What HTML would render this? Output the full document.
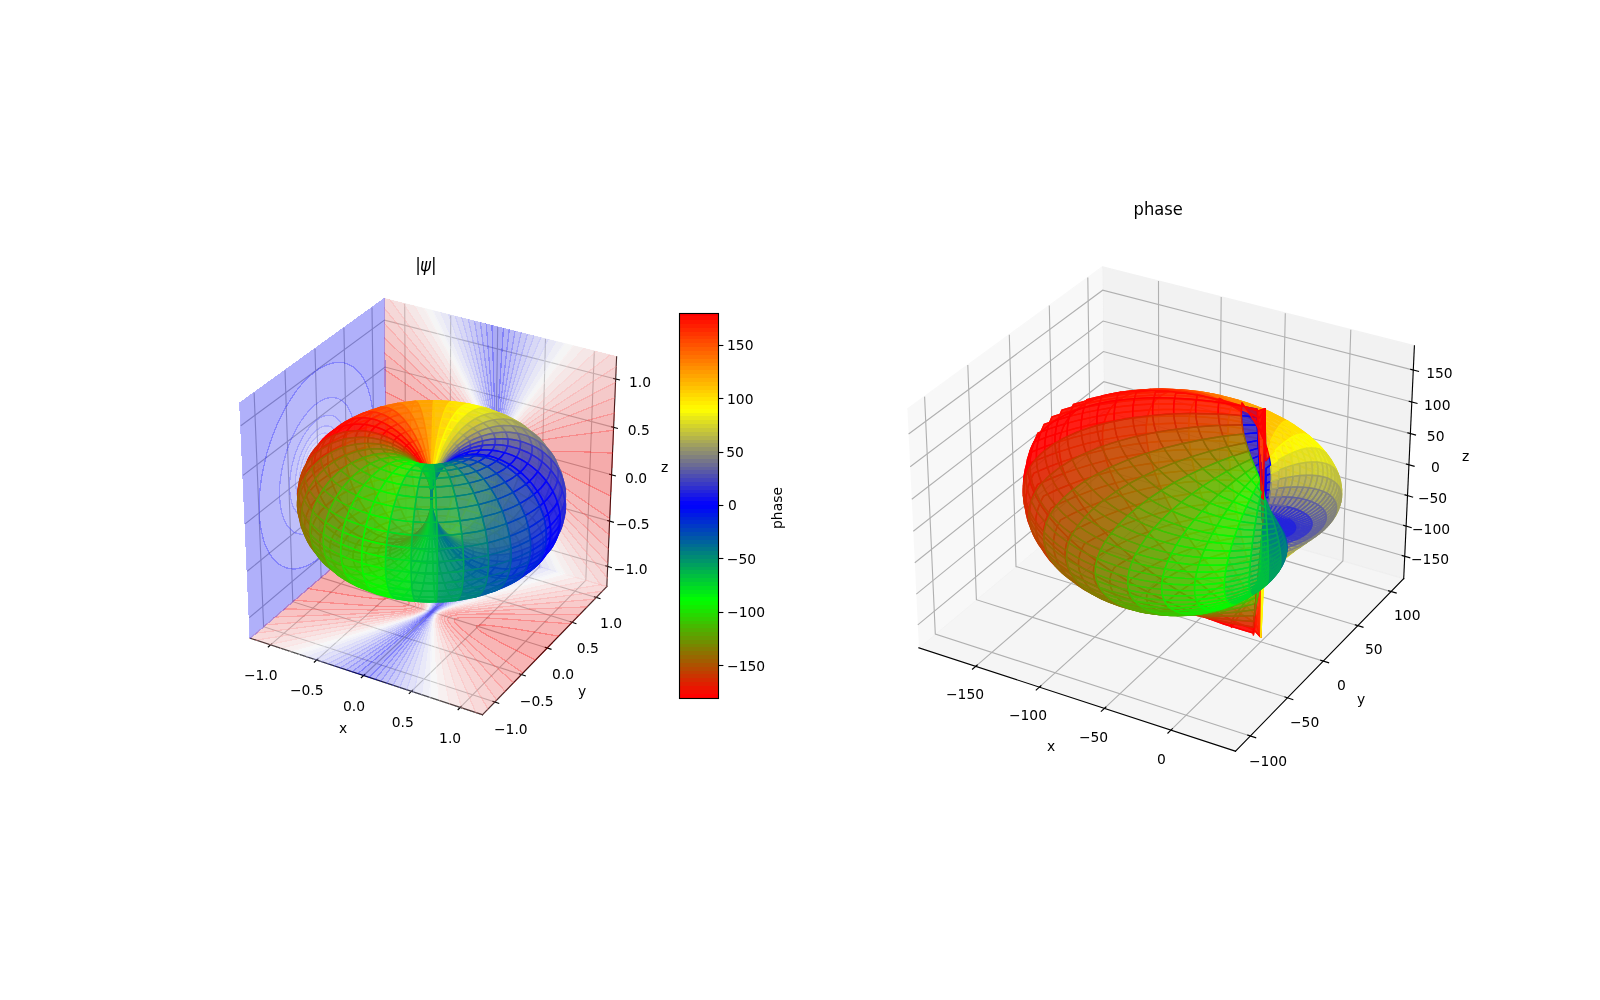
<!DOCTYPE html>
<html><head><meta charset="utf-8"><title>psi phase plot</title>
<style>
html,body{margin:0;padding:0;background:#fff;overflow:hidden}
body{position:relative;width:1600px;height:1000px}
svg{display:block}
.T{position:absolute;left:0;top:0;will-change:transform}
svg{font-family:"DejaVu Sans","Liberation Sans",sans-serif;font-size:13.889px}
text{fill:#000}
.S path{fill-opacity:.7;stroke-width:1.389;stroke-linejoin:round}
.C path{opacity:.3;stroke-width:1.3;shape-rendering:crispEdges}
.a{fill:#ffa500;stroke:#ffa500}
.b{fill:#ffc400;stroke:#ffc400}
.c{fill:#ff8600;stroke:#ff8600}
.d{fill:#ffe300;stroke:#ffe300}
.e{fill:#ff7100;stroke:#ff7100}
.f{fill:#fcfc03;stroke:#fcfc03}
.g{fill:#ff4800;stroke:#ff4800}
.h{fill:#dede21;stroke:#dede21}
.i{fill:#ff2900;stroke:#ff2900}
.j{fill:#bfbf40;stroke:#bfbf40}
.k{fill:#ff0a00;stroke:#ff0a00}
.l{fill:#a0a05f;stroke:#a0a05f}
.m{fill:#f00;stroke:#f00}
.n{fill:#81817e;stroke:#81817e}
.o{fill:#d62900;stroke:#d62900}
.p{fill:#62629d;stroke:#62629d}
.q{fill:#c13e00;stroke:#c13e00}
.r{fill:#b74800;stroke:#b74800}
.s{fill:#3939c6;stroke:#3939c6}
.t{fill:#986700;stroke:#986700}
.u{fill:#2424db;stroke:#2424db}
.v{fill:#837c00;stroke:#837c00}
.w{fill:#0505fa;stroke:#0505fa}
.x{fill:#0005fa;stroke:#0005fa}
.y{fill:#5aa500;stroke:#5aa500}
.z{fill:#0024db;stroke:#0024db}
.aa{fill:#3bc400;stroke:#3bc400}
.ab{fill:#0043bc;stroke:#0043bc}
.ac{fill:#1ce300;stroke:#1ce300}
.ad{fill:#00629d;stroke:#00629d}
.ae{fill:#08f700;stroke:#08f700}
.af{fill:#00817e;stroke:#00817e}
.ag{fill:#00de21;stroke:#00de21}
.ah{fill:#00a05f;stroke:#00a05f}
.ai{fill:#00bf40;stroke:#00bf40}
.aj{fill:#46b900;stroke:#46b900}
</style></head>
<body>
<svg width="1600" height="1000" viewBox="0 0 1600 1000">
<defs><linearGradient id="cb" x1="0" y1="0" x2="0" y2="1"><stop offset="0" stop-color="#f00"/><stop offset=".25" stop-color="#ff0"/><stop offset=".5" stop-color="#00f"/><stop offset=".75" stop-color="#0f0"/><stop offset="1" stop-color="#f00"/></linearGradient></defs>
<path fill="#f2f2f2" opacity="0.5" stroke="#f2f2f2" stroke-width="1.389" stroke-linejoin="miter" d="M250.2 638.2l136.4-116.8-2.4-222.7-144.4 104.3"/>
<path fill="#e6e6e6" opacity="0.5" stroke="#e6e6e6" stroke-width="1.389" stroke-linejoin="miter" d="M386.6 521.4l220.2 65.1 9.8-229.7-232.4-58.1"/>
<path fill="#ececec" opacity="0.5" stroke="#ececec" stroke-width="1.389" stroke-linejoin="miter" d="M250.2 638.2l232.3 76.5 124.3-128.2-220.2-65.1"/>
<path fill="none" stroke="#b0b0b0" stroke-width="1.111" d="M270.6 644.9l135.4-117.8-1.3-223.3"/>
<path fill="none" stroke="#b0b0b0" stroke-width="1.111" d="M316.6 660.1l133.2-120 .9-224.7"/>
<path fill="none" stroke="#b0b0b0" stroke-width="1.111" d="M363.6 675.5l130.7-122.3 3.4-226.1"/>
<path fill="none" stroke="#b0b0b0" stroke-width="1.111" d="M411.4 691.3l128.2-124.6 5.9-227.6"/>
<path fill="none" stroke="#b0b0b0" stroke-width="1.111" d="M460.3 707.4l125.5-127.1 8.5-229"/>
<path fill="none" stroke="#b0b0b0" stroke-width="1.111" d="M254.1 392.7l9.5 234 231.2 75.3"/>
<path fill="none" stroke="#b0b0b0" stroke-width="1.111" d="M285 370.3l7.8 231.4 228.7 72.9"/>
<path fill="none" stroke="#b0b0b0" stroke-width="1.111" d="M315 348.7l6.1 228.8 226.1 70.5"/>
<path fill="none" stroke="#b0b0b0" stroke-width="1.111" d="M343.9 327.8l4.6 226.2 223.7 68.3"/>
<path fill="none" stroke="#b0b0b0" stroke-width="1.111" d="M372 307.6l3 223.7 221.3 66.2"/>
<path fill="none" stroke="#b0b0b0" stroke-width="1.111" d="M607.7 566.5l-221.3-64.6-137.1 115.8"/>
<path fill="none" stroke="#b0b0b0" stroke-width="1.111" d="M609.6 521.1l-223.7-63.2-138.7 113.4"/>
<path fill="none" stroke="#b0b0b0" stroke-width="1.111" d="M611.6 474.8l-226.1-61.9-140.4 111"/>
<path fill="none" stroke="#b0b0b0" stroke-width="1.111" d="M613.6 427.4l-228.6-60.4-142 108.4"/>
<path fill="none" stroke="#b0b0b0" stroke-width="1.111" d="M615.6 379l-231.1-58.9-143.7 105.6"/>
<path fill="none" stroke="#000" stroke-width="1.111" stroke-linecap="square" d="M250.2 638.2l232.3 76.5"/>
<path fill="none" stroke="#000" stroke-width="1.111" stroke-linecap="square" d="M271.8 643.9l-3.5 3"/>
<path fill="none" stroke="#000" stroke-width="1.111" stroke-linecap="square" d="M317.8 659l-3.5 3.1"/>
<path fill="none" stroke="#000" stroke-width="1.111" stroke-linecap="square" d="M364.7 674.5l-3.4 3.1"/>
<path fill="none" stroke="#000" stroke-width="1.111" stroke-linecap="square" d="M412.6 690.2l-3.4 3.3"/>
<path fill="none" stroke="#000" stroke-width="1.111" stroke-linecap="square" d="M461.4 706.3l-3.3 3.3"/>
<path fill="none" stroke="#000" stroke-width="1.111" stroke-linecap="square" d="M606.8 586.5l-124.3 128.2"/>
<path fill="none" stroke="#000" stroke-width="1.111" stroke-linecap="square" d="M492.9 701.4l5.8 1.9"/>
<path fill="none" stroke="#000" stroke-width="1.111" stroke-linecap="square" d="M519.6 674l5.7 1.8"/>
<path fill="none" stroke="#000" stroke-width="1.111" stroke-linecap="square" d="M545.3 647.4l5.7 1.8"/>
<path fill="none" stroke="#000" stroke-width="1.111" stroke-linecap="square" d="M570.3 621.7l5.6 1.8"/>
<path fill="none" stroke="#000" stroke-width="1.111" stroke-linecap="square" d="M594.4 596.9l5.6 1.7"/>
<path fill="none" stroke="#000" stroke-width="1.111" stroke-linecap="square" d="M606.8 586.5l9.8-229.7"/>
<path fill="none" stroke="#000" stroke-width="1.111" stroke-linecap="square" d="M605.8 565.9l5.6 1.7"/>
<path fill="none" stroke="#000" stroke-width="1.111" stroke-linecap="square" d="M607.7 520.6l5.7 1.6"/>
<path fill="none" stroke="#000" stroke-width="1.111" stroke-linecap="square" d="M609.7 474.3l5.7 1.5"/>
<path fill="none" stroke="#000" stroke-width="1.111" stroke-linecap="square" d="M611.7 426.9l5.7 1.5"/>
<path fill="none" stroke="#000" stroke-width="1.111" stroke-linecap="square" d="M613.7 378.5l5.8 1.4"/>
<g class="C">
<path fill="#0c0cff" stroke="#0c0cff" d="M489 549.5l5.4-84.2 1.1-22.3-.4-22.9-3.1-94.4 11.4 2.8-5.9 92.3-1.1 22.5 .4 22.7 2.9 88.8-10.8-3.2z"/>
<path fill="#2424ff" stroke="#2424ff" d="M483.7 547.9l9.7-84.3 1.1-11.8 .5-8.9-.2-9.2-.8-12.4-7.8-97.1 5.8 1.5 3.1 94.4 .4 22.9-1.1 22.3-5.5 86.3-5.5-1.6zM497.4 486.3l-1-34 .1-13.5 1.4-24.8 5.5-85.5 5.8 1.5-10.7 92.5-1.3 14.2-.4 9 1.1 19.1 7.3 91.7-5.5-1.7z"/>
<path fill="#3c3cff" stroke="#3c3cff" d="M478.3 546.3l13.7-81.7 1.9-13 .7-8.8-.4-9.2-1.6-14.2-12.2-96.6 5.8 1.4 7.8 97.1 .8 12.4 .2 9.2-.5 8.9-1.1 11.8-10 86.4-5.5-1.6zM497.8 464l-1-18.3 .5-11.3 2.9-26.7 9-77.7 5.8 1.4-15.4 92.2-1.9 13.2-.4 9 .7 10.2 2 17.3 10.7 84.8-5.5-1.6z"/>
<path fill="#5454ff" stroke="#5454ff" d="M472.4 546.5l18.7-83.9 2.5-13.3 .5-6.7-.3-6.9-2.1-14.6-17.2-99.8 5.9 1.5 12.2 96.6 1.6 14.2 .4 9.2-.7 8.8-1.9 13-14.1 83.8-5.6-1.7zM497.9 455l-.5-6.9-.1-4.6 .2-4.5 .9-7.6 5.1-31.7 11.5-68.3 6.1 1.5-20.3 90.6-2.5 13.5-.5 6.6 .3 7 2 14.5 16.3 94.7-5.7-1.7-8.7-68.8z"/>
<path fill="#6c6cff" stroke="#6c6cff" d="M467.1 543l21.7-76.6 3.7-15.1 .8-4.3 .3-4.5-.2-4.6-.6-4.7-3.3-17.3-21.1-96.1 6.1 1.5 17.2 99.8 2.1 14.6 .3 6.9-.5 6.7-2.5 13.3-18.8 84.1-5.8-1.7zM498.1 450.5l-.3-4.6 0-4.5 .5-4.4 1.5-8.7 6-27.5 15.3-67.9 6.2 1.6-24.2 85-3.8 15.5-.7 4.3-.4 4.5 .2 4.6 .7 4.7 3.2 17.1 20 91.3-5.9-1.7-14.2-82.3-2.5-15.2z"/>
<path fill="#8686ff" stroke="#8686ff" d="M461.2 541.3l18.4-52.5 9.3-27.5 2.9-10.2 .9-4.3 .4-4.4-.3-4.6-.7-4.8-2.7-11.9-8.7-33.4-18.6-69.5 6.3 1.6 21.1 96.1 3.3 17.3 .6 4.7 .2 4.6-.3 4.5-.8 4.3-3.7 15.1-22.3 78.6-5.9-1.8zM499.9 457.8l-1.2-7.1-.4-4.6-.1-2.3 .4-4.5 2.1-10.4 4.9-18.2 21.7-76.2 6.5 1.6-21 60-9.7 28.7-3.1 10.4-.8 4.3-.4 4.4 .2 4.6 .8 4.8 2.6 11.8 8.5 32.6 17.6 65.7-6.2-1.9-15.8-71.8z"/>
<path fill="#9e9eff" stroke="#9e9eff" d="M455 539.8l22.4-53.5 9.2-22.7 2.3-6.1 2.4-7.1 .8-3.8 .5-4.4-.3-4.6-.8-4.2-4.3-15.9-8.7-28.4-23-72.6 6.6 1.7 18.6 69.5 8.7 33.4 2.7 11.9 .7 4.8 .3 4.6-.4 4.4-.9 4.3-2.9 10.2-9.3 27.5-19 54.4-6.3-1.8zM500.2 455.6l-.9-4.7-.5-4.7 0-2.3 .4-4.4 1.4-6.8 7.3-22.4 25.9-74.2 6.8 1.7-25.6 60.9-9.6 23.7-2.4 6.3-2.4 7.2-.8 3.7-.5 4.5 .3 4.6 .7 4.1 4.3 15.8 8.5 27.8 21.8 68.9-6.4-1.9-21.9-81.8z"/>
<path fill="#b6b6ff" stroke="#b6b6ff" d="M448.5 537.8l26.7-53.9 11.5-24.1 2.3-5.4 2-5.8 .5-2.1 .5-4.4-.3-4.7-.5-2.4-1.9-6.9-2.1-6.7-11-31.1-27.6-75.5 6.9 1.7 23 72.6 8.7 28.4 4.3 15.9 .8 4.2 .3 4.6-.5 4.4-.8 3.8-2.4 7.1-2.3 6.1-9.2 22.7-23.1 55.1-6.6-2zM500 451.1l-.6-4.7 0-4.6 1.2-5.9 2.4-7.2 9.6-24.1 28-66.8 7.2 1.8-30.5 61.6-12 25.1-2.4 5.5-2 5.9-.6 2.1-.5 4.4 .4 4.6 .5 2.4 1.8 6.9 2.2 6.7 10.7 30.5 26.4 72-6.9-2-28.2-89.6-4.2-14.5z"/>
<path fill="#ceceff" stroke="#ceceff" d="M441.7 535.5l29-50.1 13.7-24.3 2.3-4.5 2.8-6.2 1.4-4.1 .4-2.1 .2-2.3-.5-4.6-1.3-4.9-4.8-13.6-13.2-32.6-30.6-73.3 7.5 1.9 27.6 75.5 11 31.1 2.1 6.7 1.9 6.9 .5 2.4 .3 4.7-.5 4.4-.5 2.1-2 5.8-2.3 5.4-11.5 24.1-27.5 55.5-7.1-2zM500.2 448.8l-.4-4.6 .7-5.3 2.4-7.1 2.4-5.5 12-25.1 30.5-61.6 7.8 2-33.6 57.8-14.4 25.5-2.3 4.6-2.9 6.3-1.4 4.2-.4 2.1-.2 2.3 .5 4.6 1.2 4.9 4.8 13.5 13 32 29.2 70.1-7.3-2.2-32.8-90-6.5-19.2z"/>
<path fill="#e6e6ff" stroke="#e6e6ff" d="M433.4 534.5l32.9-48.7 15.8-24.1 4.6-7.8 2.4-4.6 1-3.2 .7-4.4-.6-4.6-.9-3.8-2.2-6-4.4-10.3-15.5-33.8-34.1-72.3 8 2 30.6 73.3 13.2 32.6 4.8 13.6 1.3 4.9 .5 4.6-.2 2.3-.4 2.1-1.4 4.1-2.8 6.2-2.3 4.5-13.7 24.3-30.1 52-7.6-2.3zM500.4 444.4l.2-2.3 .4-2.1 1.4-4.2 2.9-6.3 2.3-4.6 14.4-25.5 33.6-57.8 8.4 2.1-37.4 55.2-16.7 25.4-4.7 8-2.3 4.7-1.1 3.2-.7 4.4 .5 4.6 1 3.8 2.2 5.9 4.3 10.3 15.3 33.1 32.7 69.5-8-2.3-29.2-70.1-13-32-4.8-13.5-1.2-4.9z"/>
<path fill="#fefeff" stroke="#fefeff" d="M424.8 532.4l39.3-50 11.3-14.6 6.8-9.3 4.6-7 1.8-3.6 .8-2 .7-4.4-.6-4.7-1.7-5-3-7-4.4-9.1-15.5-30.1-40.6-76.9 8.8 2.2 34.1 72.3 15.5 33.8 4.4 10.3 2.2 6 .9 3.8 .6 4.6-.7 4.4-1 3.2-2.4 4.6-4.6 7.8-15.8 24.1-33.3 49.3-8.4-2.5zM502.2 451.7l-1-4.8-.1-2.3 .7-4.4 1.1-3.2 2.3-4.7 4.7-8 21.6-32.6 32.5-48 9.3 2.3-44.4 56.4-16.7 21.9-4.7 6.7-3.2 5.3-1.8 4.1-.5 2.1-.2 2.3 .6 4.6 1.6 5 3 7 4.4 9 15.3 29.8 39.2 74.2-8.8-2.6-43.6-92.9-8.7-20z"/>
<path fill="#ffe6e6" stroke="#ffe6e6" d="M416.3 528.8l43.4-47.3 11.2-12.5 9-10.5 4.6-5.8 2.3-3.5 1.7-3.6 .6-2 .2-2.3-.1-2.3-.6-2.4-1.6-4.5-4.4-9-4.4-8.1-22.3-38.5-41.4-70.2 9.8 2.4 40.6 76.9 15.5 30.1 4.4 9.1 3 7 1.7 5 .6 4.7-.7 4.4-.8 2-1.8 3.6-4.6 7-6.8 9.3-11.3 14.6-39.5 50.2-9.3-2.7zM502.4 449.4l-.6-4.6 .2-2.3 .5-2.1 2.7-5.7 2.3-3.7 7.1-9.9 9.5-12.5 49-62.3 .2-.3 10.5 2.6-45.5 49.5-23.8 26.6-4.7 5.7-4.7 6.7-1.7 3.5-.6 2.1-.3 2.3 .2 2.3 .6 2.4 1.5 4.5 4.4 9 4.4 8 22 38 40.2 68.2-9.9-3-34.8-65.9-17.5-33.7-4.4-8.8-4.4-9.5z"/>
<path fill="#ffcece" stroke="#ffcece" d="M405.7 525.9l49.6-46.2 15.6-14.9 6.8-6.8 4.5-4.9 2.3-2.8 2-3 1-1.9 .6-2.1 .3-2.2-.2-2.3-.6-2.5-.6-1.7-2.2-4.8-4.4-7.9-4.5-7.3-22.3-34.6-50.3-76.5 11.2 2.8 41.4 70.2 22.3 38.5 4.4 8.1 4.4 9 1.6 4.5 .6 2.4 .1 2.3-.2 2.3-.6 2-1.7 3.6-2.3 3.5-4.6 5.8-9 10.5-11.2 12.5-44.4 48.4-10.6-3.2zM502.7 447.3l-.2-2.3 .3-2.3 1.5-4.1 3.2-5.1 4.7-6 9.4-10.9 11.9-13.2 50.3-54.8 12 3-55.2 51.3-23.8 22.7-4.7 4.9-4.7 5.4-2.3 3.6-.6 1.4-.7 2.1-.3 2.2 .2 2.3 .6 2.5 .6 1.7 2.2 4.8 4.4 7.9 4.4 7.2 22.1 34.3 49.2 74.8-11.4-3.3-40.2-68.2-22-38-4.4-8-4.4-9-1.5-4.5z"/>
<path fill="#ffb6b6" stroke="#ffb6b6" d="M392.9 522.6l55.8-43.7 24.5-19.9 6.8-6.1 4.6-5 2.3-4.2 .5-2.9-.4-3.2-2.2-5.4-4.5-7.5-6.6-10-24.6-34.2-58.8-80.3 13 3.3 50.3 76.5 22.3 34.6 4.5 7.3 4.4 7.9 2.2 4.8 .6 1.7 .6 2.5 .2 2.3-.3 2.2-.6 2.1-1 1.9-2 3-2.3 2.8-4.5 4.9-6.8 6.8-15.6 14.9-50.6 47-12.3-3.6zM504.3 450l-.6-2.5-.2-2.3 .3-2.2 .7-2.1 .6-1.4 2.3-3.6 4.7-5.4 9.4-9.5 14.3-13.6 60-55.8 14.1 3.6-64.7 50.6-26.1 21.2-7 6.3-4.7 5.1-2.4 4.2-.5 2.9 .4 3.2 2.2 5.4 4.4 7.5 6.7 9.9 24.4 34 58 79.2-13.4-4-42.6-64.7-24.3-37.4-11-18-2.2-4.1-2.2-4.8z"/>
<path fill="#ff9e9e" stroke="#ff9e9e" d="M386.6 519.3l-.1-6.5 57.9-37.5 15.4-10.2 11.2-7.8 6.8-5.1 4.5-4.2 2.6-3.3 .8-2.1 .4-2.2-.3-2.3-.8-2.5-2.5-4.8-4.4-6.6-6.7-8.9-26.8-33.5-60.3-73.7-.1-9.4 6.1 1.5 63.3 86.4 17.8 24.9 8.9 13.2 2.2 3.5 2.8 5.2 1.7 4.2 .4 3.2-.5 2.9-2.3 4.2-4.6 5-4.5 4.2-9 7.6-15.6 12.5-55.9 43.8-2.6 2.1-5.8-1.7zM504.7 447.8l-.2-2.3 .3-2.2 .8-2.1 1.8-2.8 2.3-2.8 4.7-4.5 14.1-12 28.7-22.8 52.7-41.1 6.7 1.6-.4 9.8-64 41.4-19.1 12.6-11.7 8.1-7 5.3-4.7 4.2-2.7 3.4-.8 2.1-.4 2.2 .3 2.3 .8 2.5 2.5 4.8 4.4 6.6 6.7 8.9 26.7 33.5 60 73.3-.4 8.7-6.2-1.8-.6-.8-53-72.3-26.6-36.9-6.6-9.7-4.5-6.9-2.7-5.2-1.1-2.6z"/>
<path fill="#ff8686" stroke="#ff8686" d="M386.5 510.8l-.1-11.9 55.8-29.1 15.4-8.4 11.2-6.3 6.7-4.2 4.6-3.4 3-3.4 1-1.9 .4-2.2-.3-2.3-1-2.6-2.9-4.9-4.5-5.9-6.7-8-26.7-29.9-57.9-63-.2-15.3 60.3 73.7 26.8 33.5 6.7 8.9 4.4 6.6 2.5 4.8 .8 2.5 .3 2.3-.4 2.2-.8 2.1-2.6 3.3-4.5 4.2-9 6.7-26.6 17.9-55.7 36zM506.9 450.7l-.8-2.5-.3-2.3 .4-2.2 .8-2.1 2.7-3.4 2.3-2.2 4.7-3.8 11.7-8.4 16.6-11.1 71.2-46.1-.7 15.7-63.5 33.1-16.6 8.9-11.8 6.7-7 4.3-4.6 3.5-3.1 3.3-1.1 2-.4 2.2 .3 2.4 1 2.5 2.9 4.9 4.5 6 6.7 8 26.8 30 58.2 63.3-.6 14.4-53.4-65.1-26.6-33.1-13.4-17.5-4.4-6.6z"/>
<path fill="#ff6c6c" stroke="#ff6c6c" d="M386.4 498l-.2-12.9 53.8-21.4 15.4-6.4 11.2-5 6.7-3.4 5.5-3.7 1.9-1.7 1.2-1.9 .5-2.2-.5-2.4-1.1-2.5-1.8-2.8-5.4-6.7-6.7-7.1-26.8-26.5-55.4-53.2-.2-14.8 57.9 63 26.7 29.9 6.7 8 4.5 5.9 2.9 4.9 1 2.6 .3 2.3-.4 2.2-1 1.9-3 3.4-4.6 3.4-6.7 4.2-17.8 9.9-34.9 18.4-29.7 15.5zM508.7 451.2l-1-2.5-.3-2.4 .4-2.2 1.1-2 3.1-3.3 7-5 11.7-6.9 16.5-9 68.3-35.6-.7 15.4-60.7 24-16.5 6.9-11.7 5.2-7 3.5-5.7 3.7-1.9 1.8-1.2 1.9-.5 2.2 .4 2.4 1.2 2.6 1.7 2.7 5.5 6.7 6.7 7.2 26.9 26.7 56.4 54-.6 14.2-49.3-53.5-29-32.2-13.4-15.6-4.5-6z"/>
<path fill="#ff5454" stroke="#ff5454" d="M386.2 483l-.1-12.1 49.5-13.4 15.4-4.4 11.2-3.6 6.7-2.5 5.9-2.9 2.2-1.6 .9-1 .6-.9 .5-2.1-.5-2.4-.5-1.1-3.1-4.4-5.8-6.2-6.7-6.2-26.7-22.9-50.9-42-.1-15.1 55.4 53.2 26.8 26.5 6.7 7.1 5.4 6.7 1.8 2.8 1.1 2.5 .5 2.4-.5 2.2-1.2 1.9-2.9 2.6-6.7 4-9 4.3-26.5 11.1-49.4 19.6zM511.2 451.9l-1.2-2.6-.4-2.4 .5-2.2 1.8-2.5 2.3-2 7-4.1 11.7-5.5 16.5-6.9 65.4-26-.6 15.5-55.5 15-16.6 4.8-11.7 3.6-7 2.6-6 3-2.3 1.6-1 1-.6 .9-.5 2.1 .4 2.4 .6 1.2 3.1 4.4 5.9 6.2 6.7 6.2 27.1 23.2 52.2 43.2-.6 14.6-49.6-47.5-27-26.3-13.4-14.1-4.5-5.3z"/>
<path fill="#ff3c3c" stroke="#ff3c3c" d="M386.1 470l-.2-14.7 43.2-5.8 15.3-2.3 11.1-2.1 8-1.8 3.7-1.3 1.7-.7 1.3-.7 2-1.7 .8-2-.7-2.5-2-2.8-1.3-1.3-5.4-5-7.9-6.3-11.1-8.2-15.6-10.9-44-30.2-.2-16.4 50.9 42 26.7 22.9 6.7 6.2 5.8 6.2 3.1 4.4 .5 1.1 .5 2.4-.5 2.1-.6 .9-.9 1-2.2 1.6-5.9 2.9-6.7 2.5-20 6.1-34.8 9.7-21.3 5.6zM513.4 450.2l-.4-2.4 .5-2.1 1.6-1.9 3.7-2.4 7-3.1 11.6-3.9 16.5-4.9 60.3-16.3-.7 17-48 6.3-16.5 2.5-11.7 2.1-8.3 1.9-3.9 1.3-1.8 .8-1.3 .6-2.1 1.7-.8 2.1 .7 2.5 2 2.8 1.3 1.4 5.4 5 8.1 6.4 11.4 8.3 15.9 11.2 45.8 31.4-.7 16.1-47.7-39.4-27.1-23-9-8.1-5.4-5.3-3.6-4.1-1.3-1.8z"/>
<path fill="#ff2424" stroke="#ff2424" d="M385.9 454.8l-.2-21.1 31.7 1.3 16.7 .2 7-.3 5.8-.7 3.8-1.2 1.3-1.9-1.3-2.6-3.8-3.3-5.7-3.8-7.1-4.2-16.8-9-32.1-16.2-.2-22.3 44 30.2 15.6 10.9 11.1 8.2 7.9 6.3 5.4 5 1.3 1.3 2 2.8 .7 2.5-.8 2-1 1-1 .7-3 1.4-3.7 1.3-8.8 2-14.7 2.6-21.8 3.1-32.3 4.3zM519.8 452l-.7-2.5 .8-2.1 2.1-1.7 3.6-1.6 7.8-2.2 9.8-1.9 16.2-2.6 54.1-7.2-1 22.9-34.9-1.5-17.9-.2-7.6 .2-6 .7-4 1.2-1.4 1.9 1.3 2.6 3.8 3.4 6 3.9 7.3 4.3 17.5 9.4 34.1 17.2-1 22.3-41.3-28.3-27.2-19.3-8.4-6.3-7.5-6.2-3.5-3.6z"/>
<path fill="#ff0c0c" stroke="#ff0c0c" d="M385.7 432.9l-.5-40.9 32.1 16.2 16.8 9 7.1 4.2 5.7 3.8 3.8 3.3 1.3 2.6-1.3 1.9-3.8 1.2-5.8 .7-7 .3-16.7-.2-28-1.1-3.7-.2zM540.7 455.4l1.4-1.9 4-1.2 6-.7 7.6-.2 17.9 .2 34.9 1.5-1.8 43.1-34.1-17.2-17.5-9.4-7.3-4.3-6-3.9-3.8-3.4z"/>
</g>
<g class="C">
<path fill="#0c0cff" stroke="#0c0cff" d="M359.4 672.4l57.8-48.6 13.9-12 12.2-12.4 45.6-47.8 10.8 3.2-54 45.4-13.7 11.9-12.4 12.5-50.3 52.8-11.4-3.8z"/>
<path fill="#2424ff" stroke="#2424ff" d="M353.8 670.5l63.2-47.8 12.3-9.9 5-4.9 7.1-8 42-49.9 5.5 1.6-49.2 51.5-7.3 7.5-5.3 4.8-69.2 58.2-5.8-1.9zM408.5 636.2l18.4-19.2 7.8-7.4 65-54.8 5.5 1.7-59.3 44.8-7.9 6.1-5.5 4.8-4.9 5-6.1 6.9-46.4 55.2-5.8-1.9z"/>
<path fill="#3c3cff" stroke="#3c3cff" d="M348.1 668.6l61.9-42.3 12.2-8.4 6.6-5.2 5-5 5.1-6.4 39-52.9 5.5 1.6-42 49.9-7.1 8-5 4.9-12.3 9.9-64.9 49-5.8-1.9zM421.9 623.7l9.3-10.3 6.8-6 67.2-50.9 5.5 1.6-62.6 42.8-9.4 6.7-5.8 4.7-4.7 5.1-6.2 8-41.1 55.8-5.8-1.9z"/>
<path fill="#5454ff" stroke="#5454ff" d="M340.6 667.7l74.3-45.9 8.8-5.8 4.7-3.4 2.6-2.5 2.2-2.5 5.8-8.2 33.3-52.7 5.6 1.7-39 52.9-5.1 6.4-5 5-6.6 5.2-12.2 8.4-63.7 43.5-5.9-1.9zM427.2 618.7l3.3-3.9 2.4-2.5 2.8-2.3 5.2-4 69.8-47.9 5.7 1.7-68.5 42.4-10.2 6.8-4.3 3.5-3.5 3.8-5.9 8.3-37 58.6-6.1-2 31.3-42.5z"/>
<path fill="#6c6cff" stroke="#6c6cff" d="M336.3 664.8l73.7-41.2 13-7.8 3.4-2.2 2.9-2.4 2.3-2.5 1.9-2.7 5.8-9.7 27.2-51.3 5.8 1.7-33.3 52.7-5.8 8.2-2.2 2.5-2.6 2.5-4.7 3.4-8.8 5.8-74.5 46.1-6.1-2zM429.9 616.3l2.2-2.6 2.6-2.4 3-2.3 6.6-4.5 21.4-13.4 50.7-31.3 5.9 1.7-69.5 39-12.8 7.6-3.3 2.2-2.9 2.3-2.3 2.6-1.9 2.6-6 10.1-30.4 57.4-6.2-2.1 32.3-51.2 5.8-9z"/>
<path fill="#8686ff" stroke="#8686ff" d="M330.2 662.7l82.8-42 9.3-5.1 3.5-2.2 2.9-2.4 2.3-2.5 1.8-2.7 3.5-6.8 8.4-18.7 15.9-37.1 5.9 1.8-21.2 40.2-9.4 17-4.3 6.5-3.7 3.7-6.6 4.5-11.3 6.7-75.7 42.3-6.3-2.1zM427.8 620.6l3.7-5.4 3.7-3.8 6.5-4.4 11.1-6.5 69.5-39 6.2 1.9-78.7 39.8-9.1 5.1-3.4 2.2-2.9 2.3-2.3 2.6-1.8 2.7-3.6 6.9-8.9 19.9-18.1 42.5-6.5-2.1 24.1-45.7z"/>
<path fill="#9e9eff" stroke="#9e9eff" d="M323.4 660.8l85.6-39.2 13.1-6.5 3.1-1.9 3-2.3 2.2-2.6 1.5-2.3 2.2-4.9 1.7-4.3 5.6-16.2 12.9-39.2 6.3 1.8-15.9 37.1-8.4 18.7-3.5 6.8-1.8 2.7-2.3 2.5-2.9 2.4-3.5 2.2-9.3 5.1-85 43.1-6.6-2.2zM429.5 619.4l1.7-2.7 2-2.6 1.2-1.3 2.9-2.3 5.4-3.4 13.9-7.4 71.9-36.3 6.4 1.9-81.1 37-12.9 6.5-3 1.8-3 2.4-2.2 2.5-1.5 2.4-2.3 5-1.7 4.5-5.9 17.2-14.8 45.1-6.8-2.3 22.4-52.4 4.6-10z"/>
<path fill="#b6b6ff" stroke="#b6b6ff" d="M316.5 658.5l67-27.3 27.8-11.7 11.5-5.4 1.8-1.1 3-2.3 2.2-2.6 .8-1.3 1.7-4 1.3-4 4.5-17.9 9.6-41.5 6.6 2-12.9 39.2-5.6 16.2-1.7 4.3-2.2 4.9-1.5 2.3-2.2 2.6-3 2.3-3.1 1.9-13.1 6.5-87.6 40-6.9-2.3zM431.8 616.9l1.9-2.7 2.6-2.4 4.6-3 6.7-3.5 23.8-11.1 61.8-28.2 1.7-.7 6.9 2-63.4 25.9-26.8 11.2-11.3 5.4-1.8 1-3 2.3-2.2 2.6-.8 1.4-1.8 4.1-1.2 4-4.8 19.1-11 47.7-7.2-2.3 19.2-58 3.2-8.8z"/>
<path fill="#ceceff" stroke="#ceceff" d="M309.6 656l67.6-24.7 30.7-11.4 12.1-5.1 3.9-2 3.2-2.3 2-2.6 1.4-2.8 1.3-4.6 .7-3.4 2.9-19.1 5.2-40.6 7.1 2-9.6 41.5-4.5 17.9-1.3 4-1.7 4-.8 1.3-2.2 2.6-3 2.3-1.8 1.1-11.5 5.4-27.8 11.7-69 28.1-7.5-2.4zM433.3 615.7l2.2-2.6 3.7-2.8 6.7-3.3 5.7-2.6 26.8-11.2 63.4-25.9 7.3 2.2-64.6 23.5-29.5 11-11.9 5-3.9 2-3.2 2.3-2 2.6-1.3 2.9-1.4 4.7-.7 3.5-3 20.4-6.1 47.2-7.8-2.6 13.7-59.1 3.3-11.7z"/>
<path fill="#e6e6ff" stroke="#e6e6ff" d="M299.9 654l71.8-23.2 33.2-11 9.9-3.5 5.3-2.2 3.1-1.5 3.2-2.3 2-2.6 1-2.2 .8-3.5 .7-6.2 1-20 1.1-40.7 7.6 2.3-5.2 40.6-2.9 19.1-.7 3.4-1.3 4.6-1.4 2.8-2 2.6-3.2 2.3-3.9 2-12.1 5.1-30.7 11.4-70.2 25.6-8-2.7zM436 613.3l3.2-2.3 3.9-2 11.9-5 29.5-11 64.6-23.5 8 2.3-67.1 21.7-32.1 10.6-9.7 3.5-5.3 2.1-3 1.6-3.2 2.2-2 2.7-1 2.2-.8 3.6-.7 6.4-1 21.4-1.3 47.6-8.4-2.8 6.1-47.2 3-20.4 .7-3.5 1.4-4.7 1.3-2.9z"/>
<path fill="#fefeff" stroke="#fefeff" d="M290.6 651.2l80.6-22.7 31.1-9 9.1-2.9 6.7-2.4 4.3-1.9 3.3-2.2 2-2.6 .5-1.5 .6-2.7 .3-5.8-.2-8.1-.8-12.8-3.5-44 8.4 2.5-1.1 40.7-1 20-.7 6.2-.8 3.5-1 2.2-2 2.6-3.2 2.3-3.1 1.5-5.3 2.2-9.9 3.5-33.2 11-72.7 23.4-8.8-2.9zM434 617.6l1.6-2.8 1.1-1.3 3.2-2.2 3-1.6 10.2-3.9 23.3-7.9 80.7-26.1 8.8 2.6-75.3 21.3-34.5 10.1-9.3 3.1-4.1 1.6-2 1-3.3 2.3-1.9 2.6-.9 3-.5 4.3 0 5.8 1.1 19.4 4.1 51.6-9.4-3.1 1.1-41.4 .8-21.4 1.1-12.6z"/>
<path fill="#ffe6e6" stroke="#ffe6e6" d="M282.3 647.6l84.2-20.4 33.4-8.4 8.6-2.3 9.1-2.8 3.9-1.7 2-1 1.5-1.1 1.1-1.3 .7-1.4 .7-2.7 .1-2.9-.4-5.2-1.4-9.6-2-11.7-8.5-45.2 9.3 2.7 3.5 44 .8 12.8 .2 8.1-.3 5.8-.6 2.7-.5 1.5-2 2.6-3.3 2.2-4.3 1.9-6.7 2.4-9.1 2.9-31.1 9-81 22.8-9.8-3.2zM435.5 616.4l1.9-2.6 3.3-2.3 6.1-2.6 4.8-1.7 30.5-9.1 83.5-23.6 .3-.1 9.9 3-72.5 17.5-40.4 10.2-8.4 2.2-9 2.8-3.9 1.7-2 1-1.4 1.2-1.2 1.3-.6 1.4-.7 2.7 0 5.7 .6 5.2 4.3 25.4 9.1 48.2-10.4-3.4-3.5-43.2-1.5-22.2-.2-11.4 .2-3z"/>
<path fill="#ffcece" stroke="#ffcece" d="M271 644.1l87.4-17.8 39.4-8.3 16.5-4.1 6.2-2.2 2-1 1.5-1.1 1.1-1.3 .7-1.4 .3-1.5 .1-2.5-.3-2.5-.8-4.7-1.7-6.7-4.3-15-14.4-47.3 10.6 3.2 8.5 45.2 2 11.7 1.4 9.6 .4 5.2-.1 2.9-.7 2.7-.7 1.4-1.1 1.3-1.5 1.1-2 1-3.9 1.7-9.1 2.8-8.6 2.3-41.8 10.5-77.7 18.8-11.2-3.7zM437 615.3l1.2-1.3 1.4-1.2 4.1-2 6.4-2.2 8.6-2.4 36.6-9.3 80.5-19.5 11.4 3.3-87.6 17.9-38.6 8.2-8 2-8.2 2.4-4.1 1.9-1.6 1.2-1 1.3-.7 1.4-.3 1.1-.1 2.9 .7 5.1 1 4.8 6.6 23.2 16.5 53.8-12.1-4-9.1-48.2-3.9-22.8-1.1-10.5 .1-3 .7-2.7z"/>
<path fill="#ffb6b6" stroke="#ffb6b6" d="M257.3 640l97.6-16 41.1-7.1 11.5-2.3 8.2-2 5.1-1.8 2.2-1.6 1.3-1.7 .5-3.3-.8-4.8-2.1-6.3-8.7-21.6-20.8-48.4 12.3 3.6 14.4 47.3 4.3 15 1.7 6.7 .8 4.7 .3 2.5-.1 2.5-.3 1.5-.7 1.4-1.1 1.3-1.5 1.1-2 1-6.2 2.2-16.5 4.1-39.4 8.3-89.2 18.1-13-4.2zM437.4 617l.7-1.4 1-1.3 1.6-1.2 1.9-1 6.2-2.2 8.3-2.2 38.7-8.3 91.4-18.7 13.4 4-93.6 15.4-40.1 6.9-11.4 2.2-8.1 2-5 1.9-2.2 1.5-1.4 1.8-.4 3.3 .9 4.9 2.1 6.6 9.5 23.5 25 57.8-14.1-4.6-14.4-46.8-7.4-25.6-1.8-7-1-4.9-.2-2.6 .1-2.9z"/>
<path fill="#ff9e9e" stroke="#ff9e9e" d="M251.7 636.9l4.4-3.8 95.8-11.9 42.5-5.6 10.9-1.7 7.7-1.5 4.9-1.5 2.2-.9 1.6-1.2 1-1.3 .5-1.4-.2-3-1.3-4.3-2.7-5.8-11.6-21.6-25.9-45.7 5.1-4.3 5.8 1.7 20.8 48.4 8.7 21.6 2.1 6.3 .8 4.8-.5 3.3-1.3 1.7-2.2 1.6-5.1 1.8-8.2 2-11.5 2.3-41.1 7.1-97.6 16-1.1 .2-6-2zM439.1 615.9l1.1-1.3 1.5-1.1 2.1-1 3.6-1.3 11.9-2.8 18.6-3.4 122.7-20.3 6.2 1.8-4.6 4.8-91.9 11.4-41.8 5.6-10.8 1.7-7.6 1.5-4.9 1.4-2.1 1-1.6 1.1-1 1.3-.5 1.5 .2 3.1 1.4 4.4 2.8 6 5.1 9.8 8.6 15.6 29.9 52.4-5.5 5.6-6.6-2.2-.3-.6-22.8-53-10.5-25.5-2.4-6.6-1.2-4.5-.3-3.3 .2-1.6z"/>
<path fill="#ff8686" stroke="#ff8686" d="M257.6 631.9l8.1-7 87-7.2 40.4-3.7 10.4-1.2 7.2-1.1 5.4-1.3 2.3-.9 1.7-1.1 1-1.4 .3-1.5-.6-3.1-1.8-3.9-3.1-5.3-13.6-19.9-29.1-40.4 8.3-7.2 21.1 37 11.7 21.1 6.5 13 1.6 4.1 .6 2.2 .2 2.5-.5 1.9-1 1.3-1.6 1.2-2.8 1.2-4.3 1.2-7.7 1.5-14.5 2.2-24.8 3.3-109.9 13.7zM440 617.8l.5-1.5 1-1.3 1.6-1.1 2.1-1 4.9-1.4 11.2-2.1 42.1-5.8 98.8-12.3-7.6 7.9-84.8 7-39.9 3.7-10.3 1.2-7.2 1.1-5.4 1.3-2.3 .9-1.7 1.1-.9 1.3-.3 1.6 .6 3.2 1.9 4 3.3 5.5 6 9 8.7 12.5 34.4 47.5-8.7 9-26.6-46.5-14-25.4-5.8-11.9-1.4-4.4z"/>
<path fill="#ff6c6c" stroke="#ff6c6c" d="M266.3 624.4l8.7-7.4 78.9-3 38.3-1.9 9.8-.8 8.6-1 3.1-.7 2.5-.8 1.8-1.1 .8-1.4 .1-1.6-.4-1.7-2.5-4.5-3.6-4.9-6.4-7.7-9.1-10.4-32-35.5 8.3-7.1 25.7 35.6 13.6 19.6 6.5 10.4 1.8 3.9 .5 2.2-.2 2.4-1 1.4-1.7 1.1-5.1 1.6-9.8 1.7-20.6 2.2-36.8 3.3-80.4 6.6zM441.8 618.4l.3-1.6 .9-1.3 1.7-1.1 2.3-.9 5.4-1.3 10.6-1.6 40.2-3.9 91.4-7.5-7.5 7.7-78.1 3-38.1 1.8-9.8 .8-8.5 1.1-3.1 .6-2.5 .9-1.8 1.1-.8 1.4-.1 1.6 .5 1.8 2.6 4.6 3.8 5.1 6.8 8.1 9.9 11.4 37.3 41.2-8.5 8.7-29.2-40.3-16.3-23.3-6.9-10.9-1.9-4z"/>
<path fill="#ff5454" stroke="#ff5454" d="M276.4 615.8l7.9-6.8 68.2 .8 36.1 0 9.3-.2 8.6-.6 5.1-1 1.2-.3 1.8-1.1 .8-1.3 0-.7-.1-1-.9-1.9-3.2-4.2-4.2-4.4-17.4-16.3-33.2-29.5 8.5-7.3 28.1 31.1 15.6 17.9 7.4 9.5 2.1 3.6 .8 2.6-.1 1.6-.8 1.4-1.8 1.1-3.5 1-3.8 .7-10.2 1.1-16.2 1.1-22.3 1-85.2 3.3zM444.3 619.2l.1-1.6 .8-1.4 1.8-1.1 3.5-1.1 3.7-.7 10.2-1.1 35.2-1.9 87.5-3.4-7.8 8-68.5-.9-36.2 0-9.3 .3-8.6 .6-5.1 .9-1.2 .4-1.8 1-.8 1.4 0 .8 .2 .9 .9 2 3.4 4.3 4.4 4.6 18.8 17.6 38.2 33.8-8.5 8.8-33-36.4-17-19.4-7.8-10-2.2-3.7z"/>
<path fill="#ff3c3c" stroke="#ff3c3c" d="M284.9 608.4l9.6-8.2 55.2 4.1 33.7 2.1 10.4 .3 7.5-.2 5.2-.8 2.1-.9 .6-1.5-.7-1.8-.7-.9-3.4-3.6-5.5-4.6-19.5-14.4-32.5-22.6 9.5-8.1 30.3 26.8 17.5 16.2 4.2 4.2 4.1 4.5 2.3 3.4 .6 2.2 0 .7-.8 1.3-1.8 1.1-1.2 .3-5.1 1-11.7 .7-21.3 .2-38.8-.3-50.4-.6zM447.8 618.6l.8-1.4 1.8-1 2.8-.8 5.6-.7 9.6-.5 33.4-.2 77.5 .9-8.6 8.9-56.5-4.2-34.2-2.1-10.5-.3-7.5 .2-5.2 .7-2.1 1-.5 1.5 .7 1.9 .8 1 3.5 3.6 5.9 4.9 8.6 6.5 12.4 8.9 36.9 25.6-9.3 9.6-35-30.9-19-17.5-5.9-6-3.3-3.8-2-2.9-.5-1.2z"/>
<path fill="#ff2424" stroke="#ff2424" d="M294.8 600l13.4-11.5 36.7 6 19.4 2.9 15.5 1.6 5.2 0 2.6-.8 0-1.6-2.4-2.4-4.4-2.9-5.8-3.4-14-7.5-27.2-13.8 13.1-11.2 32.5 22.6 18.9 13.9 6.1 5.1 2.4 2.4 1.7 2.1 .7 1.8-.6 1.5-2.1 .9-3.3 .6-5 .3-9.9-.1-18.4-.9-20.2-1.3-55.2-4.1zM454.2 620.6l.5-1.5 2.1-1 3.3-.6 5.1-.3 9.9 .1 31.9 1.8 63.7 4.7-11.9 12.3-38.5-6.4-20.2-3-16-1.7-5.2 .1-2.6 .8 .1 1.6 2.6 2.5 4.7 3.2 6.2 3.5 15.2 8.1 30.4 15.3-12.5 12.9-33.2-23.1-21.3-15.3-6.2-4.9-5.3-4.7-2.1-2.5z"/>
<path fill="#ff0c0c" stroke="#ff0c0c" d="M308.8 588l25-21.4 27.2 13.8 14 7.5 5.8 3.4 4.4 2.9 2.4 2.4 0 1.6-2.6 .8-5.2 0-15.5-1.6-19.4-2.9-32.4-5.3-4.3-.7zM476.3 625.9l2.6-.8 5.2-.1 16 1.7 20.2 3 38.5 6.4-23.3 24-30.4-15.3-15.2-8.1-6.2-3.5-4.7-3.2-2.6-2.5z"/>
</g>
<g class="C">
<path fill="#0c0cff" stroke="#0c0cff" d="M250.1 635.9l-10.3-232.9 144.4-104.3 2.4 222.7-136.4 116.8zM260.9 528.5l2.2 9.9 2.5 7.4 3.3 6.8 2 3.1 2.1 2.9 2.5 2.7 2.7 2.3 2.2 1.6 3.1 1.6 2.9 1.1 3 .7 2.9 .3 2.9 0 5.8-1 2.8-.8 4.3-1.8 6.9-4 6.9-5.4 6.8-6.7 6.7-8 6.6-9.5 5.3-8.8 5.2-10.1 5.1-11.7 4.1-11 3.8-12 2.8-11.2 2.6-13.2 1.6-12.5 .7-11.8-.1-11.2-.9-10.7-1.7-10.1-2.7-9.4-3-6.9-1.8-3.3-2.1-3.2-2.3-2.8-2.6-2.7-2.1-1.7-2.8-1.8-2.8-1.4-4.2-1.3-4.3-.6-4.2 .2-4.3 .8-4.3 1.4-4.2 2-4.3 2.5-4.3 3.1-4.3 3.6-4.4 4.2-4.3 4.7-4.3 5.4-4.3 6-7.2 11.6-3.8 7.3-3.3 6.8-3.5 8.1-2.6 6.9-2.4 6.7-2.9 9.6-3.6 15.1-1.6 8.5-1.2 8.3-.8 7.9-.4 7.6-.1 7.4 .2 7 .5 6.8z"/>
<path fill="#2626ff" stroke="#2626ff" d="M260.9 528.3l-1-6.5-.5-6.8-.2-7 .1-7.4 .4-7.6 .8-7.9 1.2-8.3 1.6-8.5 3.6-15.1 2.9-9.6 2.4-6.7 2.6-6.9 3.5-8.1 3.3-6.8 3.8-7.3 7.2-11.6 4.3-6 4.3-5.4 4.3-4.7 4.4-4.2 4.3-3.6 4.3-3.1 4.3-2.5 4.2-2 4.3-1.4 4.3-.8 4.2-.2 4.3 .6 4.2 1.3 2.8 1.4 2.8 1.8 2.1 1.7 2.6 2.7 2.3 2.8 2.1 3.2 1.8 3.3 3 6.9 2.7 9.4 1.7 10.1 .9 10.7 .1 11.2-.7 11.8-1.6 12.5-2.6 13.2-2.8 11.2-3.8 12-4.1 11-5.1 11.7-5.2 10.1-5.3 8.8-6.6 9.5-6.7 8-6.8 6.7-6.9 5.4-6.9 4-4.3 1.8-2.8 .8-5.8 1-2.9 0-2.9-.3-3-.7-2.9-1.1-3.1-1.6-2.2-1.6-2.7-2.3-2.5-2.7-2.1-2.9-2-3.1-3.3-6.8-2.5-7.4zM281.5 511.7l1.7 5.8 2.3 5.2 3 4.6 2.5 2.6 3 2.2 3.7 1.6 3.7 .6 4.3-.3 4.3-1.2 4.2-2 4.2-2.9 5.5-4.8 4-4.6 4.1-5.3 4-6.2 4-7.1 3.9-8.5 2.6-6.7 2.1-6.3 2.5-8.7 1.8-8.2 1.2-7.8 .7-7.4 .2-9.3-.3-6.6-.8-6.3-1.3-5.9-1.9-5.5-2.5-5-2.1-3-2.6-2.9-1.5-1.1-2.8-1.7-4.3-1.3-2.8-.2-2.8 .2-2.9 .7-2.8 1.1-2.9 1.4-2.8 1.8-4.3 3.3-2.8 2.7-5.7 6.5-5.7 8.2-4.2 7.4-4.2 8.9-4.1 10.8-3.5 12-2.3 11.4-1.3 10.6-.3 9.8 .6 9.1z"/>
<path fill="#4040ff" stroke="#4040ff" d="M281.1 509.7l-1.3-8.5-.3-9.3 .6-10 1.5-10.8 2.6-11.6 2.8-9.5 4-10.3 4.2-8.9 4.2-7.4 5.7-8.2 5.7-6.5 2.8-2.7 4.3-3.3 2.8-1.8 2.9-1.4 2.8-1.1 2.9-.7 2.8-.2 2.8 .2 2.9 .7 2.6 1.3 3.2 2.2 3.6 4.2 2.8 4.9 1.4 3.5 1.7 5.7 1.1 6 .7 6.3 .1 9.1-.4 7.1-.9 7.5-1.3 7.9-2 8.4-2.6 8.5-2.6 7.2-2.8 6.6-3.7 7.6-4 6.8-4 5.9-4.1 5-4.1 4.3-5.5 4.6-4.2 2.5-4.2 1.8-4.3 .9-2.9 .1-4.4-.8-3-1.4-1.5-1-2.8-2.5-2.3-2.8-2.7-4.8-2.1-5.4zM289.7 490.2l.5 5.2 .7 4.1 1.7 5.7 1.6 3.4 2.1 3 2.6 2.6 1.9 1.3 2.9 1.1 2.9 .3 2.9-.3 2.8-.9 4.3-2.2 2.7-2.1 4.2-3.8 2.7-3.2 4.1-5.7 2.6-4.4 2.7-5.3 2.6-6 2.6-7.2 1.8-6.1 1.2-5.5 1.3-7.9 .5-4.9 .1-7.1-.2-4.4-.8-6.2-1-3.9-1.3-3.6-1.7-3.4-2.5-3.3-2.8-2.4-2.9-1.4-1.4-.3-2.8-.2-4.3 .8-4.3 2-4.2 3.1-4.3 4.1-4.2 5.3-2.8 4.2-4.2 7.7-2.8 6.2-2.7 7.6-1.8 6.3-1.3 5.8-1.3 8.1-.5 7.6z"/>
<path fill="#5858ff" stroke="#5858ff" d="M289.6 488.7l.1-7.2 .8-7.8 .9-5.4 2.1-8.9 2.4-7.2 2.7-6.8 2.8-5.8 4.2-7.1 4.2-5.7 2.8-3.1 4.3-3.8 4.3-2.7 2.8-1.2 4.3-.8 2.8 .2 1.4 .3 2.9 1.4 2.8 2.4 2.5 3.3 1.7 3.4 1.3 3.6 1 3.9 .8 6.2 .2 4.4-.1 7.1-.5 4.9-1.3 7.9-1.2 5.5-1.8 6.1-2.6 7.2-2.6 6-2.7 5.3-2.6 4.4-4.1 5.7-2.7 3.2-4.2 3.8-2.7 2.1-4.3 2.2-2.8 .9-2.9 .3-2.9-.3-2.9-1.1-1.9-1.3-2.6-2.6-2.1-3-1.6-3.4-1.7-5.7-.7-4.1zM297.2 494.6l.6 1.8 1.5 3.4 2.2 3 1.9 1.7 1.4 .9 3 .8 2.8 0 1.5-.3 1.4-.5 2.8-1.3 2.8-2 2.8-2.6 2.7-3.1 2.7-3.7 4-7 3.2-7.2 3-9.2 1.2-5.6 .8-5.3 .5-7.3 0-4.5-.5-4.3-1.4-5.8-1.4-3.5-1-1.7-2.3-2.8-2-1.4-2.9-1.1-2.8-.1-2.9 .6-4.2 2.1-4.3 3.5-2.8 3.1-4.2 5.9-2.8 5-2.7 6-1.8 4.7-1.8 6.2-1.7 8.5-.7 5.2-.2 7.2 .7 6.6z"/>
<path fill="#7272ff" stroke="#7272ff" d="M297.2 494.5l-.9-4-.7-6.6 .2-7.2 .7-5.2 1.7-8.5 1.8-6.2 1.8-4.7 2.7-6 2.8-5 4.2-5.9 2.8-3.1 4.3-3.5 4.2-2.1 2.9-.6 2.8 .1 2.9 1.1 2 1.4 2.3 2.8 1 1.7 1.4 3.5 1.4 5.8 .5 4.3 0 4.5-.5 7.3-.8 5.3-1.2 5.6-3 9.2-3.2 7.2-4 7-2.7 3.7-2.7 3.1-2.8 2.6-2.8 2-2.8 1.3-1.4 .5-1.5 .3-2.8 0-3-.8-2-1.3-1.3-1.3-2.2-3-1.5-3.4zM299.7 481.1l.7 6.1 .5 2 1.3 3.6 2 3.1 1.3 1.3 2 1.3 1.5 .5 1.4 .2 2.9-.4 1.4-.5 2.8-1.6 2.8-2.2 2.8-2.9 4-5.9 2.7-5.1 1.4-3.1 2.5-7.5 1.8-8.4 .7-7.4-.3-6.7-.8-4-.6-1.9-.6-1.8-1.9-3.2-1.3-1.3-1.5-1.2-1.9-.8-1.5-.2-1.4 0-2.8 .6-2.9 1.5-2.8 2.2-2.8 2.9-4.2 5.9-2.7 5.2-1.4 3.1-2.7 7.9-1.8 8.4-.5 5.2z"/>
<path fill="#8c8cff" stroke="#8c8cff" d="M299.7 480.7l.1-4.7 .5-5.2 1.8-8.5 2.7-7.8 1.4-3.1 2.7-5.2 4.2-5.9 2.8-2.9 2.8-2.2 2.9-1.5 2.8-.6 1.4 0 1.5 .2 1.9 .8 1.5 1.2 1.3 1.3 1.9 3.2 .6 1.8 .6 1.9 .8 4 .3 6.7-.7 7.4-1.8 8.4-2.5 7.5-1.4 3.1-2.7 5.1-4 5.9-2.8 2.9-2.8 2.2-2.8 1.6-1.4 .5-2.9 .4-1.4-.2-1.5-.5-2-1.3-1.3-1.3-2-3.1-1.3-3.6-.5-2zM304.3 487.6l1.3 2.5 1.1 1.5 2.1 1.6 1.5 .6 1.4 .2 2.9-.5 2.8-1.4 2.8-2.2 1.4-1.5 1.3-1.6 2.8-4 2.6-5.2 1.9-4.8 1.8-6 1-5.4 .4-7.3-.8-6.4-1.2-3.7-1.9-3.1-2.1-1.7-1.4-.7-1.5-.2-1.4 0-2.8 .9-2.8 1.8-2.9 2.6-2.8 3.5-2.7 4.6-1.4 2.8-2.9 8.1-1.8 8.5-.4 5 .2 4.6 .6 4.1z"/>
<path fill="#a6a6ff" stroke="#a6a6ff" d="M304 486.7l-.6-1.9-.6-4.1-.2-4.6 .4-5 1-5.6 1-3.7 1.3-4 2.4-5.4 1.8-3.2 2.7-4 1.4-1.6 2.9-2.6 2.8-1.8 2.8-.9 1.4 0 1.5 .2 1.4 .7 2.1 1.7 1.9 3.1 1.2 3.7 .8 6.4-.4 7.3-1 5.4-1.8 6-2.9 6.9-3 5.2-2.7 3.5-1.4 1.5-2.8 2.2-2.8 1.4-2.9 .5-1.8-.3-1.8-.9-1.4-1.2-1.1-1.5zM305.6 482.3l.8 2.5 .9 1.7 1.4 1.8 1.5 1.1 1.4 .5 1.5 .1 1.4-.2 2.8-1.2 2.8-2.3 2.7-3.2 2.8-4.4 1.6-3.5 2.3-6.4 1.2-5.6 .5-5-.1-4.6-.3-2.1-1-3.8-1.9-3.2-1.8-1.5-1.4-.6-1.5-.2-2.8 .7-1.4 .7-2.9 2.2-1.4 1.5-2.7 3.7-1.4 2.4-1.4 2.8-1.7 4.2-1.6 6.1-.5 2.7-.5 5.1-.1 2.4 .2 2.2z"/>
<path fill="#c0c0ff" stroke="#c0c0ff" d="M305.3 481l-.3-2.1-.1-4.6 1-7.8 1.9-7 2.8-6.1 1.4-2.4 2.7-3.7 1.4-1.5 2.9-2.2 1.4-.7 2.8-.7 1.5 .2 1.4 .6 1.8 1.5 1.9 3.2 1 3.8 .3 2.1 .1 4.6-.5 5-1.2 5.6-2.3 6.4-1.6 3.5-2.8 4.4-2.7 3.2-2.8 2.3-1.4 .7-2.8 .7-1.5-.1-1.4-.5-1.9-1.5-1.9-3.1zM306.9 478.4l.7 3.1 .8 1.7 1 1.6 2.1 1.6 1.5 .4 1.4 0 2.8-1.1 2.8-2.2 2.8-3.4 1.3-2.2 2-4.2 1.3-3.3 1.5-5.8 .5-5.1-.1-4.5-.8-4-1.7-3.3-2.1-1.8-1.4-.4-1.4 0-2.9 1-1.4 .9-2.8 2.8-2.8 4.1-2.7 5.9-1.3 4.2-.8 3.3-.5 5.2-.1 2.4z"/>
<path fill="#d8d8ff" stroke="#d8d8ff" d="M306.8 477.5l-.2-2.2 .3-4.9 1-5.5 1.4-4.7 2.7-5.9 2.8-4.1 2.8-2.8 1.4-.9 2.9-1 1.4 0 1.4 .4 2.1 1.8 1.7 3.3 .8 4 .1 4.5-.5 5.1-1.5 5.8-1.3 3.3-2 4.2-2.7 4-2.8 2.8-2.8 1.7-1.4 .4-1.4 0-2.2-.8-1.4-1.2-1-1.6-.8-1.7zM308.3 476.8l.9 3.4 .9 1.7 1.3 1.4 1.5 .8 1.4 .2 1.4-.3 2.9-1.6 2.7-2.9 1.4-1.9 2.7-5.4 1.2-3.4 .7-2.9 .7-5.2 .1-2.4-.5-4.2-.6-1.9-.7-1.4-1.5-1.7-1.4-.8-1.5-.3-1.4 .3-1.4 .6-2.8 2.2-2.8 3.5-2.8 5.7-1.9 6.2-.7 5.2z"/>
<path fill="#f2f2ff" stroke="#f2f2ff" d="M308.3 476.3l-.2-4.6 .7-5.2 1.9-6.2 2.8-5.7 2.8-3.5 2.8-2.2 1.4-.6 1.4-.3 1.5 .3 1.4 .8 1.5 1.7 .7 1.4 .6 1.9 .5 4.2-.1 2.4-.7 5.2-.7 2.9-1.2 3.4-2.7 5.4-1.4 1.9-2.7 2.9-2.9 1.6-1.4 .3-1.4-.2-1.5-.8-1.3-1.4-.9-1.7zM309.8 476.8l.8 2.4 1 1.5 1.6 1.1 1.1 .3 1.4-.2 1.4-.5 1.4-.9 1.4-1.4 2.7-3.7 1.4-2.7 1.3-3.5 .7-2.3 .8-5.3-.1-4.5-.4-2-.7-1.8-.7-1.2-1.5-1.3-1.4-.5-1.4 .1-1.4 .5-1.5 .9-1.4 1.3-2.7 3.8-2.5 5.4-1.4 5.9-.4 4.9z"/>
<path fill="#fff2f2" stroke="#fff2f2" d="M309.5 475.3l-.1-4.5 .8-5.4 .9-3.1 2.5-5.4 2.7-3.8 1.4-1.3 1.5-.9 1.4-.5 1.4-.1 1.4 .5 1.5 1.3 .7 1.2 .7 1.8 .4 2 .1 4.5-.8 5.3-.7 2.3-1.3 3.5-1.4 2.7-1.3 2-2.8 3.1-1.4 .9-1.4 .5-1.4 .2-1.5-.5-1.5-1.3-.7-1.1zM311.2 476.9l.6 1.3 .9 1 1.5 .9 1.4 0 1.5-.4 1.4-.9 1.4-1.4 1.3-1.8 2.4-4.5 1.2-3.2 .6-2.8 .4-5-.1-2.2-.5-2-.8-1.7-1.2-1.4-1.1-.5-1.5-.1-1.4 .4-1.4 .9-1.4 1.3-1.4 1.8-2.4 4.6-1.2 3.2-1 5.5 .1 4.6z"/>
<path fill="#ffd8d8" stroke="#ffd8d8" d="M311 476.5l-.5-2-.1-4.6 1-5.5 1.2-3.2 2.4-4.6 1.4-1.8 1.4-1.3 1.4-.9 1.4-.4 1.5 .1 1.1 .5 1.2 1.4 .8 1.7 .5 2 .1 2.2-.4 5-.6 2.8-1.2 3.2-2.4 4.5-1.3 1.8-1.4 1.4-1.4 .9-1.9 .4-1 0-1.1-.6-1.3-1.3zM312.7 476.8l.3 .5 1.6 1 1 .2 1.4-.4 1.4-.9 1.4-1.3 1.4-1.9 1.3-2.5 1.1-2.7 .8-3 .5-5-.2-2.2-.5-1.9-.9-1.6-1.2-.9-1.4-.4-1.5 .4-1.4 .8-1.4 1.4-1.4 1.8-1.3 2.6-1.4 3.6-.9 4.8 .1 4.5 .5 2z"/>
<path fill="#ffbebe" stroke="#ffbebe" d="M312 475.7l-.5-2-.1-4.5 .9-4.8 1.4-3.6 1.3-2.6 1.4-1.8 1.4-1.4 1.4-.8 1.5-.4 1.4 .4 1.2 .9 .9 1.6 .5 1.9 .2 2.2-.5 5-.8 3-1.1 2.7-1.3 2.5-1.4 1.9-1.4 1.3-1.4 .9-1.4 .4-1.4-.3-1.2-.9zM312.6 473.7l.4 1.2 1.1 1.5 1.5 .5 1.4-.2 1.4-.8 1.4-1.4 1.3-2 1.4-2.8 1-3.1 .5-2.7 .1-2.4-.3-2.2-.6-1.8-1.1-1.5-1.4-.6-1.4 .2-1.4 .8-1.4 1.4-1.4 2-1.4 2.8-1 3.1-.4 2.8-.2 2.4z"/>
<path fill="#ffa6a6" stroke="#ffa6a6" d="M312.4 473l-.3-2.1 .2-2.4 .4-2.8 1-3.1 1.4-2.8 1.4-2 1.4-1.4 1.4-.8 1.4-.2 1.4 .6 1.1 1.5 .6 1.8 .3 2.2-.1 2.4-.5 2.7-1 3.1-1.4 2.8-1.3 2-1.4 1.4-1.4 .8-1.4 .2-1.5-.5-1.1-1.5zM314.1 474.4l1.4 1.1 1.4-.1 1.5-.8 1.3-1.4 1.4-2.2 1.3-3.3 .8-3.2 .1-2.4-.3-2.2-.6-1.7-1.7-1.3-1.4 0-1.4 .8-1.4 1.4-1.4 2.2-1.3 3.3-.7 3.2-.2 2.5 .3 2.1z"/>
<path fill="#ff8c8c" stroke="#ff8c8c" d="M313.9 474.2l-.7-1.8-.3-2.1 .2-2.5 .7-3.2 1.3-3.3 1.4-2.2 1.4-1.4 1.4-.8 1.4 0 1.7 1.3 .6 1.7 .3 2.2-.1 2.4-.6 2.8-1.3 3.3-1.6 2.6-1.3 1.4-1.5 .8-1.4 .1zM314 471.8l.8 1.7 .7 .5 1.4 .1 1.4-.7 1.4-1.5 1.4-2.4 1.3-4.3 .2-2.5-.3-2.2-.9-1.6-.6-.5-1.5-.2-1.4 .7-1.4 1.5-1.3 2.4-1.4 4.4-.1 2.5z"/>
<path fill="#ff7272" stroke="#ff7272" d="M314 471.8l-.3-2.1 .1-2.5 1.4-4.4 1.3-2.4 1.4-1.5 1.4-.7 1.5 .2 .6 .5 .9 1.6 .3 2.2-.2 2.5-1.3 4.3-1.4 2.4-1.4 1.5-1.4 .7-1.4-.1-.7-.5zM315.4 472.3l.5 .3 1 .3 1.4-.7 1.4-1.5 .9-1.9 1-3.1 .2-2.5-.3-2-1.1-1.5-1-.3-1.4 .7-1.4 1.6-1.4 2.8-.6 2.1-.2 2.5 .3 2.1z"/>
<path fill="#ff5858" stroke="#ff5858" d="M314.7 471.2l-.3-2.1 .2-2.5 1-3.1 1-1.8 1.4-1.6 1.4-.7 1 .3 1.1 1.5 .3 2-.2 2.5-1 3.1-.9 1.9-1.4 1.5-1.4 .7-1-.3-.5-.3zM315.4 469.7l.2 .8 1.2 1.1 1.5-.6 1.3-1.7 1.2-2.9 .3-2.6-.4-2-1.3-1-1.4 .5-1.4 1.7-1.2 3-.3 2.5z"/>
<path fill="#ff3e3e" stroke="#ff3e3e" d="M315.1 468.5l.3-2.5 1.2-3 1.4-1.7 1.4-.5 1.3 1 .4 2-.3 2.6-1.2 2.9-1.3 1.7-1.5 .6-1.2-1.1zM316.8 470l1.4-.4 1.6-2.4 .5-2.7-.6-1.9-.2-.2-1.5 .3-1.6 2.5-.4 2.7 .5 1.9z"/>
<path fill="#ff2626" stroke="#ff2626" d="M316.5 469.8l-.5-1.9 .4-2.7 1.6-2.5 1.5-.3 .2 .2 .6 1.9-.7 3.2-1.4 1.9-1.4 .4zM318.2 467.7l.9-2.3-1-.8-.9 2.3z"/>
<path fill="#ff0c0c" stroke="#ff0c0c" d="M317.2 466.9l.9-2.3 1 .8-.9 2.3z"/>
</g>
<g class="S">
<path class="a" d="M434.1 461.7l-7.6 0-7.7 .3-7.5 .5 1 12 7.2-.5 7.2-.3 7.3 0z"/>
<path class="b" d="M456.8 463l-7.5-.7-7.6-.4-7.6-.2-.1 12 7.2 .2 7.2 .4 7.2 .6z"/>
<path class="a" d="M434.2 449.8l-7.9 .1-7.9 .3-7.8 .5 .7 11.8 7.5-.5 7.7-.3 7.6 0z"/>
<path class="a" d="M434 473.7l-7.3 0-7.2 .3-7.2 .5 1.3 11.7 6.7-.5 6.7-.2 6.8-.1z"/>
<path class="b" d="M457.7 451.2l-7.8-.7-7.8-.5-7.9-.2-.1 11.9 7.6 .2 7.6 .4 7.5 .7z"/>
<path class="b" d="M455.6 474.9l-7.2-.6-7.2-.4-7.2-.2-.2 11.7 6.7 .2 6.8 .4 6.6 .6z"/>
<path class="c" d="M411.3 462.5l-7.5 .7-7.4 1-7.3 1.2 2.1 11.8 6.9-1.1 7.1-.9 7.1-.7z"/>
<path class="c" d="M412.3 474.5l-7.1 .7-7.1 .9-6.9 1.1 2.8 11.6 6.4-1.1 6.6-.9 6.6-.6z"/>
<path class="a" d="M434.2 438.5l-8 .1-8 .2-8 .6 .4 11.3 7.8-.5 7.9-.3 7.9-.1z"/>
<path class="c" d="M410.6 450.7l-7.8 .7-7.6 1-7.6 1.2 1.5 11.8 7.3-1.2 7.4-1 7.5-.7z"/>
<path class="d" d="M478.8 466.3l-7.2-1.3-7.3-1.1-7.5-.9-1.2 11.9 7 .9 7 1 6.8 1.3z"/>
<path class="a" d="M433.8 485.4l-6.8 .1-6.7 .2-6.7 .5 1.6 11 6.1-.4 12.3-.2z"/>
<path class="b" d="M458.1 439.8l-7.9-.6-8-.5-8-.2 0 11.3 7.9 .2 7.8 .5 7.8 .7z"/>
<path class="b" d="M453.9 486.6l-6.6-.6-6.8-.4-6.7-.2-.2 11.2 12.3 .5 6.1 .5z"/>
<path class="d" d="M476.4 478.1l-6.8-1.3-7-1-7-.9-1.7 11.7 6.6 .8 6.5 1 6.3 1.2z"/>
<path class="d" d="M480.4 454.6l-7.4-1.4-7.6-1.1-7.7-.9-.9 11.8 7.5 .9 7.3 1.1 7.2 1.3z"/>
<path class="c" d="M413.6 486.2l-6.6 .6-6.6 .9-6.4 1.1 3.2 10.8 5.9-.9 12.1-1.5z"/>
<path class="c" d="M410.2 439.4l-7.9 .7-7.8 1-7.6 1.2 .7 11.3 7.6-1.2 7.6-1 7.8-.7z"/>
<path class="d" d="M473.3 489.6l-6.3-1.2-6.5-1-6.6-.8-1.9 11 11.9 1.7 5.8 1.1z"/>
<path class="d" d="M481.2 443.3l-7.5-1.4-7.7-1.1-7.9-1-.4 11.4 7.7 .9 7.6 1.1 7.4 1.4z"/>
<path class="a" d="M434.2 428.1l-8 0-8 .3-8 .5 0 10.5 8-.6 8-.2 8-.1z"/>
<path class="e" d="M389.1 465.4l-7.1 1.4-7 1.6-6.8 1.9 1 3.9 2.2 7.7 6.4-1.7 6.7-1.6 6.7-1.4z"/>
<path class="b" d="M458.1 429.4l-7.9-.7-8-.4-8-.2 0 10.4 8 .2 8 .5 7.9 .6z"/>
<path class="a" d="M433.6 496.6l-12.3 .2-6.1 .4 1.7 10.1 5.5-.4 11-.2z"/>
<path class="b" d="M452 497.6l-6.1-.5-12.3-.5-.2 10.1 11 .4 5.4 .5z"/>
<path class="e" d="M391.2 477.2l-6.7 1.4-6.7 1.6-6.4 1.7 2.7 7.6 1.4 3.7 6-1.7 6.2-1.4 6.3-1.3z"/>
<path class="e" d="M387.6 453.6l-7.4 1.5-7.2 1.7-7 1.9 .6 3.8 1.6 7.8 6.8-1.9 7-1.6 7.1-1.4z"/>
<path class="f" d="M499.3 471.6l-6.7-1.9-6.8-1.8-7-1.6-2.4 11.8 6.7 1.5 6.5 1.7 6.2 1.9 2.4-7.7z"/>
<path class="f" d="M495.8 483.2l-6.2-1.9-6.5-1.7-6.7-1.5-3.1 11.5 6.3 1.4 6 1.6 5.8 1.8 1.6-3.7z"/>
<path class="c" d="M415.2 497.2l-12.1 1.5-5.9 .9 3.7 9.8 5.3-.8 10.7-1.3z"/>
<path class="c" d="M410.2 428.9l-7.9 .8-7.7 1-7.7 1.2 0 10.4 7.6-1.2 7.8-1 7.9-.7z"/>
<path class="e" d="M394 488.8l-6.3 1.3-6.2 1.4-6 1.7 3.2 7.1 1.7 3.4 5.5-1.5 5.6-1.4 5.7-1.2z"/>
<path class="f" d="M501.6 460l-6.8-2-7.1-1.8-7.3-1.6-1.6 11.7 7 1.6 6.8 1.8 6.7 1.9 1.7-7.7z"/>
<path class="d" d="M469.7 500.4l-5.8-1.1-11.9-1.7-2.2 10 10.7 1.5 5.1 1z"/>
<path class="d" d="M481.2 432.8l-7.5-1.3-7.7-1.2-7.9-.9 0 10.4 7.9 1 7.7 1.1 7.5 1.4z"/>
<path class="e" d="M386.9 442.3l-7.5 1.5-7.4 1.7-7.1 1.9 .3 3.7 .8 7.6 7-1.9 7.2-1.7 7.4-1.5z"/>
<path class="f" d="M491.4 494.4l-5.8-1.8-6-1.6-6.3-1.4-3.6 10.8 5.7 1.3 5.5 1.5 5.3 1.6 1.8-3.4z"/>
<path class="a" d="M434.2 419l-7.9 0-7.9 .3-7.8 .5-.4 9.1 8-.5 8-.3 8 0z"/>
<path class="f" d="M502.8 448.8l-7-2.1-7.2-1.8-7.4-1.6-.8 11.3 7.3 1.6 7.1 1.8 6.8 2 .9-7.5z"/>
<path class="b" d="M457.7 420.2l-7.8-.6-7.8-.5-7.9-.1 0 9.1 8 .2 8 .4 7.9 .7z"/>
<path class="a" d="M433.4 506.7l-11 .2-5.5 .4 1.9 8.7 4.8-.3 9.5-.2z"/>
<path class="b" d="M449.8 507.6l-5.4-.5-11-.4-.3 8.8 9.6 .4 4.7 .4z"/>
<path class="e" d="M397.2 499.6l-5.7 1.2-5.6 1.4-5.5 1.5 3.6 6.4 1.9 3 4.9-1.4 10.1-2.3z"/>
<path class="f" d="M486.2 504.8l-5.3-1.6-5.5-1.5-5.7-1.3-4.1 9.7 10 2.5 4.8 1.5 2-3z"/>
<path class="c" d="M416.9 507.3l-10.7 1.3-5.3 .8 4 8.5 4.5-.8 9.4-1.1z"/>
<path class="g" d="M368.2 470.3l-6.5 2-6.3 2.3-6 2.4 1.2 3.9 2.9 7.5 5.7-2.4 6-2.1 6.2-2-2.2-7.7z"/>
<path class="g" d="M371.4 481.9l-6.2 2-6 2.1-5.7 2.4 3.5 7.3 1.9 3.6 5.3-2.2 5.5-2.1 5.8-1.8-1.4-3.7z"/>
<path class="c" d="M410.6 419.8l-7.7 .7-7.7 1-7.5 1.2-.8 9.2 7.7-1.2 7.7-1 7.9-.8z"/>
<path class="e" d="M386.9 431.9l-7.5 1.5-7.3 1.6-7.1 1.9-.2 3.4 .1 7.1 7.1-1.9 7.4-1.7 7.5-1.5z"/>
<path class="d" d="M465.6 510.1l-5.1-1-10.7-1.5-2.4 8.7 9.3 1.3 4.5 .9 1.5-2.6z"/>
<path class="d" d="M480.4 423.6l-7.5-1.4-7.5-1.1-7.7-.9 .4 9.2 7.9 .9 7.7 1.2 7.5 1.3-.5-6.3z"/>
<path class="g" d="M366 458.7l-6.7 2.1-6.6 2.3-6.2 2.5 .8 3.8 2.1 7.6 6-2.4 6.3-2.3 6.5-2-1.6-7.8z"/>
<path class="g" d="M375.5 493.2l-5.8 1.8-5.5 2.1-5.3 2.2 4.1 6.7 2.2 3.3 4.9-2.1 5-1.8 5.3-1.7-1.7-3.4z"/>
<path class="f" d="M502.8 438.3l-7-2-7.2-1.9-7.4-1.6 0 10.5 7.4 1.6 7.2 1.8 7 2.1 .1-7.1z"/>
<path class="h" d="M513.2 490.1l-5.5-2.5-5.8-2.3-6.1-2.1-2.8 7.5-1.6 3.7 5.7 2 5.4 2.1 5.1 2.3 2-3.5z"/>
<path class="h" d="M517.6 478.8l-5.8-2.6-6.2-2.4-6.3-2.2-1.1 3.9-2.4 7.7 6.1 2.1 5.8 2.3 5.5 2.5 3.1-7.5z"/>
<path class="h" d="M507.6 500.8l-5.1-2.3-5.4-2.1-5.7-2-3.4 7-1.8 3.4 5.2 1.8 4.9 2 4.7 2.1 2.3-3.2z"/>
<path class="e" d="M400.9 509.4l-10.1 2.3-4.9 1.4 3.9 5.5 2 2.5 4.2-1.2 8.9-2z"/>
<path class="h" d="M520.6 467.4l-6-2.7-6.4-2.4-6.6-2.3-.6 3.9-1.7 7.7 6.3 2.2 6.2 2.4 5.8 2.6 2.2-7.6z"/>
<path class="g" d="M364.9 447.4l-6.9 2.1-6.6 2.4-6.3 2.5 .3 3.7 1.1 7.5 6.2-2.5 6.6-2.3 6.7-2.1-.8-7.6z"/>
<path class="f" d="M480.4 514.1l-4.8-1.5-10-2.5-2.9 5.8-1.5 2.6 8.7 2.1 4.1 1.3 2.2-2.4z"/>
<path class="g" d="M380.4 503.7l-5.3 1.7-5 1.8-4.9 2.1 4.7 6 2.5 2.8 4.3-1.8 4.5-1.7 4.7-1.5-1.9-3z"/>
<path class="a" d="M434.1 411.4l-7.6 0-7.6 .3-7.6 .5-.7 7.6 7.8-.5 7.9-.3 7.9 0z"/>
<path class="b" d="M456.8 412.6l-7.5-.6-7.6-.4-7.6-.2 .1 7.6 7.9 .1 7.8 .5 7.8 .6z"/>
<path class="a" d="M433.1 515.5l-9.5 .2-4.8 .3 2 7 4-.3 8.1-.1z"/>
<path class="b" d="M447.4 516.3l-4.7-.4-9.6-.4-.2 7.1 8.1 .3 4 .4z"/>
<path class="e" d="M387.7 422.7l-7.4 1.4-7.2 1.6-7 1.9-.5 2.9-.6 6.4 7.1-1.9 7.3-1.6 7.5-1.5z"/>
<path class="h" d="M501 510.7l-4.7-2.1-4.9-2-5.2-1.8-3.8 6.3-2 3 4.5 1.6 4.4 1.8 4.2 1.9 2.6-2.8z"/>
<path class="h" d="M522.1 456.2l-6.1-2.7-6.5-2.4-6.7-2.3-.3 3.7-.9 7.5 6.6 2.3 6.4 2.4 6 2.7 1.2-7.5z"/>
<path class="c" d="M418.8 516l-9.4 1.1-4.5 .8 2.7 4.7 1.4 2 3.9-.6 7.9-1z"/>
<path class="c" d="M411.3 412.2l-7.5 .7-7.3 .9-7.3 1.1-.6 2.4-.9 5.4 7.5-1.2 7.7-1 7.7-.7z"/>
<path class="d" d="M461.2 518.5l-4.5-.9-9.3-1.3-2.4 7 7.8 1.1 3.8 .7 1.6-2z"/>
<path class="f" d="M501.5 428.9l-6.8-2-7.1-1.8-7.2-1.5 .3 2.9 .5 6.3 7.4 1.6 7.2 1.9 7 2-.7-6.4z"/>
<path class="d" d="M478.7 415.8l-7.2-1.3-7.3-1-7.4-.9 .9 7.6 7.7 .9 7.5 1.1 7.5 1.4-1.1-5.4z"/>
<path class="g" d="M365 436.9l-6.9 2.1-6.7 2.3-6.3 2.6-.2 3.4 .2 7.1 6.3-2.5 6.6-2.4 6.9-2.1-.1-7.1z"/>
<path class="g" d="M385.9 513.1l-4.7 1.5-4.5 1.7-4.3 1.8 5 5.1 2.7 2.2 3.7-1.5 8-2.8-2-2.5z"/>
<path class="i" d="M353.5 488.4l-5.4 2.5-5.2 2.7-4.8 2.9 2 3.5 4.5 6.8 4.4-2.7 4.8-2.5 5.1-2.3-1.9-3.6z"/>
<path class="e" d="M404.9 517.9l-8.9 2-4.2 1.2 4.1 4.3 2.1 1.9 3.5-1 7.5-1.7-1.4-2z"/>
<path class="i" d="M349.4 477l-5.8 2.7-5.4 2.8-5.1 3 1.5 3.7 3.5 7.3 4.8-2.9 5.2-2.7 5.4-2.5-2.9-7.5z"/>
<path class="h" d="M493.5 519.4l-4.2-1.9-4.4-1.8-4.5-1.6-4.2 5.4-2.2 2.4 7.8 3 3.6 1.7 2.8-2.2z"/>
<path class="i" d="M358.9 499.3l-5.1 2.3-4.8 2.5-4.4 2.7 4.9 6.4 2.7 3 4.1-2.4 4.3-2.4 4.6-2.1-2.2-3.3z"/>
<path class="f" d="M474 521.9l-4.1-1.3-8.7-2.1-3 4.6-1.6 2 7.4 1.9 3.4 1.1 2.3-1.9z"/>
<path class="h" d="M522.1 445.6l-6.2-2.6-6.4-2.5-6.7-2.2 .1 3.4-.1 7.1 6.7 2.3 6.5 2.4 6.1 2.7 .2-7.1z"/>
<path class="j" d="M528 498.4l-4.6-2.9-4.9-2.8-5.3-2.6-3.6 7.2-2 3.5 4.9 2.5 4.6 2.6 4.2 2.8 4.6-6.8z"/>
<path class="i" d="M346.5 465.6l-6 2.7-5.6 2.9-5.2 3 .9 3.8 2.5 7.5 5.1-3 5.4-2.8 5.8-2.7-2.1-7.6z"/>
<path class="i" d="M365.2 509.3l-4.6 2.1-4.3 2.4-4.1 2.4 5.6 5.6 3 2.5 3.6-2.2 3.9-2.1 4.1-1.9-2.5-2.8z"/>
<path class="j" d="M521.3 508.7l-4.2-2.8-4.6-2.6-4.9-2.5-4.3 6.7-2.3 3.2 4.4 2.3 4.2 2.4 3.8 2.5 2.8-2.9z"/>
<path class="a" d="M434 405.7l-7.3 0-7.2 .3-7.1 .4-1.1 5.8 7.6-.5 7.6-.3 7.6 0z"/>
<path class="e" d="M389.2 414.9l-7.1 1.4-7 1.6-6.7 1.7-.9 2.5-1.4 5.5 7-1.9 7.2-1.6 7.4-1.4 .9-5.4z"/>
<path class="j" d="M533.2 487.5l-4.9-3-5.2-3-5.5-2.7-1.3 3.8-3.1 7.5 5.3 2.6 4.9 2.8 4.6 2.9 3.6-7.2z"/>
<path class="b" d="M455.5 406.8l-7.2-.6-7.1-.3-7.2-.2 .1 5.7 7.6 .2 7.6 .4 7.5 .6z"/>
<path class="a" d="M432.9 522.6l-8.1 .1-4 .3 1.9 5.1 3.3-.2 6.7-.1z"/>
<path class="b" d="M445 523.3l-4-.4-8.1-.3-.2 5.2 6.6 .2 3.2 .3z"/>
<path class="f" d="M499.1 420.9l-6.6-1.9-6.8-1.7-7-1.5 .6 2.4 1.1 5.4 7.2 1.5 7.1 1.8 6.8 2-1.5-5.5z"/>
<path class="g" d="M366.1 427.6l-6.8 2-6.5 2.3-6.2 2.4-.7 3.1-.8 6.5 6.3-2.6 6.7-2.3 6.9-2.1 .6-6.4z"/>
<path class="g" d="M391.8 521.1l-8 2.8-3.7 1.5 5.3 4 2.7 1.6 3.1-1.3 6.8-2.4-2.1-1.9z"/>
<path class="j" d="M513.4 517.9l-3.8-2.5-4.2-2.4-4.4-2.3-4.9 5.9-2.6 2.8 3.9 2 3.7 2.2 3.5 2.3 3-2.5z"/>
<path class="c" d="M420.8 523l-7.9 1-3.9 .6 2.8 3.5 1.3 1.3 3.2-.5 6.4-.8z"/>
<path class="j" d="M536.7 476.4l-5-3.2-5.4-3-5.7-2.8-.8 3.8-2.2 7.6 5.5 2.7 5.2 3 4.9 3 2.6-7.4z"/>
<path class="d" d="M456.6 525.1l-3.8-.7-7.8-1.1-2.5 5 6.4 .9 3.1 .7 1.5-1.4z"/>
<path class="c" d="M412.4 406.4l-7.1 .7-7 .9-6.9 1-.8 1.8-1.4 4.1 7.3-1.1 7.3-.9 7.5-.7z"/>
<path class="i" d="M345.1 454.4l-6.1 2.7-5.7 2.9-5.4 3.1 .4 3.7 1.4 7.4 5.2-3 5.6-2.9 6-2.7-1.1-7.5z"/>
<path class="h" d="M485.4 526.6l-3.6-1.7-7.8-3-4.3 4.3-2.3 1.9 6.6 2.5 3.1 1.4 2.8-1.6z"/>
<path class="i" d="M372.4 518.1l-4.1 1.9-3.9 2.1-3.6 2.2 6.1 4.6 3.1 2 3.2-1.9 6.9-3.6-2.7-2.2z"/>
<path class="d" d="M476.2 409.9l-6.8-1.2-6.9-1.1-7-.8 1.3 5.8 7.4 .9 7.3 1 7.2 1.3-1.6-4.2z"/>
<path class="h" d="M520.5 436.1l-6-2.6-6.4-2.4-6.6-2.2 .6 3 .7 6.4 6.7 2.2 6.4 2.5 6.2 2.6-.9-6.5z"/>
<path class="e" d="M409 524.6l-7.5 1.7-3.5 1 4.1 3.1 2 1.3 3-.9 6-1.4-1.3-1.3z"/>
<path class="j" d="M504.6 525.9l-3.5-2.3-3.7-2.2-3.9-2-5.3 5-2.8 2.2 6.7 3.6 2.9 2 3.3-1.9z"/>
<path class="f" d="M467.4 528.1l-3.4-1.1-7.4-1.9-3.1 3.4-1.5 1.4 6 1.5 2.8 .9 2.2-1.2z"/>
<path class="j" d="M538.5 465.3l-5.1-3.2-5.5-3.1-5.8-2.8-.3 3.7-1.2 7.5 5.7 2.8 5.4 3 5 3.2 1.4-7.5z"/>
<path class="i" d="M345.1 443.9l-6.1 2.7-5.7 2.8-5.3 3.1-.3 3.5 .2 7.1 5.4-3.1 5.7-2.9 6.1-2.7-.2-7.1z"/>
<path class="e" d="M391.4 409l-6.7 1.3-6.6 1.5-6.4 1.7-1.2 1.8-2.1 4.3 6.7-1.7 7-1.6 7.1-1.4 1.4-4.1z"/>
<path class="i" d="M380.1 525.4l-6.9 3.6-3.2 1.9 6.4 3.4 3.2 1.4 2.6-1.7 5.9-3-2.7-1.6z"/>
<path class="g" d="M368.4 419.6l-6.5 2-6.3 2.2-6 2.3-1.2 2.6-1 2.7-.8 2.9 6.2-2.4 6.5-2.3 6.8-2 1.4-5.5z"/>
<path class="k" d="M344.6 506.8l-4.2 2.8-3.8 3-3.5 3.1 2.8 3 5.9 5.6 3.2-2.8 3.4-2.7 3.8-2.6-2.7-3z"/>
<path class="k" d="M338.1 496.5l-4.4 3-4.2 3.1-3.7 3.3 2.3 3.3 5 6.5 3.5-3.1 3.8-3 4.2-2.8-4.5-6.8z"/>
<path class="g" d="M398 527.3l-6.8 2.4-3.1 1.3 5.3 2.7 2.7 1 2.6-1.1 5.4-1.9-2-1.3z"/>
<path class="a" d="M433.8 402l-13.4 .3-6.7 .4-.4 1-.9 2.7 7.1-.4 7.2-.3 7.3 0z"/>
<path class="b" d="M453.8 403.1l-6.7-.5-13.3-.6 .2 3.7 7.2 .2 7.1 .3 7.2 .6-1.1-2.7z"/>
<path class="f" d="M495.5 414.7l-6.2-1.8-6.5-1.6-6.6-1.4 .9 1.7 1.6 4.2 7 1.5 6.8 1.7 6.6 1.9-2.3-4.3z"/>
<path class="j" d="M495 532.2l-2.9-2-6.7-3.6-5.5 3.8-2.8 1.6 5.5 3.1 2.5 1.7 3.4-1.3z"/>
<path class="k" d="M352.2 516.2l-3.8 2.6-3.4 2.7-3.2 2.8 6.4 5.1 3.4 2.2 2.8-2.5 3-2.4 3.4-2.4-3-2.5z"/>
<path class="h" d="M477.1 532l-3.1-1.4-6.6-2.5-4.4 3-2.2 1.2 5.4 2 2.5 1.2 2.7-1 2.8-1.1z"/>
<path class="a" d="M432.7 527.8l-6.7 .1-3.3 .2 1.3 2.3 .7 .7 7.7-.3z"/>
<path class="k" d="M333.1 485.5l-4.7 3.1-4.4 3.3-3.9 3.4 1.7 3.6 4 7 3.7-3.3 4.2-3.1 4.4-3-3.5-7.3z"/>
<path class="b" d="M442.5 528.3l-3.2-.3-6.6-.2-.3 3 7.7 .5 .8-.8z"/>
<path class="j" d="M538.5 454.6l-5.1-3.1-5.5-3-5.8-2.9 .2 3.5-.2 7.1 5.8 2.8 5.5 3.1 5.1 3.2 .2-3.6 0-3.6z"/>
<path class="h" d="M517.4 427.8l-5.8-2.5-6.1-2.3-6.4-2.1 .9 2.5 1.5 5.5 6.6 2.2 6.4 2.4 6 2.6-.9-3-1-2.7z"/>
<path class="c" d="M422.7 528.1l-6.4 .8-3.2 .5 2.7 2.1 1.4 .6 7.5-1-.7-.7z"/>
<path class="l" d="M532.1 517.8l-3.3-3.2-3.5-3-4-2.9-5.1 6.3-2.8 2.9 3.6 2.7 3.3 2.8 2.9 2.9 6-5.6z"/>
<path class="d" d="M452 529.9l-3.1-.7-6.4-.9-1.6 2.2-.8 .8 7.4 1.2 1.5-.7z"/>
<path class="l" d="M539.6 508.1l-3.5-3.3-3.9-3.3-4.2-3.1-2.1 3.5-4.6 6.8 4 2.9 3.5 3 3.3 3.2 5.1-6.3z"/>
<path class="c" d="M413.7 402.7l-6.6 .6-6.5 .9-6.3 1-1.1 1-1.8 2.8 6.9-1 7-.9 7.1-.7 .9-2.7z"/>
<path class="k" d="M360.8 524.3l-3.4 2.4-3 2.4-2.8 2.5 3.4 2.1 3.5 1.9 3.6 1.6 2.4-2.2 2.6-2.1 2.9-2-3.1-2z"/>
<path class="l" d="M523.2 526.3l-2.9-2.9-3.3-2.8-3.6-2.7-5.8 5.5-3 2.5 3.1 2.4 2.9 2.5 2.6 2.5 3.4-2.1z"/>
<path class="d" d="M473 405.9l-6.3-1.1-6.4-.9-6.5-.8 .6 1 1.1 2.7 7 .8 6.9 1.1 6.8 1.2-2-2.9z"/>
<path class="k" d="M329.7 474.2l-4.9 3.3-4.6 3.3-4.1 3.6 1.1 3.6 1.3 3.7 1.6 3.6 3.9-3.4 4.4-3.3 4.7-3.1-2.5-7.5z"/>
<path class="i" d="M346.6 434.3l-5.9 2.7-5.6 2.8-5.3 3-.8 3.1-.6 3.2-.4 3.4 5.3-3.1 5.7-2.8 6.1-2.7 .8-6.5z"/>
<path class="l" d="M545.4 497.7l-3.6-3.5-4.1-3.4-4.5-3.3-1.6 3.7-3.6 7.2 4.2 3.1 3.9 3.3 3.5 3.3 2.1-3.4 2-3.5z"/>
<path class="e" d="M413.1 529.4l-6 1.4-3 .9 2.1 .9 2 .8 2 .5 7-1.8-1.4-.6z"/>
<path class="f" d="M460.8 532.3l-2.8-.9-6-1.5-3 1.9-1.5 .7 6.9 1.8 2.1-.4 2.2-.7z"/>
<path class="i" d="M388.1 531l-5.9 3-2.6 1.7 3.2 1.1 3.2 1 3.2 .7 2.2-1.4 4.7-2.4-2.7-1z"/>
<path class="l" d="M513.2 533.3l-2.6-2.5-2.9-2.5-3.1-2.4-6.3 4.4-3.3 1.9 2.8 2.1 2.5 2.2 2.2 2.3 3.6-1.7 3.6-1.8z"/>
<path class="j" d="M485.1 536.8l-2.5-1.7-5.5-3.1-2.9 1.4-2.8 1.1-2.7 1 4.5 2.5 2 1.4 3.3-.6 3.3-.9z"/>
<path class="k" d="M370 530.9l-2.9 2-2.6 2.1-2.4 2.2 3.6 1.5 3.6 1.3 3.6 1 2-1.8 4.7-3.5-3.2-1.4z"/>
<path class="j" d="M536.6 444.8l-5-3.1-5.4-2.9-5.7-2.7 .7 3 .9 6.5 5.8 2.9 5.5 3 5.1 3.1-.4-3.3-.7-3.3z"/>
<path class="l" d="M549.5 486.8l-3.9-3.6-4.2-3.5-4.7-3.3-.9 3.7-2.6 7.4 4.5 3.3 4.1 3.4 3.6 3.5 1.6-3.6 1.3-3.7z"/>
<path class="g" d="M371.7 413.5l-6.2 1.8-5.9 2.1-5.7 2.2-1.6 2-1.4 2.2-1.3 2.3 6-2.3 6.3-2.2 6.5-2 2.1-4.3z"/>
<path class="k" d="M327.9 463.1l-5 3.3-4.6 3.4-4.1 3.5 .4 3.7 .7 3.7 .8 3.7 4.1-3.6 4.6-3.3 4.9-3.3-1.4-7.4z"/>
<path class="g" d="M404.1 531.7l-5.4 1.9-2.6 1.1 2.6 .8 2.6 .5 2.6 .3 6.3-2.4-2-.5-2-.8z"/>
<path class="e" d="M394.3 405.2l-6.3 1.1-6.1 1.4-6 1.6-1.5 1.1-1.4 1.4-1.3 1.7 6.4-1.7 6.6-1.5 6.7-1.3 1.8-2.8z"/>
<path class="h" d="M468.7 535.5l-2.5-1.2-5.4-2-2.1 .9-2.2 .7-2.1 .4 6.1 2.6 2.7-.3 2.7-.4z"/>
<path class="l" d="M502.5 538.8l-2.2-2.3-2.5-2.2-2.8-2.1-6.5 3.3-3.4 1.3 4.4 3.6 1.9 1.9 3.7-1 3.7-1.1z"/>
<path class="f" d="M491 410.4l-5.8-1.7-6-1.5-6.2-1.3 1.2 1.1 2 2.9 6.6 1.4 6.5 1.6 6.2 1.8-1.4-1.7-1.5-1.4z"/>
<path class="h" d="M512.9 421.2l-5.5-2.4-5.8-2.1-6.1-2 1.3 1.9 2.3 4.3 6.4 2.1 6.1 2.3 5.8 2.5-1.4-2.4-1.5-2.2z"/>
<path class="a" d="M433.6 400.7l-12.2 .2-6.1 .4-.5 .2-1.1 1.2 6.7-.4 13.4-.3z"/>
<path class="b" d="M451.7 401.6l-6-.5-12.1-.4 .2 1.3 13.3 .6 6.7 .5-.7-.7-.6-.5z"/>
<path class="i" d="M349.6 426.1l-5.8 2.6-5.4 2.7-5 2.8-1.4 2.7-1.2 2.9-1 3 5.3-3 5.6-2.8 5.9-2.7 .8-2.9 1-2.7z"/>
<path class="l" d="M551.5 475.8l-3.9-3.7-4.3-3.5-4.8-3.3-.4 3.6-1.4 7.5 4.7 3.3 4.2 3.5 3.9 3.6 .9-3.7 .6-3.7z"/>
<path class="a" d="M432.4 530.8l-7.7 .3 .6 .5 .6 .3 .6-.1 5.8-.2z"/>
<path class="b" d="M440.1 531.3l-7.7-.5-.2 .8 6.4 .4 .8-.2z"/>
<path class="k" d="M379.6 535.7l-4.7 3.5-2 1.8 3.7 .9 3.6 .6 3.6 .4 1.6-1.6 3.8-2.8-3.2-.7-3.2-1z"/>
<path class="c" d="M424.7 531.1l-7.5 1 1.3 .4 1.2 .2 1.2-.1 5.6-.8-.6 .1-.6-.3z"/>
<path class="i" d="M396.1 534.7l-4.7 2.4-2.2 1.4 3.2 .4 3.1 .3 3 0 1.7-1 3.7-1.9-2.6-.3-2.6-.5z"/>
<path class="d" d="M447.5 532.5l-7.4-1.2-.7 .5-.8 .2-.7 0 6.8 1 1.4-.2z"/>
<path class="m" d="M341.8 524.3l-2.8 2.9-2.4 3.1-2.1 3 3.4 2.3 3.5 2.2 3.7 1.9 1.8-2.8 2.2-2.7 2.5-2.6-3.4-2.2z"/>
<path class="k" d="M328 452.5l-5 3.2-4.6 3.4-4.2 3.5-.2 3.5-.1 3.6 .3 3.6 4.1-3.5 4.6-3.4 5-3.3-.2-7.1z"/>
<path class="m" d="M333.1 515.7l-3.1 3.1-2.7 3.3-2.3 3.4 3 2.8 3.2 2.6 3.3 2.4 2.1-3 2.4-3.1 2.8-2.9-5.9-5.6z"/>
<path class="c" d="M415.3 401.3l-11.9 1.3-5.8 .9-1.1 .3-1.2 .5-1 .9 6.3-1 6.5-.9 6.6-.6 1.1-1.2z"/>
<path class="j" d="M475.2 539.4l-2-1.4-4.5-2.5-2.8 .7-2.7 .4-2.7 .3 3.5 1.9 1.6 1.1 3.2 .1 3.2-.2z"/>
<path class="l" d="M491.4 542.3l-1.9-1.9-4.4-3.6-3.3 1.1-3.3 .9-3.3 .6 3.6 2.9 1.5 1.6 3.7-.3 3.7-.5z"/>
<path class="m" d="M351.6 531.6l-2.5 2.6-2.2 2.7-1.8 2.8 3.7 1.7 3.8 1.5 3.9 1.4 1.5-2.4 1.9-2.4 2.2-2.3-3.6-1.6-3.5-1.9z"/>
<path class="d" d="M469.3 404.2l-5.8-1-11.8-1.6 .8 .3 .6 .5 .7 .7 6.5 .8 6.4 .9 6.3 1.1-1.2-.8-1.2-.6z"/>
<path class="m" d="M325.8 505.9l-3.4 3.4-2.9 3.5-2.5 3.6 2.5 3.1 2.6 3.1 2.9 2.9 2.3-3.4 2.7-3.3 3.1-3.1-5-6.5z"/>
<path class="e" d="M417.2 532.1l-7 1.8 1.9 .2 1.8 0 1.9-.2 5.1-1.3-1.2 .1-1.2-.2z"/>
<path class="j" d="M532.9 436.2l-4.8-2.9-5.2-2.9-5.5-2.6 1.2 2.6 1 2.7 .9 3 5.7 2.7 5.4 2.9 5 3.1-1-3-1.2-2.9z"/>
<path class="f" d="M454.4 534.3l-6.9-1.8-1.4 .3-1.4 .2-1.4-.2 5.1 1.4 2 .3 2 .1z"/>
<path class="n" d="M529.8 535.4l-1.8-3.1-2.2-3.1-2.6-2.9-6.6 4.9-3.4 2.1 2.3 2.7 1.9 2.7 1.7 2.9 3.7-1.9 3.6-2z"/>
<path class="n" d="M539.4 527.8l-2-3.4-2.5-3.4-2.8-3.2-2.9 2.9-6 5.6 2.6 2.9 2.2 3.1 1.8 3.1 3.4-2.4 3.2-2.5z"/>
<path class="m" d="M362.1 537.2l-2.2 2.3-1.9 2.4-1.5 2.4 3.9 1.1 3.9 .9 4 .7 1.3-2.1 1.5-1.9 1.8-2-3.6-1-3.6-1.3z"/>
<path class="n" d="M519.1 541.6l-1.7-2.9-1.9-2.7-2.3-2.7-3.5 2-3.6 1.8-3.6 1.7 2 2.3 1.6 2.4 1.4 2.4 3.9-1.2 3.9-1.5z"/>
<path class="l" d="M551.4 465.1l-3.8-3.6-4.4-3.5-4.7-3.4 .2 3.5 0 3.6-.2 3.6 4.8 3.3 4.3 3.5 3.9 3.7 .2-3.6 0-3.6z"/>
<path class="g" d="M375.9 409.3l-5.7 1.7-5.5 1.9-5.3 2-2 1.4-1.8 1.5-1.7 1.8 5.7-2.2 5.9-2.1 6.2-1.8 1.3-1.7 1.4-1.4z"/>
<path class="m" d="M320.1 495.3l-3.6 3.6-3.1 3.7-2.7 3.7 1.9 3.5 2.1 3.3 2.3 3.3 2.5-3.6 2.9-3.5 3.4-3.4-4-7z"/>
<path class="g" d="M410.2 533.9l-6.3 2.4 2.5 0 2.4-.2 2.3-.5 4.7-1.7-1.9 .2-1.8 0z"/>
<path class="h" d="M460.5 536.9l-6.1-2.6-2 .3-2-.1-2-.3 4.5 1.9 2.5 .5 2.5 .2z"/>
<path class="n" d="M547.5 518.8l-2.2-3.6-2.6-3.6-3.1-3.5-2.4 3.4-5.1 6.3 2.8 3.2 2.5 3.4 2 3.4 2.9-2.9 2.7-3z"/>
<path class="k" d="M389.2 538.5l-3.8 2.8-1.6 1.6 3.6 .1 3.5-.1 3.4-.3 1.3-1.2 2.9-2.2-3 0-3.1-.3z"/>
<path class="e" d="M397.6 403.5l-11.2 2.3-7.2 1.8-1.6 .7-1.7 1 6-1.6 6.1-1.4 6.3-1.1 1-.9 1.2-.5z"/>
<path class="n" d="M507.5 545.9l-1.4-2.4-1.6-2.4-2-2.3-3.7 1.4-3.7 1.1-3.7 1 1.6 2 1.4 2 1.2 2.1 4-.6 4-.9z"/>
<path class="h" d="M507.1 416.4l-5.2-2.2-5.3-2-5.6-1.8 1.6 1.2 1.5 1.4 1.4 1.7 6.1 2 5.8 2.1 5.5 2.4-1.8-1.9-2-1.5z"/>
<path class="k" d="M329.8 442.8l-4.9 3.1-4.5 3.3-4.1 3.4-.9 3.3-.7 3.3-.5 3.4 4.2-3.5 4.6-3.4 5-3.2 .4-3.4 .6-3.2z"/>
<path class="i" d="M353.9 419.6l-5.4 2.4-5.1 2.5-4.8 2.7-2 2.2-1.7 2.3-1.5 2.5 5-2.8 5.4-2.7 5.8-2.6 1.3-2.3 1.4-2.2z"/>
<path class="l" d="M480.3 543.9l-1.5-1.6-3.6-2.9-3.2 .4-3.2 .2-3.2-.1 2.8 2.3 1.1 1.2 3.5 .4 3.6 .2z"/>
<path class="m" d="M372.9 541l-1.8 2-1.5 1.9-1.3 2.1 3.9 .4 3.9 .3 3.9 0 1.1-1.7 2.7-3.1-3.6-.4-3.6-.6z"/>
<path class="f" d="M485.6 408.2l-5.3-1.5-11-2.5 1.3 .3 1.2 .6 1.2 .8 6.2 1.3 6 1.5 5.8 1.7-1.7-1-1.8-.7z"/>
<path class="m" d="M316.1 484.4l-3.6 3.6-3.3 3.8-2.8 3.9 1.2 3.6 1.5 3.5 1.6 3.5 2.7-3.7 3.1-3.7 3.6-3.6-1.6-3.6-1.3-3.7z"/>
<path class="n" d="M553.9 508.9l-2.4-3.8-2.8-3.8-3.3-3.6-1.7 3.5-2 3.5-2.1 3.4 3.1 3.5 2.6 3.6 2.2 3.6 2.4-3.2 2.1-3.3z"/>
<path class="i" d="M403.9 536.3l-3.7 1.9-1.7 1 3-.2 2.9-.5 2.8-.7 3.9-2.2-2.3 .5-2.4 .2z"/>
<path class="j" d="M465.6 539.9l-1.6-1.1-3.5-1.9-2.6-.1-2.5-.2-2.5-.5 3.8 2.2 2.8 .8 3 .5z"/>
<path class="n" d="M495.6 548.4l-1.2-2.1-1.4-2-1.6-2-3.7 .8-3.7 .5-3.7 .3 2.4 3.2 1 1.7 3.9 .1 4-.2z"/>
<path class="a" d="M433.4 401.6l-10.9 .2-5.3 .3-.7-.5-.6-.3-.6 0 6.1-.4 12.2-.2z"/>
<path class="b" d="M449.5 402.4l-5.4-.4-10.7-.4 .2-.9 12.1 .4 6 .5-.7 0-.7 .3z"/>
<path class="j" d="M527.5 429.1l-4.5-2.8-4.9-2.7-5.2-2.4 1.6 2 1.5 2.2 1.4 2.4 5.5 2.6 5.2 2.9 4.8 2.9-1.6-2.5-1.8-2.4z"/>
<path class="a" d="M432.2 531.6l-5.7 .2 .5-.2 .6-.6 .5-.7 1.3-.1 2.6-.1z"/>
<path class="b" d="M437.9 532l-5.7-.4-.2-1.5 3.9 .2 .6 .8 .7 .6z"/>
<path class="l" d="M549.3 455l-3.8-3.5-4.2-3.4-4.7-3.3 .8 3.2 .7 3.3 .4 3.3 4.7 3.4 4.4 3.5 3.8 3.6-.4-3.5-.7-3.3z"/>
<path class="c" d="M426.5 531.8l-5.6 .8 1.2-.4 1.1-.6 1.1-.8 1.2-.2 2.6-.3-.5 .7-.6 .6z"/>
<path class="d" d="M443.3 532.8l-5.4-.8-.7-.3-.7-.6-.6-.8 3.7 .6 1.2 .9 1.2 .7z"/>
<path class="c" d="M417.2 402.1l-10.6 1.2-5.2 .8-1.3-.5-1.2-.2-1.3 .1 5.8-.9 11.9-1.3 .6 0 .6 .3z"/>
<path class="n" d="M558.2 498.3l-2.4-3.9-2.9-3.9-3.4-3.7-1.2 3.6-1.3 3.7-1.6 3.6 3.3 3.6 2.8 3.8 2.4 3.8 1.7-3.5 1.4-3.5z"/>
<path class="m" d="M383.8 542.9l-2.7 3.1-1.1 1.7 3.9-.2 3.8-.4 3.7-.7 .8-1.3 2.1-2.5-3.4 .3-3.5 .1z"/>
<path class="e" d="M420.9 532.6l-5.1 1.3 1.7-.5 1.7-.8 1.6-1 1.1-.3 2.4-.5-1.1 .8-1.1 .6z"/>
<path class="k" d="M398.5 539.2l-2.9 2.2-1.3 1.2 3.4-.5 3.3-.8 3.1-1 3.1-2.5-2.8 .7-2.9 .5z"/>
<path class="d" d="M465 404.7l-5.1-.9-10.4-1.4 .8-.5 .7-.3 .7 0 11.8 1.6 5.8 1-1.4-.1-1.4 .2z"/>
<path class="m" d="M314.2 473.3l-3.8 3.7-3.3 3.8-2.8 3.9 .4 3.7 .8 3.6 .9 3.7 2.8-3.9 3.3-3.8 3.6-3.6-.8-3.7-.7-3.7z"/>
<path class="f" d="M448.4 534.2l-6.4-1.7-1.2-.7-1.2-.9 3.5 1 1.7 1 1.8 .8z"/>
<path class="n" d="M483.7 548.8l-1-1.7-2.4-3.2-3.7 .1-3.6-.2-3.5-.4 1.9 2.6 .7 1.3 3.8 .7 3.8 .5z"/>
<path class="l" d="M469.5 543.4l-1.1-1.2-2.8-2.3-3.1-.3-3-.5-2.8-.8 2.8 2.6 3.3 1.1 3.3 .8z"/>
<path class="o" d="M345.1 539.7l-1.5 2.8-1.2 2.9-.9 2.9 3.9 1.4 4 1.1 4.1 1 .7-2.6 1-2.5 1.3-2.4-3.9-1.4-3.8-1.5z"/>
<path class="k" d="M333.4 434.2l-4.8 3-4.3 3.2-4 3.3-1.5 2.8-1.4 3-1.1 3.1 4.1-3.4 4.5-3.3 4.9-3.1 1-3 1.2-2.9z"/>
<path class="g" d="M381 407.2l-5.2 1.6-5 1.7-4.8 1.8-2.3 .7-2.2 .8-2.1 1.1 5.3-2 5.5-1.9 5.7-1.7 1.7-1 1.6-.7z"/>
<path class="o" d="M334.5 533.3l-1.8 3.2-1.3 3.2-1 3.3 3.6 1.9 3.7 1.8 3.8 1.6 .9-2.9 1.2-2.9 1.5-2.8-3.7-1.9-3.5-2.2z"/>
<path class="g" d="M415.8 533.9l-4.7 1.7 2.3-.7 2.2-.9 2-1.2 3.2-1.2-1.6 1-1.7 .8z"/>
<path class="o" d="M356.5 544.3l-1.3 2.4-1 2.5-.7 2.6 4 .7 4.2 .5 4.1 .3 .5-2.1 .9-2.1 1.1-2.1-4-.7-3.9-.9z"/>
<path class="h" d="M452.9 536.1l-2.9-1.3-3.4-1.1-1.8-.8-1.7-1 2.1 .8 3.1 1.7 2.2 .9z"/>
<path class="i" d="M359.4 414.9l-5 2.2-4.7 2.4-4.5 2.5-2.3 1.5-2.3 1.8-2 1.9 4.8-2.7 5.1-2.5 5.4-2.4 1.7-1.8 1.8-1.5z"/>
<path class="o" d="M325 525.5l-1.9 3.4-1.5 3.5-1.1 3.6 3.2 2.5 3.3 2.3 3.4 2.2 1-3.3 1.3-3.2 1.8-3.2-3.3-2.4-3.2-2.6z"/>
<path class="o" d="M368.3 547l-1.1 2.1-.9 2.1-.5 2.1 4.1 .1 4.1-.2 4.1-.4 .4-1.7 1.5-3.4-3.9 0-3.9-.3z"/>
<path class="h" d="M500.1 413.7l-4.6-2-4.8-1.8-5.1-1.7 1.9 .5 1.8 .7 1.7 1 5.6 1.8 5.3 2 5.2 2.2-2.2-1.2-2.3-.9z"/>
<path class="p" d="M521.9 550.2l-.6-2.9-.9-2.9-1.3-2.8-3.8 1.6-3.9 1.5-3.9 1.2 1.1 2.5 .8 2.5 .5 2.6 4.1-.9 4-1.1z"/>
<path class="e" d="M401.4 404.1l-9.9 2.1-4.8 1.2-2-.3-1.9-.1-1.8 .2 5.4-1.4 11.2-2.3 1.3-.1 1.2 .2z"/>
<path class="p" d="M509.9 553.5l-.5-2.6-.8-2.5-1.1-2.5-3.9 1-4 .9-4 .6 .9 2.1 .7 2.1 .4 2.1 4.1-.2 4.1-.4z"/>
<path class="n" d="M560.4 487.4l-2.5-4-3-3.9-3.4-3.7-.5 3.6-.6 3.7-.9 3.7 3.4 3.7 2.9 3.9 2.4 3.9 1-3.6 .8-3.7z"/>
<path class="i" d="M411.1 535.6l-3.9 2.2 2.7-.9 2.6-1.2 5.1-2.9-2 1.2-2.2 .9z"/>
<path class="p" d="M533.1 545.2l-.7-3.3-1.1-3.3-1.5-3.2-3.4 2.3-3.6 2-3.7 1.9 1.3 2.8 .9 2.9 .6 2.9 3.8-1.5 3.8-1.6z"/>
<path class="m" d="M394.3 542.6l-2.1 2.5-.8 1.3 3.7-.9 3.5-1.1 3.4-1.3 .6-.9 1.5-1.9-3.1 1-3.3 .8z"/>
<path class="l" d="M545.2 446l-3.7-3.4-4.1-3.3-4.5-3.1 1.5 2.7 1.2 2.9 1 3 4.7 3.3 4.2 3.4 3.8 3.5-1.2-3.1-1.3-3.1z"/>
<path class="j" d="M456.7 538.3l-3.8-2.2-2.4-.8-2.2-.9-2.2-1.3 5.1 3 2.7 1.2z"/>
<path class="f" d="M479.5 408.3l-4.7-1.3-9.8-2.3 1.5-.4 1.4-.2 1.4 .1 11 2.5 5.3 1.5-2-.2-2 0z"/>
<path class="p" d="M497.6 554.7l-.4-2.1-.7-2.1-.9-2.1-4 .3-4 .2-3.9-.1 .7 1.7 .5 1.8 .3 1.7 4.1 .5 4.1 .2z"/>
<path class="m" d="M314.2 462.6l-3.8 3.7-3.3 3.8-2.8 3.8-.2 3.6-.1 3.6 .3 3.6 2.8-3.9 3.3-3.8 3.8-3.7-.3-3.6 .1-3.6z"/>
<path class="j" d="M520.7 423.7l-4.3-2.6-4.5-2.4-4.8-2.3 2 1.4 2 1.5 1.8 1.9 5.2 2.4 4.9 2.7 4.5 2.8-2.1-2-2.3-1.8z"/>
<path class="o" d="M317 516.4l-2.1 3.7-1.6 3.7-1.2 3.8 2.6 3 2.8 2.8 3 2.6 1.1-3.6 1.5-3.5 1.9-3.4-2.9-2.9-2.6-3.1z"/>
<path class="n" d="M472.1 547.3l-.7-1.3-1.9-2.6-3.4-.6-3.3-.8-3.3-1.1 1.4 1.9 .5 .9 3.5 1.4 3.6 1.2z"/>
<path class="o" d="M380 547.7l-1.5 3.4-.4 1.7 4-.6 3.9-.8 3.9-1 .4-1.4 1.1-2.6-3.7 .7-3.8 .4z"/>
<path class="p" d="M543.1 538.4l-.8-3.6-1.2-3.5-1.7-3.5-3 2.7-3.2 2.5-3.4 2.4 1.5 3.2 1.1 3.3 .7 3.3 3.5-2.1 3.3-2.3z"/>
<path class="k" d="M407.2 537.8l-3.1 2.5 3.1-1.2 2.9-1.4 2.8-1.7 2-1.7-2.4 1.4-2.6 1.2z"/>
<path class="p" d="M485.2 554l-.3-1.7-.5-1.8-.7-1.7-4-.3-3.8-.5-3.8-.7 1 2.6 .2 1.4 3.9 1.1 4 .9z"/>
<path class="a" d="M433.1 404.8l-9.3 .2-4.7 .3-.6-1.3-1.3-1.9 5.3-.3 10.9-.2z"/>
<path class="l" d="M459.5 540.9l-2.8-2.6-2.8-1-2.7-1.2-2.5-1.4 1.9 1.7 2.8 1.7 3 1.5z"/>
<path class="b" d="M447 405.6l-4.6-.4-9.3-.4 .3-3.2 10.7 .4 5.4 .4-1.6 1.9z"/>
<path class="k" d="M338.6 427.2l-4.5 2.9-4.1 2.9-3.7 3.1-2.2 2.4-2 2.5-1.8 2.7 4-3.3 4.3-3.2 4.8-3 1.5-2.5 1.7-2.3z"/>
<path class="a" d="M432 530.1l-3.9 .2 .9-2.4 .4-1.5 2.4-.1z"/>
<path class="b" d="M435.9 530.3l-3.9-.2-.2-3.8 2.4 .1 .5 1.6z"/>
<path class="c" d="M428.1 530.3l-3.8 .5 1-1.1 1-1.4 .8-1.6 2.3-.3-.4 1.5z"/>
<path class="o" d="M310.7 506.3l-2.2 3.9-1.7 3.9-1.3 4 2 3.3 2.2 3.2 2.4 3 1.2-3.8 1.6-3.7 2.1-3.7-2.3-3.3-2.1-3.3z"/>
<path class="d" d="M439.6 530.9l-3.7-.6-1.2-2.3-.5-1.6 2.2 .4 1 1.6 1.1 1.4z"/>
<path class="p" d="M551.5 530.2l-.8-3.9-1.4-3.7-1.8-3.8-2.5 3.1-2.7 3-2.9 2.9 1.7 3.5 1.2 3.5 .8 3.6 3-2.6 2.8-2.7z"/>
<path class="n" d="M560.4 476.6l-2.5-4-3-3.8-3.5-3.7 .3 3.5 0 3.6-.2 3.6 3.4 3.7 3 3.9 2.5 4 .3-3.6 0-3.6z"/>
<path class="c" d="M419.1 405.3l-9.1 1-4.5 .7-1.3-1.2-1.4-1-1.4-.7 5.2-.8 10.6-1.2 1.3 1.9z"/>
<path class="o" d="M391.4 546.4l-1.1 2.6-.4 1.4 3.8-1.3 3.7-1.4 3.5-1.7 .3-1 .8-1.9-3.4 1.3-3.5 1.1z"/>
<path class="e" d="M424.3 530.8l-3.5 .8 1.5-1.2 1.4-1.5 1.3-1.7 2.1-.5-.8 1.6-1 1.4z"/>
<path class="f" d="M443.1 531.9l-3.5-1-1.1-1.1-1.1-1.4-1-1.6 2.2 .6 1.4 1.7 1.5 1.5z"/>
<path class="d" d="M460.5 407.5l-4.4-.7-9.1-1.2 .9-1.3 1.6-1.9 10.4 1.4 5.1 .9-1.5 .7-1.5 .9z"/>
<path class="m" d="M404.1 540.3l-1.5 1.9-.6 .9 3.3-1.5 3.1-1.8 3-1.9 1.5-1.9-2.8 1.7-2.9 1.4z"/>
<path class="g" d="M386.7 407.4l-9.1 2.9-4.2 1.7-2.5-.2-2.5 .2-2.4 .3 4.8-1.8 5-1.7 5.2-1.6 1.8-.2 1.9 .1z"/>
<path class="p" d="M473.3 551.3l-.2-1.4-1-2.6-3.6-1-3.6-1.2-3.5-1.4 .7 2 .2 1 3.5 1.7 3.7 1.6z"/>
<path class="g" d="M420.8 531.6l-3.2 1.2 2-1.4 1.8-1.6 1.7-1.9 1.9-.7-1.3 1.7-1.4 1.5z"/>
<path class="m" d="M316.3 452.6l-3.7 3.6-3.2 3.7-2.8 3.8-1 3.3-.8 3.4-.5 3.5 2.8-3.8 3.3-3.8 3.8-3.7 .5-3.4 .7-3.3z"/>
<path class="n" d="M461.4 543.7l-.5-.9-1.4-1.9-3.1-1.3-3-1.5-2.8-1.7 1.3 2 3 1.9 3.2 1.8z"/>
<path class="i" d="M366 412.3l-4.5 2-4.3 2.2-4.1 2.2-2.7 .9-2.7 1.1-2.5 1.3 4.5-2.5 11.8-5.7 2.2-.8z"/>
<path class="h" d="M446.1 533.1l-3-1.2-1.6-1.3-1.5-1.5-1.4-1.7 1.8 .7 1.8 1.9 1.9 1.7z"/>
<path class="l" d="M539.1 438.3l-3.5-3.2-3.8-3.1-4.3-2.9 2 2.2 1.8 2.4 1.6 2.5 4.5 3.1 4.1 3.3 3.7 3.4-1.9-2.8-2-2.5z"/>
<path class="q" d="M365.8 553.3l-.3 2.2-.1 2.1 .2 2.2 4.2-.4 4.1-.5 4.1-.8-.2-1.8 0-1.7 .3-1.8-4.1 .4-4.1 .2z"/>
<path class="r" d="M353.5 551.8l-.4 2.5-.1 2.6 .2 2.6 4.1 .3 4.2 .1 4.1-.1-.2-2.2 .1-2.1 .3-2.2-4.1-.3-4.2-.5z"/>
<path class="h" d="M492.4 413.1l-4.1-1.7-8.8-3.1 2.1-.3 2 0 2 .2 5.1 1.7 4.8 1.8 4.6 2-2.5-.5-2.5-.1z"/>
<path class="i" d="M417.6 532.8l-2.7 1.5 2.4-1.6 2.1-1.8 2.1-2.1 1.6-.9-1.7 1.9-1.8 1.6z"/>
<path class="r" d="M378.1 552.8l-.3 1.8 0 1.7 .2 1.8 4-1 4-1.2 3.9-1.4-.2-1.4 .2-2.7-3.9 1-3.9 .8z"/>
<path class="p" d="M558.2 520.8l-1-4-1.4-4-1.9-3.9-1.9 3.4-2.1 3.3-2.4 3.2 1.8 3.8 1.4 3.7 .8 3.9 2.5-3 2.2-3.2z"/>
<path class="j" d="M448.7 534.7l-2.6-1.6-2-1.4-1.9-1.7-1.8-1.9 1.6 1 2 2 2.3 1.9z"/>
<path class="q" d="M341.5 548.3l-.4 2.9-.2 3 .3 2.9 3.9 1 4 .8 4.1 .6-.2-2.6 .1-2.6 .4-2.5-4.1-1-4-1.1z"/>
<path class="o" d="M306.4 495.7l-2.3 3.9-1.8 4.1-1.3 4.1 1.3 3.5 1.5 3.4 1.7 3.4 1.3-4 1.7-3.9 2.2-3.9-1.6-3.5-1.5-3.5z"/>
<path class="e" d="M405.5 407l-8.6 1.8-4.1 1.1-2.1-1.1-2-.8-2-.6 4.8-1.2 9.9-2.1 1.4 .7 1.4 1z"/>
<path class="j" d="M512.5 420.3l-3.9-2.3-4.1-2.2-4.4-2.1 2.5 .6 2.3 .9 7 3.5 4.5 2.4 4.3 2.6-2.6-1.3-2.8-1.2z"/>
<path class="s" d="M497.2 561.2l.4-2.1 .1-2.2-.1-2.2-4.2 0-4.1-.2-4.1-.5 .1 1.8-.1 1.7-.3 1.8 4.1 .8 4.1 .7z"/>
<path class="o" d="M402 543.1l-.8 1.9-.3 1 3.4-1.8 3.3-2.1 3.1-2.2 .7-2-3 1.9-3.1 1.8z"/>
<path class="s" d="M509.6 561.2l.4-2.6 .1-2.6-.2-2.5-4.1 .6-4.1 .4-4.1 .2 .1 2.2-.1 2.2-.4 2.1 4.1 .2 4.2 0z"/>
<path class="s" d="M484.9 559.3l.3-1.8 .1-1.7-.1-1.8-4-.7-4-.9-3.9-1.1 0 2.7-.3 1.4 3.9 1.5 3.9 1.3z"/>
<path class="k" d="M414.9 534.3l-2 1.7 2.6-1.8 2.4-2.1 2.7-2.6 .9-.7-2.1 2.1-2.1 1.8z"/>
<path class="f" d="M472.9 410.7l-4-1.2-8.4-2 1.5-1.2 1.5-.9 1.5-.7 9.8 2.3 4.7 1.3-2.1 .5-2.2 .8z"/>
<path class="p" d="M462.3 546.7l-.2-1-.7-2-3.3-1.6-3.2-1.8-3-1.9 .6 2 3.1 2.3 3.2 2.1z"/>
<path class="q" d="M389.9 550.4l-.2 2.7 .2 1.4 3.8-1.6 3.7-1.9 3.5-2-.1-1 .1-2-3.5 1.7-3.7 1.4z"/>
<path class="l" d="M450.6 536.4l-1.2-1.2-3.1-2.2-2.3-1.9-2-2 3.5 3.3 2.5 2.1z"/>
<path class="n" d="M558.1 466.2l-2.5-3.8-2.9-3.8-3.4-3.6 1 3.3 .7 3.3 .4 3.5 3.5 3.7 3 3.8 2.5 4-.5-3.5-.8-3.5z"/>
<path class="q" d="M330.4 543l-.5 3.3-.2 3.3 .2 3.3 3.7 1.6 3.7 1.4 3.9 1.2-.3-2.9 .2-3 .4-2.9-3.8-1.6-3.7-1.8z"/>
<path class="k" d="M345.2 422l-4.1 2.6-3.8 2.8-3.4 2.8-2.7 1.8-2.6 2-2.3 2.1 3.7-3.1 4.1-2.9 4.5-2.9 2-1.9 2.3-1.8z"/>
<path class="s" d="M521.6 559.1l.4-2.9 .2-3-.3-3-3.9 1.3-4 1.1-4.1 .9 .2 2.5-.1 2.6-.4 2.6 4-.5 4-.7z"/>
<path class="s" d="M473 555.4l.3-1.4 0-2.7-3.8-1.3-3.7-1.6-3.5-1.7-.1 2-.2 1 3.6 2.1 3.6 1.9z"/>
<path class="m" d="M412.9 536l-1.5 1.9 2.8-2.1 2.7-2.3 2.4-2.5 .9-1.1-2.3 2.2-2.4 2.1z"/>
<path class="n" d="M451.9 538.4l-1.3-2-2.6-1.9-2.5-2.1-2.4-2.3 .8 1.2 2.5 2.5 2.6 2.4z"/>
<path class="p" d="M562.7 510.5l-1-4.1-1.5-4.1-2-4-1.2 3.6-1.4 3.5-1.7 3.5 1.9 3.9 1.4 4 1 4 1.7-3.4 1.5-3.4z"/>
<path class="m" d="M320.3 443.7l-3.5 3.4-3.1 3.5-2.7 3.7-1.7 3-1.5 3.1-1.2 3.3 2.8-3.8 3.2-3.7 3.7-3.6 1.1-3.1 1.4-3z"/>
<path class="q" d="M400.9 546l-.1 2 .1 1 3.4-2.2 3.3-2.3 3.1-2.6 0-2-3.1 2.2-3.3 2.1z"/>
<path class="a" d="M432.9 410.3l-7.9 .2-3.8 .2-2.1-5.4 4.7-.3 9.3-.2z"/>
<path class="b" d="M444.5 410.9l-3.8-.3-7.8-.3 .2-5.5 9.3 .4 4.6 .4z"/>
<path class="o" d="M304.3 484.7l-2.4 4-1.8 4.1-1.4 4.2 .5 3.6 .8 3.6 1 3.6 1.3-4.1 1.8-4.1 2.3-3.9-.9-3.7-.8-3.6z"/>
<path class="q" d="M320.5 536l-.6 3.6-.3 3.6 .3 3.7 3.2 2.2 3.3 2 3.5 1.8-.2-3.3 .2-3.3 .5-3.3-3.4-2.2-3.3-2.3z"/>
<path class="s" d="M532.8 555.1l.5-3.3 .1-3.3-.3-3.3-3.6 1.9-3.8 1.6-3.8 1.5 .3 3-.2 3-.4 2.9 3.8-1.1 3.7-1.4z"/>
<path class="s" d="M462 549.7l.2-1 .1-2-3.5-1.9-3.2-2.1-3.1-2.3-.2 2 3.1 2.6 3.2 2.4z"/>
<path class="a" d="M431.8 526.3l-2.4 .1 1.1-6.1 1.2 0z"/>
<path class="b" d="M434.2 526.4l-2.4-.1-.1-6 1.2 0z"/>
<path class="c" d="M429.4 526.4l-2.3 .3 1.6-3.9 .6-2.3 1.2-.2z"/>
<path class="d" d="M436.4 526.8l-2.2-.4-1.3-6.1 1.1 .2 .7 2.3z"/>
<path class="l" d="M531.3 432.2l-3.2-2.9-3.5-2.9-3.9-2.7 2.4 1.6 2.3 1.8 2.1 2 4.3 2.9 3.8 3.1 3.5 3.2-2.4-2.3-2.6-2z"/>
<path class="o" d="M411.4 537.9l-.7 2 2.9-2.4 2.8-2.6 2.5-2.7 .4-1.2-2.4 2.5-2.7 2.3z"/>
<path class="e" d="M427.1 526.7l-2.1 .5 1.2-1.9 1.1-2.2 1-2.4 1-.2-.6 2.3z"/>
<path class="c" d="M421.2 410.7l-7.7 .9-3.7 .5-1.4-1.9-2.9-3.2 4.5-.7 9.1-1z"/>
<path class="f" d="M438.6 527.4l-2.2-.6-1.7-4-.7-2.3 1.1 .3 1 2.4 1.2 2.2z"/>
<path class="p" d="M452.5 540.4l-.6-2-2.9-2.2-2.6-2.4-2.5-2.5 .3 1.2 2.6 2.8 2.7 2.6z"/>
<path class="i" d="M373.4 412l-4 1.7-3.8 1.9-3.6 2-3 .2-3 .3-2.9 .6 4.1-2.2 4.3-2.2 4.5-2 2.4-.3 2.5-.2z"/>
<path class="g" d="M392.8 409.9l-7.8 2.5-3.6 1.4-2.7-.9-2.7-.6-2.6-.3 4.2-1.7 9.1-2.9 2 .6 2 .8z"/>
<path class="t" d="M378 558.1l.4 1.8 .6 1.7 .8 1.7 3.9-1.4 3.9-1.6 3.7-1.8-.6-1.3-.8-2.7-3.9 1.4-4 1.2z"/>
<path class="g" d="M425 527.2l-1.9 .7 1.5-2 1.4-2.3 1.3-2.5 1-.4-1 2.4-1.1 2.2z"/>
<path class="d" d="M455.7 412.6l-3.6-.7-7.6-1 2.5-5.3 9.1 1.2 4.4 .7-3.2 3.2z"/>
<path class="t" d="M389.9 554.5l.8 2.7 .6 1.3 3.7-2 3.6-2.2 3.4-2.3-.5-1-.6-2-3.5 2-3.7 1.9z"/>
<path class="h" d="M440.4 528.1l-1.8-.7-1.3-2-1.2-2.2-1-2.4 .9 .4 1.3 2.5 1.5 2.3z"/>
<path class="t" d="M365.6 559.8l.5 2.1 .7 2.2 1 2.1 4-.8 4-.9 4-1.2-.8-1.7-.6-1.7-.4-1.8-4.1 .8-4.1 .5z"/>
<path class="i" d="M423.1 527.9l-1.6 .9 1.8-2.2 1.7-2.4 1.5-2.7 .8-.4-1.3 2.5-1.4 2.3z"/>
<path class="j" d="M442 529.1l-1.6-1-1.6-2.1-1.5-2.3-1.3-2.5 .8 .4 1.5 2.7 1.7 2.5z"/>
<path class="u" d="M471.2 559.4l.8-1.3 1-2.7-3.8-1.7-3.6-1.9-3.6-2.1-.7 2-.6 .9 3.4 2.4 3.5 2.3z"/>
<path class="h" d="M484 414.8l-3.5-1.5-7.6-2.6 2.3-1.1 2.2-.8 2.1-.5 8.8 3.1 4.1 1.7-2.7 .3-2.8 .6z"/>
<path class="u" d="M482.6 564.4l1-1.7 .7-1.7 .6-1.7-4.1-1.1-3.9-1.3-3.9-1.5-1 2.7-.8 1.3 3.8 1.9 3.8 1.6z"/>
<path class="n" d="M553.6 456.7l-2.4-3.7-2.8-3.5-3.2-3.5 1.6 2.8 1.3 3.1 1.2 3.1 3.4 3.6 2.9 3.8 2.5 3.8-1.3-3.2-1.5-3.2z"/>
<path class="t" d="M400.9 549l.6 2 .5 1 3.3-2.5 3.2-2.7 3-2.9-.8-2-3.1 2.6-3.3 2.3z"/>
<path class="r" d="M410.7 539.9l0 2 2.9-2.7 2.8-2.8 2.5-3 0-1.2-2.5 2.7-2.8 2.6z"/>
<path class="s" d="M542.8 549.3l.5-3.7 .1-3.6-.3-3.6-3.2 2.4-3.3 2.3-3.5 2.1 .3 3.3-.1 3.3-.5 3.3 3.5-1.8 3.3-1.9z"/>
<path class="j" d="M503.3 419l-3.4-2.1-3.6-1.9-3.9-1.9 2.7 0 2.5 .1 2.5 .5 4.4 2.1 4.1 2.2 3.9 2.3-3-.7-3.1-.4z"/>
<path class="k" d="M421.5 528.8l-1.3 1.1 2.1-2.5 1.9-2.6 1.7-2.7 .6-.6-1.5 2.7-1.7 2.4z"/>
<path class="s" d="M452.3 542.4l.2-2-3-2.5-2.7-2.6-2.6-2.8-.1 1.2 2.5 3 2.8 2.9z"/>
<path class="l" d="M443.1 530.1l-1.1-1-2-2.3-1.7-2.5-1.5-2.7 .5 .6 1.8 2.8 1.9 2.6z"/>
<path class="u" d="M460.7 552.6l.6-.9 .7-2-3.4-2.3-3.2-2.4-3.1-2.6-.9 2 2.9 2.9 3.1 2.7z"/>
<path class="q" d="M312.1 527.6l-.7 3.9-.3 3.8 .3 3.9 2.6 2.7 2.9 2.6 3 2.4-.3-3.7 .3-3.6 .6-3.6-3-2.6-2.8-2.8z"/>
<path class="p" d="M565 499.7l-1-4.1-1.5-4.2-2.1-4-.4 3.6-.8 3.7-1 3.6 2 4 1.5 4.1 1 4.1 1-3.5 .8-3.6z"/>
<path class="u" d="M494.5 567.6l1.1-2.1 1-2.1 .6-2.2-4.1-.4-4.1-.7-4.1-.8-.6 1.7-.7 1.7-1 1.7 4 1.3 3.9 1.1z"/>
<path class="t" d="M353.2 559.5l.5 2.5 .9 2.6 1.1 2.5 4-.1 4.1-.3 4-.5-1-2.1-.7-2.2-.5-2.1-4.1 .1-4.2-.1z"/>
<path class="e" d="M409.8 412.1l-7.2 1.5-3.4 .9-2.2-1.8-4.2-2.8 4.1-1.1 8.6-1.8 2.9 3.2z"/>
<path class="m" d="M420.2 529.9l-.9 1.1 2.3-2.6 2-2.8 2.3-3.5-1.7 2.7-1.9 2.6z"/>
<path class="k" d="M353.1 418.7l-3.7 2.4-3.4 2.5-3.1 2.6-3.2 1.1-3 1.4-2.8 1.5 3.4-2.8 3.8-2.8 4.1-2.6 2.5-1.3 2.7-1.1z"/>
<path class="n" d="M443.9 531.3l-.5-.8-2.4-2.9-1.9-2.6-1.8-2.8 2.3 3.5 2 2.9z"/>
<path class="o" d="M304.3 473.9l-2.3 4-1.9 4.1-1.3 4.1-.3 3.6 0 3.6 .2 3.7 1.4-4.2 1.8-4.1 2.4-4-.3-3.6 .1-3.6z"/>
<path class="t" d="M410.7 541.9l.8 2 2.8-2.9 2.6-3.1 2.5-3.3-.5-1.2-2.5 3-2.8 2.8z"/>
<path class="f" d="M466.2 415.2l-3.4-1-7.1-1.6 1.6-1.9 3.2-3.2 8.4 2 4 1.2-4.5 2.7z"/>
<path class="m" d="M326.3 436.1l-3.4 3.2-2.9 3.4-2.5 3.4-2.4 2.5-2.1 2.8-2 2.9 2.7-3.7 3.1-3.5 3.5-3.4 1.8-2.7 2-2.5z"/>
<path class="u" d="M451.4 544.4l.9-2-2.9-2.8-2.8-2.9-2.5-3-.5 1.2 2.4 3.3 2.6 3.1z"/>
<path class="o" d="M419.3 531l-.4 1.2 2.3-2.9 2.1-3 1.9-3.1 .2-.6-1.8 3-2 2.8z"/>
<path class="u" d="M506.4 568.7l1.4-2.5 1-2.5 .8-2.5-4.1 .2-4.2 0-4.1-.2-.6 2.2-1 2.1-1.1 2.1 4 .6 4 .4z"/>
<path class="p" d="M444.2 532.5l-.3-1.2-2.3-2.7-2-2.9-1.9-3 .2 .6 1.9 3.2 2.1 3.1z"/>
<path class="v" d="M402 552l1.3 1.9 .8 .9 3.1-2.9 2.9-3 2.8-3.1-1.4-1.9-3 2.9-3.2 2.7z"/>
<path class="v" d="M391.3 558.5l1.8 2.6 1.1 1.2 3.4-2.3 3.4-2.5 3.1-2.7-.8-.9-1.3-1.9-3.4 2.3-3.6 2.2z"/>
<path class="t" d="M341.2 557.1l.6 3 .9 2.9 1.3 2.9 3.9 .6 3.9 .4 3.9 .2-1.1-2.5-.9-2.6-.5-2.5-4.1-.6-4-.8z"/>
<path class="w" d="M458.3 555.4l.9-.9 1.5-1.9-3.3-2.6-3.1-2.7-2.9-2.9-1.7 1.8 5.6 6.3z"/>
<path class="r" d="M418.9 532.2l0 1.2 2.3-3.1 2.2-3.2 1.8-3.3 0-.6-1.9 3.1-2.1 3z"/>
<path class="s" d="M551.3 541.8l.6-3.9 0-3.8-.4-3.9-2.6 2.9-2.8 2.7-3 2.6 .3 3.6-.1 3.6-.5 3.7 3-2.3 2.9-2.5z"/>
<path class="l" d="M522.1 428l-2.9-2.7-3.2-2.5-3.5-2.5 2.8 .9 2.8 1.2 2.6 1.3 3.9 2.7 3.5 2.9 3.2 2.9-2.9-1.6-3.1-1.4z"/>
<path class="w" d="M468 563.1l1.3-1.2 1.9-2.5-3.6-2.1-3.5-2.3-3.4-2.4-1.5 1.9-.9 .9 6.4 5.3z"/>
<path class="v" d="M411.5 543.9l1.4 1.9 2.6-3.2 2.5-3.4 2.3-3.4-.9-1.2-2.5 3.3-2.6 3.1z"/>
<path class="s" d="M444.1 533.7l.1-1.2-2.3-2.9-2.1-3.1-1.9-3.2-.1 .7 1.9 3.3 2.1 3.3z"/>
<path class="v" d="M379.8 563.3l2.3 3.3 1.4 1.6 3.6-1.7 3.6-2 3.5-2.2-1.1-1.2-1.8-2.6-3.7 1.8-3.9 1.6z"/>
<path class="w" d="M449.7 546.2l1.7-1.8-2.8-3.1-2.6-3.1-2.4-3.3-1 1.1 2.2 3.5z"/>
<path class="q" d="M305.5 518.1l-.8 4-.2 4.1 .2 4.1 2 3.1 2.2 3 2.5 2.8-.3-3.9 .3-3.8 .7-3.9-2.4-3-2.2-3.2z"/>
<path class="a" d="M432.6 417.9l-9.4 .3-2-7.5 3.8-.2 7.9-.2z"/>
<path class="b" d="M442 418.4l-9.4-.5 .3-7.6 7.8 .3 3.8 .3z"/>
<path class="t" d="M418.9 533.4l.5 1.2 2.2-3.3 2.1-3.4 1.8-3.5-.3-.6-1.8 3.3-2.2 3.2z"/>
<path class="i" d="M381.4 413.8l-6.7 3.2-3.1 1.7-3.2-.6-3.2-.4-3.2-.1 3.6-2 3.8-1.9 4-1.7 2.6 .3 2.7 .6z"/>
<path class="u" d="M443.6 534.9l.5-1.2-2.3-3.1-2.1-3.3-1.9-3.3-.3 .5 1.8 3.6 2 3.4z"/>
<path class="a" d="M431.7 520.3l-1.2 0 .7-8 .3-.1 .1 0z"/>
<path class="b" d="M432.9 520.3l-1.2 0-.1-8.1 .4 .1z"/>
<path class="n" d="M547 448.4l-2.2-3.5-2.7-3.3-3-3.3 2.2 2.4 2 2.5 1.9 2.8 3.2 3.5 2.8 3.5 2.4 3.7-2-2.9-2.2-2.8z"/>
<path class="c" d="M430.5 520.3l-1.2 .2 1.1-5.3 .4-2.9 .4 0z"/>
<path class="d" d="M434 520.5l-1.1-.2-.9-8 .4 0 .4 2.9z"/>
<path class="w" d="M478.5 569.3l1.6-1.6 2.5-3.3-3.8-1.5-3.8-1.6-3.8-1.9-1.9 2.5-1.3 1.2 3.5 2.3 3.5 2z"/>
<path class="p" d="M565 488.8l-1.1-4.1-1.5-4.1-2-4 .3 3.6 0 3.6-.3 3.6 2.1 4 1.5 4.2 1 4.1 .2-3.6 0-3.6z"/>
<path class="e" d="M429.3 520.5l-1 .2 1.6-5.3 .6-3 .3-.1-.4 2.9z"/>
<path class="x" d="M457.3 556.2l1-.8-3-2.9-5.6-6.3-.6 .6 5.3 6.4z"/>
<path class="g" d="M399.2 414.5l-6.5 2.2-3.1 1.1-2.7-1.5-2.8-1.4-2.7-1.1 3.6-1.4 7.8-2.5 4.2 2.8z"/>
<path class="f" d="M435.1 520.8l-1.1-.3-1.2-5.3-.4-2.9 .3 .1 .7 3z"/>
<path class="u" d="M518 567.8l1.5-2.8 1.2-3 .9-2.9-4 .9-4 .7-4 .5-.8 2.5-1 2.5-1.4 2.5 3.9 0 3.9-.3z"/>
<path class="x" d="M449.1 546.8l.6-.6-4.9-6.7-2.2-3.5-.4 .4 2.1 3.5z"/>
<path class="g" d="M428.3 520.7l-1 .4 1.1-2.7 1-2.9 .7-3 .4-.1-.6 3z"/>
<path class="c" d="M423.2 418.2l-9.1 1.1-1.5-2.6-2.8-4.6 3.7-.5 7.7-.9z"/>
<path class="y" d="M412.9 545.8l2.2 1.7 4.5-7 2-3.7-1.3-1-2.3 3.4-2.5 3.4z"/>
<path class="y" d="M404.1 554.8l3.2 2.5 2.7-3.1 5.1-6.7-2.2-1.7-2.8 3.1-2.9 3z"/>
<path class="h" d="M436 521.2l-.9-.4-1.7-5.4-.7-3 .3 .1 .8 3.1 1 2.9z"/>
<path class="v" d="M419.4 534.6l.9 1.2 2.1-3.6 1.8-3.6 1.7-3.6-.4-.6-1.8 3.5-2.1 3.4z"/>
<path class="i" d="M427.3 521.1l-.8 .4 1.3-2.8 1.1-2.9 1-3.1 .2-.2-.7 3-1 2.9z"/>
<path class="j" d="M436.8 521.6l-.8-.4-1.2-2.7-1-2.9-.8-3.1 .3 .2 .9 3.1 1.2 3z"/>
<path class="d" d="M451 419.7l-9-1.3 2.5-7.5 7.6 1 3.6 .7-3.1 4.5z"/>
<path class="w" d="M442.6 536l1-1.1-2.3-3.4-2-3.4-1.8-3.6-.5 .6 1.7 3.7 1.8 3.6z"/>
<path class="v" d="M367.8 566.2l1.3 2.1 1.4 2 1.8 2 3.8-1.1 3.7-1.4 3.7-1.6-1.4-1.6-2.3-3.3-4 1.2-4 .9z"/>
<path class="k" d="M426.5 521.5l-.6 .6 1.5-3 1.2-3.1 1.1-3.2 .2-.1-1 3.1-1.1 2.9z"/>
<path class="t" d="M329.9 552.9l.7 3.3 1 3.3 1.5 3.2 3.5 1.3 3.7 1.1 3.7 .8-1.3-2.9-.9-2.9-.6-3-3.9-1.2-3.7-1.4z"/>
<path class="l" d="M437.3 522.2l-.5-.6-1.4-2.8-1.2-3-.9-3.1 .2 .2 1 3.2 1.3 3.1z"/>
<path class="x" d="M466.7 564.3l1.3-1.2-3.3-2.4-6.4-5.3-1 .8 6.2 5.6z"/>
<path class="h" d="M475.4 418.7l-2.9-1.3-6.3-2.2 2.2-1.8 4.5-2.7 7.6 2.6 3.5 1.5-2.8 1.1-2.9 1.3z"/>
<path class="z" d="M446.6 548.4l2.5-1.6-4.8-6.9-2.1-3.5-1.5 .9 3.8 7.5z"/>
<path class="o" d="M306.6 463.7l-2.3 3.8-1.8 4-2.4 7.5-.8 3.5-.5 3.6 1.3-4.1 1.9-4.1 2.3-4 .5-3.5 .8-3.4z"/>
<path class="j" d="M493.4 419.9l-2.9-1.8-6.5-3.3 2.9-.8 2.8-.6 2.7-.3 3.9 1.9 3.6 1.9 3.4 2.1-3.3 .1-3.3 .3z"/>
<path class="x" d="M442.2 536.4l.4-.4-2.1-3.6-1.8-3.6-1.7-3.7-.2 .2 1.6 3.7z"/>
<path class="m" d="M425.9 522.1l-.5 .5 1.6-3.1 2.7-6.7-1.1 3.2-1.2 3.1z"/>
<path class="y" d="M420.3 535.8l1.3 1 3.5-7.5 1.5-3.8-.7-.5-1.7 3.6-1.8 3.6z"/>
<path class="y" d="M394.2 562.3l2.7 2.4 1.6 1.1 3-2.7 5.8-5.8-3.2-2.5-3.1 2.7-3.4 2.5z"/>
<path class="n" d="M437.7 522.7l-1.9-3.5-1.3-3.1-1-3.2 1.2 3.5 1.4 3.2z"/>
<path class="z" d="M453.7 558.6l3.6-2.4-2.9-3-5.3-6.4-2.5 1.6 4.6 6.9z"/>
<path class="aa" d="M415.1 547.5l2.7 1.5 1.9-3.7 3.5-7.6-1.6-.9-2 3.7z"/>
<path class="o" d="M425.4 522.6l1.5-2.6 1.4-3.4 1.2-3.6-1.1 3.3-1.4 3.2z"/>
<path class="k" d="M362 417.6l-3.2 2.1-3.1 2.2-2.7 2.3-3.5 .5-3.3 .6-3.3 .9 3.1-2.6 3.4-2.5 3.7-2.4 2.9-.6 3-.3z"/>
<path class="z" d="M440.7 537.3l1.5-.9-3.8-7.4-1.6-3.7-.7 .4 1.3 3.9z"/>
<path class="p" d="M437.9 523.3l-3.2-6.9-1.1-3.3 1.2 3.6 1.4 3.4z"/>
<path class="m" d="M333.9 430.2l-3.1 3-2.7 3.1-2.3 3.1-2.9 2-2.8 2.3-2.6 2.4 2.5-3.4 2.9-3.4 5.7-5.3 2.6-2z"/>
<path class="w" d="M489.5 573.6l1.9-2 1.7-2 1.4-2-4-.8-3.9-1.1-4-1.3-2.5 3.3-1.6 1.6 3.7 1.6 3.6 1.5z"/>
<path class="s" d="M558 533l.5-4.1 .1-4.1-.4-4-2 3.2-2.2 3.2-2.5 3 .4 3.9 0 3.8-.6 3.9 2.5-2.8 2.2-2.9z"/>
<path class="aa" d="M421.6 536.8l1.6 .9 3-7.8 1.2-4-.8-.4-1.5 3.8z"/>
<path class="q" d="M425.2 523.2l0 .6 1.7-3.4 1.4-3.5 1.2-3.7-1.2 3.4-1.4 3.4z"/>
<path class="s" d="M437.8 524l.1-.7-1.7-3.2-1.4-3.4-1.2-3.4 1.2 3.7 1.4 3.5z"/>
<path class="e" d="M414.1 419.3l-5.8 1.3-2.8 .7-2.1-2.5-4.2-4.3 3.4-.9 7.2-1.5 2.8 4.6z"/>
<path class="ab" d="M443.6 549.7l3-1.3-2.1-3.6-3.8-7.5-1.9 .8 3.1 7.8z"/>
<path class="aa" d="M407.3 557.3l4 2.2 2.3-3.4 4.2-7.1-2.7-1.5-5.1 6.7z"/>
<path class="ab" d="M438.8 538.1l1.9-.8-3.3-7.7-1.3-3.9-.9 .4 1.1 4.1z"/>
<path class="t" d="M425.2 523.8l.3 .6 1.6-3.5 1.3-3.6 1.1-3.7 0-.2-1.2 3.5-1.4 3.5z"/>
<path class="u" d="M437.5 524.5l.3-.5-1.6-3.5-1.4-3.5-1.2-3.5-.1 .1 1.1 3.7 1.4 3.7z"/>
<path class="ac" d="M423.2 537.7l2 .7 2.2-8.1 1-4-1-.4-1.2 4z"/>
<path class="ac" d="M417.8 549l3.2 1.2 1.5-3.9 2.7-7.9-2-.7-3.5 7.6z"/>
<path class="q" d="M301 507.8l-.8 4.1-.3 4.2 .2 4.2 1.3 3.4 1.5 3.3 1.8 3.3-.2-4.1 .2-4.1 .8-4-1.7-3.4-1.5-3.4z"/>
<path class="f" d="M459.4 421.8l-2.7-.8-5.7-1.3 1.6-2.6 3.1-4.5 7.1 1.6 3.4 1-4.6 4.2z"/>
<path class="x" d="M476.8 570.8l1.7-1.5-3.5-1.9-3.5-2-3.5-2.3-1.3 1.2 6.7 4.5z"/>
<path class="v" d="M425.5 524.4l.4 .6 1.5-3.7 1.3-3.8 1-3.7-.2-.2-1.1 3.7-1.3 3.6z"/>
<path class="ad" d="M436.7 538.7l2.1-.6-2.5-7.9-1.1-4.1-1.1 .3z"/>
<path class="z" d="M461.7 567.6l1.8-1.1 3.2-2.2-3.2-2.5-6.2-5.6-3.6 2.4 5.3 6.1z"/>
<path class="w" d="M437 525.1l.5-.6-1.5-3.5-1.4-3.7-1.1-3.7-.1 .2 1 3.8 1.2 3.8z"/>
<path class="u" d="M528.8 564.9l1.7-3.2 1.4-3.3 .9-3.3-3.7 1.5-3.7 1.4-3.8 1.1-.9 2.9-1.2 3-1.5 2.8 3.7-.7 3.6-1z"/>
<path class="ae" d="M425.2 538.4l2.2 .5 2.1-12.4-1.1-.2-1 4z"/>
<path class="x" d="M436.8 525.3l.2-.2-1.4-3.7-1.2-3.8-1-3.8 .9 3.9z"/>
<path class="ad" d="M440.1 550.7l3.5-1-1.7-3.8-3.1-7.8-2.1 .6z"/>
<path class="y" d="M425.9 525l.7 .5 1.3-3.8 2-7.7-.2-.2-1 3.7-1.3 3.8z"/>
<path class="v" d="M355.7 567.1l1.5 2.5 1.8 2.4 2 2.3 3.8-.4 3.7-.7 3.8-.9-1.8-2-1.4-2-1.3-2.1-4 .5-4.1 .3z"/>
<path class="y" d="M383.5 568.2l3.4 3.1 2 1.4 3.3-2.1 6.3-4.8-1.6-1.1-2.7-2.4-3.5 2.2-3.6 2z"/>
<path class="af" d="M434.5 539.1l2.2-.4-2.6-12.3-1.1 .2z"/>
<path class="ab" d="M449.3 560.5l4.4-1.9-2.5-3.3-4.6-6.9-3 1.3 3.7 7.3z"/>
<path class="z" d="M436.1 525.7l.7-.4-2.5-7.6-1-3.8-.3 .1 .9 3.9z"/>
<path class="ag" d="M427.4 538.9l2.3 .3 .9-12.5-1.1-.2z"/>
<path class="l" d="M511.8 425.8l-2.6-2.3-2.8-2.3-3.1-2.2 3.1 .2 3.1 .4 3 .7 3.5 2.5 3.2 2.5 2.9 2.7-3.3-1-3.5-.7z"/>
<path class="ah" d="M432.1 539.3l2.4-.2-1.5-12.5-1.2 .1z"/>
<path class="aa" d="M426.6 525.5l.8 .4 2-7.9 .8-3.9-.3-.1-.9 3.8z"/>
<path class="ae" d="M421 550.2l3.6 .9 2.8-12.2-2.2-.5-2.7 7.9z"/>
<path class="ai" d="M429.7 539.2l2.4 .1-.3-12.6-1.2 0z"/>
<path class="ab" d="M435.2 526.1l.9-.4-2.2-7.8-.9-3.9-.3 .2 .7 3.9z"/>
<path class="ac" d="M427.4 525.9l1 .4 1.5-8.1 .6-4-.3-.1-.8 3.9z"/>
<path class="af" d="M436.4 551.4l3.7-.7-3.4-12-2.2 .4z"/>
<path class="ad" d="M434.1 526.4l1.1-.3-1.8-8-.7-3.9-.3 .1z"/>
<path class="p" d="M562.5 478.2l-.9-4.1-1.5-3.9-2-4 1 3.4 .8 3.5 .5 3.5 2 4 1.5 4.1 1.1 4.1-.6-3.6-.8-3.5z"/>
<path class="ae" d="M428.4 526.3l1.1 .2 1.4-12.2-.4-.1-.6 4z"/>
<path class="ac" d="M411.3 559.5l4.7 1.8 1.8-3.6 3.2-7.5-3.2-1.2-4.2 7.1z"/>
<path class="t" d="M319.9 546.9l.7 3.6 1.1 3.6 1.6 3.5 3.1 1.9 3.3 1.7 3.4 1.5-1.5-3.2-1-3.3-.7-3.3-3.5-1.8-3.3-2z"/>
<path class="ag" d="M424.6 551.1l3.9 .5 1.2-12.4-2.3-.3z"/>
<path class="af" d="M433 526.6l1.1-.2-1.7-12.1-.4 0z"/>
<path class="aj" d="M398.5 565.8l3.5 2.1 1.9 .9 2.5-2.9 4.9-6.4-4-2.2-5.8 5.8z"/>
<path class="ag" d="M429.5 526.5l1.1 .2 .6-12.4-.3 0z"/>
<path class="n" d="M538.6 441.5l-2-3.2-2.5-3.1-2.8-3 2.8 1.8 2.6 2 2.4 2.3 3 3.3 2.7 3.3 2.2 3.5-2.6-2.5-2.8-2.3z"/>
<path class="ah" d="M431.8 526.7l1.2-.1-1-12.3-.4 .1z"/>
<path class="ai" d="M430.6 526.7l1.2 0-.2-12.3-.4-.1z"/>
<path class="ah" d="M432.4 551.7l4-.3-1.9-12.3-2.4 .2z"/>
<path class="ai" d="M428.5 551.6l3.9 .1-.3-12.4-2.4-.1z"/>
<path class="i" d="M389.6 417.8l-5.6 2.7-2.5 1.4-3.3-1.3-3.3-1.1-3.3-.8 3.1-1.7 6.7-3.2 2.7 1.1 2.8 1.4z"/>
<path class="w" d="M500.5 575.9l2.3-2.3 1.9-2.4 1.7-2.5-3.9-.1-4-.4-4-.6-1.4 2-1.7 2-1.9 2 3.7 1 3.7 .8z"/>
<path class="ad" d="M444.2 562l5.1-1.5-2-3.5-3.7-7.3-3.5 1z"/>
<path class="a" d="M432.4 427.2l-7.3 .3-1.9-9.3 9.4-.3z"/>
<path class="b" d="M439.5 427.6l-7.1-.4 .2-9.3 9.4 .5z"/>
<path class="o" d="M311 454.3l-2.2 3.7-1.7 3.7-1.3 3.9-1.8 3.2-1.5 3.3-1.3 3.4 1.3-4 1.8-4 2.3-3.8 1.2-3.3 1.5-3.1z"/>
<path class="g" d="M405.5 421.3l-5.2 1.7-2.5 1-2.7-2.3-5.5-3.9 3.1-1.1 6.5-2.2 4.2 4.3z"/>
<path class="a" d="M431.6 512.2l-.4 .1 .4-9.8z"/>
<path class="b" d="M432 512.3l-.4-.1 0-9.7z"/>
<path class="c" d="M431.2 512.3l-.4 0 .7-9.8z"/>
<path class="d" d="M432.4 512.3l-.4 0-.4-9.8 .4 6.7z"/>
<path class="e" d="M430.8 512.3l-.3 .1 .4-3.2 .6-6.7-.1 3.4z"/>
<path class="f" d="M432.7 512.4l-.3-.1-.4-3.1-.4-6.7 .6 6.8z"/>
<path class="g" d="M430.5 512.4l-.4 .1 .7-3.2 .7-6.8-.2 3.4z"/>
<path class="ae" d="M416 561.3l5.3 1.2 3.3-11.4-3.6-.9-3.2 7.5z"/>
<path class="h" d="M433 512.5l-.3-.1-.5-3.1-.6-6.8 .8 6.8z"/>
<path class="i" d="M430.1 512.5l-.2 .2 .7-3.3 .5-3.4 .4-3.5-.3 3.5z"/>
<path class="j" d="M433.3 512.7l-.3-.2-.6-3.2-.8-6.8 .4 3.5 .5 3.4z"/>
<path class="z" d="M470.5 575l2.3-1.3 4-2.9-3.4-2-6.7-4.5-3.2 2.2-1.8 1.1 5.8 5.1z"/>
<path class="k" d="M429.9 512.7l-.2 .1 .8-3.3 .6-3.4 .3-3.6-.3 3.5-.5 3.4z"/>
<path class="l" d="M433.5 512.9l-.2-.2-.8-3.3-.5-3.4-.3-3.5 .3 3.6 .6 3.4z"/>
<path class="c" d="M425.1 427.5l-7 .9-1.3-3.2-2.7-5.9 9.1-1.1z"/>
<path class="x" d="M487.4 575.5l2.1-1.9-3.7-1.2-3.6-1.5-3.7-1.6-1.7 1.5 3.5 1.8 3.5 1.5z"/>
<path class="ab" d="M455.7 570.3l2.1-.9 3.9-1.8-2.7-2.9-5.3-6.1-4.4 1.9 4.2 6.7z"/>
<path class="m" d="M429.7 512.8l-.2 .2 .9-3.4 .6-3.5 .4-3.6-.3 3.6-.6 3.4z"/>
<path class="n" d="M433.6 513.1l-1-3.6-.6-3.4-.3-3.6 .4 3.6 .6 3.5z"/>
<path class="s" d="M562.6 523.1l.5-4.2 .1-4.2-.5-4.2-1.3 3.5-1.5 3.4-1.7 3.4 .4 4-.1 4.1-.5 4.1 1.7-3.2 1.6-3.3z"/>
<path class="o" d="M429.5 513l.9-3.3 .6-3.6 .4-3.6-.4 3.6-.6 3.5z"/>
<path class="p" d="M433.6 513.3l-.9-3.7-.6-3.5-.4-3.6 .4 3.7 .6 3.5z"/>
<path class="r" d="M429.5 513.2l.9-3.4 .6-3.6 .4-3.7-.4 3.6-.6 3.6z"/>
<path class="s" d="M433.6 513.5l-.9-3.8-.6-3.5-.4-3.7 .4 3.7 .6 3.6z"/>
<path class="d" d="M446.5 428.6l-7-1 2.5-9.2 9 1.3-3.1 5.8z"/>
<path class="j" d="M483.2 423l-2.4-1.5-5.4-2.8 2.9-1.5 2.9-1.3 2.8-1.1 6.5 3.3 2.9 1.8-3.4 .8-3.4 1z"/>
<path class="af" d="M438.6 563l5.6-1-4.1-11.3-3.7 .7z"/>
<path class="t" d="M429.5 513.4l0 .2 .9-3.7 .6-3.7 .4-3.6-.4 3.6-.6 3.6z"/>
<path class="u" d="M433.5 513.6l.1-.1-.9-3.7-.6-3.6-.4-3.6 .3 3.7 .7 3.7z"/>
<path class="h" d="M466.8 424.6l-2.3-1-5.1-1.8 2.2-2.4 4.6-4.2 6.3 2.2 2.9 1.3-5.7 3.7z"/>
<path class="v" d="M429.5 513.6l.2 .2 .8-3.8 .6-3.7 .3-3.7-.4 3.6-.6 3.7z"/>
<path class="w" d="M433.4 513.8l.1-.2-.8-3.6-.7-3.7-.3-3.7 .3 3.7 .6 3.8z"/>
<path class="x" d="M433.3 513.9l-1.3-7.6-.3-3.7 .3 3.7 .5 3.8z"/>
<path class="y" d="M429.7 513.8l.2 .2 .7-3.9 .5-3.8 .3-3.7-.3 3.7-.6 3.7z"/>
<path class="m" d="M342.9 426.2l-2.8 2.7-2.4 2.8-2.1 2.8-3.4 1.4-3.3 1.7-3.1 1.8 2.3-3.1 2.7-3.1 3.1-3 2.8-1.5 3-1.4z"/>
<path class="y" d="M372.3 572.3l2 1.9 2.2 1.9 2.5 1.8 3.3-1.5 6.6-3.7-2-1.4-3.4-3.1-3.7 1.6-3.7 1.4z"/>
<path class="z" d="M433 514l.3-.1-.8-3.8-.5-3.8-.3-3.7 .2 3.8z"/>
<path class="aa" d="M429.9 514l.3 .1 .6-3.9 .6-7.6-.3 3.7z"/>
<path class="ab" d="M432.7 514.2l.3-.2-1.1-7.6-.3-3.8 .2 3.8z"/>
<path class="ag" d="M421.3 562.5l5.7 .8 1.5-11.7-3.9-.5z"/>
<path class="k" d="M371.6 418.7l-2.8 1.8-2.6 1.9-2.3 2-3.7-.3-3.6 0-3.6 .1 2.7-2.3 3.1-2.2 3.2-2.1 3.2 .1 3.2 .4z"/>
<path class="ac" d="M430.2 514.1l.3 .1 .5-3.9 .5-7.7-.3 3.8z"/>
<path class="ad" d="M432.4 514.3l.3-.1-.9-7.8-.2-3.8 .2 3.8z"/>
<path class="ae" d="M430.5 514.2l.4 .1 .6-11.7-.2 3.8z"/>
<path class="af" d="M432 514.3l.4 0-.6-7.9-.2-3.8z"/>
<path class="ag" d="M430.9 514.3l.3 0 .3-11.7z"/>
<path class="ah" d="M431.6 514.4l.4-.1-.4-11.7z"/>
<path class="ai" d="M431.2 514.3l.4 .1-.1-11.8z"/>
<path class="u" d="M538.5 560l1.9-3.5 1.4-3.6 1-3.6-3.2 2.1-3.3 1.9-3.5 1.8-.9 3.3-1.4 3.3-1.7 3.2 3.4-1.4 3.3-1.7z"/>
<path class="v" d="M344 565.9l1.7 2.9 2 2.8 2.4 2.7 3.6 .3 3.6 0 3.7-.3-2-2.3-1.8-2.4-1.5-2.5-3.9-.2-3.9-.4z"/>
<path class="ah" d="M432.9 563.4l5.7-.4-2.2-11.6-4 .3z"/>
<path class="r" d="M298.7 497l-.8 4.1-.3 4.3 .2 4.2 .5 3.6 .8 3.6 1 3.5-.2-4.2 .3-4.2 .8-4.1-1-3.6-.8-3.6z"/>
<path class="ac" d="M403.9 568.8l4.2 1.7 2.3 .8 1.9-3.2 3.7-6.8-4.7-1.8-4.9 6.4z"/>
<path class="ai" d="M427 563.3l5.9 .1-.5-11.7-3.9-.1z"/>
<path class="aa" d="M388.9 572.7l4.5 2.7 2.5 1.2 2.7-2.4 5.3-5.4-1.9-.9-3.5-2.1-6.3 4.8z"/>
<path class="e" d="M418.1 428.4l-6.5 1.5-2-3.1-4.1-5.5 2.8-.7 5.8-1.3 2.7 5.9z"/>
<path class="f" d="M452.9 430.3l-6.4-1.7 1.4-3.1 3.1-5.8 5.7 1.3 2.7 .8-4.4 5.5z"/>
<path class="ad" d="M448.8 572.3l6.9-2-2.2-3.1-4.2-6.7-5.1 1.5 3 7z"/>
<path class="t" d="M311.4 539.2l.7 3.9 1.2 3.9 1.6 3.8 2.6 2.5 2.8 2.2 3 2.1-1.6-3.5-1.1-3.6-.7-3.6-3-2.4-2.9-2.6z"/>
<path class="l" d="M500.7 425.8l-2.2-2.1-2.4-1.9-2.7-1.9 3.3-.5 3.3-.3 3.3-.1 3.1 2.2 2.8 2.3 2.6 2.3-3.7-.2-3.7-.1z"/>
<path class="p" d="M557.8 468.2l-.9-3.9-1.4-3.8-1.9-3.8 1.7 3.1 1.5 3.2 1.3 3.2 2 4 1.5 3.9 .9 4.1-1.3-3.5-1.6-3.3z"/>
<path class="w" d="M511.3 576.1l2.5-2.7 2.3-2.7 1.9-2.9-3.8 .6-3.9 .3-3.9 0-1.7 2.5-1.9 2.4-2.3 2.3 3.7 .3 3.5 .1z"/>
<path class="n" d="M528.7 436.4l-1.9-2.8-2.2-2.9-2.5-2.7 3.2 1.2 3.1 1.4 2.9 1.6 2.8 3 2.5 3.1 2 3.2-3.2-1.9-3.3-1.7z"/>
<path class="a" d="M431.6 502.5l-.1-3.6z"/>
<path class="b" d="M431.6 502.5l-.1-3.6z"/>
<path class="c" d="M431.5 502.5l0-3.6z"/>
<path class="d" d="M431.6 502.5l-.1-3.6z"/>
<path class="e" d="M431.5 502.5l0-3.6z"/>
<path class="f" d="M431.6 502.5l-.1-3.6z"/>
<path class="g" d="M431.5 502.5l0-3.6z"/>
<path class="h" d="M431.6 502.5l-.1-3.6z"/>
<path class="i" d="M431.5 502.5l0-3.6z"/>
<path class="j" d="M431.7 502.5l-.2-3.6z"/>
<path class="k" d="M431.4 502.5l.1-3.6z"/>
<path class="l" d="M431.7 502.5l-.2-3.6z"/>
<path class="m" d="M431.4 502.5l.1-3.6z"/>
<path class="n" d="M431.7 502.5l-.2-3.6z"/>
<path class="o" d="M431.4 502.5l.1-3.6z"/>
<path class="p" d="M431.7 502.5l-.2-3.6z"/>
<path class="q" d="M431.4 502.5l.1-3.6z"/>
<path class="s" d="M431.7 502.6l-.2-3.7z"/>
<path class="t" d="M431.4 502.6l.1-3.7z"/>
<path class="u" d="M431.7 502.6l-.2-3.7z"/>
<path class="v" d="M431.4 502.6l.1-3.7z"/>
<path class="w" d="M431.7 502.6l-.2-3.7z"/>
<path class="x" d="M431.7 502.6l-.2-3.7z"/>
<path class="y" d="M431.4 502.6l.1-3.7z"/>
<path class="z" d="M431.6 502.6l-.1-3.7z"/>
<path class="aa" d="M431.4 502.6l.1-3.7z"/>
<path class="ab" d="M431.6 502.6l-.1-3.7z"/>
<path class="ac" d="M431.5 502.6l0-3.7z"/>
<path class="ad" d="M431.6 502.6l-.1-3.7z"/>
<path class="ae" d="M431.5 502.6l0-3.7z"/>
<path class="af" d="M431.6 502.6l-.1-3.7z"/>
<path class="ag" d="M431.5 502.6l0-3.7z"/>
<path class="ah" d="M431.6 502.6l-.1-3.7z"/>
<path class="ai" d="M431.5 502.6l0-3.7z"/>
<path class="ae" d="M410.4 571.3l7.2 1.7 3.7-10.5-5.3-1.2-3.7 6.8z"/>
<path class="z" d="M479.6 580.7l2.8-1.7 5-3.5-3.6-1.4-3.5-1.5-3.5-1.8-4 2.9-2.3 1.3 6 4z"/>
<path class="ab" d="M462.7 578.5l2.7-1.1 5.1-2.4-3-2.3-5.8-5.1-3.9 1.8-2.1 .9 4.6 5.6z"/>
<path class="i" d="M397.8 424l-4.4 2.1-2.1 1.2-3.2-2-3.3-1.8-3.3-1.6 2.5-1.4 5.6-2.7 5.5 3.9z"/>
<path class="o" d="M317.5 446.1l-2.1 3.5-1.6 3.5-1.2 3.6-2.5 2.8-2.2 3-2.1 3.1 1.3-3.9 1.7-3.7 2.2-3.7 2-2.9 2.1-2.8z"/>
<path class="x" d="M498 578.1l2.5-2.2-3.6-.5-3.7-.8-3.7-1-2.1 1.9 3.5 1.1 3.6 .9z"/>
<path class="af" d="M441.2 573.7l7.6-1.4-1.6-3.3-3-7-5.6 1z"/>
<path class="a" d="M432.1 438l-5.2 .2-1.8-10.7 7.3-.3z"/>
<path class="b" d="M437.3 438.3l-5.2-.3 .3-10.8 7.1 .4z"/>
<path class="g" d="M411.6 429.9l-5.9 2-2.5-2.8-5.4-5.1 2.5-1 5.2-1.7 4.1 5.5z"/>
<path class="s" d="M564.9 512.4l.5-4.2 .1-4.2-.5-4.3-.5 3.7-.8 3.6-1 3.5 .5 4.2-.1 4.2-.5 4.2 1-3.5 .8-3.6z"/>
<path class="ag" d="M417.6 573l7.7 1 1.7-10.7-5.7-.8z"/>
<path class="y" d="M361 574.3l2.4 2.3 2.6 2.3 2.9 2.1 3.3-.8 3.4-1.1 3.4-1.2-2.5-1.8-2.2-1.9-2-1.9-3.8 .9-3.7 .7z"/>
<path class="c" d="M426.9 438.2l-5 .7-3.8-10.5 7-.9z"/>
<path class="j" d="M473 428.1l-1.9-1.2-4.3-2.3 2.9-2.2 5.7-3.7 5.4 2.8 2.4 1.5-3.4 1.4-3.4 1.7z"/>
<path class="d" d="M442.3 439.1l-5-.8 2.2-10.7 7 1z"/>
<path class="ah" d="M433.3 574.2l7.9-.5-2.6-10.7-5.7 .4z"/>
<path class="h" d="M458.6 432.4l-5.7-2.1 2.1-3 4.4-5.5 5.1 1.8 2.3 1-5.6 5z"/>
<path class="m" d="M353 424.2l-2.4 2.4-2.2 2.5-1.8 2.5-3.8 .7-3.6 1-3.6 1.2 2.1-2.8 2.4-2.8 2.8-2.7 3.3-.9 3.3-.6z"/>
<path class="ai" d="M425.3 574l8 .2-.4-10.8-5.9-.1z"/>
<path class="k" d="M381.5 421.9l-4.5 3.2-1.9 1.6-3.8-1-3.7-.8-3.7-.5 2.3-2 2.6-1.9 2.8-1.8 3.3 .8 3.3 1.1z"/>
<path class="ac" d="M395.9 576.6l5.4 2.2 2.9 1 2.1-2.7 4.1-5.8-2.3-.8-4.2-1.7-5.3 5.4z"/>
<path class="v" d="M333.1 562.7l1.8 3.3 2.3 3.1 2.6 3.1 3.3 .9 3.5 .7 3.5 .5-2.4-2.7-2-2.8-1.7-2.9-3.7-.8-3.7-1.1z"/>
<path class="u" d="M546.8 553.3l2-3.8 1.5-3.8 1-3.9-2.6 2.7-2.9 2.5-3 2.3-1 3.6-1.4 3.6-1.9 3.5 3-2 2.7-2.3z"/>
<path class="r" d="M298.8 486.1l-.9 4.1-.3 4.2 .2 4.2-.3 3.7 0 3.6 .3 3.7-.2-4.2 .3-4.3 .8-4.1-.2-3.7 0-3.6z"/>
<path class="m" d="M431.5 498.9l-.2-11.5 .3 0z"/>
<path class="m" d="M431.5 498.9l.1-11.5 .2 0z"/>
<path class="m" d="M431.5 498.9l-.4-11.5 .2 0z"/>
<path class="m" d="M431.5 498.9l.3-11.5 .2 .1z"/>
<path class="m" d="M431.5 498.9l-.2-7.5-.4-3.9 .2-.1z"/>
<path class="w" d="M431.5 498.9l.5-11.4 .2 0-.4 3.9z"/>
<path class="m" d="M431.5 498.9l-.3-7.5-.4-3.8 .1-.1 .4 3.9z"/>
<path class="w" d="M431.5 498.9l.3-7.5 .4-3.9 .2 .1-.5 3.8z"/>
<path class="m" d="M431.5 498.9l-.1-3.7-.3-3.7-.5-3.9 .2 0 .4 3.8z"/>
<path class="w" d="M431.5 498.9l.4-7.5 .5-3.8 .1 .1-.5 3.8-.3 3.7z"/>
<path class="m" d="M431.5 498.9l-.1-3.7-.3-3.7-.6-3.8 .1-.1 .5 3.9 .3 3.7z"/>
<path class="w" d="M431.5 498.9l.2-3.7 .3-3.7 .5-3.8 .1 .1-.6 3.7-.3 3.7z"/>
<path class="w" d="M431.5 498.9l-.1-3.7-.9-7.5 .6 3.8 .3 3.7z"/>
<path class="w" d="M431.5 498.9l.2-3.7 .3-3.7 .6-3.7-.9 7.4z"/>
<path class="aa" d="M379 577.9l5.5 3.3 3.1 1.5 2.8-1.8 5.5-4.3-2.5-1.2-4.5-2.7-6.6 3.7z"/>
<path class="w" d="M431.5 498.9l-.1-3.6-.4-3.7-.6-3.8 .6 3.7 .4 3.7z"/>
<path class="w" d="M431.5 498.9l.2-3.7 .4-3.6 .6-3.7-.6 3.7-.4 3.7z"/>
<path class="e" d="M421.9 438.9l-4.7 1.1-1.8-3.6-3.8-6.5 6.5-1.5z"/>
<path class="w" d="M431.5 498.9l-.1-3.6-.4-3.7-.6-3.7 .6 3.7 .4 3.7z"/>
<path class="w" d="M431.5 498.9l.2-3.6 .4-3.7 .6-3.6-.6 3.7-.4 3.6z"/>
<path class="w" d="M431.5 498.9l-.1-3.6-.4-3.6-.6-3.6 .6 3.5 .4 3.7z"/>
<path class="w" d="M431.5 498.9l.2-3.6 .4-3.6 .6-3.6-.7 3.6-.3 3.6z"/>
<path class="w" d="M431.5 498.9l-.1-3.6-.3-3.6-.7-3.5 .6 3.5 .4 3.6z"/>
<path class="w" d="M431.5 498.9l.2-3.6 .3-3.6 .7-3.5-.7 3.5-.3 3.6z"/>
<path class="w" d="M431.5 498.9l.2-3.6 .3-3.6 .6-3.4-.6 3.5-.3 3.5z"/>
<path class="w" d="M431.5 498.9l-.1-3.6-.3-3.5-.5-3.4-.1-.1 .6 3.4 .3 3.6z"/>
<path class="w" d="M431.5 498.9l.2-3.6 .3-3.5 .5-3.5-.1 .1-.5 3.4z"/>
<path class="w" d="M431.5 498.9l-.3-7.1-.4-3.4-.2 0 .5 3.4 .3 3.5z"/>
<path class="w" d="M431.5 498.9l.4-7.1 .5-3.4-.2 .1-.3 3.3z"/>
<path class="w" d="M431.5 498.9l-.2-7.1-.3-3.3-.2-.1 .4 3.4z"/>
<path class="w" d="M431.5 498.9l.4-7.1 .3-3.3-.2 0-.2 3.4z"/>
<path class="w" d="M431.5 498.9l-.1-7-.2-3.3-.2-.1 .3 3.3z"/>
<path class="w" d="M431.5 498.9l.3-7 .2-3.4-.2 .1z"/>
<path class="w" d="M431.5 498.9l-.1-10.3-.2 0z"/>
<path class="w" d="M431.5 498.9l.3-10.3-.2 0z"/>
<path class="w" d="M431.5 498.9l.1-10.3-.2 0z"/>
<path class="f" d="M446.9 440.3l-4.6-1.2 4.2-10.5 6.4 1.7-4.1 6.5z"/>
<path class="l" d="M489.2 427.9l-1.8-1.7-4.2-3.2 3.4-1.3 3.4-1 3.4-.8 2.7 1.9 2.4 1.9 2.2 2.1-3.8 .4-3.9 .7z"/>
<path class="t" d="M304.7 530.3l.7 4 1.3 4.1 1.7 4 2 2.9 2.1 2.8 2.4 2.7-1.6-3.8-1.2-3.9-.7-3.9-2.5-2.8-2.2-3z"/>
<path class="ad" d="M453.8 581.2l3.1-.8 5.8-1.9-2.4-2.6-4.6-5.6-6.9 2 3.3 6.1z"/>
<path class="p" d="M551 459.1l-.9-3.6-1.3-3.6-1.8-3.5 2.4 2.6 2.2 2.8 2 2.9 1.9 3.8 1.4 3.8 .9 3.9-2-3.2-2.3-3z"/>
<path class="n" d="M517.5 433.3l-1.6-2.6-1.9-2.5-2.2-2.4 3.5 .5 3.5 .7 3.3 1 2.5 2.7 2.2 2.9 1.9 2.8-3.7-1.2-3.7-1.1z"/>
<path class="w" d="M521.3 574.2l2.9-3 2.5-3.1 2.1-3.2-3.5 1.2-3.6 1-3.7 .7-1.9 2.9-2.3 2.7-2.5 2.7 3.4-.4 3.4-.7z"/>
<path class="a" d="M431.9 449.9l-3.4 .2-1.6-11.9 5.2-.2z"/>
<path class="b" d="M435.3 450.1l-3.4-.2 .2-11.9 5.2 .3z"/>
<path class="i" d="M405.7 431.9l-4.9 2.6-3.1-2.6-6.4-4.6 2.1-1.2 4.4-2.1 5.4 5.1z"/>
<path class="g" d="M417.2 440l-4.2 1.4-2.3-3.3-5-6.2 5.9-2 3.8 6.5z"/>
<path class="ae" d="M404.2 579.8l6.1 1.6 3.2 .7 4.1-9.1-7.2-1.7-4.1 5.8z"/>
<path class="c" d="M428.5 450.1l-3.3 .4-3.3-11.6 5-.7z"/>
<path class="o" d="M325.8 439.4l-1.9 3.2-1.5 3.3-1.1 3.3-3 2.3-3 2.5-2.7 2.7 1.2-3.6 1.6-3.5 2.1-3.5 2.6-2.4 2.8-2.3z"/>
<path class="d" d="M438.6 450.6l-3.3-.5 2-11.8 5 .8z"/>
<path class="z" d="M488.8 584.3l3.3-1.9 3.1-2.1 2.8-2.2-3.5-.6-3.6-.9-3.5-1.1-5 3.5-2.8 1.7 3.1 1.4 3 1.2z"/>
<path class="h" d="M451 441.8l-4.1-1.5 1.9-3.5 4.1-6.5 5.7 2.1-5.2 6.1z"/>
<path class="j" d="M463.3 435.1l-4.7-2.7 2.6-2.8 5.6-5 4.3 2.3 1.9 1.2-3.3 2.1-3.2 2.4z"/>
<path class="ab" d="M470 585l3.4-1.3 6.2-3-3.1-1.7-6-4-5.1 2.4-2.7 1.1 4.9 4.5z"/>
<path class="a" d="M431.6 487.4l-.3 0-.5-12.3 .6 0 .2 0z"/>
<path class="b" d="M431.8 487.4l-.2 0 0-12.3 .9 0z"/>
<path class="c" d="M431.3 487.4l-.2 0-1.2-12.2 .9-.1z"/>
<path class="d" d="M432 487.5l-.2-.1 .7-12.3 .9 .2z"/>
<path class="x" d="M508.3 578.7l3-2.6-3.6 .2-3.5-.1-3.7-.3-2.5 2.2 3.5 .5 3.5 .1z"/>
<path class="e" d="M431.1 487.4l-.2 .1-1.1-8-.7-4.1 .8-.2z"/>
<path class="s" d="M564.8 501.4l.6-4.2 0-4.2-.4-4.2 .2 3.7 0 3.6-.2 3.6 .5 4.3-.1 4.2-.5 4.2 .2-3.6 0-3.7z"/>
<path class="f" d="M432.2 487.5l-.2 0 .4-4 1-8.2 .8 .2-.8 4z"/>
<path class="k" d="M391.3 427.3l-3.6 2.5-1.5 1.3-3.7-1.7-3.7-1.4-3.7-1.3 1.9-1.6 4.5-3.2 3.3 1.6 3.3 1.8z"/>
<path class="e" d="M425.2 450.5l-3.1 .7-1.5-3.8-3.4-7.4 4.7-1.1z"/>
<path class="g" d="M430.9 487.5l-.1 .1-1.5-7.9-.9-4 .7-.3 .7 4.1z"/>
<path class="m" d="M363.9 424.4l-2.1 2.1-1.8 2.1-1.6 2.1-4 .1-3.9 .3-3.9 .5 1.8-2.5 2.2-2.5 2.4-2.4 3.6-.1 3.6 0z"/>
<path class="h" d="M432.4 487.6l-.2-.1 .5-4 1.5-8 .7 .3-1 3.9z"/>
<path class="af" d="M444.1 582.9l3.3-.5 6.4-1.2-1.7-2.8-3.3-6.1-7.6 1.4z"/>
<path class="i" d="M430.8 487.6l-.2 0-1.7-7.7-1.1-3.9 .6-.3 .9 4z"/>
<path class="f" d="M441.6 451.4l-3-.8 3.7-11.5 4.6 1.2-3.6 7.3z"/>
<path class="j" d="M432.5 487.7l-.1-.1 .6-3.9 1.9-7.9 .5 .3-1.1 3.9-1 3.8z"/>
<path class="k" d="M430.6 487.6l-.1 .1-.8-3.7-1.1-3.8-1.3-3.8 .5-.4 1.1 3.9z"/>
<path class="l" d="M432.6 487.8l-.1-.1 .8-3.9 2.1-7.7 .5 .4-1.3 3.7-1.1 3.8z"/>
<path class="y" d="M350.1 574.3l2.7 2.7 3 2.5 3.3 2.5 3.2-.1 3.3-.3 3.3-.6-2.9-2.1-2.6-2.3-2.4-2.3-3.7 .3-3.6 0z"/>
<path class="a" d="M431.8 462.4l-2 .1-1.3-12.4 3.4-.2z"/>
<path class="b" d="M433.7 462.6l-1.9-.2 .1-12.5 3.4 .2z"/>
<path class="m" d="M430.5 487.7l-.1 .1-.9-3.7-1.1-3.6-1.4-3.7 .3-.4 1.3 3.8 1.1 3.8z"/>
<path class="ag" d="M413.5 582.1l6.7 .9 3.3 .4 1.8-9.4-7.7-1z"/>
<path class="q" d="M301.2 475.5l-.9 4-.3 4.1 .3 4.1-1.1 3.6-.8 3.6-.6 3.7-.2-4.2 .3-4.2 1.4-7.7 .8-3.5z"/>
<path class="n" d="M432.7 487.9l.8-3.9 1.1-3.8 1.3-3.7 .3 .4-1.4 3.6-1.2 3.7z"/>
<path class="c" d="M429.8 462.5l-1.9 .3-2.7-12.3 3.3-.4z"/>
<path class="u" d="M553.3 545l2-3.9 1.6-4.1 1.1-4-2 3.1-2.2 2.9-2.5 2.8-1 3.9-1.5 3.8-2 3.8 2.4-2.6 2.1-2.7z"/>
<path class="a" d="M431.6 475.1l-.8 0-1-12.6 2-.1z"/>
<path class="b" d="M432.5 475.1l-.9 0 .2-12.7 1.9 .2z"/>
<path class="d" d="M435.6 462.8l-1.9-.2 1.6-12.5 3.3 .5z"/>
<path class="v" d="M323.3 557.6l2 3.6 2.4 3.4 2.9 3.4 2.9 1.6 3.1 1.4 3.2 1.2-2.6-3.1-2.3-3.1-1.8-3.3-3.4-1.5-3.3-1.7z"/>
<path class="o" d="M430.4 487.8l-2.1-7-1.5-3.6 .2-.4 1.4 3.7 1.1 3.6z"/>
<path class="c" d="M430.8 475.1l-.9 .1-2-12.4 1.9-.3z"/>
<path class="p" d="M432.7 488l.9-3.8 1.2-3.7 1.4-3.6 .1 .4-1.5 3.5-1.1 3.6z"/>
<path class="d" d="M433.4 475.3l-.9-.2 1.2-12.5 1.9 .2z"/>
<path class="l" d="M477.8 432l-1.4-1.3-3.4-2.6 3.4-2 3.4-1.7 3.4-1.4 4.2 3.2 1.8 1.7-3.8 1.1-3.8 1.4z"/>
<path class="g" d="M422.1 451.2l-2.8 1-2-3.7-4.3-7.1 4.2-1.4 3.4 7.4z"/>
<path class="ah" d="M433.8 583.6l3.5-.1 6.8-.6-2.9-9.2-7.9 .5z"/>
<path class="e" d="M429.9 475.2l-.8 .2-1.9-8.1-1.1-4.1 1.8-.4z"/>
<path class="q" d="M430.4 487.9l-1-3.4-1.1-3.4-1.5-3.4 0-.5 1.5 3.6 1.1 3.5z"/>
<path class="e" d="M427.9 462.8l-1.8 .4-1.2-4.1-2.8-7.9 3.1-.7z"/>
<path class="s" d="M432.7 488.1l1-3.7 1.1-3.6 1.5-3.5-.1 .5-1.4 3.3-1.2 3.5z"/>
<path class="i" d="M413 441.4l-3.6 1.9-2.8-3.1-5.8-5.7 4.9-2.6 5 6.2z"/>
<path class="f" d="M434.2 475.5l-.8-.2 2.2-12.5 1.7 .5-1.1 4.1z"/>
<path class="ac" d="M387.6 582.7l6.6 2.7 3.6 1.2 2.2-2.1 4.2-4.7-2.9-1-5.4-2.2-5.5 4.3z"/>
<path class="ai" d="M423.5 583.4l6.9 .3 3.4-.1-.5-9.4-8-.2z"/>
<path class="f" d="M437.3 463.3l-1.7-.5 3-12.2 3 .8-2.9 7.9z"/>
<path class="h" d="M444.3 452.4l-2.7-1 1.7-3.8 3.6-7.3 4.1 1.5-4.6 7z"/>
<path class="t" d="M430.4 488.1l-.9-3.4-1.1-3.3-1.6-3.7 1.5 3.4 1.1 3.4z"/>
<path class="u" d="M432.7 488.2l.9-3.6 1.2-3.5 1.4-3.3-1.5 3.6-1.2 3.4z"/>
<path class="g" d="M429.1 475.4l-.7 .3-2.4-8-1.5-3.9 1.6-.6 1.1 4.1z"/>
<path class="h" d="M434.9 475.8l-.7-.3 2-8.1 1.1-4.1 1.6 .6-1.5 3.9z"/>
<path class="n" d="M505.6 432.2l-1.4-2.2-1.6-2.2-1.9-2 3.7-.3 3.7 .1 3.7 .2 2.2 2.4 1.9 2.5 1.6 2.6-3.9-.6-4-.4z"/>
<path class="v" d="M430.4 488.2l-.7-3.3-1.1-3.3-1.2-3.1-.4-.4 1.4 3.3 1.1 3.3z"/>
<path class="p" d="M542.2 451.4l-.8-3.3-1.2-3.3-1.6-3.3 3 2.1 2.8 2.3 2.6 2.5 1.8 3.5 1.3 3.6 .9 3.6-2.7-2.7-3-2.6z"/>
<path class="w" d="M432.6 488.3l.9-3.5 1.2-3.4 1.3-3.2-.4 .4-1.2 3.1-1 3.2z"/>
<path class="j" d="M454.4 443.7l-3.4-1.9 2.4-3.3 5.2-6.1 4.7 2.7-6.1 5.6z"/>
<path class="aa" d="M368.9 581l3.2 2 3.4 2 3.6 1.8 2.8-1.2 2.8-1.3 2.9-1.6-3.1-1.5-5.5-3.3-3.4 1.2-3.4 1.1z"/>
<path class="g" d="M426.1 463.2l-1.6 .6-1.6-4-3.6-7.6 2.8-1 2.8 7.9z"/>
<path class="x" d="M432.5 488.3l.9-3.4 1-3.2 1.2-3.1-1.3 3.2-1 3.2z"/>
<path class="y" d="M430.5 488.3l.1 .1-.7-3.3-.9-3.2-1.2-3-.4-.4 1.2 3.1 1.1 3.3z"/>
<path class="i" d="M428.4 475.7l-.6 .3-2.9-7.7-1.7-3.8 1.3-.7 1.5 3.9z"/>
<path class="z" d="M432.4 488.4l.1-.1 .8-3.3 1-3.2 1.2-3.1-.6 .4-1 2.9-.8 3.2z"/>
<path class="t" d="M300.1 520.3l.7 4.2 1.3 4.1 3.1 7.5 1.5 3.2 1.7 3.1-1.7-4-1.3-4.1-.7-4-1.8-3.3-1.5-3.3z"/>
<path class="h" d="M438.9 463.9l-1.6-.6 1.4-4 2.9-7.9 2.7 1-1.9 3.8z"/>
<path class="j" d="M435.4 476.1l-.5-.3 2.5-8 1.5-3.9 1.3 .7-1.8 3.8z"/>
<path class="aa" d="M430.6 488.4l.2 0-.6-3.2-.8-3.1-.9-2.9-.7-.3 1.2 3 .9 3.2z"/>
<path class="ab" d="M432.2 488.5l.2-.1 .7-3.2 .8-3.2 1-2.9-.6 .2-.9 2.9z"/>
<path class="k" d="M400.8 434.5l-2.8 1.9-1.2 1-3.4-2.3-3.6-2.1-3.6-1.9 1.5-1.3 3.6-2.5 6.4 4.6z"/>
<path class="ac" d="M430.8 488.4l.2 .1-1.1-6.2-.7-2.9-.7-.2 .9 2.9z"/>
<path class="ad" d="M432 488.5l.2 0 1.2-6.3 .9-2.9-.8 .3-.6 2.8z"/>
<path class="ae" d="M431 488.5l.2 .1-.3-3.2-.9-5.8-.8-.2 .7 2.9z"/>
<path class="o" d="M335.6 434.5l-1.7 2.9-1.3 3-1 3-3.5 1.7-3.5 2-3.3 2.1 1.1-3.3 1.5-3.3 1.9-3.2 3.1-1.8 3.3-1.7z"/>
<path class="af" d="M431.8 488.6l.2-.1 .9-6.1 .6-2.8-.9 .1z"/>
<path class="i" d="M419.3 452.2l-2.3 1.2-2.4-3.5-5.2-6.6 3.6-1.9 4.3 7.1z"/>
<path class="ag" d="M431.2 488.6l.2 0-.5-8.9-.9-.1 .5 2.8z"/>
<path class="k" d="M427.8 476l-.5 .4-1.5-3.8-1.7-3.7-2-3.6 1.1-.8 1.7 3.8z"/>
<path class="ah" d="M431.6 488.6l.2 0 .8-8.9-.9 .1z"/>
<path class="ai" d="M431.4 488.6l.2 0 .1-8.8-.8-.1z"/>
<path class="l" d="M435.9 476.5l-.5-.4 1.4-3.9 3.4-7.6 .9 .9-1.9 3.6-1.8 3.7z"/>
<path class="m" d="M375.1 426.7l-3.3 3.5-1.2 1.8-4.1-.7-4.1-.4-4-.2 1.6-2.1 1.8-2.1 2.1-2.1 3.7 .5 3.7 .8z"/>
<path class="i" d="M424.5 463.8l-1.3 .7-4-7.5-2.2-3.6 2.3-1.2 3.6 7.6z"/>
<path class="j" d="M446.6 453.7l-2.3-1.3 2.1-3.6 4.6-7 3.4 1.9-5.4 6.6z"/>
<path class="w" d="M530.3 570.2l3.2-3.3 2.7-3.4 2.3-3.5-3 1.8-3.3 1.7-3.4 1.4-2.1 3.2-2.5 3.1-2.9 3 3.2-1.1 3-1.4z"/>
<path class="ad" d="M459 588.3l3.8-1 7.2-2.3-2.4-2-4.9-4.5-5.8 1.9-3.1 .8 3.5 4.9z"/>
<path class="j" d="M440.2 464.6l-1.3-.7 3.5-7.7 1.9-3.8 2.3 1.3-2.3 3.6z"/>
<path class="l" d="M467 438.1l-1.1-1-2.6-2 3.2-2.5 3.2-2.4 3.3-2.1 3.4 2.6 1.4 1.3-3.7 1.9-3.6 2z"/>
<path class="m" d="M427.3 476.4l-.3 .4-1.6-3.6-1.9-3.5-2.1-3.5 .7-.9 2 3.6 1.7 3.7z"/>
<path class="n" d="M436.2 476.9l-.3-.4 1.5-3.7 1.8-3.7 1.9-3.6 .7 .9-2.1 3.4-1.9 3.5z"/>
<path class="s" d="M562.4 490.4l.6-4.1 0-4.1-.5-4 1.1 3.5 .8 3.5 .6 3.6 .4 4.2 0 4.2-.6 4.2-.5-3.7-.8-3.6z"/>
<path class="k" d="M409.4 443.3l-2.8 2.1-3.1-2.8-3.3-2.7-3.4-2.5 1.2-1 2.8-1.9 5.8 5.7z"/>
<path class="k" d="M423.2 464.5l-1.1 .8-2.1-3.6-2.3-3.5-2.5-3.4 1.8-1.4 2.2 3.6z"/>
<path class="o" d="M427 476.8l-.2 .4-1.6-3.4-2-3.4-2.1-3.3 .3-.9 2.1 3.5 1.9 3.5z"/>
<path class="p" d="M436.3 477.3l-.1-.4 1.6-3.6 1.9-3.5 2.1-3.4 .3 1-2.2 3.2-1.9 3.3z"/>
<path class="n" d="M493.3 433.2l-1.2-1.8-1.3-1.8-1.6-1.7 3.8-1 3.9-.7 3.8-.4 1.9 2 1.6 2.2 1.4 2.2-4.1 .1-4.1 .3z"/>
<path class="ae" d="M397.8 586.6l7.6 2 3.9 .8 1.4-2.2 2.8-5.1-3.2-.7-6.1-1.6-4.2 4.7z"/>
<path class="l" d="M441.1 465.5l-.9-.9 4.1-7.3 2.3-3.6 1.7 1.5-2.6 3.3-2.4 3.4z"/>
<path class="r" d="M305.8 465.6l-.7 3.9-.3 3.9 .2 3.9-1.8 3.4-1.6 3.4-1.3 3.6-.3-4.1 .3-4.1 .9-4 1.3-3.4 1.5-3.3z"/>
<path class="z" d="M497.7 585.8l3.9-2.2 3.5-2.4 3.2-2.5-3.3 0-3.5-.1-3.5-.5-2.8 2.2-3.1 2.1-3.3 1.9 3 .8 3 .5z"/>
<path class="x" d="M518.1 577.1l3.2-2.9-3.2 .8-3.4 .7-3.4 .4-3 2.6 3.4-.3 3.2-.5z"/>
<path class="k" d="M417 453.4l-1.8 1.4-2.7-3.2-2.9-3.2-3-3 2.8-2.1 5.2 6.6z"/>
<path class="l" d="M457 445.9l-2.6-2.2 2.8-3 6.1-5.6 2.6 2 1.1 1-3.5 2.5-3.3 2.6z"/>
<path class="ab" d="M477.4 589.5l4-1.6 3.8-1.7 3.6-1.9-3.1-1-3-1.2-3.1-1.4-6.2 3-3.4 1.3 5 3.2z"/>
<path class="r" d="M426.8 477.2l0 .5-1.6-3.3-2-3.2-2.1-3.1 0-1 2.1 3.3 2 3.4z"/>
<path class="l" d="M448.3 455.2l-1.7-1.5 2.4-3.4 5.4-6.6 2.6 2.2-3.1 3-2.9 3.1z"/>
<path class="p" d="M531.9 445.4l-.7-3-1.1-3-1.4-3 3.4 1.5 3.3 1.7 3.2 1.9 1.6 3.3 1.2 3.3 .8 3.3-3.3-2.2-3.4-2z"/>
<path class="u" d="M557.7 535.5l2.1-4.1 1.7-4.2 1.1-4.1-1.3 3.4-1.6 3.3-1.7 3.2-1.1 4-1.6 4.1-2 3.9 1.7-3 1.5-3.2z"/>
<path class="m" d="M386.2 431.1l-2.6 2.8-1 1.5-4-1.4-4-1.1-4-.9 1.2-1.8 3.3-3.5 3.7 1.3 3.7 1.4z"/>
<path class="s" d="M436.2 477.8l.1-.5 1.7-3.4 1.9-3.3 2.2-3.2-.1 .9-2.2 3-1.9 3.2z"/>
<path class="y" d="M339.8 572.2l3 3 3.4 2.8 3.7 2.8 3 .7 3.1 .3 3.1 .2-3.3-2.5-3-2.5-2.7-2.7-3.5-.5-3.5-.7z"/>
<path class="m" d="M422.1 465.3l-.7 .9-2.3-3.4-2.5-3.3-2.7-3.1 1.3-1.6 2.5 3.4 2.3 3.5z"/>
<path class="v" d="M314.9 550.8l2.2 3.8 2.6 3.7 3.1 3.6 2.4 2.2 2.6 2.1 2.8 1.8-2.9-3.4-2.4-3.4-2-3.6-3-2.1-2.8-2.2z"/>
<path class="o" d="M346.6 431.6l-1.5 2.5-1.1 2.6-.8 2.7-4 1.1-3.8 1.3-3.8 1.6 1-3 1.3-3 1.7-2.9 3.6-1.2 3.6-1z"/>
<path class="af" d="M447 590.5l4.1-.6 7.9-1.6-1.7-2.2-3.5-4.9-6.4 1.2-3.3 .5z"/>
<path class="t" d="M426.8 477.7l-1.4-2.7-1.9-3.1-2-2.8-.4-1 2.1 3.1 2 3.2z"/>
<path class="n" d="M441.8 466.4l-.7-.9 2.2-3.6 2.4-3.4 2.6-3.3 1.1 1.6-2.8 3-2.5 3.3z"/>
<path class="u" d="M436 478.2l1.9-3.7 1.9-3.2 2.2-3-.5 1-2.1 2.8-1.8 3z"/>
<path class="n" d="M481 436.3l-.8-1.4-2.4-2.9 3.8-1.6 3.8-1.4 3.8-1.1 1.6 1.7 1.3 1.8 1.2 1.8-4.1 .8-4.1 1.1z"/>
<path class="t" d="M297.8 509.6l.7 4.2 1.3 4.2 1.8 4.2 .5 3.6 .8 3.5 1 3.5-1.8-4.2-1.3-4.1-.7-4.2-1-3.5-.8-3.6z"/>
<path class="v" d="M427 478.1l.4 .4-1.5-3-1.8-2.9-2.6-3.5 2 2.8 1.9 3.1z"/>
<path class="ag" d="M409.3 589.4l8.2 1.2 4.2 .4 1.8-7.6-3.3-.4-6.7-.9-2.8 5.1z"/>
<path class="m" d="M396.8 437.4l-1.9 2.2-.8 1.1-3.7-2-3.9-1.8-3.9-1.5 1-1.5 2.6-2.8 3.6 1.9 3.6 2.1z"/>
<path class="w" d="M435.6 478.6l.4-.4 1.6-3.1 1.8-3 2.1-2.8-.8 .8-1.9 2.7-1.7 2.8z"/>
<path class="m" d="M415.2 454.8l-1.3 1.6-2.9-3-3.1-2.9-3.2-2.7 1.9-2.4 3 3 2.9 3.2z"/>
<path class="o" d="M421.4 466.2l-.3 .9-2.4-3.1-2.6-3.1-2.8-2.9 .6-1.6 2.7 3.1 2.5 3.3z"/>
<path class="ac" d="M379.1 586.8l7.9 3.2 4.3 1.4 2.2-1.3 4.3-3.5-3.6-1.2-6.6-2.7-2.9 1.6-2.8 1.3z"/>
<path class="m" d="M406.6 445.4l-1.9 2.4-3.4-2.6-3.5-2.3-3.7-2.2 .8-1.1 1.9-2.2 3.4 2.5 3.3 2.7z"/>
<path class="x" d="M435.5 478.7l3.3-5.9 1.9-2.7-.4 .3-1.8 2.6-1.6 2.8z"/>
<path class="y" d="M427.4 478.5l.4 .4-1.3-2.9-1.5-2.7-1.7-2.5-1.1-.8 1.9 2.6 1.8 2.9z"/>
<path class="ah" d="M434.4 591.4l4.2-.2 8.4-.7-2.9-7.6-6.8 .6-3.5 .1z"/>
<path class="n" d="M449.4 456.8l-1.1-1.6 2.7-3.2 2.9-3.1 3.1-3 1.7 2.4-3.3 2.7-3.1 2.8z"/>
<path class="p" d="M442.1 467.4l-.3-1 2.3-3.3 2.5-3.3 2.8-3 .5 1.6-2.8 2.9-2.7 2.9z"/>
<path class="s" d="M557.6 479.9l.6-3.9 .1-4-.5-3.8 1.8 3.2 1.6 3.3 1.3 3.5 .5 4 0 4.1-.6 4.1-1.3-3.6-1.6-3.5z"/>
<path class="ai" d="M421.7 591l8.4 .4 4.3 0-.6-7.8-3.4 .1-6.9-.3z"/>
<path class="aa" d="M359.1 582l3.7 2.3 3.9 2.3 4.2 2.1 2.7-.4 2.7-.7 2.8-.8-3.6-1.8-3.4-2-3.2-2-3.3 .6-3.3 .3z"/>
<path class="n" d="M469.4 441.4l-.7-1.1-1.7-2.2 3.5-2.2 3.6-2 3.7-1.9 2.4 2.9 .8 1.4-3.9 1.5-3.9 1.7z"/>
<path class="z" d="M434.9 479.1l.6-.4 1.4-2.9 1.6-2.8 1.8-2.6-1.2 .8-1.6 2.4-1.4 2.6z"/>
<path class="aa" d="M427.8 478.9l.7 .3-1.2-2.8-1.2-2.5-1.4-2.4-1.4-.7 1.7 2.5 1.5 2.7z"/>
<path class="n" d="M458.7 448.3l-1.7-2.4 3.2-2.7 3.3-2.6 3.5-2.5 1.7 2.2 .7 1.1-3.7 2.1-3.6 2.3z"/>
<path class="p" d="M520.3 441.2l-.6-2.7-.9-2.6-1.3-2.6 3.8 .8 3.7 1.1 3.7 1.2 1.4 3 1.1 3 .7 3-3.8-1.6-3.9-1.4z"/>
<path class="r" d="M312.6 456.7l-.7 3.7-.2 3.6 .2 3.7-2.5 3.1-2.3 3.2-2.1 3.3-.2-3.9 .3-3.9 .7-3.9 2.1-3.1 2.2-3z"/>
<path class="w" d="M538 564.2l3.4-3.5 2.9-3.7 2.5-3.7-2.6 2.4-2.7 2.3-3 2-2.3 3.5-2.7 3.4-3.2 3.3 2.8-1.8 2.5-2z"/>
<path class="ab" d="M434.3 479.3l.6-.2 1.2-2.9 1.4-2.6 1.6-2.4-1.5 .6-1.3 2.3-1.1 2.5z"/>
<path class="o" d="M358.4 430.7l-1.2 2.2-1 2.3-.7 2.2-4.2 .5-4.1 .6-4 .9 .8-2.7 1.1-2.6 1.5-2.5 3.9-.5 3.9-.3z"/>
<path class="ac" d="M428.5 479.2l.7 .2-1.8-5.1-1.1-2.3-1.6-.5 1.4 2.4 1.2 2.5z"/>
<path class="r" d="M421.1 467.1l0 1-2.4-2.9-2.6-2.8-2.8-2.7 0-1.7 2.8 2.9 2.6 3.1z"/>
<path class="ad" d="M433.5 479.6l.8-.3 .9-2.7 1.1-2.5 1.3-2.3-1.8 .5-.8 2.2z"/>
<path class="ae" d="M429.2 479.4l.8 .2-1.2-5-.7-2.2-1.8-.4 1.1 2.3z"/>
<path class="s" d="M442 468.3l.1-.9 2.3-3.2 2.7-2.9 2.8-2.9-.2 1.7-2.8 2.6-2.6 2.7z"/>
<path class="af" d="M432.6 479.7l.9-.1 1.5-5.1 .8-2.2-1.8 .3z"/>
<path class="ag" d="M430 479.6l.9 .1-.9-7-1.9-.3 .7 2.2z"/>
<path class="o" d="M413.9 456.4l-.6 1.6-3-2.7-3.2-2.6-3.4-2.4 .2-.9 .8-1.6 3.2 2.7 3.1 2.9z"/>
<path class="ah" d="M431.7 479.8l.9-.1 1.4-7.1-2 .1z"/>
<path class="ai" d="M430.9 479.7l.8 .1 .3-7.1-2 0z"/>
<path class="ad" d="M464.3 593.5l4.6-1.2 8.5-2.8-2.4-1.3-5-3.2-7.2 2.3-3.8 1 3.6 3.7z"/>
<path class="u" d="M559.9 525l2.2-4.2 1.7-4.2 1.1-4.2-.5 3.6-.8 3.6-2.1 7.6-1.7 4.2-2.1 4.1 1-3.4 .8-3.5z"/>
<path class="p" d="M449.9 458.4l-.5-1.6 2.9-3 3.1-2.8 3.3-2.7 .6 1.7 .2 .8-3.4 2.4-3.2 2.5z"/>
<path class="o" d="M370.6 432l-1.1 1.8-.8 1.9-.5 1.9-4.3-.3-4.2 0-4.2 .1 .7-2.2 1-2.3 1.2-2.2 4 .2 4.1 .4z"/>
<path class="x" d="M526.8 573.4l3.5-3.2-2.8 1.5-3 1.4-3.2 1.1-3.2 2.9 3-1 2.9-1.2z"/>
<path class="t" d="M421.1 468.1l.4 1-2.3-2.8-2.5-2.5-2.7-2.4-.7-1.7 2.8 2.7 2.6 2.8z"/>
<path class="p" d="M507.9 439l-.5-2.3-.8-2.3-1-2.2 4 .1 4 .4 3.9 .6 1.3 2.6 .9 2.6 .6 2.7-4.1-1-4.1-.7z"/>
<path class="z" d="M506.2 585.2l4.3-2.6 3.9-2.7 3.7-2.8-3.2 .8-3.2 .5-3.4 .3-3.2 2.5-3.5 2.4-3.9 2.2 2.9 .1 2.8-.3z"/>
<path class="u" d="M441.5 469.3l.5-1 2.3-2.9 2.6-2.7 2.8-2.6-.8 1.6-2.7 2.4-2.4 2.5z"/>
<path class="v" d="M308.4 542.4l2.2 4 2.8 3.8 3.2 3.8 1.9 2.8 2 2.6 2.3 2.5-3.1-3.6-2.6-3.7-2.2-3.8-2.4-2.7-2.1-2.8z"/>
<path class="o" d="M404.7 447.8l-.8 1.6-.2 .9-3.5-2.3-3.7-2-3.8-1.9 .4-1.1 1-2.3 3.7 2.2 3.5 2.3z"/>
<path class="t" d="M297.8 498.6l.8 4.2 1.3 4.2 1.8 4.1-.3 3.8 0 3.7 .2 3.6-1.8-4.2-1.3-4.2-.7-4.2-.3-3.7 0-3.6z"/>
<path class="ae" d="M391.3 591.4l9 2.4 4.7 1 1.4-1.6 2.9-3.8-3.9-.8-7.6-2-4.3 3.5z"/>
<path class="s" d="M550.8 470.1l.5-3.6 .1-3.7-.4-3.7 2.5 2.9 2.3 3 2 3.2 .5 3.8-.1 4-.6 3.9-2-3.4-2.3-3.2z"/>
<path class="o" d="M382.6 435.4l-1.4 2.9-.4 1.6-4.2-1-4.2-.8-4.2-.5 .5-1.9 .8-1.9 1.1-1.8 4 .9 4 1.1z"/>
<path class="y" d="M330.6 568l3.3 3.3 3.7 3.1 4.1 3.1 2.6 1.3 2.8 1.1 2.8 .9-3.7-2.8-3.4-2.8-3-3-3.2-1.2-3.1-1.4z"/>
<path class="ab" d="M484.6 591.8l4.7-1.8 4.3-2 4.1-2.2-2.9-.2-3-.5-3-.8-3.6 1.9-3.8 1.7-4 1.6 2.5 1 2.4 .8z"/>
<path class="o" d="M394.1 440.7l-1 2.3-.4 1.1-3.9-1.6-4-1.4-4-1.2 .4-1.6 1.4-2.9 3.9 1.5 3.9 1.8z"/>
<path class="q" d="M321.3 449.2l-.6 3.4-.2 3.3 .2 3.4-3.1 2.7-2.9 2.8-2.8 2.9-.2-3.7 .2-3.6 .7-3.7 2.7-2.7 3-2.5z"/>
<path class="p" d="M459.5 450.8l-.2-.8-.6-1.7 3.4-2.5 3.6-2.3 3.7-2.1 .9 2.4 .2 1.1-3.8 1.8-3.7 2z"/>
<path class="v" d="M421.5 469.1l-3.7-4-3.1-2.7-.7-1 2.7 2.4 2.5 2.5z"/>
<path class="r" d="M413.3 458l0 1.7-3-2.5-3.2-2.3-3.4-2.1-.1-.8 .1-1.7 3.4 2.4 3.2 2.6z"/>
<path class="p" d="M495.1 438.9l-.3-1.9-.7-1.9-.8-1.9 4.1-.6 4.1-.3 4.1-.1 1 2.2 .8 2.3 .5 2.3-4.2-.3-4.3 0z"/>
<path class="w" d="M440.7 470.1l3.1-3.5 2.4-2.5 2.7-2.4-.9 1.1-3 2.6-2.2 2.3z"/>
<path class="s" d="M449.7 460.1l.2-1.7 3-2.7 3.2-2.5 3.4-2.4-.1 1.7-.2 .9-3.3 2-3.2 2.3z"/>
<path class="p" d="M470.5 444.9l-.2-1.1-.9-2.4 3.8-1.9 3.9-1.7 3.9-1.5 1.2 3.1 .3 1.5-4.1 1.1-4 1.4z"/>
<path class="p" d="M482.5 440.9l-.3-1.5-1.2-3.1 4.1-1.2 4.1-1.1 4.1-.8 .8 1.9 .7 1.9 .3 1.9-4.2 .4-4.2 .7z"/>
<path class="af" d="M450 596.1l4.9-.7 9.4-1.9-1.7-1.5-3.6-3.7-7.9 1.6-4.1 .6 2 3.9z"/>
<path class="x" d="M440.3 470.4l2.5-2.7 2.2-2.3 2.5-2.1-3 2.5-2.2 2.2z"/>
<path class="y" d="M422.2 470l1.1 .8-1.9-2.4-2.1-2.1-4.1-3.4 2.6 2.2 2.3 2.3z"/>
<path class="w" d="M544 556.5l3.6-3.7 3.1-3.8 2.6-4-2 3-2.1 2.7-2.4 2.6-2.5 3.7-2.9 3.7-3.4 3.5 2.2-2.4 2-2.5z"/>
<path class="z" d="M439.1 471.2l1.2-.8 2-2.4 2.2-2.2 2.4-2.1-2.2 1.3-2 1.9-1.9 2z"/>
<path class="ag" d="M405 594.8l9.8 1.4 4.9 .5 2-5.7-4.2-.4-8.2-1.2-2.9 3.8z"/>
<path class="ac" d="M370.9 588.7l4.5 1.9 4.7 1.8 4.9 1.7 2-.7 2.2-.8 2.1-1.2-4.3-1.4-7.9-3.2-2.8 .8-2.7 .7z"/>
<path class="aa" d="M349.9 580.8l4.1 2.7 4.4 2.5 4.8 2.3 2.5 .4 2.5 .1 2.7-.1-4.2-2.1-3.9-2.3-3.7-2.3-3.1-.2-3.1-.3z"/>
<path class="q" d="M331.6 443.4l-.5 3-.2 3 .3 3.1-3.7 2.1-3.4 2.3-3.4 2.4-.2-3.4 .2-3.3 .6-3.4 3.3-2.1 3.5-2z"/>
<path class="u" d="M559.9 513.8l2.2-4.1 1.6-4.1 1.1-4.2 .3 3.7 0 3.7-.2 3.6-1.1 4.2-1.7 4.2-2.2 4.2 .3-3.7 0-3.7z"/>
<path class="s" d="M541.9 461.6l.6-3.4 .1-3.4-.4-3.4 3.1 2.4 3 2.6 2.7 2.7 .4 3.7-.1 3.7-.5 3.6-2.8-3-2.9-2.8z"/>
<path class="t" d="M413.3 459.7l.7 1.7-2.9-2.2-3.1-2.1-3.3-1.8-.4-.8-.6-1.7 3.4 2.1 3.2 2.3z"/>
<path class="aa" d="M423.3 470.8l1.4 .7-1.6-2.2-1.7-2-1.9-1.7-2.4-1.3 2.2 2 2.1 2.1z"/>
<path class="q" d="M403.7 450.3l-.1 1.7 .1 .8-3.5-1.9-3.7-1.7-3.8-1.5-.1-1.2 .1-2.4 3.8 1.9 3.7 2z"/>
<path class="ah" d="M434.9 597.2l5.1-.2 10-.9-1-1.7-2-3.9-8.4 .7-4.2 .2z"/>
<path class="u" d="M448.9 461.7l.8-1.6 3-2.4 3.2-2.3 3.3-2-.7 1.6-.5 .9-3.2 1.7-3 2z"/>
<path class="ab" d="M437.6 471.8l1.5-.6 1.7-2.3 1.9-2 2-1.9-2.6 1.1-1.7 1.7-1.5 1.9z"/>
<path class="t" d="M300.3 487.7l.7 4.1 1.3 4.1 1.8 4-1.1 3.7-.8 3.8-.5 3.7-1.8-4.1-1.3-4.2-.8-4.2 .6-3.7 .8-3.6z"/>
<path class="ai" d="M419.7 596.7l10.2 .5 5 0-.5-5.8-4.3 0-8.4-.4z"/>
<path class="s" d="M459.2 453.4l.2-.9 .1-1.7 3.5-2.1 3.7-2 3.8-1.8-.1 2.4-.2 1.2-3.8 1.4-3.7 1.6z"/>
<path class="ac" d="M424.7 471.5l1.6 .5-1.2-2-1.4-1.9-1.4-1.6-2.8-.9 1.9 1.7 1.7 2z"/>
<path class="v" d="M303.9 532.8l2.3 4 2.9 4 3.3 4 1.2 3.2 1.4 3.1 1.6 2.9-3.2-3.8-2.8-3.8-3.9-7.1-1.5-3.2z"/>
<path class="ad" d="M435.8 472.3l1.8-.5 1.3-2.1 1.5-1.9 1.7-1.7-3 .9-1.2 1.5z"/>
<path class="x" d="M534.2 567.7l3.8-3.5-2.4 2.2-2.5 2-2.8 1.8-3.5 3.2 2.6-1.7 2.5-1.9z"/>
<path class="q" d="M343.2 439.4l-.5 2.7-.1 2.6 .2 2.7-4 1.5-3.9 1.7-3.7 1.9-.3-3.1 .2-3 .5-3 3.8-1.6 3.8-1.3z"/>
<path class="ae" d="M426.3 472l1.8 .4-1.7-3.7-.9-1.4-3.2-.8 1.4 1.6 1.4 1.9z"/>
<path class="r" d="M392.7 444.1l-.1 2.4 .1 1.2-3.9-1.3-4-1.1-4.1-.8-.2-1.6 0-1.5 .3-1.5 4 1.2 4 1.4z"/>
<path class="af" d="M434 472.6l1.8-.3 2.1-3.8 1.2-1.5-3.3 .5-.7 1.5z"/>
<path class="z" d="M513.7 582.2l4.7-2.8 4.4-2.9 4-3.1-2.8 1.5-2.9 1.2-3 1-3.7 2.8-3.9 2.7-4.3 2.6 2.6-.8 2.5-.9z"/>
<path class="ad" d="M469.5 596.4l5.2-1.3 5.1-1.6 4.8-1.7-2.3-.5-2.4-.8-2.5-1-8.5 2.8-4.6 1.2 3.5 2.2z"/>
<path class="s" d="M531.5 454.5l.5-3 .2-3.1-.3-3 3.6 1.8 3.4 2 3.3 2.2 .4 3.4-.1 3.4-.6 3.4-3.3-2.6-3.4-2.3z"/>
<path class="ag" d="M428.1 472.4l1.9 .3-1.1-5-3.4-.4 .9 1.4z"/>
<path class="v" d="M414 461.4l1.2 1.5-2.7-1.9-2.8-1.8-3-1.5-2-2.4 3.3 1.8 3.1 2.1z"/>
<path class="ah" d="M432 472.7l2-.1 1.1-3.6 .7-1.5-3.5 .2z"/>
<path class="ai" d="M430 472.7l2 0 .3-5-3.4 0z"/>
<path class="y" d="M322.8 561.9l3.5 3.5 4 3.4 4.4 3.3 2.2 2 2.3 1.8 2.5 1.6-4.1-3.1-3.7-3.1-3.3-3.3-2.8-1.8-2.6-2.1z"/>
<path class="w" d="M447.5 463.3l1.4-1.6 2.9-2.1 3-2 3.2-1.7-2.1 2.3-3 1.5-2.8 1.7z"/>
<path class="r" d="M355.5 437.4l-.4 2.3-.1 2.3 .3 2.3-4.2 .8-4.2 1.1-4.1 1.2-.2-2.7 .1-2.6 .5-2.7 4-.9 4.1-.6z"/>
<path class="s" d="M470.2 448.5l.2-1.2 .1-2.4 3.9-1.5 4-1.4 4.1-1.1 .1 1.5-.1 1.6-.3 1.5-4.1 .8-4 .9z"/>
<path class="r" d="M380.8 439.9l-.3 1.5 0 1.5 .2 1.6-4.2-.6-4.2-.4-4.3-.1-.2-2 .1-1.9 .3-1.9 4.2 .5 4.2 .8z"/>
<path class="r" d="M368.2 437.6l-.3 1.9-.1 1.9 .2 2-4.2 0-4.3 .4-4.2 .5-.3-2.3 .1-2.3 .4-2.3 4.2-.1 4.2 0z"/>
<path class="t" d="M403.7 452.8l.6 1.7 .4 .8-3.4-1.6-3.5-1.4-3.7-1.1-.6-1.2-.8-2.3 3.8 1.5 3.7 1.7z"/>
<path class="ab" d="M491.4 591.9l5.2-2.1 4.9-2.2 4.7-2.4-2.8 .4-2.8 .3-2.9-.1-4.1 2.2-4.3 2-4.7 1.8 2.4 .3 2.2 .1z"/>
<path class="u" d="M557.5 502.5l2.2-4 1.6-4 1.1-4.1 1.1 3.7 .8 3.6 .5 3.7-1.1 4.2-1.6 4.1-2.2 4.1-.5-3.7-.8-3.8z"/>
<path class="s" d="M519.9 449.2l.5-2.7 .1-2.6-.2-2.7 3.9 1.2 3.9 1.4 3.8 1.6 .3 3-.2 3.1-.5 3-3.7-2-3.9-1.7z"/>
<path class="ae" d="M385 594.1l5.1 1.5 5.3 1.3 5.4 1.1 1.4-.8 2.8-2.4-4.7-1-9-2.4-2.1 1.2-2.2 .8z"/>
<path class="t" d="M305 477.3l.7 3.9 1.3 3.9 1.7 3.8-1.8 3.6-1.5 3.7-1.3 3.7-1.8-4-1.3-4.1-.7-4.1 1.3-3.6 1.6-3.4z"/>
<path class="w" d="M548.2 547.3l3.7-3.8 3.1-4 2.7-4-1.2 3.3-1.5 3.2-1.7 3-2.6 4-3.1 3.8-3.6 3.7 1.6-2.9 1.4-3.1z"/>
<path class="x" d="M446.9 463.7l3.2-2.3 2.8-1.7 3-1.5-.9 .7-2.9 1.4-2.7 1.6z"/>
<path class="u" d="M458 455.9l.5-.9 .7-1.6 3.5-1.9 3.7-1.6 3.8-1.4-1 2.3-.7 1.1-3.6 1.1-3.5 1.3z"/>
<path class="s" d="M482.2 445.5l.3-1.5 .1-1.6-.1-1.5 4.2-.9 4.2-.7 4.2-.4 .2 1.9-.1 1.9-.4 1.9-4.3 .1-4.2 .3z"/>
<path class="y" d="M415.2 462.9l1.9 1.4-2.4-1.7-2.5-1.5-2.7-1.3-2.8-2.1 3 1.5 2.8 1.8z"/>
<path class="s" d="M507.5 445.9l.4-2.3 .2-2.3-.2-2.3 4.2 .5 4.1 .7 4.1 1 .2 2.7-.1 2.6-.5 2.7-4-1.3-4.2-1.1z"/>
<path class="s" d="M494.8 444.6l.4-1.9 .1-1.9-.2-1.9 4.3-.2 4.3 0 4.2 .3 .2 2.3-.2 2.3-.4 2.3-4.2-.7-4.3-.4z"/>
<path class="z" d="M444.7 465l1.5-.8 3.2-2.3 2.7-1.6 2.9-1.4-2.2 1.4-3.6 1.8-2.3 1.3z"/>
<path class="af" d="M452.9 599.4l5.7-.8 5.5-1 5.4-1.2-1.7-.7-3.5-2.2-9.4 1.9-4.9 .7 1.9 2.5z"/>
<path class="aj" d="M341.7 577.5l4.5 2.9 4.8 2.7 7.4 3.8 2.4 .8 2.4 .6-4.8-2.3-4.4-2.5-4.1-2.7-2.8-.9-2.8-1.1z"/>
<path class="v" d="M301.6 522.2l2.4 4.1 2.9 4.1 3.4 3.9 .4 3.6 .8 3.5 .9 3.4-3.3-4-2.9-4-2.3-4-1-3.5-.8-3.5z"/>
<path class="aa" d="M417.1 464.3l2.4 1.3-2-1.6-2.1-1.2-3.5-1.7-2.4-1.3 2.7 1.3 2.5 1.5z"/>
<path class="ac" d="M363.2 588.3l5 2.2 5.3 2.1 5.5 1.8 1.9 .2 2-.1 2.1-.4-4.9-1.7-4.7-1.8-4.5-1.9-2.7 .1-2.5-.1z"/>
<path class="t" d="M392.7 447.7l.8 2.3 .6 1.2-3.8-1-3.9-.7-4-.5-.8-1.5-.9-3 4.1 .8 4 1.1z"/>
<path class="v" d="M404.7 455.3l2 2.4-3.2-1.3-3.3-1.1-3.4-.8-1.1-1.1-1.6-2.2 3.7 1.1 3.5 1.4z"/>
<path class="t" d="M311.9 467.7l.7 3.7 1.2 3.6 1.7 3.6-2.5 3.4-2.2 3.4-2.1 3.5-1.7-3.8-1.3-3.9-.7-3.9 2.1-3.3 2.3-3.2z"/>
<path class="u" d="M552.9 491.5l2.1-3.9 1.6-3.8 1-3.9 1.9 3.4 1.6 3.5 1.3 3.6-1.1 4.1-1.6 4-2.2 4-1.3-3.7-1.5-3.7z"/>
<path class="ag" d="M400.8 598l5.6 .9 5.7 .8 5.8 .5 .6-.9 1.2-2.6-4.9-.5-9.8-1.4-2.8 2.4z"/>
<path class="x" d="M540 560.1l4-3.6-1.8 2.8-2 2.5-2.2 2.4-3.8 3.5 2.1-2.3 2-2.6z"/>
<path class="ab" d="M442.1 466.1l2.6-1.1 2.2-1.6 2.3-1.3 2.5-1.2-6 2.6-1.9 1.2z"/>
<path class="u" d="M468.5 451.9l.7-1.1 1-2.3 3.9-1.3 4-.9 4.1-.8-1.2 3-1 1.5-3.9 .4-3.8 .6z"/>
<path class="w" d="M455.9 458.2l2.1-2.3 3.4-1.6 3.5-1.3 3.6-1.1-1.8 2.2-1.2 1.1-3.3 .7-3.2 1z"/>
<path class="ac" d="M419.5 465.6l2.8 .9-1.5-1.3-1.6-1.1-1.7-.9-4.4-1.5 2.3 1.1 2.1 1.2z"/>
<path class="ah" d="M435.5 600.7l5.8-.2 11.6-1.1-1-.8-1.9-2.5-10 .9-5.1 .2z"/>
<path class="z" d="M520.2 577.2l5-3 4.7-3.2 4.3-3.3-2.3 2.1-2.5 1.9-2.6 1.7-4 3.1-4.4 2.9-4.7 2.8 2.3-1.4 2.2-1.7z"/>
<path class="y" d="M316.6 554l3.8 3.7 4.1 3.6 4.7 3.5 1.6 2.6 1.9 2.4 2 2.3-4.4-3.3-4-3.4-3.5-3.5-2.3-2.5-2-2.6z"/>
<path class="ai" d="M417.9 600.2l11.7 .6 5.9-.1-.6-3.5-5 0-10.2-.5-1.2 2.6z"/>
<path class="ad" d="M439.1 467l3-.9 1.7-1.4 1.9-1.2 1.9-.9-4.6 1.3-1.4 .7-1.3 1.1z"/>
<path class="w" d="M550.3 536.9l3.7-3.9 3.2-4 2.7-4-.4 3.6-.8 3.5-1 3.4-2.7 4-3.1 4-3.7 3.8 .9-3.3 .7-3.5z"/>
<path class="t" d="M380.7 444.5l.9 3 .8 1.5-4-.2-4.1 0-4.1 .2-1-1.8-.7-1.9-.5-1.9 4.3 .1 4.2 .4z"/>
<path class="ae" d="M422.3 466.5l3.2 .8-1-1.3-1.1-1-1.1-.7-4.8-1.1 1.7 .9 1.6 1.1z"/>
<path class="t" d="M320.7 459.3l.7 3.4 1.1 3.4 1.6 3.3-3.1 2.9-2.8 3.1-2.7 3.2-1.7-3.6-1.2-3.6-.7-3.7 2.8-2.9 2.9-2.8z"/>
<path class="ad" d="M474.4 597.1l5.9-1.5 5.7-1.8 5.4-1.9-2.2 .3-2.2-.1-2.4-.3-4.8 1.7-5.1 1.6-5.2 1.3 1.7 .5 1.6 .2z"/>
<path class="af" d="M435.8 467.5l3.3-.5 1.2-1.3 1.3-1.1 1.4-.7-5 .8-.8 .7z"/>
<path class="x" d="M455 458.9l.9-.7 3.1-1.3 3.2-1 3.3-.7-1.2 1-3.3 .6-3.1 1z"/>
<path class="u" d="M546.2 481l2-3.6 1.5-3.6 1.1-3.7 2.5 3.2 2.3 3.2 2 3.4-1 3.9-1.6 3.8-2.1 3.9-2-3.6-2.2-3.5z"/>
<path class="ag" d="M425.5 467.3l3.4 .4-1-2.1-.5-.7-5.1-.6 1.1 .7 1.1 1z"/>
<path class="y" d="M406.7 457.7l2.8 2.1-2.8-1-2.9-.8-3.1-.5-1.4-1-2.5-2 3.4 .8 3.3 1.1z"/>
<path class="ah" d="M432.3 467.7l3.5-.2 1.4-2.1 .8-.7-5.3 .3z"/>
<path class="u" d="M480 450l1-1.5 1.2-3 4.1-.5 4.2-.3 4.3-.1-.6 1.9-.9 1.9-1.1 1.9-4.1-.4-4.1 0z"/>
<path class="v" d="M301.7 511.1l2.3 4.1 2.9 4 3.4 3.9-.2 3.8-.1 3.8 .3 3.6-3.4-3.9-2.9-4.1-2.4-4.1-.2-3.6 0-3.7z"/>
<path class="ai" d="M428.9 467.7l3.4 0 .4-2.7-5.3-.1 .5 .7z"/>
<path class="ab" d="M497.5 589.7l5.7-2.3 5.4-2.5 5.1-2.7-2.4 1.3-2.5 .9-2.6 .8-4.7 2.4-4.9 2.2-5.2 2.1 2.1-.5 2.1-.7z"/>
<path class="t" d="M368 443.4l.5 1.9 .7 1.9 1 1.8-4.2 .5-4.1 .7-4.2 1-1.1-2.3-.8-2.3-.5-2.3 4.2-.5 4.3-.4z"/>
<path class="t" d="M331.2 452.5l.6 3 1 3.1 1.5 3-3.6 2.4-3.4 2.6-3.2 2.8-1.6-3.3-1.1-3.4-.7-3.4 3.4-2.4 3.4-2.3z"/>
<path class="v" d="M394.1 451.2l1.6 2.2 1.1 1.1-3.6-.7-3.6-.3-3.7-.1-1.3-1.5-2.2-2.9 4 .5 3.9 .7z"/>
<path class="t" d="M355.3 444.3l.5 2.3 .8 2.3 1.1 2.3-4 1.2-4.1 1.4-4 1.6-1.3-2.6-.9-2.7-.6-2.7 4.1-1.2 4.2-1.1z"/>
<path class="t" d="M342.8 447.4l.6 2.7 .9 2.7 1.3 2.6-3.9 1.9-3.7 2-3.7 2.3-1.5-3-1-3.1-.6-3 3.7-1.9 3.9-1.7z"/>
<path class="ae" d="M379 594.4l5.8 1.7 5.9 1.5 6.2 1.2 1.3 0 1.3-.3 1.3-.5-5.4-1.1-5.3-1.3-5.1-1.5-2.1 .4-2 .1z"/>
<path class="z" d="M451.7 460.9l3.3-2 2.9-1.1 3.1-1 3.3-.6-3 1.9-1.6 .9-2.8 .4-2.7 .6z"/>
<path class="u" d="M537.7 471.6l1.9-3.3 1.4-3.4 .9-3.3 3.2 2.7 2.9 2.8 2.8 3-1.1 3.7-1.5 3.6-2 3.6-2.6-3.3-2.9-3.1z"/>
<path class="w" d="M465.5 455.2l1.2-1.1 1.8-2.2 3.8-.9 3.8-.6 3.9-.4-2.4 2.9-1.4 1.4-3.7 0-3.5 .3z"/>
<path class="u" d="M492.2 450.3l1.1-1.9 .9-1.9 .6-1.9 4.2 .2 4.3 .4 4.2 .7-.7 2.3-1 2.2-1.4 2.3-4-1.1-4.1-.8z"/>
<path class="aa" d="M334.7 572.1l4.8 3.1 5.2 3 5.6 2.8 1.8 1.8 2 1.6 2.1 1.3-5.2-2.6-4.8-2.7-7-4.5-2.3-1.8z"/>
<path class="x" d="M544 551l4.2-3.7-1.2 3.2-1.4 3.1-1.6 2.9-4 3.6 1.6-2.8 1.3-3.1z"/>
<path class="aa" d="M409.5 459.8l3.6 1.9-2.3-.8-2.5-.5-2.5-.3-5.1-2.6 3.1 .5 2.9 .8z"/>
<path class="w" d="M550.2 525.7l3.8-3.9 3.2-3.9 2.7-4.1 .3 3.8 0 3.7-.3 3.7-2.7 4-3.2 4-3.7 3.9 .2-3.7 0-3.7z"/>
<path class="u" d="M527.6 463.5l1.7-2.9 1.3-3 .9-3.1 3.7 2.2 3.4 2.3 3.3 2.6-.9 3.3-1.4 3.4-1.9 3.3-3.2-2.9-3.4-2.7z"/>
<path class="u" d="M504.4 452.7l1.4-2.3 1-2.2 .7-2.3 4.2 .9 4.2 1.1 4 1.3-.8 2.7-1.2 2.6-1.5 2.6-3.9-1.7-4-1.5z"/>
<path class="ac" d="M356.2 585.7l5.5 2.5 5.9 2.2 6 2 1.8 1 1.7 .6 1.9 .4-5.5-1.8-5.3-2.1-5-2.2-2.4-.6-2.4-.8z"/>
<path class="y" d="M312.4 544.8l3.9 3.8 4.3 3.7 4.8 3.5 1.1 3.2 1.2 2.9 1.5 2.9-4.7-3.5-4.1-3.6-3.8-3.7-1.6-2.9-1.4-3.1z"/>
<path class="af" d="M455.6 600.5l6.4-.9 6.3-1.2 6.1-1.3-1.6 0-1.6-.2-1.7-.5-5.4 1.2-5.5 1-5.7 .8 .9 .7 1 .3z"/>
<path class="u" d="M516.4 457.1l1.5-2.6 1.2-2.6 .8-2.7 4 1.6 3.9 1.7 3.7 2-.9 3.1-1.3 3-1.7 2.9-3.6-2.3-3.7-2.1z"/>
<path class="v" d="M304.1 499.9l2.3 4 2.8 3.9 3.4 3.8-1 3.9-.8 3.8-.5 3.8-3.4-3.9-2.9-4-2.3-4.1 .5-3.7 .8-3.8z"/>
<path class="ab" d="M447.6 462.6l6.6-2.6 2.7-.6 2.8-.4-5.6 2.3-2.3 .2-2.1 .4z"/>
<path class="z" d="M525.2 570.1l5.4-3.1 4.9-3.4 4.5-3.5-1.7 2.7-2 2.6-2.1 2.3-4.3 3.3-4.7 3.2-5 3 1.8-2.1 1.7-2.4z"/>
<path class="v" d="M382.4 449l2.2 2.9 1.3 1.5-3.7 .1-3.9 .3-3.8 .6-1.7-1.7-1.4-1.8-1.2-1.9 4.1-.2 4.1 0z"/>
<path class="x" d="M464.3 456.2l1.2-1 3.5-.6 3.5-.3 3.7 0-1.7 1.3-3.5-.1-3.4 .2z"/>
<path class="ag" d="M396.9 598.8l6.3 1.1 6.4 .8 6.5 .7 .6-.1 1.2-1.1-5.8-.5-5.7-.8-5.6-.9-1.3 .5-1.3 .3z"/>
<path class="ac" d="M413.1 461.7l4.4 1.5-1.8-.6-1.9-.4-2-.1-6-2 2.5 .3 2.5 .5z"/>
<path class="y" d="M396.8 454.5l2.5 2 1.4 1-3.1-.3-3.2-.1-3.3 .2-1.9-1.3-3.3-2.6 3.7 .1 3.6 .3z"/>
<path class="w" d="M476.2 454.3l1.4-1.4 2.4-2.9 4-.1 4.1 0 4.1 .4-1.4 1.8-1.6 1.8-1.8 1.7-3.8-.7-3.8-.4z"/>
<path class="ah" d="M436 601.9l6.6-.2 6.5-.5 6.5-.7-.8-.1-1-.3-.9-.7-11.6 1.1-5.8 .2z"/>
<path class="ad" d="M443 463.9l3.1-.8 3.6-1.2 2.1-.4 2.3-.2-6.5 1.8-1.6 0-1.5 .2z"/>
<path class="ai" d="M416.1 601.4l6.6 .4 6.6 .2 6.7-.1-.5-1.2-5.9 .1-11.7-.6-1.2 1.1z"/>
<path class="ae" d="M417.5 463.2l4.8 1.1-1.2-.5-1.3-.2-1.2 .1-6.8-1.6 2 .1 1.9 .4z"/>
<path class="ad" d="M478.7 595.4l6.5-1.7 6.3-1.9 6-2.1-1.9 1-2.1 .7-2.1 .5-5.4 1.9-5.7 1.8-5.9 1.5 1.5-.3 1.4-.6z"/>
<path class="w" d="M548 514.1l3.7-3.8 3.2-3.8 2.6-4 1.1 3.8 .8 3.8 .5 3.7-2.7 4.1-3.2 3.9-3.8 3.9-.5-3.8-.7-3.9z"/>
<path class="v" d="M308.7 488.9l2.3 3.8 2.7 3.8 3.2 3.6-1.6 3.8-1.5 3.8-1.2 3.9-3.4-3.8-2.8-3.9-2.3-4 1.3-3.7 1.5-3.7z"/>
<path class="ab" d="M502.7 585.2l6.2-2.5 5.8-2.7 5.5-2.8-2 1.9-2.2 1.7-2.3 1.4-5.1 2.7-5.4 2.5-5.7 2.3 1.9-1.3 1.7-1.5z"/>
<path class="x" d="M546 540.7l4.3-3.8-.5 3.6-.7 3.5-.9 3.3-4.2 3.7 .9-3.3 .7-3.4z"/>
<path class="z" d="M459.7 459l1.6-.9 3-1.9 3.3-.5 3.4-.2 3.5 .1-3.8 2.5-2.2 1.2-3-.4-3-.1z"/>
<path class="af" d="M438 464.7l5-.8 1.5-.6 1.5-.2 1.6 0-4.6 .8-2.4 .3-.9-.1-.9 .2z"/>
<path class="v" d="M370.2 449l1.2 1.9 1.4 1.8 1.7 1.7-3.9 .9-3.8 1.1-3.9 1.3-2-2.1-1.7-2.2-1.5-2.2 4.2-1 4.1-.7z"/>
<path class="ag" d="M422.3 464.3l5.1 .6-.5-.4-.6-.1-.5 .1-2.5-.2-4.7-.6 1.2-.1 1.3 .2z"/>
<path class="ah" d="M432.7 465l5.3-.3 .8-.4 .9-.2 .9 .1-4.9 .4-2.5 .1-.2-.2z"/>
<path class="ai" d="M427.4 464.9l5.3 .1 .3-.5 .2 .2-5 0-2.4-.2 .5-.1 .6 .1z"/>
<path class="y" d="M310.3 534.3l3.9 3.9 4.4 3.7 4.9 3.6 .4 3.6 .6 3.4 .9 3.3-4.8-3.5-4.3-3.7-3.9-3.8-.9-3.4-.8-3.5z"/>
<path class="aa" d="M329.2 564.8l5.1 3.2 5.5 3.2 5.9 2.9 1.4 2.5 1.5 2.3 1.7 2.1-5.6-2.8-5.2-3-4.8-3.1-2-2.3-1.9-2.4z"/>
<path class="aa" d="M400.7 457.5l5.1 2.6-2.6-.1-2.7 .2-2.8 .5-2.3-1.1-4.3-2.3 3.3-.2 3.2 .1z"/>
<path class="w" d="M487.4 455.6l1.8-1.7 1.6-1.8 1.4-1.8 4.1 .5 4.1 .8 4 1.1-1.6 2.2-1.9 2.1-2.2 2.1-3.8-1.4-3.8-1.2z"/>
<path class="ae" d="M373.6 592.4l6.4 1.9 6.6 1.6 6.7 1.4 1.2 .8 1.2 .5 1.2 .2-6.2-1.2-13.6-3.6-1.7-.6z"/>
<path class="v" d="M315.5 478.6l2.1 3.6 2.6 3.5 3.1 3.4-2.3 3.6-2.2 3.7-1.9 3.7-3.2-3.6-2.7-3.8-2.3-3.8 2.1-3.5 2.2-3.4z"/>
<path class="x" d="M474.5 455.6l1.7-1.3 3.6 .2 3.8 .4 3.8 .7-2.1 1.7-3.6-.8-3.6-.6z"/>
<path class="v" d="M357.7 451.2l1.5 2.2 1.7 2.2 2 2.1-3.8 1.6-3.8 1.7-3.7 2-2.3-2.5-2-2.5-1.7-2.6 4-1.6 4.1-1.4z"/>
<path class="z" d="M528.7 561.4l5.6-3.3 5.1-3.5 4.6-3.6-1.1 3.2-1.3 3.1-1.6 2.8-4.5 3.5-4.9 3.4-5.4 3.1 1.4-2.7 1.1-2.9z"/>
<path class="w" d="M543.7 502.5l3.6-3.6 3.1-3.7 2.5-3.7 1.8 3.6 1.5 3.7 1.3 3.7-2.6 4-3.2 3.8-3.7 3.8-1.2-3.9-1.4-3.9z"/>
<path class="y" d="M385.9 453.4l3.3 2.6 1.9 1.3-3.4 .4-3.4 .7-3.4 1-2.3-1.6-4.1-3.4 3.8-.6 3.9-.3z"/>
<path class="ac" d="M350.3 581l5.9 2.6 6.3 2.4 6.6 2.2 1.4 1.6 1.5 1.5 1.6 1.1-6-2-5.9-2.2-5.5-2.5-2.1-1.3-2-1.6z"/>
<path class="ab" d="M454.1 461.3l5.6-2.3 2.8-.2 3 .1 3 .4-4.8 2.1-2.6 .9-2.4-.6-2.4-.3z"/>
<path class="v" d="M324.1 469.4l2 3.3 2.4 3.2 2.9 3.1-2.9 3.3-2.7 3.3-2.5 3.5-3.1-3.4-2.6-3.5-2.1-3.6 2.7-3.2 2.8-3.1z"/>
<path class="v" d="M345.6 455.4l1.7 2.6 2 2.5 2.3 2.5-3.7 2.2-3.5 2.4-3.5 2.6-2.6-2.8-2.2-2.9-1.8-2.9 3.7-2.3 3.7-2z"/>
<path class="v" d="M334.3 461.6l1.8 2.9 2.2 2.9 2.6 2.8-3.3 2.8-3.2 2.9-3 3.1-2.9-3.1-2.4-3.2-2-3.3 3.2-2.8 3.4-2.6z"/>
<path class="w" d="M498.7 459.1l2.2-2.1 1.9-2.1 1.6-2.2 4.1 1.2 4 1.5 3.9 1.7-1.9 2.6-2.2 2.5-2.5 2.4-3.6-2-3.8-1.9z"/>
<path class="af" d="M458.1 599.1l7-1 6.9-1.2 6.7-1.5-1.4 .8-1.4 .6-7.6 1.6-6.3 1.2-6.4 .9 .9-.2 .8-.5z"/>
<path class="x" d="M546 529.4l4.2-3.7 .3 3.8 0 3.7-.2 3.7-4.3 3.8 .3-3.7-.1-3.7z"/>
<path class="ac" d="M405.8 460.1l6 2-2 .2-2.1 .5-2.1 .7-2.7-.9-5.2-1.9 2.8-.5 2.7-.2z"/>
<path class="w" d="M537.5 491.3l3.4-3.3 2.9-3.5 2.4-3.5 2.5 3.4 2.2 3.5 2 3.6-2.5 3.7-3.1 3.7-3.6 3.6-1.8-3.8-2.1-3.7z"/>
<path class="z" d="M468.5 459.3l2.2-1.2 3.8-2.5 3.6 .3 3.6 .6 3.6 .8-4.8 3.1-2.7 1.5-3.1-1.2-3.1-.8z"/>
<path class="y" d="M310.3 523.1l3.9 3.9 4.4 3.7 4.9 3.5-.2 3.9 0 3.7 .2 3.7-4.9-3.6-4.4-3.7-3.9-3.9-.3-3.6 .1-3.8z"/>
<path class="ag" d="M393.3 597.3l7 1.2 7.1 .9 7.1 .7 .5 .7 .6 .4 .5 .2-6.5-.7-6.4-.8-6.3-1.1-1.2-.2-1.2-.5z"/>
<path class="w" d="M509.8 464.6l2.5-2.4 2.2-2.5 1.9-2.6 3.9 2 3.7 2.1 3.6 2.3-2.1 2.9-2.4 2.9-2.9 2.8-3.4-2.7-3.4-2.5z"/>
<path class="w" d="M529.6 481.1l3.1-3.1 2.7-3.2 2.3-3.2 3 3 2.9 3.1 2.6 3.3-2.4 3.5-2.9 3.5-3.4 3.3-2.5-3.5-2.6-3.4z"/>
<path class="ad" d="M447.6 463.1l6.5-1.8 2.2 .1 2.4 .3 2.4 .6-5.5 1.7-2.9 .7-1.8-.8-1.7-.6z"/>
<path class="x" d="M485.3 457.3l2.1-1.7 3.7 .9 3.8 1.2 3.8 1.4-2.5 2-3.6-1.5-3.7-1.3z"/>
<path class="ab" d="M506.8 578.6l6.5-2.6 6.1-2.9 5.8-3-1.5 2.6-1.7 2.4-1.8 2.1-5.5 2.8-5.8 2.7-6.2 2.5 1.5-2 1.4-2.2z"/>
<path class="w" d="M520.2 472.1l2.9-2.8 2.4-2.9 2.1-2.9 3.5 2.5 3.4 2.7 3.2 2.9-2.3 3.2-2.7 3.2-3.1 3.1-3-3.2-3.1-3z"/>
<path class="y" d="M374.5 454.4l4.1 3.4 2.3 1.6-3.4 1.2-3.5 1.4-3.4 1.7-2.9-1.9-2.5-2-2.3-2.1 3.9-1.3 3.8-1.1z"/>
<path class="ah" d="M436.4 600.7l7.3-.3 7.3-.5 7.1-.8-.8 .7-.8 .5-.9 .2-6.5 .7-6.5 .5-6.6 .2 .3-.5z"/>
<path class="ad" d="M482.5 591.3l7-1.8 6.7-2 6.5-2.3-1.6 1.7-1.7 1.5-1.9 1.3-6 2.1-6.3 1.9-6.5 1.7 1.4-1.1 1.2-1.4z"/>
<path class="ae" d="M411.8 462.1l6.8 1.6-1.4 .3-1.3 .6-1.4 .8-3.1-.5-5.8-1.4 2.1-.7 2.1-.5z"/>
<path class="aa" d="M325.4 555.8l5.2 3.4 5.7 3.2 6.2 3 .9 3.1 1 2.9 1.3 2.7-5.9-2.9-5.5-3.2-5.1-3.2-1.5-2.9-1.2-2.9z"/>
<path class="ai" d="M414.5 600.1l7.3 .4 7.3 .3 7.3-.1-.1 .7-.3 .5-6.7 .1-6.6-.2-6.6-.4-.5-.2-.6-.4z"/>
<path class="aa" d="M391.1 457.3l4.3 2.3 2.3 1.1-2.8 .7-2.8 1-2.9 1.3-3-1.4-5.3-2.9 3.4-1 3.4-.7z"/>
<path class="z" d="M530.5 551.1l5.6-3.3 5.2-3.5 4.7-3.6-.4 3.6-.7 3.4-.9 3.3-4.6 3.6-5.1 3.5-5.6 3.3 .8-3.3 .6-3.4z"/>
<path class="x" d="M543.9 517.7l4.1-3.6 1 3.9 .7 3.9 .5 3.8-4.2 3.7-.5-3.8-.7-3.9z"/>
<path class="af" d="M440.6 464.2l7-1.1 1.6 .2 1.7 .6 1.8 .8-6.1 1.1-3.2 .4-1-.9-.9-.7z"/>
<path class="ag" d="M418.6 463.7l7.2 .8-1.2 1.1-.6 1-3.3-.3-6.2-.9 1.4-.8 1.3-.6z"/>
<path class="ah" d="M433.2 464.7l7.4-.5 .9 .4 .9 .7 1 .9-6.4 .5-3.3 .1z"/>
<path class="y" d="M312.6 511.6l3.8 3.7 4.3 3.6 4.8 3.5-.9 3.9-.6 4-.5 3.9-4.9-3.5-4.4-3.7-3.9-3.9 .5-3.8 .8-3.8z"/>
<path class="ai" d="M425.8 464.5l7.4 .2 .5 2.1-3.2 0-6.5-.2 .6-1z"/>
<path class="x" d="M496.2 461.1l2.5-2 3.7 1.6 3.8 1.9 3.6 2-2.9 2.4-3.5-2.2-3.6-2z"/>
<path class="ae" d="M369.1 588.2l6.8 1.9 7.1 1.8 7.3 1.5 1 1.5 1 1.4 1 1-6.7-1.4-6.6-1.6-6.4-1.9-1.6-1.1-1.5-1.5z"/>
<path class="ab" d="M461.1 462.3l2.6-.9 4.8-2.1 3.1 .6 3.1 .8 3.1 1.2-6 2.6-3.2 1.2-2.5-1.4-2.5-1.1z"/>
<path class="ac" d="M345.7 574.1l6.2 2.7 6.6 2.6 7 2.3 1.1 2.4 1.2 2.1 1.3 2-6.6-2.2-6.3-2.4-5.9-2.6-1.7-2.1-1.5-2.3z"/>
<path class="z" d="M477.8 461.9l2.7-1.5 4.8-3.1 3.6 1 3.7 1.3 3.6 1.5-2.7 1.9-3 1.9-3.2 1.8-3.2-1.9-3.1-1.6z"/>
<path class="y" d="M362.9 457.7l2.3 2.1 2.5 2 2.9 1.9-3.4 1.9-3.4 2.1-3.3 2.3-3.3-2.2-3-2.4-2.6-2.4 3.7-2 3.8-1.7z"/>
<path class="x" d="M539.7 506l4-3.5 1.7 3.8 1.4 3.9 1.2 3.9-4.1 3.6-1.2-3.9-1.4-3.9z"/>
<path class="ac" d="M397.7 460.7l5.2 1.9 2.7 .9-2.1 .9-2.2 1.2-2.2 1.5-3.5-1-6.4-2.4 2.9-1.3 2.8-1z"/>
<path class="x" d="M506.9 467l2.9-2.4 3.6 2.3 3.4 2.5 3.4 2.7-3.2 2.7-3.3-2.8-3.3-2.6z"/>
<path class="y" d="M316.9 500.1l3.7 3.6 4.2 3.4 4.7 3.3-1.6 4-1.3 4-1.1 4-4.8-3.5-4.3-3.6-3.8-3.7 1.2-3.9 1.5-3.8z"/>
<path class="af" d="M460.2 595.3l7.6-1.1 7.4-1.3 7.3-1.6-1.2 1.6-1.2 1.4-1.4 1.1-6.7 1.5-6.9 1.2-7 1 1.5-2.2z"/>
<path class="z" d="M530.4 539.8l5.7-3.3 5.2-3.5 4.7-3.6 .2 3.9 .1 3.7-.3 3.7-4.7 3.6-5.2 3.5-5.6 3.3 .2-3.7-.1-3.7z"/>
<path class="aa" d="M323.5 545.5l5.3 3.4 5.8 3.3 6.2 3 .4 3.6 .5 3.4 .8 3.2-6.2-3-5.7-3.2-5.2-3.4-.9-3.3-.6-3.4z"/>
<path class="ab" d="M509.6 570l6.8-2.7 6.3-2.9 6-3-1 3.1-1.1 2.9-1.4 2.7-5.8 3-6.1 2.9-6.5 2.6 1.1-2.7 .9-2.8z"/>
<path class="x" d="M533.7 494.6l3.8-3.3 2.3 3.7 2.1 3.7 1.8 3.8-4 3.5-1.8-3.9-2-3.8z"/>
<path class="y" d="M351.6 463l2.6 2.4 3 2.4 3.3 2.2-3.3 2.5-3.2 2.8-3 2.9-3.7-2.6-3.4-2.6-3-2.8 3.5-2.6 3.5-2.4z"/>
<path class="aa" d="M380.9 459.4l5.3 2.9 3 1.4-2.9 1.4-2.9 1.8-2.9 1.9-3.5-1.6-3.3-1.7-3.1-1.8 3.4-1.7 3.5-1.4z"/>
<path class="x" d="M517 474.8l3.2-2.7 3.3 2.8 3.1 3 3 3.2-3.6 3-2.9-3.3-3-3.1z"/>
<path class="ad" d="M452.7 464.7l2.9-.7 5.5-1.7 2.5 .9 2.5 1.1 2.5 1.4-6.9 2.1-3.7 .8-1.8-1.6-1.8-1.3z"/>
<path class="x" d="M526 484.1l3.6-3 2.8 3.3 2.6 3.4 2.5 3.5-3.8 3.3-2.4-3.6-2.6-3.5z"/>
<path class="ag" d="M390.3 593.4l7.5 1.2 7.6 1 7.8 .8 .4 1.5 .9 2.2-7.1-.7-7.1-.9-7-1.2-1-1-1-1.4z"/>
<path class="y" d="M323.3 489.1l3.5 3.3 4 3.3 4.4 3.1-2.1 3.8-3.6 7.8-4.7-3.3-4.2-3.4-3.7-3.6 1.9-3.7 2.2-3.7z"/>
<path class="ad" d="M485.4 585l7.4-1.9 7.2-2.2 6.8-2.3-1.2 2.4-1.4 2.2-1.5 2-6.5 2.3-6.7 2-7 1.8 2-3.9z"/>
<path class="y" d="M340.9 470.2l3 2.8 3.4 2.6 3.7 2.6-5.9 6.3-2.7 3.4-4.1-2.9-3.6-2.9-3.3-3.1 3-3.1 3.2-2.9z"/>
<path class="z" d="M487.3 466.7l3.2-1.8 3-1.9 2.7-1.9 3.6 1.7 3.6 2 3.5 2.2-3.1 2.3-3.5 2.1-3.8 2.1-3-2.5-3.1-2.3z"/>
<path class="y" d="M331.4 479l3.3 3.1 3.6 2.9 4.1 2.9-5 7.1-2.2 3.8-4.4-3.1-4-3.3-3.5-3.3 2.5-3.5 2.7-3.3z"/>
<path class="ae" d="M405.6 463.5l5.8 1.4 3.1 .5-2.9 2.6-1.5 1.6-3.8-.7-7.2-1.8 2.2-1.5 2.2-1.2z"/>
<path class="ah" d="M436.8 597.1l7.9-.4 7.8-.5 7.7-.9-.6 1.6-1.5 2.2-7.1 .8-7.3 .5-7.3 .3z"/>
<path class="ai" d="M413.2 596.4l7.8 .5 7.9 .2 7.9 0-.4 3.6-7.3 .1-7.3-.3-7.3-.4-.9-2.2z"/>
<path class="ab" d="M468.6 465.7l3.2-1.2 6-2.6 3.2 1.3 3.1 1.6 3.2 1.9-7.2 3.2-3.9 1.4-2.5-2.1z"/>
<path class="z" d="M528.6 527.8l5.5-3.2 5.1-3.4 4.7-3.5 .9 4 .7 3.9 .5 3.8-4.7 3.6-5.2 3.5-5.7 3.3-1-8z"/>
<path class="af" d="M443.4 466.2l3.2-.4 6.1-1.1 1.7 1 1.8 1.3 1.8 1.6-7.6 1.4-4 .5-1-1.7z"/>
<path class="ac" d="M342.5 565.4l6.5 2.9 6.8 2.6 7.2 2.4 .7 3 1.8 5.4-7-2.3-6.6-2.6-6.2-2.7-1.3-2.7-1-2.9z"/>
<path class="ag" d="M414.5 465.4l6.2 .9 3.3 .3-2 4.4-4-.3-7.9-1.1 1.5-1.6z"/>
<path class="ae" d="M365.5 581.7l7.2 2.1 7.5 1.8 7.7 1.6 .8 2.3 1.6 3.9-7.3-1.5-7.1-1.8-6.8-1.9-1.3-2-1.2-2.1z"/>
<path class="aa" d="M323.5 534.2l5.4 3.4 5.8 3.2 6.2 3.1-.2 3.9 .1 7.4-6.2-3-5.8-3.3-5.3-3.4-.2-3.7 0-3.7z"/>
<path class="aa" d="M370.6 463.7l3.1 1.8 3.3 1.7 3.5 1.6-5.7 4.6-2.8 2.7-4.1-1.9-3.9-2.1-3.5-2.1 3.3-2.3 3.4-2.1z"/>
<path class="ah" d="M433.7 466.8l3.3-.1 6.4-.5 2 2.6 1 1.7-8 .7-4.1 .2z"/>
<path class="z" d="M496.5 473.5l3.8-2.1 3.5-2.1 3.1-2.3 3.5 2.4 3.3 2.6 3.3 2.8-3.6 2.5-3.9 2.5-4.3 2.4-2.8-3.1z"/>
<path class="ai" d="M424 466.6l6.5 .2 3.2 0 .6 4.6-4.1 0-8.2-.4z"/>
<path class="ac" d="M389.2 463.7l6.4 2.4 3.5 1-4.5 3.7-2.2 2.2-4.2-1.3-7.7-2.9 2.9-1.9 2.9-1.8z"/>
<path class="ab" d="M511 559.9l6.9-2.7 6.5-3 6.1-3.1-.4 3.6-.6 3.4-.8 3.3-6 3-6.3 2.9-6.8 2.7 1.1-6.6z"/>
<path class="z" d="M525 515.6l5.3-3.1 4.9-3.2 4.5-3.3 1.6 3.9 1.4 3.9 1.2 3.9-4.7 3.5-5.1 3.4-5.5 3.2-2.2-8.2z"/>
<path class="z" d="M505.2 482.2l4.3-2.4 3.9-2.5 3.6-2.5 3.1 2.9 3 3.1 2.9 3.3-3.9 2.8-4.3 2.8-4.7 2.6-2.5-3.5z"/>
<path class="af" d="M461.9 589.3l8-1.2 7.9-1.4 7.6-1.7-.9 2.4-2 3.9-7.3 1.6-7.4 1.3-7.6 1.1 1.2-3.8z"/>
<path class="z" d="M519.7 503.6l5.1-2.9 4.7-3 4.2-3.1 2.2 3.7 2 3.8 1.8 3.9-4.5 3.3-4.9 3.2-5.3 3.1-3.4-8.1z"/>
<path class="ad" d="M458 468.6l3.7-.8 6.9-2.1 5.1 3.5 2.5 2.1-8.3 2.5-4.4 1-1.9-2.3z"/>
<path class="z" d="M513.1 492.3l4.7-2.6 4.3-2.8 3.9-2.8 2.7 3.4 2.6 3.5 2.4 3.6-4.2 3.1-4.7 3-5.1 2.9-2-3.9z"/>
<path class="aa" d="M325.5 522.4l5.3 3.3 5.7 3.1 6.1 3-.8 4.1-.9 8-6.2-3.1-5.8-3.2-5.4-3.4 .5-3.9 .6-4z"/>
<path class="ad" d="M487.4 576.7l7.7-2 7.4-2.2 7.1-2.5-.8 3.1-.9 2.8-1.1 2.7-6.8 2.3-7.2 2.2-7.4 1.9 1.5-5.3z"/>
<path class="ab" d="M476.2 471.3l3.9-1.4 7.2-3.2 3.1 2 3.1 2.3 3 2.5-4 1.9-4.3 1.9-4.6 1.6-2.4-2.7z"/>
<path class="aa" d="M360.5 470l3.5 2.1 3.9 2.1 4.1 1.9-5.4 5.8-2.6 3.2-4.6-2.2-4.4-2.3-4-2.4 3-2.9 3.2-2.8z"/>
<path class="ag" d="M387.9 587.2l8 1.3 8 1.1 8.2 .8 1.1 6-7.8-.8-7.6-1-7.5-1.2-1.6-3.9z"/>
<path class="ae" d="M399.1 467.1l7.2 1.8 3.8 .7-2.9 4.1-1.5 2.3-4.6-.8-8.7-2.2 2.2-2.2z"/>
<path class="ac" d="M340.8 555.2l6.6 2.9 7 2.6 7.4 2.4 .2 3.6 1 6.6-7.2-2.4-6.8-2.6-6.5-2.9-.8-3.2-.5-3.4z"/>
<path class="ab" d="M511 548.5l6.9-2.7 6.4-2.9 6.1-3.1 .2 3.9 .1 3.7-.2 3.7-6.1 3.1-6.5 3-6.9 2.7 .2-7.5z"/>
<path class="ah" d="M437.1 591.1l8.3-.4 8.3-.6 8.2-.8-.5 2.2-1.2 3.8-7.7 .9-7.8 .5-7.9 .4z"/>
<path class="af" d="M446.4 470.5l4-.5 7.6-1.4 3.6 3.9 1.9 2.3-9.3 1.7-4.7 .7-1-2.5z"/>
<path class="aa" d="M329.5 510.4l5 3.2 5.5 3 5.9 2.8-1.3 4.1-2 8.3-6.1-3-5.7-3.1-5.3-3.3 1.1-4 1.3-4z"/>
<path class="ac" d="M380.5 468.8l7.7 2.9 4.2 1.3-4.4 5.1-2.2 2.9-4.8-1.5-4.6-1.7-4.4-1.7 2.8-2.7z"/>
<path class="aa" d="M351 478.2l4 2.4 4.4 2.3 4.6 2.2-4.9 6.8-2.3 3.7-5.1-2.4-4.8-2.6-4.5-2.7 2.7-3.4z"/>
<path class="ai" d="M412.1 590.4l8.3 .5 8.4 .2 8.3 0-.3 6-7.9 0-7.9-.2-7.8-.5z"/>
<path class="ae" d="M363 573.3l7.5 2.1 7.8 1.9 8 1.6 .5 3 1.1 5.3-7.7-1.6-7.5-1.8-7.2-2.1-1.8-5.4z"/>
<path class="ag" d="M410.1 469.6l7.9 1.1 4 .3-1.9 6.8-4.9-.5-9.5-1.3 1.5-2.3z"/>
<path class="aa" d="M335.2 498.8l4.7 2.9 5.2 2.8 5.6 2.7-1.8 4-3 8.2-5.9-2.8-5.5-3-5-3.2 3.6-7.8z"/>
<path class="aa" d="M342.4 487.9l4.5 2.7 4.8 2.6 5.1 2.4-4.2 7.6-1.9 4-5.6-2.7-5.2-2.8-4.7-2.9 2.2-3.8z"/>
<path class="ab" d="M483.6 478.9l4.6-1.6 4.3-1.9 4-1.9 5.9 5.6 2.8 3.1-4.5 2.2-4.9 2.1-5.1 1.9-2.3-3.3z"/>
<path class="ah" d="M434.3 471.4l4.1-.2 8-.7 2.1 4.2 1 2.5-9.7 .8-5 .2z"/>
<path class="ai" d="M422 471l8.2 .4 4.1 0 .5 6.8-4.9 0-9.8-.4z"/>
<path class="ad" d="M463.5 474.8l4.4-1 8.3-2.5 5 4.9 2.4 2.7-4.7 1.6-5 1.4-5.1 1.2-1.8-3z"/>
<path class="ab" d="M509.5 536.3l6.7-2.7 6.4-2.8 6-3 .8 4 1 8-6.1 3.1-6.4 2.9-6.9 2.7-.8-8.1z"/>
<path class="ad" d="M488.5 566.6l7.8-2 7.5-2.2 7.2-2.5-.3 3.5-1.1 6.6-7.1 2.5-7.4 2.2-7.7 2 .8-6.5z"/>
<path class="af" d="M463 581.1l8.3-1.2 8.2-1.5 7.9-1.7-.5 3-1.5 5.3-7.6 1.7-7.9 1.4-8 1.2z"/>
<path class="ac" d="M340.9 543.9l6.6 2.8 7 2.6 7.3 2.4-.2 4 .2 7.4-7.4-2.4-7-2.6-6.6-2.9-.1-7.4z"/>
<path class="ac" d="M372 476.1l4.4 1.7 4.6 1.7 4.8 1.5-4.1 6.3-2 3.4-5.5-1.7-5.2-1.9-5-2 2.6-3.2z"/>
<path class="ab" d="M490.7 488.4l5.1-1.9 4.9-2.1 4.5-2.2 5.4 6.6 2.5 3.5-5.1 2.5-5.3 2.3-5.7 2.2-2-3.8z"/>
<path class="ae" d="M392.4 473l8.7 2.2 4.6 .8-2.9 5.5-1.4 3-5.3-1-10.3-2.5 2.2-2.9z"/>
<path class="ag" d="M386.3 578.9l8.2 1.4 8.4 1.1 8.5 .8 .7 8.2-8.2-.8-8-1.1-8-1.3-1.1-5.3z"/>
<path class="ab" d="M506.6 523.7l6.5-2.5 6.1-2.7 5.8-2.9 1.4 4 2.2 8.2-6 3-6.4 2.8-6.7 2.7-1.8-8.4z"/>
<path class="ab" d="M497 499.3l5.7-2.2 5.3-2.3 5.1-2.5 4.6 7.4 2 3.9-5.4 2.7-5.8 2.5-6.1 2.4-1.7-4.1z"/>
<path class="ae" d="M361.8 563.1l7.6 2.2 7.9 1.9 8.2 1.7 .1 3.5 .7 6.5-8-1.6-7.8-1.9-7.5-2.1-1-6.6z"/>
<path class="af" d="M449.5 477.2l4.7-.7 9.3-1.7 3.5 5.3 1.8 3-10.7 2-5.6 .7z"/>
<path class="ab" d="M502.4 511.2l6.1-2.4 5.8-2.5 5.4-2.7 1.9 3.9 3.4 8.1-5.8 2.9-6.1 2.7-6.5 2.5-2.7-8.4z"/>
<path class="ah" d="M437.3 582.9l8.7-.3 8.5-.6 8.5-.9-1.1 8.2-8.2 .8-8.3 .6-8.3 .4z"/>
<path class="ac" d="M342.6 531.8l6.5 2.7 6.8 2.6 7.2 2.3-.6 4.2-.7 8.1-7.3-2.4-7-2.6-6.6-2.8 .9-8z"/>
<path class="ai" d="M411.4 582.2l8.6 .5 8.7 .3 8.6-.1-.2 8.2-8.3 0-8.4-.2-8.3-.5z"/>
<path class="ag" d="M405.7 476l9.5 1.3 4.9 .5-2 8.8-5.6-.6-11.1-1.5 1.4-3z"/>
<path class="ad" d="M468.8 483.1l5.1-1.2 5-1.4 4.7-1.6 4.8 6.2 2.3 3.3-5.4 1.7-5.6 1.6-5.9 1.4-1.6-3.5z"/>
<path class="ac" d="M364 485.1l5 2 5.2 1.9 5.5 1.7-3.8 7.3-1.8 3.8-6-1.9-5.8-2.1-5.5-2.2 2.3-3.7z"/>
<path class="ad" d="M488.4 555.2l7.9-2 7.5-2.2 7.2-2.5 .2 3.9-.2 7.5-7.2 2.5-7.5 2.2-7.8 2 .1-7.5z"/>
<path class="ah" d="M434.8 478.2l5-.2 9.7-.8 3 8.6-11.4 1-5.7 .2z"/>
<path class="ai" d="M420.1 477.8l9.8 .4 4.9 0 .6 8.8-5.8 0-11.5-.4z"/>
<path class="ac" d="M345.9 519.4l6.2 2.6 6.6 2.4 7 2.3-1 4.2-1.6 8.5-7.2-2.3-6.8-2.6-6.5-2.7 2-8.3z"/>
<path class="af" d="M463.6 571l8.5-1.2 8.3-1.4 8.1-1.8-.3 3.6-.8 6.5-7.9 1.7-8.2 1.5-8.3 1.2z"/>
<path class="ac" d="M356.8 495.6l5.5 2.2 5.8 2.1 6 1.9-3.2 8-1.5 4.2-6.6-2.1-6.2-2.3-5.9-2.4 1.9-4z"/>
<path class="ae" d="M385.8 481l10.3 2.5 5.3 1-4.1 10.2-6-1.1-5.9-1.4-5.7-1.5 2-3.4z"/>
<path class="ac" d="M350.7 507.2l5.9 2.4 6.2 2.3 6.6 2.1-2.6 8.4-1.1 4.3-7-2.3-6.6-2.4-6.2-2.6 3-8.2z"/>
<path class="ae" d="M361.8 551.7l7.6 2.2 7.9 1.9 8.2 1.6 0 11.5-8.2-1.7-7.9-1.9-7.6-2.2-.2-7.4z"/>
<path class="ad" d="M473.8 493.1l5.9-1.4 5.6-1.6 5.4-1.7 4.3 7.1 2 3.8-6 1.9-6.2 1.8-6.4 1.6-1.5-4z"/>
<path class="ag" d="M385.5 568.9l8.3 1.4 8.6 1.1 8.6 .8 .4 10-8.5-.8-8.4-1.1-8.2-1.4-.7-6.5z"/>
<path class="ad" d="M487.4 542.8l7.6-2 7.4-2.1 7.1-2.4 .7 4.1 .8 8.1-7.2 2.5-7.5 2.2-7.9 2-.6-8.2z"/>
<path class="af" d="M452.5 485.8l5.6-.7 10.7-2 3.4 6.5 1.6 3.5-6 1.3-6.2 1-6.3 .9z"/>
<path class="ah" d="M437.4 572.9l8.8-.3 8.8-.6 8.6-1-.6 10.1-8.5 .9-8.5 .6-8.7 .3z"/>
<path class="ag" d="M401.4 484.5l11.1 1.5 5.6 .6-1.8 10.5-6.4-.6-6.4-.8-6.2-1z"/>
<path class="ai" d="M411 572.2l8.8 .5 8.8 .3 8.8-.1-.1 10-8.6 .1-8.7-.3-8.6-.5z"/>
<path class="ad" d="M478.4 504.6l6.4-1.6 6.2-1.8 6-1.9 3.7 7.8 1.7 4.1-6.5 2.1-6.7 1.9-7 1.8-1.2-4.2z"/>
<path class="ae" d="M379.7 490.7l5.7 1.5 5.9 1.4 6 1.1-3.7 11.7-6.7-1.3-6.5-1.6-6.3-1.7 1.8-3.8z"/>
<path class="ad" d="M485.3 529.9l7.4-1.9 7.1-2.1 6.8-2.2 1.1 4.2 1.8 8.4-7.1 2.4-7.4 2.1-7.6 2-1.3-8.6z"/>
<path class="af" d="M463.6 559.5l8.5-1.1 8.3-1.5 8-1.7 .2 3.9-.1 7.5-8.1 1.8-8.3 1.4-8.5 1.2z"/>
<path class="ah" d="M435.4 487l5.7-.2 11.4-1 2.8 10.5-6.4 .6-6.5 .5-6.5 .2z"/>
<path class="ad" d="M482.2 517l7-1.8 6.7-1.9 6.5-2.1 1.5 4.1 2.7 8.4-6.8 2.2-7.1 2.1-7.4 1.9-1-4.4z"/>
<path class="ae" d="M363.1 539.4l7.5 2.1 7.8 1.8 8 1.6-.9 12.5-8.2-1.6-7.9-1.9-7.6-2.2 .7-8.1z"/>
<path class="ai" d="M418.1 486.6l11.5 .4 5.8 0 .5 10.6-6.5 0-6.6-.1-6.5-.4z"/>
<path class="af" d="M455.3 496.3l6.3-.9 6.2-1 6-1.3 3.1 7.5 1.5 4-6.7 1.3-6.8 1.2-7 1z"/>
<path class="ag" d="M385.5 557.4l8.3 1.4 8.6 1.1 8.6 .8 0 11.5-8.6-.8-8.6-1.1-8.3-1.4z"/>
<path class="ae" d="M374.1 501.8l6.3 1.7 6.5 1.6 6.7 1.3-3.1 12.5-7.3-1.4-7-1.7-6.8-1.8 1.5-4.2z"/>
<path class="ae" d="M365.7 526.7l7.2 2 7.5 1.7 7.7 1.5-1.7 13-8-1.6-7.8-1.8-7.5-2.1 1.6-8.5z"/>
<path class="ae" d="M369.4 514l6.8 1.8 7 1.7 7.3 1.4-2.4 13-7.7-1.5-7.5-1.7-7.2-2 1.1-4.3z"/>
<path class="ag" d="M397.3 494.7l6.2 1 6.4 .8 6.4 .6-1.6 11.9-7.1-.7-7.1-.9-6.9-1z"/>
<path class="af" d="M463 547l8.3-1.1 8.1-1.5 8-1.6 .4 4.2 .6 8.2-8 1.7-8.3 1.5-8.5 1.1z"/>
<path class="ah" d="M437.4 561.4l8.8-.3 8.8-.6 8.6-1 0 11.5-8.6 1-8.8 .6-8.8 .3z"/>
<path class="ai" d="M411 560.7l8.8 .5 8.8 .3 8.8-.1 0 11.5-8.8 .1-8.8-.3-8.8-.5z"/>
<path class="ah" d="M435.9 497.6l6.5-.2 6.5-.5 6.4-.6 2.6 11.8-7.1 .7-7.2 .5-7.2 .2z"/>
<path class="af" d="M457.9 508.1l7-1 6.8-1.2 6.7-1.3 2.6 8.2 1.2 4.2-7.2 1.5-7.4 1.2-7.5 1.1z"/>
<path class="ai" d="M416.3 497.1l6.5 .4 6.6 .1 6.5 0 .5 11.9-7.3 .1-7.2-.2-7.2-.4z"/>
<path class="ag" d="M386.4 544.9l8.2 1.4 8.3 1 8.5 .8-.4 12.6-8.6-.8-8.6-1.1-8.3-1.4z"/>
<path class="af" d="M461.8 533.9l8-1.1 7.8-1.3 7.7-1.6 .8 4.3 1.3 8.6-8 1.6-8.1 1.5-8.3 1.1z"/>
<path class="af" d="M460.1 520.8l7.5-1.1 7.4-1.2 7.2-1.5 2.1 8.5 1 4.4-7.7 1.6-7.8 1.3-8 1.1z"/>
<path class="ag" d="M393.6 506.4l6.9 1 7.1 .9 7.1 .7-1.4 12.8-7.7-.7-7.6-1-7.5-1.2z"/>
<path class="ah" d="M437.3 548.8l8.6-.3 8.6-.6 8.5-.9 .6 12.5-8.6 1-8.8 .6-8.8 .3z"/>
<path class="ag" d="M388.1 531.9l7.9 1.3 8 1 8.2 .8-.8 13.1-8.5-.8-8.3-1-8.2-1.4z"/>
<path class="ai" d="M411.4 548.1l8.6 .6 8.7 .2 8.6-.1 .1 12.6-8.8 .1-8.8-.3-8.8-.5z"/>
<path class="ag" d="M390.5 518.9l7.5 1.2 7.6 1 7.7 .7-1.1 13.2-8.2-.8-8-1-7.9-1.3z"/>
<path class="ah" d="M436.4 509.5l7.2-.2 7.2-.5 7.1-.7 2.2 12.7-7.7 .8-7.8 .5-7.8 .3z"/>
<path class="ai" d="M414.7 509l7.2 .4 7.2 .2 7.3-.1 .4 12.9-7.9 0-7.8-.2-7.8-.4z"/>
<path class="ah" d="M437.1 535.7l8.3-.4 8.2-.5 8.2-.9 1.2 13.1-8.5 .9-8.6 .6-8.6 .3z"/>
<path class="ah" d="M436.8 522.4l7.8-.3 7.8-.5 7.7-.8 1.7 13.1-8.2 .9-8.2 .5-8.3 .4z"/>
<path class="ai" d="M412.2 535l8.3 .5 8.3 .2 8.3 0 .2 13.1-8.6 .1-8.7-.2-8.6-.6z"/>
<path class="ai" d="M413.3 521.8l7.8 .4 7.8 .2 7.9 0 .3 13.3-8.3 0-8.3-.2-8.3-.5z"/>
</g>
<g shape-rendering="crispEdges">
<rect x="679.5" y="313.5" width="39" height="2.5" fill="#f00"/>
<rect x="679.5" y="316" width="39" height="4" fill="#ff0a00"/>
<rect x="679.5" y="320" width="39" height="4" fill="#ff1500"/>
<rect x="679.5" y="324" width="39" height="4" fill="#ff1f00"/>
<rect x="679.5" y="328" width="39" height="4" fill="#ff2900"/>
<rect x="679.5" y="332" width="39" height="4" fill="#ff3400"/>
<rect x="679.5" y="336" width="39" height="3" fill="#ff3e00"/>
<rect x="679.5" y="339" width="39" height="4" fill="#ff4800"/>
<rect x="679.5" y="343" width="39" height="4" fill="#ff5200"/>
<rect x="679.5" y="347" width="39" height="4" fill="#ff5d00"/>
<rect x="679.5" y="351" width="39" height="4" fill="#ff6700"/>
<rect x="679.5" y="355" width="39" height="4" fill="#ff7100"/>
<rect x="679.5" y="359" width="39" height="4" fill="#ff7c00"/>
<rect x="679.5" y="363" width="39" height="3" fill="#ff8600"/>
<rect x="679.5" y="366" width="39" height="4" fill="#ff9000"/>
<rect x="679.5" y="370" width="39" height="4" fill="#ff9b00"/>
<rect x="679.5" y="374" width="39" height="4" fill="#ffa500"/>
<rect x="679.5" y="378" width="39" height="4" fill="#ffaf00"/>
<rect x="679.5" y="382" width="39" height="4" fill="#ffb900"/>
<rect x="679.5" y="386" width="39" height="4" fill="#ffc400"/>
<rect x="679.5" y="390" width="39" height="3" fill="#ffce00"/>
<rect x="679.5" y="393" width="39" height="4" fill="#ffd800"/>
<rect x="679.5" y="397" width="39" height="4" fill="#ffe300"/>
<rect x="679.5" y="401" width="39" height="4" fill="#ffed00"/>
<rect x="679.5" y="405" width="39" height="4" fill="#fff700"/>
<rect x="679.5" y="409" width="39" height="4" fill="#fcfc03"/>
<rect x="679.5" y="413" width="39" height="3" fill="#f2f20d"/>
<rect x="679.5" y="416" width="39" height="4" fill="#e8e817"/>
<rect x="679.5" y="420" width="39" height="4" fill="#dede21"/>
<rect x="679.5" y="424" width="39" height="4" fill="#d3d32c"/>
<rect x="679.5" y="428" width="39" height="4" fill="#c9c936"/>
<rect x="679.5" y="432" width="39" height="4" fill="#bfbf40"/>
<rect x="679.5" y="436" width="39" height="4" fill="#b4b44b"/>
<rect x="679.5" y="440" width="39" height="3" fill="#aa5"/>
<rect x="679.5" y="443" width="39" height="4" fill="#a0a05f"/>
<rect x="679.5" y="447" width="39" height="4" fill="#95956a"/>
<rect x="679.5" y="451" width="39" height="4" fill="#8b8b74"/>
<rect x="679.5" y="455" width="39" height="4" fill="#81817e"/>
<rect x="679.5" y="459" width="39" height="4" fill="#767689"/>
<rect x="679.5" y="463" width="39" height="4" fill="#6c6c93"/>
<rect x="679.5" y="467" width="39" height="3" fill="#62629d"/>
<rect x="679.5" y="470" width="39" height="4" fill="#5858a7"/>
<rect x="679.5" y="474" width="39" height="4" fill="#4d4db2"/>
<rect x="679.5" y="478" width="39" height="4" fill="#4343bc"/>
<rect x="679.5" y="482" width="39" height="4" fill="#3939c6"/>
<rect x="679.5" y="486" width="39" height="4" fill="#2e2ed1"/>
<rect x="679.5" y="490" width="39" height="3" fill="#2424db"/>
<rect x="679.5" y="493" width="39" height="4" fill="#1a1ae5"/>
<rect x="679.5" y="497" width="39" height="4" fill="#0f0ff0"/>
<rect x="679.5" y="501" width="39" height="4" fill="#0505fa"/>
<rect x="679.5" y="505" width="39" height="4" fill="#0005fa"/>
<rect x="679.5" y="509" width="39" height="4" fill="#000ff0"/>
<rect x="679.5" y="513" width="39" height="4" fill="#001ae5"/>
<rect x="679.5" y="517" width="39" height="3" fill="#0024db"/>
<rect x="679.5" y="520" width="39" height="4" fill="#002ed1"/>
<rect x="679.5" y="524" width="39" height="4" fill="#0039c6"/>
<rect x="679.5" y="528" width="39" height="4" fill="#0043bc"/>
<rect x="679.5" y="532" width="39" height="4" fill="#004db2"/>
<rect x="679.5" y="536" width="39" height="4" fill="#0058a7"/>
<rect x="679.5" y="540" width="39" height="4" fill="#00629d"/>
<rect x="679.5" y="544" width="39" height="3" fill="#006c93"/>
<rect x="679.5" y="547" width="39" height="4" fill="#007689"/>
<rect x="679.5" y="551" width="39" height="4" fill="#00817e"/>
<rect x="679.5" y="555" width="39" height="4" fill="#008b74"/>
<rect x="679.5" y="559" width="39" height="4" fill="#00956a"/>
<rect x="679.5" y="563" width="39" height="4" fill="#00a05f"/>
<rect x="679.5" y="567" width="39" height="3" fill="#0a5"/>
<rect x="679.5" y="570" width="39" height="4" fill="#00b44b"/>
<rect x="679.5" y="574" width="39" height="4" fill="#00bf40"/>
<rect x="679.5" y="578" width="39" height="4" fill="#00c936"/>
<rect x="679.5" y="582" width="39" height="4" fill="#00d32c"/>
<rect x="679.5" y="586" width="39" height="4" fill="#00de21"/>
<rect x="679.5" y="590" width="39" height="4" fill="#00e817"/>
<rect x="679.5" y="594" width="39" height="3" fill="#00f20d"/>
<rect x="679.5" y="597" width="39" height="4" fill="#00fc03"/>
<rect x="679.5" y="601" width="39" height="4" fill="#08f700"/>
<rect x="679.5" y="605" width="39" height="4" fill="#12ed00"/>
<rect x="679.5" y="609" width="39" height="4" fill="#1ce300"/>
<rect x="679.5" y="613" width="39" height="4" fill="#27d800"/>
<rect x="679.5" y="617" width="39" height="4" fill="#31ce00"/>
<rect x="679.5" y="621" width="39" height="3" fill="#3bc400"/>
<rect x="679.5" y="624" width="39" height="4" fill="#46b900"/>
<rect x="679.5" y="628" width="39" height="4" fill="#50af00"/>
<rect x="679.5" y="632" width="39" height="4" fill="#5aa500"/>
<rect x="679.5" y="636" width="39" height="4" fill="#649b00"/>
<rect x="679.5" y="640" width="39" height="4" fill="#6f9000"/>
<rect x="679.5" y="644" width="39" height="3" fill="#798600"/>
<rect x="679.5" y="647" width="39" height="4" fill="#837c00"/>
<rect x="679.5" y="651" width="39" height="4" fill="#8e7100"/>
<rect x="679.5" y="655" width="39" height="4" fill="#986700"/>
<rect x="679.5" y="659" width="39" height="4" fill="#a25d00"/>
<rect x="679.5" y="663" width="39" height="4" fill="#ad5200"/>
<rect x="679.5" y="667" width="39" height="4" fill="#b74800"/>
<rect x="679.5" y="671" width="39" height="3" fill="#c13e00"/>
<rect x="679.5" y="674" width="39" height="4" fill="#cb3400"/>
<rect x="679.5" y="678" width="39" height="4" fill="#d62900"/>
<rect x="679.5" y="682" width="39" height="4" fill="#e01f00"/>
<rect x="679.5" y="686" width="39" height="4" fill="#ea1500"/>
<rect x="679.5" y="690" width="39" height="4" fill="#f50a00"/>
<rect x="679.5" y="694" width="39" height="4.5" fill="#f00"/>
</g>
<path stroke="#000" stroke-width="1.111" d="M718.5 665.5h4.9"/>
<path stroke="#000" stroke-width="1.111" d="M718.5 612.5h4.9"/>
<path stroke="#000" stroke-width="1.111" d="M718.5 558.5h4.9"/>
<path stroke="#000" stroke-width="1.111" d="M718.5 505.5h4.9"/>
<path stroke="#000" stroke-width="1.111" d="M718.5 452.5h4.9"/>
<path stroke="#000" stroke-width="1.111" d="M718.5 398.5h4.9"/>
<path stroke="#000" stroke-width="1.111" d="M718.5 345.5h4.9"/>
<rect x="679.5" y="313.5" width="39" height="385" fill="none" stroke="#000" stroke-width="1.111"/>
<path fill="#f2f2f2" opacity="0.5" stroke="#f2f2f2" stroke-width="1.389" stroke-linejoin="miter" d="M918.9 647.8l186.2-156-2.6-225-195.1 142.3"/>
<path fill="#e6e6e6" opacity="0.5" stroke="#e6e6e6" stroke-width="1.389" stroke-linejoin="miter" d="M1105.1 491.8l298.6 86.8 10.7-232.7-311.9-79.1"/>
<path fill="#ececec" opacity="0.5" stroke="#ececec" stroke-width="1.389" stroke-linejoin="miter" d="M918.9 647.8l316.6 103.4 168.2-172.6-298.6-86.8"/>
<path fill="none" stroke="#b0b0b0" stroke-width="1.111" d="M975.7 666.4l183.1-159-.3-226.4"/>
<path fill="none" stroke="#b0b0b0" stroke-width="1.111" d="M1039.3 687.2l179.6-162.3 2.3-228"/>
<path fill="none" stroke="#b0b0b0" stroke-width="1.111" d="M1104.4 708.4l175.9-165.6 5-229.6"/>
<path fill="none" stroke="#b0b0b0" stroke-width="1.111" d="M1170.9 730.1l172-169.1 7.9-231.2"/>
<path fill="none" stroke="#b0b0b0" stroke-width="1.111" d="M924.6 396.6l10.7 237.5 315.1 101.9"/>
<path fill="none" stroke="#b0b0b0" stroke-width="1.111" d="M967.8 365.1l8.6 234.6 311.2 98.1"/>
<path fill="none" stroke="#b0b0b0" stroke-width="1.111" d="M1009.3 334.8l6.7 231.7 307.4 94.6"/>
<path fill="none" stroke="#b0b0b0" stroke-width="1.111" d="M1049.3 305.6l4.9 228.9 303.7 91.2"/>
<path fill="none" stroke="#b0b0b0" stroke-width="1.111" d="M1087.8 277.5l3.3 226.1 300 88"/>
<path fill="none" stroke="#b0b0b0" stroke-width="1.111" d="M1404.8 556.3l-300-86.1-187 154.7"/>
<path fill="none" stroke="#b0b0b0" stroke-width="1.111" d="M1406.1 526.1l-301.6-85.1-188.2 153.1"/>
<path fill="none" stroke="#b0b0b0" stroke-width="1.111" d="M1407.5 495.6l-303.4-84.1-189.3 151.3"/>
<path fill="none" stroke="#b0b0b0" stroke-width="1.111" d="M1408.9 464.8l-305.1-83.1-190.5 149.5"/>
<path fill="none" stroke="#b0b0b0" stroke-width="1.111" d="M1410.4 433.6l-307-82.1-191.6 147.7"/>
<path fill="none" stroke="#b0b0b0" stroke-width="1.111" d="M1411.8 402l-308.7-81-192.9 145.8"/>
<path fill="none" stroke="#b0b0b0" stroke-width="1.111" d="M1413.3 370.1l-310.6-79.9-194.1 143.8"/>
<path fill="none" stroke="#000" stroke-width="1.111" stroke-linecap="square" d="M918.9 647.8l316.6 103.4"/>
<path fill="none" stroke="#000" stroke-width="1.111" stroke-linecap="square" d="M977.2 665l-4.7 4.1"/>
<path fill="none" stroke="#000" stroke-width="1.111" stroke-linecap="square" d="M1040.9 685.8l-4.7 4.2"/>
<path fill="none" stroke="#000" stroke-width="1.111" stroke-linecap="square" d="M1105.9 707l-4.6 4.3"/>
<path fill="none" stroke="#000" stroke-width="1.111" stroke-linecap="square" d="M1172.4 728.7l-4.5 4.4"/>
<path fill="none" stroke="#000" stroke-width="1.111" stroke-linecap="square" d="M1403.7 578.6l-168.2 172.6"/>
<path fill="none" stroke="#000" stroke-width="1.111" stroke-linecap="square" d="M1247.7 735.1l8 2.6"/>
<path fill="none" stroke="#000" stroke-width="1.111" stroke-linecap="square" d="M1285 697l7.8 2.5"/>
<path fill="none" stroke="#000" stroke-width="1.111" stroke-linecap="square" d="M1320.8 660.3l7.8 2.4"/>
<path fill="none" stroke="#000" stroke-width="1.111" stroke-linecap="square" d="M1355.3 624.9l7.7 2.3"/>
<path fill="none" stroke="#000" stroke-width="1.111" stroke-linecap="square" d="M1388.6 590.8l7.6 2.2"/>
<path fill="none" stroke="#000" stroke-width="1.111" stroke-linecap="square" d="M1403.7 578.6l10.7-232.7"/>
<path fill="none" stroke="#000" stroke-width="1.111" stroke-linecap="square" d="M1402.2 555.5l7.6 2.2"/>
<path fill="none" stroke="#000" stroke-width="1.111" stroke-linecap="square" d="M1403.6 525.4l7.6 2.2"/>
<path fill="none" stroke="#000" stroke-width="1.111" stroke-linecap="square" d="M1405 494.9l7.6 2.2"/>
<path fill="none" stroke="#000" stroke-width="1.111" stroke-linecap="square" d="M1406.4 464.1l7.7 2.1"/>
<path fill="none" stroke="#000" stroke-width="1.111" stroke-linecap="square" d="M1407.8 432.9l7.7 2.1"/>
<path fill="none" stroke="#000" stroke-width="1.111" stroke-linecap="square" d="M1409.2 401.4l7.8 2"/>
<path fill="none" stroke="#000" stroke-width="1.111" stroke-linecap="square" d="M1410.7 369.4l7.8 2"/>
<g class="S">
<path class="e" d="M1190.2 449.5l-13.5 .5-13.8 1.1-14 1.5 2.8 10.6 13.6-1.7 13.4-1.2 13.2-.8z"/>
<path class="e" d="M1191.9 459.5l-13.2 .8-13.4 1.2-13.6 1.7 3.7 11.1 13.1-1.8 13-1.4 12.7-1z"/>
<path class="e" d="M1189.1 440l-13.8 .4-14 .8-14.2 1.4 1.8 10 14-1.5 13.8-1.1 13.5-.5z"/>
<path class="c" d="M1228.6 450.5l-12.4-.8-12.8-.3-13.2 .1 1.7 10 12.8-.3 12.5 .2 12.1 .5z"/>
<path class="e" d="M1194.2 470.1l-12.7 1-13 1.4-13.1 1.8 4.6 11.6 12.6-2 12.3-1.6 12.2-1.1z"/>
<path class="c" d="M1229.3 459.9l-12.1-.5-12.5-.2-12.8 .3 2.3 10.6 12.4-.5 12.1 0 11.6 .3z"/>
<path class="c" d="M1228.1 441.7l-12.6-1-13-.5-13.4-.2 1.1 9.5 13.2-.1 12.8 .3 12.4 .8z"/>
<path class="e" d="M1188.6 431.3l-13.9 .2-14.1 .6-14.3 1.2 .1 3 .7 6.3 14.2-1.4 14-.8 13.8-.4z"/>
<path class="c" d="M1230.3 469.9l-11.6-.3-12.1 0-12.4 .5 2.9 11.1 11.8-.7 11.6-.3 11.1 .1z"/>
<path class="c" d="M1228 433.6l-12.7-1.2-13.2-.8-13.5-.3 .5 8.7 13.4 .2 13 .5 12.6 1z"/>
<path class="e" d="M1197.1 481.2l-12.2 1.1-12.3 1.6-12.6 2 5.5 11.9 11.8-2.1 11.7-1.7 11.5-1.3z"/>
<path class="g" d="M1151.7 463.2l-13.8 2.2-13.8 2.8-13.8 3.3 3.3 7.6 1.9 3.9 13.3-3.4 13.3-2.9 13.3-2.4z"/>
<path class="g" d="M1148.9 452.6l-14.1 2.1-14.2 2.6-14.2 3.1 1.2 3.6 2.7 7.5 13.8-3.3 13.8-2.8 13.8-2.2z"/>
<path class="g" d="M1155.4 474.3l-13.3 2.4-13.3 2.9-13.3 3.4 4.1 7.9 2.3 4 12.7-3.5 12.7-3 12.7-2.5z"/>
<path class="c" d="M1231.6 480.3l-11.1-.1-11.6 .3-11.8 .7 3.4 11.5 11.2-.9 10.9-.5 10.6-.1z"/>
<path class="g" d="M1147.1 442.6l-14.4 1.9-14.4 2.4-14.4 2.9 .7 3.5 1.8 7.1 14.2-3.1 14.2-2.6 14.1-2.1z"/>
<path class="e" d="M1188.7 423.4l-13.8-.1-14.2 .4-14.3 1-.2 2.7 .1 5.9 14.3-1.2 14.1-.6 13.9-.2z"/>
<path class="c" d="M1228.1 426.3l-12.7-1.4-13.1-1-13.6-.5-.1 7.9 13.5 .3 13.2 .8 12.7 1.2z"/>
<path class="g" d="M1160 485.9l-12.7 2.5-12.7 3-12.7 3.5 7.6 12.1 12-3.5 12-3.1 12-2.6z"/>
<path class="e" d="M1200.5 492.7l-11.5 1.3-11.7 1.7-11.8 2.1 6.3 12.2 11.1-2.2 10.9-1.9 10.7-1.4z"/>
<path class="a" d="M1262.7 455.2l-10.8-1.9-11.4-1.6-11.9-1.2 .7 9.4 11.6 1 11.1 1.3 10.6 1.7z"/>
<path class="a" d="M1262.6 463.9l-10.6-1.7-11.1-1.3-11.6-1 1 10 11.2 .7 10.8 1.1 10.1 1.4z"/>
<path class="a" d="M1262.8 447.1l-11-2.2-11.6-1.8-12.1-1.4 .5 8.8 11.9 1.2 11.4 1.6 10.8 1.9z"/>
<path class="g" d="M1146.3 433.3l-14.5 1.6-14.6 2.2-14.6 2.8 .3 3.2 1 6.7 14.4-2.9 14.4-2.4 14.4-1.9-.7-6.3z"/>
<path class="c" d="M1233.2 491.2l-10.6 .1-10.9 .5-11.2 .9 4 11.8 10.5-1.1 10.1-.7 9.9-.4z"/>
<path class="a" d="M1262.4 473.1l-10.1-1.4-10.8-1.1-11.2-.7 1.3 10.4 10.7 .5 10.3 .8 9.7 1.2z"/>
<path class="a" d="M1262.9 439.6l-11.1-2.3-11.6-2.1-12.2-1.6 .1 8.1 12.1 1.4 11.6 1.8 11 2.2z"/>
<path class="g" d="M1165.5 497.8l-12 2.6-12 3.1-12 3.5 8.7 12.4 11.2-3.6 11.2-3.1 11.2-2.7z"/>
<path class="e" d="M1189.5 416.2l-13.8-.2-14 .2-14.2 .7-.5 2.5-.6 5.3 14.3-1 14.2-.4 13.8 .1z"/>
<path class="c" d="M1228.5 419.7l-12.6-1.6-13-1.1-13.4-.8-.8 7.2 13.6 .5 13.1 1 12.7 1.4z"/>
<path class="g" d="M1146.4 424.7l-14.5 1.4-14.6 2-14.6 2.6-.2 3 .1 6.2 14.6-2.8 14.6-2.2 14.5-1.6-.1-5.9z"/>
<path class="e" d="M1204.5 504.5l-10.7 1.4-10.9 1.9-11.1 2.2 7.1 12.4 10.2-2.3 10-2 9.9-1.6z"/>
<path class="a" d="M1262.3 482.8l-9.7-1.2-10.3-.8-10.7-.5 1.6 10.9 10.1 .2 9.7 .5 9.2 .9z"/>
<path class="a" d="M1263.1 432.9l-11.1-2.6-11.7-2.2-12.2-1.8-.1 7.3 12.2 1.6 11.6 2.1 11.1 2.3z"/>
<path class="g" d="M1171.8 510l-11.2 2.7-11.2 3.1-11.2 3.6 9.8 12.4 10.3-3.5 10.3-3.2 10.3-2.7z"/>
<path class="c" d="M1235 502.3l-9.9 .4-10.1 .7-10.5 1.1 4.5 12 9.6-1.2 9.4-1 9-.5z"/>
<path class="i" d="M1110.3 471.5l-13.8 3.8-13.6 4.3-13.4 5 2 3.9 4.6 7.8 12.9-4.9 13.2-4.5 13.3-3.9-1.9-3.9z"/>
<path class="i" d="M1115.5 483l-13.3 3.9-13.2 4.5-12.9 4.9 5.3 8 2.9 4.1 12.4-5 12.5-4.5 12.7-4-2.3-4z"/>
<path class="i" d="M1106.4 460.4l-14.1 3.7-14 4.2-13.9 4.8 1.5 3.8 3.6 7.7 13.4-5 13.6-4.3 13.8-3.8-2.7-7.5z"/>
<path class="i" d="M1121.9 494.9l-12.7 4-12.5 4.5-12.4 5 6.3 8.1 3.5 4.1 11.6-5 11.8-4.5 12-4.1z"/>
<path class="c" d="M1229.2 414.1l-12.3-1.8-12.8-1.4-13.2-.9-1.4 6.2 13.4 .8 13 1.1 12.6 1.6z"/>
<path class="e" d="M1190.9 410l-13.5-.5-13.8 0-14 .5-.8 2.2-1.3 4.7 14.2-.7 14-.2 13.8 .2z"/>
<path class="a" d="M1262.2 492.8l-9.2-.9-9.7-.5-10.1-.2 1.8 11.1 9.5 0 9 .3 8.6 .6z"/>
<path class="g" d="M1147.5 416.9l-14.4 1.2-14.4 1.8-14.5 2.3-.6 2.7-.9 5.8 14.6-2.6 14.6-2 14.5-1.4 .6-5.3z"/>
<path class="a" d="M1263.2 426.9l-11-2.8-11.6-2.3-12.1-2.1-.4 6.6 12.2 1.8 11.7 2.2 11.1 2.6z"/>
<path class="i" d="M1103.9 449.8l-14.4 3.6-14.3 4-14.1 4.7 .9 3.6 2.4 7.4 13.9-4.8 14-4.2 14.1-3.7-1.8-7.1z"/>
<path class="e" d="M1209 516.5l-9.9 1.6-10 2-10.2 2.3 7.9 12.5 9.2-2.4 9-2.1 8.9-1.7z"/>
<path class="i" d="M1129.5 507l-12 4.1-11.8 4.5-11.6 5 7.2 8.1 3.9 4.1 10.9-4.9 11-4.5 11.1-4z"/>
<path class="b" d="M1291.4 462.8l-8.9-2.8-9.6-2.6-10.2-2.2-.1 8.7 9.9 2 9.4 2.3 8.7 2.5z"/>
<path class="b" d="M1290.6 470.7l-8.7-2.5-9.4-2.3-9.9-2-.2 9.2 9.7 1.7 9 2 8.4 2.3z"/>
<path class="b" d="M1292 455.4l-9-3-9.8-2.8-10.4-2.5-.1 8.1 10.2 2.2 9.6 2.6 8.9 2.8z"/>
<path class="g" d="M1178.9 522.4l-10.3 2.7-10.3 3.2-10.3 3.5 10.9 12.5 9.3-3.5 9.3-3.2 9.3-2.7z"/>
<path class="i" d="M1102.6 439.9l-14.5 3.3-14.4 3.9-14.2 4.5 .3 3.4 1.3 7.1 14.1-4.7 14.3-4 14.4-3.6-1-6.7z"/>
<path class="c" d="M1237 513.8l-9 .5-9.4 1-9.6 1.2 4.9 12.2 8.8-1.5 8.4-1.1 8.2-.8z"/>
<path class="b" d="M1289.5 479.1l-8.4-2.3-9-2-9.7-1.7-.1 9.7 9.2 1.4 8.7 1.7 8 2z"/>
<path class="b" d="M1292.4 448.6l-9.2-3.3-9.8-3-10.5-2.7-.1 7.5 10.4 2.5 9.8 2.8 9 3z"/>
<path class="a" d="M1262.1 503.2l-8.6-.6-9-.3-9.5 0 2 11.5 8.8-.3 8.3 0 7.9 .2z"/>
<path class="i" d="M1138.2 519.4l-11.1 4-11 4.5-10.9 4.9 8.2 8.1 4.4 4.1 9.9-4.8 10.1-4.4 10.2-4z"/>
<path class="a" d="M1263.3 421.7l-10.8-2.9-11.4-2.5-11.9-2.2-.7 5.6 12.1 2.1 11.6 2.3 11 2.8z"/>
<path class="g" d="M1149.6 410l-14.1 1-14.2 1.5-14.3 2-1.1 2.5-1.7 5.2 14.5-2.3 14.4-1.8 14.4-1.2 1.3-4.7z"/>
<path class="c" d="M1230.3 409.3l-12.1-1.9-12.5-1.6-12.8-1.1-.8 1.7-1.2 3.6 13.2 .9 12.8 1.4 12.3 1.8z"/>
<path class="e" d="M1192.9 404.7l-13.2-.7-13.4-.2-13.6 .2-1.2 1.9-1.9 4.1 14-.5 13.8 0 13.5 .5 1.2-3.6z"/>
<path class="b" d="M1288.2 487.9l-8-2-8.7-1.7-9.2-1.4-.1 10 8.7 1.1 8.2 1.4 7.5 1.7z"/>
<path class="b" d="M1292.5 442.5l-9.2-3.5-9.8-3.2-10.4-2.9-.2 6.7 10.5 2.7 9.8 3 9.2 3.3z"/>
<path class="i" d="M1102.7 430.7l-14.5 3.1-14.4 3.6-14.2 4.2-.3 3.3 .2 6.7 14.2-4.5 14.4-3.9 14.5-3.3-.1-6.2z"/>
<path class="e" d="M1213.9 528.7l-8.9 1.7-9 2.1-9.2 2.4 8.5 12.4 8.1-2.4 8.1-2.2 7.9-1.8z"/>
<path class="i" d="M1148 531.8l-10.2 4-10.1 4.4-9.9 4.8 9 8.1 4.8 4 8.9-4.7 9.2-4.3 9.2-3.8z"/>
<path class="g" d="M1186.8 534.9l-9.3 2.7-9.3 3.2-9.3 3.5 11.8 12.3 8.2-3.4 8.2-3.1 8.2-2.8z"/>
<path class="b" d="M1286.6 497l-7.5-1.7-8.2-1.4-8.7-1.1-.1 10.4 8.1 .8 7.6 1.1 7.1 1.2z"/>
<path class="a" d="M1262 513.7l-7.9-.2-8.3 0-8.8 .3 2.3 11.5 7.9-.5 7.6-.3 7.1 0z"/>
<path class="b" d="M1292.3 437l-9-3.7-9.7-3.3-10.4-3.1-.1 6 10.4 2.9 9.8 3.2 9.2 3.5z"/>
<path class="a" d="M1263.4 417.4l-10.5-3-11.1-2.7-11.5-2.4-1.1 4.8 11.9 2.2 11.4 2.5 10.8 2.9z"/>
<path class="c" d="M1239.3 525.3l-8.2 .8-8.4 1.1-8.8 1.5 5.5 12.2 7.7-1.6 7.5-1.3 7.2-1z"/>
<path class="g" d="M1152.7 404l-13.8 .8-13.8 1.2-13.9 1.8-1.5 2.1-2.7 4.6 14.3-2 14.2-1.5 14.1-1 1.9-4.1z"/>
<path class="i" d="M1104.2 422.2l-14.4 2.8-14.3 3.4-14.1 4-.8 3-.6 3.1-.4 3.1 14.2-4.2 14.4-3.6 14.5-3.1 .9-5.8z"/>
<path class="c" d="M1231.5 405.5l-11.6-2.1-12-1.7-12.4-1.3-.9 1.3-1.7 3 12.8 1.1 12.5 1.6 12.1 1.9z"/>
<path class="e" d="M1195.5 400.4l-12.7-.9-13-.4-13.1 0-1.5 1.5-2.5 3.4 13.6-.2 13.4 .2 13.2 .7 1.7-3z"/>
<path class="b" d="M1284.9 506.3l-7.1-1.2-7.6-1.1-8.1-.8-.1 10.5 7.5 .6 7 .7 6.5 .9z"/>
<path class="i" d="M1158.9 544.3l-9.2 3.8-9.2 4.3-8.9 4.7 9.8 7.9 5.2 3.9 7.9-4.4 8-4.1 8.2-3.8z"/>
<path class="b" d="M1291.9 432.3l-8.8-3.8-9.6-3.6-10.2-3.2-.1 5.2 10.4 3.1 9.7 3.3 9 3.7z"/>
<path class="k" d="M1076.1 496.3l-12.7 5.6-12.3 6.1-3.5 7 3 3.8 6.6 7.7 3.3-6.5 11.7-6.1 12.1-5.5-2.9-4.1z"/>
<path class="k" d="M1084.3 508.4l-12.1 5.5-11.7 6.1-3.3 6.5 3.6 3.8 7.7 7.7 3.1-6 11.1-6 11.4-5.4-3.5-4.1z"/>
<path class="e" d="M1219.4 540.9l-7.9 1.8-8.1 2.2-8.1 2.4 9.2 12.4 7-2.5 6.9-2.2 6.8-2z"/>
<path class="k" d="M1069.5 484.6l-13.2 5.4-12.8 6.1-3.7 7.4 2.4 3.8 5.4 7.7 3.5-7 12.3-6.1 12.7-5.6-4.6-7.8z"/>
<path class="k" d="M1094.1 520.6l-11.4 5.4-11.1 6-3.1 6 8.5 7.6 4.5 3.8 2.8-5.4 10.3-5.8 10.6-5.4-3.9-4.1z"/>
<path class="g" d="M1195.3 547.3l-8.2 2.8-8.2 3.1-8.2 3.4 12.6 12.1 7-3.3 7.1-3 7.1-2.7z"/>
<path class="d" d="M1313.8 472.6l-6.7-3.5-7.5-3.2-8.2-3.1-.8 7.9 8 2.8 7.2 3 6.6 3.2z"/>
<path class="d" d="M1312.4 479.7l-6.6-3.2-7.2-3-8-2.8-1.1 8.4 7.7 2.5 7 2.7 6.4 2.8z"/>
<path class="a" d="M1261.9 524.5l-7.1 0-7.6 .3-7.9 .5 2.5 11.7 7-.8 13-.9z"/>
<path class="d" d="M1314.8 466l-6.9-3.7-7.6-3.6-8.3-3.3-.6 7.4 8.2 3.1 7.5 3.2 6.7 3.5z"/>
<path class="a" d="M1263.5 414l-10.1-3.2-10.7-2.8-11.2-2.5-1.2 3.8 11.5 2.4 11.1 2.7 10.5 3z"/>
<path class="k" d="M1064.4 473.1l-13.5 5.4-13.2 5.9-3.8 7.9 1.8 3.7 4.1 7.5 3.7-7.4 12.8-6.1 13.2-5.4-3.6-7.7z"/>
<path class="d" d="M1310.6 487.1l-6.4-2.8-7-2.7-7.7-2.5-1.3 8.8 7.4 2.1 6.7 2.4 6 2.5z"/>
<path class="k" d="M1105.2 532.8l-10.6 5.4-10.3 5.8-2.8 5.4 9.6 7.5 5 3.7 2.5-4.7 9.5-5.7 9.7-5.2-4.4-4.1z"/>
<path class="i" d="M1107 414.5l-14.1 2.6-14.1 3.1-13.9 3.7-1.3 2.7-1.2 2.9-1 2.9 14.1-4 14.3-3.4 14.4-2.8 1.7-5.2z"/>
<path class="d" d="M1315.3 459.8l-6.9-3.9-7.6-3.7-8.4-3.6-.4 6.8 8.3 3.3 7.6 3.6 6.9 3.7z"/>
<path class="c" d="M1241.8 537l-7.2 1-7.5 1.3-7.7 1.6 5.8 12.1 6.6-1.7 12.7-2.7z"/>
<path class="b" d="M1283 515.9l-6.5-.9-7-.7-7.5-.6-.1 10.8 6.8 .2 6.3 .3 5.9 .6z"/>
<path class="d" d="M1308.3 494.9l-6-2.5-6.7-2.4-7.4-2.1-1.6 9.1 7 1.8 6.4 2 5.7 2.2z"/>
<path class="g" d="M1156.7 399.1l-13.3 .5-13.3 .9-13.4 1.5-2 1.8-3.5 4 13.9-1.8 13.8-1.2 13.8-.8 2.5-3.4z"/>
<path class="b" d="M1291.3 428.3l-8.7-3.9-9.2-3.6-10-3.4-.1 4.3 10.2 3.2 9.6 3.6 8.8 3.8z"/>
<path class="k" d="M1061.1 462.1l-13.8 5.2-13.4 5.8-3.9 8.1 1.1 3.7 2.8 7.4 3.8-7.9 13.2-5.9 13.5-5.4-2.4-7.4z"/>
<path class="i" d="M1170.7 556.6l-8.2 3.8-8 4.1-7.9 4.4 16 11.5 6.8-4.1 6.9-3.9 7-3.7z"/>
<path class="d" d="M1315.4 454.3l-6.9-4.2-7.6-3.9-8.4-3.7-.1 6.1 8.4 3.6 7.6 3.7 6.9 3.9z"/>
<path class="k" d="M1117.8 545l-9.7 5.2-9.5 5.7-2.5 4.7 10.5 7.3 5.5 3.6 2.3-4 8.4-5.4 8.8-5-4.8-4z"/>
<path class="c" d="M1233.1 402.7l-11.1-2.2-11.5-1.9-11.8-1.5-1.1 1-2.1 2.3 12.4 1.3 12 1.7 11.6 2.1z"/>
<path class="e" d="M1198.7 397.1l-12.1-1.1-12.4-.6-12.5-.2-1.8 1.2-3.2 2.7 13.1 0 13 .4 12.7 .9 2.1-2.3z"/>
<path class="d" d="M1305.7 503l-5.7-2.2-6.4-2-7-1.8-1.7 9.3 6.5 1.5 6 1.7 5.3 1.7z"/>
<path class="k" d="M1059.5 451.6l-14 5-13.6 5.6-3.9 8.4 .5 3.5 .6 3.5 .9 3.6 3.9-8.1 13.4-5.8 13.8-5.2-1.3-7.1z"/>
<path class="d" d="M1315 449.3l-6.8-4.3-7.6-4.1-8.3-3.9 .2 5.5 8.4 3.7 7.6 3.9 6.9 4.2z"/>
<path class="a" d="M1261.8 535.3l-13 .9-7 .8 2.7 11.6 6-1 11.2-1.5z"/>
<path class="g" d="M1204.5 559.7l-7.1 2.7-7.1 3-7 3.3 13.4 11.9 5.8-3.2 5.9-2.9 5.8-2.7z"/>
<path class="k" d="M1131.6 557.1l-8.8 5-8.4 5.4-2.3 4 11.5 7.1 5.9 3.5 1.9-3.3 7.5-5.1 7.7-4.8-5.2-3.9z"/>
<path class="e" d="M1225.2 553l-6.8 2-6.9 2.2-7 2.5 9.7 12.1 5.8-2.5 11.4-4.3z"/>
<path class="i" d="M1111.2 407.8l-13.8 2.3-13.7 2.8-13.5 3.3-1.9 2.4-1.8 2.6-1.6 2.7 13.9-3.7 14.1-3.1 14.1-2.6 2.7-4.6z"/>
<path class="a" d="M1263.7 411.5l-9.7-3.2-10.2-3-10.7-2.6-1.6 2.8 11.2 2.5 10.7 2.8 10.1 3.2z"/>
<path class="b" d="M1280.9 525.6l-5.9-.6-6.3-.3-6.8-.2-.1 10.8 6-.2 10.8 .2z"/>
<path class="b" d="M1290.4 425.2l-8.3-4-9-3.8-9.6-3.4-.1 3.4 10 3.4 9.2 3.6 8.7 3.9z"/>
<path class="d" d="M1302.7 511.2l-5.3-1.7-6-1.7-6.5-1.5-1.9 9.6 6 1.1 5.4 1.3 4.9 1.4z"/>
<path class="i" d="M1183.3 568.7l-7 3.7-6.9 3.9-6.8 4.1 17 11.2 5.6-3.9 5.7-3.7 5.8-3.4z"/>
<path class="c" d="M1244.5 548.6l-12.7 2.7-6.6 1.7 6.2 12 5.5-1.8 10.5-3.1z"/>
<path class="k" d="M1059.6 441.6l-14 4.8-13.6 5.4-3.9 8.5-.2 3.4-.1 3.4 .2 3.5 3.9-8.4 13.6-5.6 14-5-.2-6.7z"/>
<path class="d" d="M1314.2 445l-6.7-4.5-7.4-4.2-8.2-4 .4 4.7 8.3 3.9 7.6 4.1 6.8 4.3z"/>
<path class="g" d="M1161.7 395.2l-12.7 .2-12.8 .7-12.7 1.1-2.4 1.5-4.4 3.3 13.4-1.5 13.3-.9 13.3-.5 3.2-2.7z"/>
<path class="k" d="M1146.6 568.9l-7.7 4.8-7.5 5.1-1.9 3.3 12.2 6.8 6.3 3.3 1.6-2.5 6.4-4.8 6.6-4.5z"/>
<path class="c" d="M1235 401l-10.5-2.4-10.9-2-11.1-1.7-1.3 .6-2.5 1.6 11.8 1.5 11.5 1.9 11.1 2.2 1.2-1.3z"/>
<path class="d" d="M1299.3 519.7l-4.9-1.4-5.4-1.3-6-1.1-2.1 9.7 5.4 .7 4.9 .9 4.5 1z"/>
<path class="e" d="M1202.5 394.9l-11.5-1.2-11.6-.9-11.9-.5-2 .9-3.8 2 12.5 .2 12.4 .6 12.1 1.1 2.5-1.6z"/>
<path class="b" d="M1278.6 535.3l-10.8-.2-6 .2-.1 10.8 5.2-.5 9.3-.5z"/>
<path class="i" d="M1116.7 402l-13.3 2-13.2 2.4-13 3-2.5 2.1-2.4 2.3-2.1 2.4 13.5-3.3 13.7-2.8 13.8-2.3 3.5-4z"/>
<path class="d" d="M1313 441.3l-6.5-4.5-7.3-4.4-7.9-4.1 .6 4 8.2 4 7.4 4.2 6.7 4.5z"/>
<path class="k" d="M1061.4 432.4l-13.9 4.5-13.4 5.1-3.9 8.6-.9 3.2-.7 3.2-.5 3.3 3.9-8.5 13.6-5.4 14-4.8 .4-3.1 .6-3.1z"/>
<path class="a" d="M1261.7 546.1l-11.2 1.5-6 1 2.9 11.5 5-1.3 9.3-2z"/>
<path class="f" d="M1329.3 483.7l-4.4-3.8-5.1-3.7-6-3.6-1.4 7.1 5.8 3.3 5 3.4 4.3 3.5z"/>
<path class="f" d="M1327.5 489.9l-4.3-3.5-5-3.4-5.8-3.3-1.8 7.4 5.6 3 4.8 3.1 4.2 3.2z"/>
<path class="b" d="M1289.3 422.8l-8-4-8.5-3.8-9.1-3.5-.2 2.5 9.6 3.4 9 3.8 8.3 4z"/>
<path class="g" d="M1214.2 571.8l-5.8 2.7-5.9 2.9-5.8 3.2 14 11.5 4.6-3 9.1-5.5z"/>
<path class="f" d="M1330.5 477.9l-4.4-4.1-5.3-4-6-3.8-1 6.6 6 3.6 5.1 3.7 4.4 3.8z"/>
<path class="a" d="M1263.8 410l-9.2-3.3-9.6-3-10-2.7-.7 .4-1.2 1.3 10.7 2.6 10.2 3 9.7 3.2z"/>
<path class="f" d="M1325.2 496.4l-4.2-3.2-4.8-3.1-5.6-3-2.3 7.8 5.4 2.6 4.6 2.8 4 2.8z"/>
<path class="k" d="M1162.6 580.4l-6.6 4.5-6.4 4.8-1.6 2.5 13 6.4 6.6 3.1 1.3-1.6 5.3-4.4 5.4-4.1z"/>
<path class="e" d="M1231.4 565l-11.4 4.3-5.8 2.5 10.2 11.8 4.6-2.4 8.9-4.4z"/>
<path class="i" d="M1196.7 580.6l-5.8 3.4-5.7 3.7-5.6 3.9 17.8 10.6 4.4-3.6 8.9-6.5z"/>
<path class="f" d="M1331.2 472.4l-4.5-4.3-5.3-4.2-6.1-4.1-.5 6.2 6 3.8 5.3 4 4.4 4.1z"/>
<path class="f" d="M1322.3 503.1l-4-2.8-4.6-2.8-5.4-2.6-2.6 8.1 5.1 2.2 4.3 2.4 3.8 2.5z"/>
<path class="d" d="M1295.7 528.2l-4.5-1-4.9-.9-5.4-.7-2.3 9.7 4.8 .4 8.3 1z"/>
<path class="c" d="M1247.4 560.1l-10.5 3.1-5.5 1.8 6.5 11.8 12.5-5.4z"/>
<path class="f" d="M1331.2 467.4l-4.4-4.4-5.3-4.4-6.1-4.3-.1 5.5 6.1 4.1 5.3 4.2 4.5 4.3z"/>
<path class="g" d="M1167.5 392.3l-11.9 0-12.1 .4-12 .8-2.8 1.1-5.2 2.6 12.7-1.1 12.8-.7 12.7-.2 3.8-2z"/>
<path class="f" d="M1318.9 510.1l-3.8-2.5-4.3-2.4-5.1-2.2-3 8.2 4.7 1.9 4.1 2 3.5 2z"/>
<path class="d" d="M1311.3 438.3l-6.3-4.5-7-4.4-7.6-4.2 .9 3.1 7.9 4.1 7.3 4.4 6.5 4.5z"/>
<path class="k" d="M1064.9 423.9l-13.6 4.2-13.2 4.7-3.8 8.7-1.6 2.9-1.3 3.1-1.2 3.1 3.9-8.6 13.4-5.1 13.9-4.5 1-2.9 1.2-2.9z"/>
<path class="f" d="M1330.7 462.9l-4.4-4.6-5.2-4.6-6.1-4.4 .4 5 6.1 4.3 5.3 4.4 4.4 4.4z"/>
<path class="c" d="M1237 400.2l-9.7-2.4-10.1-2.2-10.4-1.8-1.5 .3-2.8 .8 11.1 1.7 10.9 2 10.5 2.4 1.3-.6z"/>
<path class="k" d="M1179.6 591.6l-5.4 4.1-5.3 4.4-1.3 1.6 13.6 6.1 6.9 2.9 9.3-8.5z"/>
<path class="b" d="M1276.2 545.1l-9.3 .5-5.2 .5 0 10.7 12-2.1z"/>
<path class="f" d="M1315 517.1l-3.5-2-4.1-2-4.7-1.9-3.4 8.5 4.4 1.4 3.7 1.6 3.2 1.6z"/>
<path class="i" d="M1123.5 397.2l-12.7 1.7-12.6 2.1-12.4 2.5-3.1 1.9-5.5 4 13-3 13.2-2.4 13.3-2 4.4-3.3z"/>
<path class="b" d="M1287.9 421.4l-7.5-4-8-3.9-8.6-3.5-.1 1.5 9.1 3.5 8.5 3.8 8 4z"/>
<path class="m" d="M1068.5 538l-2.1 6-1.1 5.9-.2 5.8 4.3 3.2 9.1 6.4 .1-5.2 1-5.3 1.9-5.4-4.5-3.8z"/>
<path class="m" d="M1081.5 549.4l-1.9 5.4-1 5.3-.1 5.2 4.8 3.1 10.2 6.1 0-4.6 .9-4.6 1.7-4.7-5-3.7z"/>
<path class="e" d="M1206.8 393.8l-10.6-1.4-10.9-1.1-11-.7-2.4 .5-4.4 1.2 11.9 .5 11.6 .9 11.5 1.2 2.8-.8z"/>
<path class="m" d="M1057.2 526.5l-2.3 6.5-1.2 6.5-.3 6.4 3.7 3.3 8 6.5 .2-5.8 1.1-5.9 2.1-6-7.7-7.7z"/>
<path class="a" d="M1261.7 556.8l-9.3 2-5 1.3 3 11.3 11.2-4.2z"/>
<path class="m" d="M1096.1 560.6l-1.7 4.7-.9 4.6 0 4.6 10.8 5.9 5.6 2.9 0-3.9 .7-3.9 1.5-4-5.5-3.6z"/>
<path class="d" d="M1291.7 536.7l-8.3-1-4.8-.4-2.4 9.8 11.2 0z"/>
<path class="m" d="M1047.6 515l-2.4 7-1.4 7-.3 6.9 3.1 3.3 6.8 6.7 .3-6.4 1.2-6.5 2.3-6.5-6.6-7.7z"/>
<path class="a" d="M1263.9 409.4l-8.5-3.3-9-3.1-9.4-2.8-.7 .2-1.3 .6 10 2.7 9.6 3 9.2 3.3z"/>
<path class="g" d="M1224.4 583.6l-9.1 5.5-4.6 3 14.6 11 3.3-2.8 6.5-5.2z"/>
<path class="f" d="M1329.6 459l-4.3-4.8-5.2-4.7-5.9-4.5 .8 4.3 6.1 4.4 5.2 4.6 4.4 4.6z"/>
<path class="i" d="M1210.7 592.1l-8.9 6.5-4.4 3.6 18.5 10 3.1-3.2 6.3-5.9z"/>
<path class="m" d="M1112.1 571.5l-1.5 4-.7 3.9 0 3.9 11.7 5.5 6.1 2.8-.1-3.1 .6-3.2 1.3-3.2-5.9-3.5z"/>
<path class="f" d="M1310.6 524.3l-3.2-1.6-3.7-1.6-4.4-1.4-3.6 8.5 3.9 1 3.4 1.1 2.9 1.2z"/>
<path class="e" d="M1237.9 576.8l-8.9 4.4-4.6 2.4 10.7 11.5 9.6-6.9z"/>
<path class="d" d="M1309.1 436.1l-5.9-4.6-6.7-4.4-7.2-4.3 1.1 2.4 7.6 4.2 7 4.4 6.3 4.5z"/>
<path class="m" d="M1039.8 503.5l-2.5 7.5-1.5 7.4-.3 7.3 2.5 3.4 5.5 6.8 .3-6.9 1.4-7 2.4-7-5.4-7.7z"/>
<path class="k" d="M1070.2 416.2l-13.2 3.8-12.9 4.4-3.7 8.6-2.2 2.8-2.1 2.8-1.8 2.9 3.8-8.7 13.2-4.7 13.6-4.2 1.6-2.7 1.8-2.6z"/>
<path class="m" d="M1129.5 582.1l-1.3 3.2-.6 3.2 .1 3.1 12.5 5.2 6.4 2.5-.1-2.3 .5-2.4 1-2.4-6.3-3.3z"/>
<path class="k" d="M1197.4 602.2l-9.3 8.5 14.1 5.5 7.2 2.7 .6 .1 5.9-6.8z"/>
<path class="m" d="M1033.9 492.3l-2.6 7.8-1.5 7.8-.3 7.7 1.8 3.4 4.2 6.7 .3-7.3 1.5-7.4 2.5-7.5-4.1-7.5z"/>
<path class="c" d="M1250.4 571.4l-12.5 5.4 6.8 11.4 8.9-5.8z"/>
<path class="f" d="M1327.9 455.6l-4.2-4.9-5-4.8-5.7-4.6 1.2 3.7 5.9 4.5 5.2 4.7 4.3 4.8z"/>
<path class="g" d="M1174.3 390.6l-11.2-.3-11.2 .1-11.1 .5-3.3 .8-6 1.8 12-.8 12.1-.4 11.9 0 4.4-1.2z"/>
<path class="b" d="M1273.7 554.7l-12 2.1-.1 10.4 9.4-3.1z"/>
<path class="f" d="M1305.9 531.5l-2.9-1.2-3.4-1.1-3.9-1-4 8.5 3.4 .6 5.6 1.4z"/>
<path class="m" d="M1148 592.2l-1 2.4-.5 2.4 .1 2.3 13.2 4.8 6.8 2.3-.1-1.5 .3-1.6 .8-1.6-6.6-3.1z"/>
<path class="d" d="M1287.4 545.1l-11.2 0-2.5 9.6 9.3-1.3z"/>
<path class="b" d="M1286.3 420.9l-7-4.1-7.4-3.8-8-3.6-.1 .6 8.6 3.5 8 3.9 7.5 4-1.1-.5z"/>
<path class="i" d="M1131.5 393.5l-12 1.3-11.8 1.7-11.7 2.2-3.6 1.5-6.6 3.3 12.4-2.5 12.6-2.1 12.7-1.7 5.2-2.6z"/>
<path class="m" d="M1030 481.2l-2.7 8.2-1.5 8.1-.4 8 1.1 3.3 1.4 3.4 1.6 3.4 .3-7.7 1.5-7.8 2.6-7.8-2.8-7.4z"/>
<path class="h" d="M1335.7 500.5l-1.9-3.5-2.8-3.6-3.5-3.5-2.3 6.5 3.3 3.2 2.7 3.2 1.9 3.2z"/>
<path class="c" d="M1239.4 400.6l-9-2.5-9.2-2.3-9.5-1.9-1.7-.2-3.2 .1 10.4 1.8 10.1 2.2 9.7 2.4 1.6 .2z"/>
<path class="h" d="M1337.7 495.2l-2-3.8-2.8-3.9-3.6-3.8-1.8 6.2 3.5 3.5 2.8 3.6 1.9 3.5z"/>
<path class="h" d="M1333.1 506l-1.9-3.2-2.7-3.2-3.3-3.2-2.9 6.7 3.2 2.9 2.5 2.8 1.9 2.9z"/>
<path class="h" d="M1339.1 490.2l-2.1-4.1-2.8-4.1-3.7-4.1-1.2 5.8 3.6 3.8 2.8 3.9 2 3.8z"/>
<path class="d" d="M1306.6 434.7l-5.6-4.6-6.2-4.4-6.9-4.3 1.4 1.4 7.2 4.3 6.7 4.4 5.9 4.6z"/>
<path class="a" d="M1261.6 567.2l-11.2 4.2 3.2 11 8-4.9z"/>
<path class="h" d="M1329.9 511.7l-1.9-2.9-2.5-2.8-3.2-2.9-3.4 7 3 2.4 2.4 2.5 1.7 2.5z"/>
<path class="m" d="M1167.6 601.7l-.8 1.6-.3 1.6 .1 1.5 13.8 4.3 7 2.1-.1-.7 .2-.7 .6-.7-6.9-2.9z"/>
<path class="k" d="M1077.2 409.4l-12.8 3.5-12.4 3.9-3.5 8.5-2.9 2.5-2.7 2.6-2.5 2.6 3.7-8.6 12.9-4.4 13.2-3.8 2.1-2.4 2.4-2.3z"/>
<path class="e" d="M1211.7 393.9l-9.8-1.6-10-1.3-10.1-.9-2.6 0-4.9 .5 11 .7 10.9 1.1 10.6 1.4 3.2-.1z"/>
<path class="f" d="M1325.6 452.7l-4-4.8-4.8-4.9-5.5-4.7 1.7 3 5.7 4.6 5 4.8 4.2 4.9z"/>
<path class="h" d="M1339.8 485.4l-2.1-4.3-2.8-4.3-3.7-4.4-.7 5.5 3.7 4.1 2.8 4.1 2.1 4.1z"/>
<path class="i" d="M1225.3 603.1l-6.3 5.9-3.1 3.2 19 9.4 5.5-8.1z"/>
<path class="a" d="M1263.9 409.9l-7.7-3.4-8.2-3.1-9.4-3-1.6-.2 9.4 2.8 9 3.1 8.5 3.3z"/>
<path class="h" d="M1326 517.5l-1.7-2.5-2.4-2.5-3-2.4-3.9 7 2.8 2.1 2.2 2.1 1.6 2z"/>
<path class="g" d="M1235.1 595.1l-6.5 5.2-3.3 2.8 15.1 10.4 5.7-7.5z"/>
<path class="f" d="M1300.7 538.7l-5.6-1.4-3.4-.6-4.3 8.4 7.8 .7z"/>
<path class="m" d="M1028 470.6l-2.7 8.3-1.5 8.4-.4 8.2 .5 3.3 .6 3.3 .9 3.4 .4-8 1.5-8.1 2.7-8.2-.9-3.6-.6-3.5z"/>
<path class="k" d="M1215.9 612.2l-5.9 6.8-.6-.1 14.4 5.1 7.4 2.4 .3 1 3.4-5.8z"/>
<path class="h" d="M1339.8 481.1l-2-4.6-2.9-4.5-3.7-4.6 0 5 3.7 4.4 2.8 4.3 2.1 4.3z"/>
<path class="e" d="M1244.7 588.2l-9.6 6.9 11 10.9 5.6-6.8z"/>
<path class="h" d="M1321.6 523.3l-1.6-2-2.2-2.1-2.8-2.1-4.4 7.2 2.6 1.7 2.1 1.6 1.4 1.6z"/>
<path class="m" d="M1188.1 610.7l-.6 .7-.2 .7 .1 .7 21.6 5.6-.1 .2 .5 .3-7.2-2.7z"/>
<path class="d" d="M1283 553.4l-9.3 1.3-2.7 9.4 7.3-2.5z"/>
<path class="h" d="M1339.2 477l-2-4.7-2.9-4.7-3.6-4.7 .5 4.5 3.7 4.6 2.9 4.5 2 4.6z"/>
<path class="b" d="M1271 564.1l-9.4 3.1 0 10.3 6.7-4.3z"/>
<path class="f" d="M1322.8 450.6l-3.8-4.9-4.6-4.9-5.3-4.7 2.2 2.2 5.5 4.7 4.8 4.9 4 4.8z"/>
<path class="m" d="M1028.1 460.3l-2.7 8.6-1.5 8.4-.7 11.7 0 3.2 .2 3.3 .4-8.2 1.5-8.4 2.7-8.3-.2-3.5 .1-3.4z"/>
<path class="h" d="M1316.7 529.2l-1.4-1.6-2.1-1.6-2.6-1.7-4.7 7.2 2.3 1.2 1.8 1.2 1.4 1.2z"/>
<path class="g" d="M1181.8 390.1l-10.2-.6-10.2-.2-10.3 .2-3.5 .3-6.8 1.1 11.1-.5 11.2-.1 11.2 .3 4.9-.5z"/>
<path class="c" d="M1253.6 582.4l-8.9 5.8 7 11 5.2-6.2z"/>
<path class="b" d="M1284.5 421.2l-6.4-4-6.8-3.7-7.4-3.6 0-.5 8 3.6 7.4 3.8 7 4.1z"/>
<path class="d" d="M1303.7 434l-5.2-4.5-5.8-4.4-6.4-4.2 .5 0 1.1 .5 6.9 4.3 6.2 4.4 5.6 4.6z"/>
<path class="f" d="M1295.2 545.8l-7.8-.7-4.4 8.3 6.4-.7z"/>
<path class="i" d="M1140.8 390.9l-11.2 1-11 1.3-10.9 1.7-4.1 1.2-7.6 2.6 11.7-2.2 11.8-1.7 12-1.3 6-1.8z"/>
<path class="k" d="M1085.8 403.5l-12.2 3.1-11.8 3.6-3.3 8.3-3.5 2.2-3.4 2.3-3.1 2.3 3.5-8.5 12.4-3.9 12.8-3.5 5.5-4z"/>
<path class="h" d="M1337.9 473.4l-2-4.8-2.7-4.8-3.6-4.8 1.1 3.9 3.6 4.7 2.9 4.7 2 4.7z"/>
<path class="m" d="M1209.4 618.9l-.5-.3 .1-.2 22 4.9 0 2.1 .2 1-7.4-2.4z"/>
<path class="h" d="M1311.4 535.1l-1.4-1.2-1.8-1.2-2.3-1.2-5.2 7.2 2.1 .7 2.8 1.5z"/>
<path class="c" d="M1241.9 402.1l-8-2.7-8.3-2.3-10.4-2.6-3.5-.6 9.5 1.9 9.2 2.3 9 2.5z"/>
<path class="k" d="M1234.9 621.6l-3.4 5.8-.3-1 14.7 4.5 7.5 2.1 0 1.9 .9-4.7z"/>
<path class="a" d="M1261.6 577.5l-8 4.9 3.3 10.6 4.6-5.7z"/>
<path class="i" d="M1240.4 613.5l-5.5 8.1 19.4 8.6 1.5-7z"/>
<path class="m" d="M1030.2 450.6l-2.7 8.6-1.5 8.6-.3 8.5-1 3.1-.7 3.2-.5 3.2 .4-8.5 1.5-8.4 2.7-8.6 .5-3.3 .7-3.2z"/>
<path class="a" d="M1264 411.3l-7-3.3-7.3-3.1-7.8-2.8-2.5-1.5 8.6 2.8 8.2 3.1 7.7 3.4z"/>
<path class="h" d="M1336 470.3l-2-4.9-2.6-4.9-3.5-4.9 1.7 3.4 3.6 4.8 2.7 4.8 2 4.8z"/>
<path class="e" d="M1217 395.1l-8.8-1.8-8.9-1.5-12-1.4-5.5-.3 10.1 .9 10 1.3 11.5 1.8z"/>
<path class="f" d="M1319.5 449l-3.7-4.9-4.2-4.8-5-4.6 2.5 1.4 5.3 4.7 4.6 4.9 3.8 4.9z"/>
<path class="d" d="M1278.3 561.6l-7.3 2.5-2.7 9.1 5.1-3.8z"/>
<path class="g" d="M1246.1 606l-5.7 7.5 15.4 9.7 1.5-6.8z"/>
<path class="f" d="M1289.4 552.7l-6.4 .7-4.7 8.2 5-2.1z"/>
<path class="h" d="M1305.6 540.9l-2.8-1.5-2.1-.7-5.5 7.1 4.2 .8z"/>
<path class="o" d="M1127.7 591.6l.7 2.9 1.3 2.9 1.9 2.7 6 1.9 12.5 3.6-1.7-2-1.1-2.1-.7-2.2-6.4-2.5z"/>
<path class="m" d="M1231.2 626.4l-.2-1 0-2.1 22.5 4-.1 5.7-7.5-2.1z"/>
<path class="o" d="M1109.9 583.3l.8 3.7 1.4 3.6 2.1 3.4 5.6 2.1 11.8 4-1.9-2.7-1.3-2.9-.7-2.9-6.1-2.8z"/>
<path class="o" d="M1146.6 599.3l.7 2.2 1.1 2.1 1.7 2 6.4 1.6 13.1 3.1-1.4-1.2-1-1.3-.6-1.4-6.8-2.3z"/>
<path class="o" d="M1093.5 574.5l.7 4.4 1.6 4.3 2.2 4.1 5.3 2.3 10.9 4.4-2.1-3.4-1.4-3.6-.8-3.7-5.6-2.9z"/>
<path class="o" d="M1166.6 606.4l.6 1.4 1 1.3 1.4 1.2 20.3 4-1.2-.4-.8-.5-.5-.6-7-2.1z"/>
<path class="d" d="M1300.4 434.1l-4.8-4.4-5.3-4.3-5.8-4.2 1.8-.3 6.4 4.2 5.8 4.4 5.2 4.5z"/>
<path class="e" d="M1251.7 599.2l-5.6 6.8 11.2 10.4 1.5-6.7z"/>
<path class="b" d="M1268.3 573.2l-6.7 4.3-.1 9.8 3.9-5.3z"/>
<path class="o" d="M1078.5 565.3l.8 5.1 1.6 4.9 2.4 4.8 4.8 2.5 9.9 4.7-2.2-4.1-1.6-4.3-.7-4.4-10.2-6.1z"/>
<path class="o" d="M1187.4 612.8l.5 .6 .8 .5 1.2 .4 20.9 3.2-1.8 .9z"/>
<path class="h" d="M1333.4 467.6l-1.9-5-2.6-4.9-3.3-5 1.6 1.9 4.2 5.9 2.6 4.9 2 4.9z"/>
<path class="i" d="M1255.8 623.2l-1.5 7 6.5 7z"/>
<path class="j" d="M1337.3 510.6l.2-3.2-.5-3.4-1.3-3.5-2.6 5.5 1.2 3.1 .5 3.1-.2 3z"/>
<path class="j" d="M1334.6 515.2l.2-3-.5-3.1-1.2-3.1-3.2 5.7 1.1 2.8 .4 2.7-.2 2.6z"/>
<path class="k" d="M1096 398.7l-11.5 2.6-11.1 3.1-3 8.1-4.2 1.9-7.7 4.1 3.3-8.3 11.8-3.6 12.2-3.1 6.6-3.3z"/>
<path class="j" d="M1339.3 506.3l.2-3.6-.5-3.7-1.3-3.8-2 5.3 1.3 3.5 .5 3.4-.2 3.2z"/>
<path class="m" d="M1034.3 441.5l-2.6 8.6-1.4 8.6-.4 8.6-1.6 3-1.4 3-1.2 3 .3-8.5 1.5-8.6 2.7-8.6 1.2-3.1 1.3-3.1z"/>
<path class="j" d="M1331.2 519.8l.2-2.6-.4-2.7-1.1-2.8-3.9 5.8 1.1 2.4 .4 2.3-.2 2.2z"/>
<path class="b" d="M1282.5 422.5l-5.7-3.9-6.2-3.7-6.6-3.6-.1-1.4 7.4 3.6 6.8 3.7 6.4 4z"/>
<path class="g" d="M1257.3 616.4l-1.5 6.8 5 14z"/>
<path class="o" d="M1065.1 555.7l.8 5.7 1.7 5.6 2.5 5.3 4.3 2.7 8.9 5.1-2.4-4.8-1.6-4.9-.8-5.1-9.1-6.4z"/>
<path class="j" d="M1340.7 502l.2-3.8-.5-4-1.3-4-1.4 5 1.3 3.8 .5 3.7-.2 3.6z"/>
<path class="o" d="M1209 618.4l1.8-.9 21.4 2.4-.9 2.3-.3 1.1z"/>
<path class="j" d="M1327.3 524.4l.2-2.2-.4-2.3-1.1-2.4-4.4 5.8 1 2 .4 2-.1 1.8z"/>
<path class="h" d="M1299.4 546.6l-4.2-.8-5.8 6.9 3.4-.6z"/>
<path class="i" d="M1151.1 389.5l-10.2 .5-10 1-10 1.3-4.5 .7-8.7 1.9 10.9-1.7 11-1.3 11.2-1 6.8-1.1z"/>
<path class="g" d="M1190.2 390.7l-9.2-.8-9.2-.5-13.1-.2-7.6 .3 10.3-.2 10.2 .2 12.9 .7z"/>
<path class="c" d="M1256.9 593l-5.2 6.2 7.1 10.5 1.4-6.5z"/>
<path class="f" d="M1315.6 448.1l-3.4-4.8-3.9-4.7-4.6-4.6 2.9 .7 5 4.6 4.2 4.8 3.7 4.9z"/>
<path class="j" d="M1341.4 498l.2-4.1-.5-4.2-1.3-4.3-.7 4.8 1.3 4 .5 4-.2 3.8z"/>
<path class="e" d="M1258.8 609.7l-1.5 6.7 3.5 20.8z"/>
<path class="j" d="M1322.9 529.1l.1-1.8-.4-2-1-2-4.9 5.9 1 1.6 .3 1.5-.1 1.4z"/>
<path class="o" d="M1053.4 545.9l.8 6.2 1.8 6.2 2.6 5.9 3.7 2.7 7.8 5.4-2.5-5.3-1.7-5.6-.8-5.7-8-6.5z"/>
<path class="o" d="M1231 623.3l.3-1.1 .9-2.3 21.6 1.6-.3 5.8z"/>
<path class="f" d="M1283.3 559.5l-5 2.1-4.9 7.8 2.6-2.3z"/>
<path class="c" d="M1260.2 603.2l-1.4 6.5 2 27.5z"/>
<path class="j" d="M1341.4 494.2l.2-4.3-.5-4.4-1.3-4.4 0 4.3 1.3 4.3 .5 4.2-.2 4.1z"/>
<path class="h" d="M1330.1 465.4l-1.7-5-2.4-4.9-3.2-4.9 2.8 2.1 3.3 5 2.6 4.9 1.9 5z"/>
<path class="j" d="M1317.9 533.7l.1-1.4-.3-1.5-1-1.6-5.3 5.9 .8 1.1 .3 1.1-.1 1z"/>
<path class="d" d="M1273.4 569.4l-5.1 3.8-2.9 8.8 3.1-5z"/>
<path class="o" d="M1043.5 535.9l.8 6.7 1.8 6.6 2.8 6.4 3 2.9 6.7 5.7-2.6-5.9-1.8-6.2-.8-6.2-6.8-6.7z"/>
<path class="a" d="M1261.5 596.7l-1.3 6.5 .6 34z"/>
<path class="a" d="M1261.5 587.3l-4.6 5.7 3.3 10.2 1.3-6.5z"/>
<path class="c" d="M1244.7 404.6l-7-2.6-7.4-2.5-7.5-2.1-2-.9-3.8-1.4 8.6 2 8.3 2.3 8 2.7z"/>
<path class="m" d="M1040.4 433l-2.5 8.6-1.3 8.6-.3 8.5-2.4 2.8-2.1 2.9-1.9 2.9 .4-8.6 1.4-8.6 2.6-8.6 1.8-2.9 2.1-2.8z"/>
<path class="j" d="M1340.7 490.7l.3-4.5-.5-4.5-1.3-4.7 .6 4.1 1.3 4.4 .5 4.4-.2 4.3z"/>
<path class="h" d="M1292.8 552.1l-3.4 .6-6.1 6.8 2.1-1.4 .6-.7z"/>
<path class="j" d="M1312.4 538.3l.1-1-.3-1.1-.8-1.1-5.8 5.8 .7 .7 .3 .6-.2 .6z"/>
<path class="a" d="M1264.1 413.8l-6.1-3.3-6.5-3-6.8-2.9-2.8-2.5 7.8 2.8 7.3 3.1 7 3.3z"/>
<path class="b" d="M1262.6 590.4l-1.1 6.3-.7 40.5z"/>
<path class="d" d="M1296.7 435l-4.2-4.3-4.8-4.2-5.2-4 2-1.3 5.8 4.2 5.3 4.3 4.8 4.4z"/>
<path class="e" d="M1222.8 397.4l-7.7-1.9-7.9-1.7-7.9-1.3-3.1-.7-6-1.1 9.1 1.1 8.9 1.5 8.8 1.8 3.8 1.4z"/>
<path class="o" d="M1035.5 525.7l.8 7.2 1.8 7.1 2.9 6.8 2.4 3 5.5 5.8-2.8-6.4-1.8-6.6-.8-6.7-5.5-6.8z"/>
<path class="r" d="M1232.2 619.9l2.2-3.7 20.1-.6-.7 5.9z"/>
<path class="j" d="M1339.4 487.5l.2-4.6-.5-4.7-1.2-4.8 1 2.4 1.6 5.9 .5 4.5-.3 4.5z"/>
<path class="d" d="M1263.4 584.1l-.8 6.3-1.8 46.8z"/>
<path class="k" d="M1107.7 394.9l-10.6 2.2-10.3 2.6-2.8 7.8-4.7 1.5-8.9 3.5 3-8.1 11.1-3.1 11.5-2.6 7.6-2.6z"/>
<path class="h" d="M1326.3 463.7l-1.6-4.9-2.3-4.9-2.9-4.9 3.3 1.6 3.2 4.9 2.4 4.9 1.7 5z"/>
<path class="f" d="M1311.2 447.9l-3-4.7-3.6-4.6-4.2-4.5 3.3-.1 4.6 4.6 3.9 4.7 3.4 4.8z"/>
<path class="j" d="M1306.4 542.8l.2-.6-.3-.6-.7-.7-6.2 5.7 .6 .2 .2 .2-.1 .1z"/>
<path class="q" d="M1210.8 617.5l3.7-1.5 19.9 .2-2.2 3.7z"/>
<path class="b" d="M1265.4 582l-3.9 5.3 0 9.4 1.1-6.3z"/>
<path class="r" d="M1189.9 614.3l3.1 .5 21.5 1.2-3.7 1.5z"/>
<path class="f" d="M1277 565.9l-1 1.2-2.6 2.3-4.9 7.6 2.1-4.9z"/>
<path class="b" d="M1280.3 424.7l-5-3.8-5.4-3.6-5.8-3.5-.1-2.5 6.6 3.6 6.2 3.7 5.7 3.9z"/>
<path class="h" d="M1286 557.4l-.6 .7-2.1 1.4-6.3 6.4 1.5-2.3 .5-1.1z"/>
<path class="k" d="M1254.3 630.2l-.9 4.7 0-1.9 9.5-107.6-2.1 111.8z"/>
<path class="o" d="M1029.5 515.6l.7 7.5 1.9 7.4 2.9 7.2 1.8 3.1 4.2 6-2.9-6.8-1.8-7.1-.8-7.2-4.2-6.7z"/>
<path class="j" d="M1337.3 484.5l.3-4.6-.5-4.8-1.1-4.8 1.9 3.1 1.2 4.8 .5 4.7-.2 4.6z"/>
<path class="r" d="M1169.6 610.3l1.8 1.1 2.1 .9 2.6 .8 18.9 1.8-3.7-.3z"/>
<path class="j" d="M1300.1 547.1l.1-.1-.2-.2-.6-.2-6.6 5.5 .6-.2 .2-.3-.1-.4z"/>
<path class="m" d="M1048.5 425.3l-2.4 8.5-1.2 8.5-.3 8.4-3 2.6-2.8 2.7-2.5 2.7 .3-8.5 1.3-8.6 2.5-8.6 2.5-2.6 2.7-2.6z"/>
<path class="i" d="M1162.6 389.2l-9.1 .2-9.1 .5-13.9 1.2-9.6 1.2 10-1.3 10-1 14-.7z"/>
<path class="q" d="M1150.1 605.6l2.1 1.8 2.6 1.7 3 1.5 18.3 2.5-2.6-.8-2.1-.9-1.8-1.1-13.1-3.1z"/>
<path class="t" d="M1234.4 616.2l3.1-4.2 17.9-2.4-.9 6z"/>
<path class="g" d="M1199.3 392.5l-8.1-1.1-8.1-.8-8-.5-8.4-.7-4.1-.2 9.2 .2 9.2 .5 9.2 .8 6 1.1z"/>
<path class="d" d="M1268.5 577l-3.1 5-2.8 8.4 .8-6.3z"/>
<path class="h" d="M1321.9 462.6l-1.5-4.9-2.1-4.8-2.7-4.8 3.9 .9 2.9 4.9 2.3 4.9 1.6 4.9z"/>
<path class="j" d="M1334.6 482l.3-4.7-.4-4.8-1.1-4.9 2.6 2.7 1.1 4.8 .5 4.8-.3 4.6z"/>
<path class="o" d="M1025.4 505.5l.8 7.8 1.9 7.8 4 10.5 1.3 3.1 1.6 3-2.9-7.2-1.9-7.4-.7-7.5-1.6-3.4-1.4-3.4z"/>
<path class="j" d="M1293.5 551.2l.1 .4-.2 .3-.6 .2-6.8 5.3 .4-.7 .2-.8-.1-.8z"/>
<path class="q" d="M1131.6 600.1l2.4 2.6 3 2.4 3.5 2.1 5.6 1.2 11.7 2.2-3-1.5-2.6-1.7-2.1-1.8-12.5-3.6z"/>
<path class="l" d="M1327 526.6l2-2.1 1.4-2.3 .8-2.4-3.9 4.6-.7 2.1-1.4 2-1.8 1.7z"/>
<path class="l" d="M1330.1 523.1l2.1-2.5 1.5-2.6 .9-2.8-3.4 4.6-.8 2.4-1.4 2.3-2 2.1z"/>
<path class="l" d="M1323.4 530.2l1.8-1.7 1.4-2 .7-2.1-4.4 4.7-.8 1.7-1.2 1.5-1.8 1.4z"/>
<path class="l" d="M1332.7 519.5l2.1-2.8 1.6-2.9 .9-3.2-2.7 4.6-.9 2.8-1.5 2.6-2.1 2.5z"/>
<path class="f" d="M1306.4 448.3l-2.7-4.5-3.2-4.4-3.8-4.4 3.7-.9 4.2 4.5 3.6 4.6 3 4.7z"/>
<path class="l" d="M1319.1 533.7l1.8-1.4 1.2-1.5 .8-1.7-5 4.6-.7 1.3-1.2 1.2-1.6 1z"/>
<path class="d" d="M1292.7 436.7l-3.7-4.1-4.1-4-4.6-3.9 2.2-2.2 5.2 4 4.8 4.2 4.2 4.3z"/>
<path class="l" d="M1334.6 516l2.2-3.1 1.6-3.2 .9-3.4-2 4.3-.9 3.2-1.6 2.9-2.1 2.8z"/>
<path class="t" d="M1214.5 616l5.3-2.4 17.7-1.6-3.1 4.2z"/>
<path class="h" d="M1279 562.5l-.5 1.1-1.5 2.3-6.4 6.2 .5-1.6 .7-3.3z"/>
<path class="f" d="M1264.1 577.9l-.7 6.2-2.6 53.1 2.1-111.8z"/>
<path class="l" d="M1314.4 537.2l1.6-1 1.2-1.2 .7-1.3-5.5 4.6-.6 .9-1.1 .7-1.4 .6z"/>
<path class="l" d="M1335.9 512.5l2.2-3.3 1.6-3.5 1-3.7-1.4 4.3-.9 3.4-1.6 3.2-2.2 3.1z"/>
<path class="c" d="M1247.7 408.2l-6-2.6-6.3-2.5-6.4-2.2-6.2-3.5 7.5 2.1 7.4 2.5 7 2.6z"/>
<path class="f" d="M1270.6 572.1l-2.1 4.9-5.1 7.1 .7-6.2z"/>
<path class="r" d="M1114.2 594l2.7 3.3 3.3 3 3.9 2.9 5.4 1.4 11 2.6-3.5-2.1-3-2.4-2.4-2.6-11.8-4z"/>
<path class="k" d="M1120.9 392.3l-9.7 1.7-9.4 2-2.5 7.4-5.3 1.3-10 2.8 2.8-7.8 10.3-2.6 10.6-2.2 4.3-1z"/>
<path class="v" d="M1237.5 612l3.7-4.8 15.2-3.8-1 6.2z"/>
<path class="j" d="M1331.3 479.8l.3-4.7-.4-4.8-1.1-4.9 3.3 2.2 1.1 4.9 .4 4.8-.3 4.7z"/>
<path class="a" d="M1264.2 417.3l-5.3-3.2-5.5-3-5.7-2.9-3-3.6 6.8 2.9 6.5 3 6.1 3.3z"/>
<path class="l" d="M1309.3 540.5l1.4-.6 1.1-.7 .6-.9-6.5 4.9-.9 .4-1.3 .2z"/>
<path class="m" d="M1058.5 418.5l-2.2 8.3-1.2 8.3-.2 8.2-3.6 2.4-6.7 5 .3-8.4 1.2-8.5 2.4-8.5 3.1-2.3 3.4-2.3z"/>
<path class="l" d="M1336.5 509.2l2.3-3.5 1.6-3.8 1-3.9-.4 2.7-1.3 5-1.6 3.5-2.2 3.3z"/>
<path class="j" d="M1286.5 555.1l.1 .8-.2 .8-.4 .7-7 5.1 .3-1.2 .1-2.5z"/>
<path class="o" d="M1023.4 495.5l.8 8.1 1.9 8 2.9 7.7 .5 3.1 .6 3.1 .9 3.1-2.9-7.5-1.9-7.8-.8-7.8-.9-3.4-.6-3.3z"/>
<path class="h" d="M1317 462l-1.4-4.7-1.9-4.7-2.5-4.7 4.4 .2 2.7 4.8 2.1 4.8 1.5 4.9z"/>
<path class="t" d="M1195 614.9l24.8-1.3-5.3 2.4z"/>
<path class="l" d="M1303.7 543.8l1.3-.2 .9-.4 .5-.4-6.3 4.3-2.3-.3z"/>
<path class="l" d="M1336.5 506l2.3-3.7 1.6-4 1-4.1 0 3.8-1 3.9-1.6 3.8-2.3 3.5z"/>
<path class="e" d="M1229 400.9l-6.5-2.1-6.7-1.8-6.8-1.5-3.3-1.2-6.4-1.8 7.9 1.3 7.9 1.7 7.7 1.9z"/>
<path class="q" d="M1098 587.3l3 4 3.7 3.7 4.3 3.4 4.9 1.7 10.2 3.1-3.9-2.9-3.3-3-2.7-3.3-10.9-4.4z"/>
<path class="b" d="M1277.9 427.8l-4.3-3.7-4.5-3.5-4.9-3.3-.1-3.5 5.8 3.5 5.4 3.6 5 3.8z"/>
<path class="l" d="M1297.8 546.8l2.3 .3-6.6 4.1-1.9-1.5z"/>
<path class="l" d="M1335.8 503l2.3-3.9 1.6-4.1 1-4.3 .7 3.5-1 4.1-1.6 4-2.3 3.7z"/>
<path class="j" d="M1327.4 478l.2-4.7-.3-4.7-1-4.9 3.8 1.7 1.1 4.9 .4 4.8-.3 4.7z"/>
<path class="h" d="M1271.8 567.2l-.7 3.3-.5 1.6-6.5 5.8 .3-6.3z"/>
<path class="y" d="M1241.2 607.2l4.1-5.4 12.2-4.8-1.1 6.4z"/>
<path class="j" d="M1279.4 558.8l-.1 2.5-.3 1.2-7.2 4.7 .2-5z"/>
<path class="o" d="M1023.5 485.8l.8 8.3 1.9 8.1 2.9 7.9-.2 3.1-.1 3 .2 3.1-2.9-7.7-1.9-8-1-11.4 0-3.2z"/>
<path class="v" d="M1219.8 613.6l6.4-3.3 15-3.1-3.7 4.8z"/>
<path class="i" d="M1175.1 390.1l-8.1-.2-7.9 .1-7.8 .4-5.4 0-10.4 .4 8.9-.9 9.1-.5 9.1-.2 8.2 .5z"/>
<path class="r" d="M1083.3 580.1l3.2 4.5 4 4.3 4.6 4.1 4.5 1.9 9.4 3.5-4.3-3.4-3.7-3.7-3-4-9.9-4.7z"/>
<path class="t" d="M1176.1 613.1l2.8 .7 3.1 .4 3.4 .3 17-.1-2.7 .4-4.7 .1z"/>
<path class="l" d="M1291.6 549.7l1.9 1.5-7 3.9-.3-.8-1.1-1.9z"/>
<path class="f" d="M1301.2 449.5l-2.3-4.3-2.9-4.3-3.3-4.2 4-1.7 3.8 4.4 3.2 4.4 2.7 4.5z"/>
<path class="l" d="M1334.5 500.2l2.3-4.1 1.6-4.2 1-4.4 1.3 3.2-1 4.3-1.6 4.1-2.3 3.9z"/>
<path class="m" d="M1253.4 633l.1-5.7 9.4-101.9z"/>
<path class="m" d="M1070.4 412.5l-2.1 8.1-1 8-.1 8-4.3 2.1-8 4.6 .2-8.2 1.2-8.3 2.2-8.3 7.7-4.1z"/>
<path class="h" d="M1311.5 461.9l-1.2-4.5-1.7-4.5-2.2-4.6 4.8-.4 2.5 4.7 1.9 4.7 1.4 4.7z"/>
<path class="g" d="M1209 395.5l-6.8-1.3-6.9-1.1-6.9-.9-4.5-.8-8.8-1.3 8 .5 8.1 .8 8.1 1.1 6.4 1.8z"/>
<path class="d" d="M1288.5 439.2l-3.2-3.9-3.5-3.8-3.9-3.7 2.4-3.1 4.6 3.9 4.1 4 3.7 4.1z"/>
<path class="l" d="M1285.1 552.4l1.1 1.9 .3 .8-7.1 3.7-.2-1.3-.8-2.7z"/>
<path class="j" d="M1322.9 476.7l.2-4.7-.3-4.7-.9-4.7 4.4 1.1 1 4.9 .3 4.7-.2 4.7z"/>
<path class="l" d="M1332.6 497.6l2.2-4.2 1.6-4.3 .9-4.6 2.1 3-1 4.4-1.6 4.2-2.3 4.1z"/>
<path class="aa" d="M1245.3 601.8l4.2-6 9.2-5.3-1.2 6.5z"/>
<path class="j" d="M1272 562.2l-.2 5-7.4 4.4 .2-6.3z"/>
<path class="q" d="M1070.1 572.3l3.4 5.2 4.2 4.9 5 4.5 4 2.1 8.4 4-4.6-4.1-4-4.3-3.2-4.5-8.9-5.1z"/>
<path class="o" d="M1253.5 627.3l.3-5.8 9.1-96.1z"/>
<path class="o" d="M1025.7 476.3l.8 8.4 1.9 8.3 2.9 8-.9 3-.8 3.1-.5 3-2.9-7.9-1.9-8.1-.8-8.3 .5-3.2 .7-3.2z"/>
<path class="t" d="M1157.8 610.6l3.4 1.3 3.8 1 4.1 .9 16.3 .7-3.4-.3-3.1-.4-2.8-.7z"/>
<path class="k" d="M1135.5 390.8l-8.7 1.2-8.5 1.5-2.1 7-5.8 .8-11.1 2.1 2.5-7.4 9.4-2 9.7-1.7 9.6-1.2z"/>
<path class="l" d="M1278.4 554.8l.8 2.7 .2 1.3-7.4 3.4-.5-5.2z"/>
<path class="v" d="M1202.4 614.4l5.8-1 3.1-.8 14.9-2.3-6.4 3.3z"/>
<path class="l" d="M1330.1 495.2l2.1-4.2 1.5-4.4 .9-4.6 2.7 2.5-.9 4.6-1.6 4.3-2.2 4.2z"/>
<path class="n" d="M1311.3 536.7l3-.8 2.6-1 2.2-1.2-4.7 3.5-2 .8-2.4 .7-2.7 .4z"/>
<path class="n" d="M1314.9 534.2l3.3-1.1 2.8-1.3 2.4-1.6-4.3 3.5-2.2 1.2-2.6 1-3 .8z"/>
<path class="y" d="M1226.2 610.3l7-4.4 12.1-4.1-4.1 5.4z"/>
<path class="n" d="M1307.3 539.1l2.7-.4 2.4-.7 2-.8-5.1 3.3-1.8 .5-2.2 .3-2.5 .1z"/>
<path class="n" d="M1318.1 531.6l3.4-1.4 3-1.7 2.5-1.9-3.6 3.6-2.4 1.6-2.8 1.3-3.3 1.1z"/>
<path class="q" d="M1253.8 621.5l.7-5.9 8.4-90.2z"/>
<path class="n" d="M1302.8 541.4l2.5-.1 2.2-.3 1.8-.5-5.6 3.3-3.5 0-2.2-.3z"/>
<path class="n" d="M1320.8 529l3.6-1.7 3.1-2 2.6-2.2-3.1 3.5-2.5 1.9-3 1.7-3.4 1.4z"/>
<path class="ac" d="M1249.5 595.8l4.1-6.5 6.2-5.4-1.1 6.6z"/>
<path class="n" d="M1298 543.5l2.2 .3 3.5 0-5.9 3-4.9-1.3z"/>
<path class="n" d="M1323 526.3l3.7-2 3.2-2.3 2.8-2.5-2.6 3.6-2.6 2.2-3.1 2-3.6 1.7z"/>
<path class="q" d="M1058.6 564.2l3.6 5.6 4.4 5.4 5.2 5.1 3.5 2.3 7.4 4.3-5-4.5-4.2-4.9-3.4-5.2-7.8-5.4z"/>
<path class="a" d="M1264.2 421.8l-4.2-3.1-4.5-3-4.7-2.8-3.1-4.7 5.7 2.9 5.5 3 5.3 3.2z"/>
<path class="j" d="M1317.8 475.7l.2-4.5-.2-4.6-.8-4.6 4.9 .6 .9 4.7 .3 4.7-.2 4.7z"/>
<path class="c" d="M1250.8 412.9l-4.9-2.6-5.1-2.5-5.2-2.3-6.6-4.6 6.4 2.2 6.3 2.5 6 2.6z"/>
<path class="n" d="M1292.9 545.5l4.9 1.3-6.2 2.9-4.1-2.4z"/>
<path class="n" d="M1324.6 523.6l3.8-2.2 3.4-2.6 2.8-2.8-1.9 3.5-2.8 2.5-3.2 2.3-3.7 2z"/>
<path class="l" d="M1271.5 557l.5 5.2-7.4 3.1 0-6.4z"/>
<path class="t" d="M1254.5 615.6l.9-6 7.5-84.2z"/>
<path class="l" d="M1326.9 493.1l2.1-4.2 1.4-4.5 .9-4.6 3.3 2.2-.9 4.6-1.5 4.4-2.1 4.2z"/>
<path class="n" d="M1287.5 547.3l4.1 2.4-6.5 2.7-3.1-3.5z"/>
<path class="n" d="M1325.7 521l3.9-2.6 3.4-2.8 2.9-3.1-1.3 3.5-2.8 2.8-3.4 2.6-3.8 2.2z"/>
<path class="f" d="M1295.6 451.3l-2-4.1-2.4-4-2.7-4 4.2-2.5 3.3 4.2 2.9 4.3 2.3 4.3z"/>
<path class="t" d="M1140.5 607.2l3.9 2 4.4 1.7 4.7 1.4 15.6 1.5-4.1-.9-3.8-1-3.4-1.3-11.7-2.2z"/>
<path class="h" d="M1305.7 462.5l-1.1-4.4-1.5-4.3-1.9-4.3 5.2-1.2 2.2 4.6 1.7 4.5 1.2 4.5z"/>
<path class="o" d="M1029.9 467.3l.8 8.4 1.9 8.3 3 8.1-1.7 2.9-1.4 3-1.2 3-2.9-8-1.9-8.3-.8-8.4 1.2-3 1.4-3z"/>
<path class="b" d="M1275.4 431.7l-3.5-3.4-3.7-3.3-4-3.2 0-4.5 4.9 3.3 4.5 3.5 4.3 3.7z"/>
<path class="m" d="M1084 407.5l-1.8 7.7-1 7.7 0 7.7-4.9 1.9-9.1 4.1 .1-8 1-8 2.1-8.1 8.9-3.5z"/>
<path class="ae" d="M1253.6 589.3l3.7-7 3.5-5.2-1 6.8z"/>
<path class="n" d="M1282 548.9l3.1 3.5-6.7 2.4-2.2-4.5z"/>
<path class="n" d="M1326.3 518.4l3.9-2.8 3.4-3.1 2.9-3.3-.6 3.3-2.9 3.1-3.4 2.8-3.9 2.6z"/>
<path class="v" d="M1255.4 609.6l1-6.2 6.5-78z"/>
<path class="e" d="M1235.6 405.5l-5.3-2.2-5.5-1.9-5.5-1.8-10.3-4.1 6.8 1.5 6.7 1.8 6.5 2.1z"/>
<path class="aa" d="M1233.2 605.9l7.3-5.3 9-4.8-4.2 6z"/>
<path class="q" d="M1048.9 555.6l3.7 6.2 4.6 5.9 5.4 5.5 2.9 2.5 6.3 4.6-5.2-5.1-4.4-5.4-3.6-5.6-6.7-5.7z"/>
<path class="n" d="M1276.2 550.3l2.2 4.5-6.9 2.2-1.2-5.5z"/>
<path class="n" d="M1326.2 515.8l4-3 3.4-3.2 2.9-3.6 0 3.2-2.9 3.3-3.4 3.1-3.9 2.8z"/>
<path class="v" d="M1185.4 614.5l7.5 0 8.8-.7 9.6-1.2-3.1 .8-5.8 1z"/>
<path class="l" d="M1323.2 491.3l1.9-4.3 1.4-4.4 .9-4.6 3.9 1.8-.9 4.6-1.4 4.5-2.1 4.2z"/>
<path class="y" d="M1256.4 603.4l1.1-6.4 5.4-71.6z"/>
<path class="i" d="M1188.4 392.2l-6.8-.5-6.7-.4-6.6 0-5.8-.4-11.2-.5 7.8-.4 7.9-.1 8.1 .2 8.8 1.3z"/>
<path class="j" d="M1312.2 475.2l.3-4.3-.3-4.5-.7-4.5 5.5 .1 .8 4.6 .2 4.6-.2 4.5z"/>
<path class="ag" d="M1257.3 582.3l3.1-7.4 1.3-4.8-.9 7z"/>
<path class="n" d="M1270.3 551.5l1.2 5.5-6.9 1.9-.2-6.5z"/>
<path class="n" d="M1325.7 513.3l3.9-3.1 3.4-3.5 2.8-3.7 .7 3-2.9 3.6-3.4 3.2-4 3z"/>
<path class="d" d="M1283.9 442.5l-2.5-3.7-2.9-3.6-3.1-3.5 2.5-3.9 3.9 3.7 3.5 3.8 3.2 3.9z"/>
<path class="y" d="M1211.3 612.6l6.6-2 3.4-1.2 11.9-3.5-7 4.4z"/>
<path class="t" d="M1124.1 603.2l4.5 2.5 4.9 2.3 5.4 2.1 4.7 .8 9.9 1.4-4.7-1.4-4.4-1.7-3.9-2-11-2.6z"/>
<path class="aa" d="M1257.5 597l1.2-6.5 4.2-65.1z"/>
<path class="o" d="M1036.3 458.7l.8 8.4 1.8 8.2 2.9 8.1-2.3 2.8-2.1 2.9-1.8 3-3-8.1-1.9-8.3-.8-8.4 1.9-2.9 2.1-2.9z"/>
<path class="n" d="M1324.5 510.9l3.9-3.3 3.3-3.6 2.8-3.8 1.3 2.8-2.8 3.7-3.4 3.5-3.9 3.1z"/>
<path class="l" d="M1318.9 489.8l1.8-4.2 1.4-4.4 .8-4.5 4.5 1.3-.9 4.6-1.4 4.4-1.9 4.3z"/>
<path class="ac" d="M1240.5 600.6l4.7-4.1 2.3-2.2 6.1-5-4.1 6.5z"/>
<path class="k" d="M1151.3 390.4l-7.6 .7-7.4 1-1.9 6.5-6.2 .5-12 1.4 2.1-7 8.5-1.5 8.7-1.2 10.4-.4z"/>
<path class="ai" d="M1260.4 574.9l2.5-7.7-.5-4.1-.7 7z"/>
<path class="q" d="M1041 546.8l3.8 6.6 4.7 6.3 8 8.5 5.1 5-5.4-5.5-4.6-5.9-3.7-6.2-5.5-5.8z"/>
<path class="h" d="M1264.4 571.6l-.3 6.3-1.2-52.5z"/>
<path class="ac" d="M1258.7 590.5l1.1-6.6 3.1-58.5z"/>
<path class="p" d="M1286.2 542.8l6.7 2.7-5.4 1.8-5.5-3.6z"/>
<path class="p" d="M1290.1 541.7l2.9 .8 5 1-5.1 2-6.7-2.7z"/>
<path class="h" d="M1299.4 463.5l-.9-4-1.2-4.1-1.7-4.1 5.6-1.8 1.9 4.3 1.5 4.3 1.1 4.4z"/>
<path class="p" d="M1282 543.7l5.5 3.6-5.5 1.6-4.3-4.4z"/>
<path class="p" d="M1293.9 540.4l3.2 .5 5.7 .5-4.8 2.1-5-1-2.9-.8z"/>
<path class="g" d="M1219.3 399.6l-11.1-2.9-5.6-1.1-4.8-1.3-9.4-2.1 6.9 .9 6.9 1.1 6.8 1.3z"/>
<path class="p" d="M1277.7 544.5l4.3 4.4-5.8 1.4-3-5.2z"/>
<path class="p" d="M1297.3 539l3.6 .3 3.3 0 3.1-.2-4.5 2.3-5.7-.5-3.2-.5z"/>
<path class="n" d="M1322.9 508.7l3.7-3.5 3.3-3.7 2.7-3.9 1.9 2.6-2.8 3.8-3.3 3.6-3.9 3.3z"/>
<path class="p" d="M1273.2 545.1l3 5.2-5.9 1.2-1.7-5.9z"/>
<path class="p" d="M1300.5 537.5l3.8 0 3.7-.3 3.3-.5-4 2.4-3.1 .2-3.3 0-3.6-.3z"/>
<path class="p" d="M1268.6 545.6l1.7 5.9-5.9 .9-.4-6.6z"/>
<path class="p" d="M1303.3 535.9l4.1-.3 3.9-.6 3.6-.8-3.6 2.5-3.3 .5-3.7 .3-3.8 0z"/>
<path class="ae" d="M1259.8 583.9l1-6.8 2.1-51.7z"/>
<path class="j" d="M1306.2 475.2l.2-4.2-.1-4.3-.6-4.2 5.8-.6 .7 4.5 .3 4.5-.3 4.3z"/>
<path class="j" d="M1264.6 565.3l-.2 6.3-1.5-46.2z"/>
<path class="ah" d="M1262.9 567.2l1.6-8-1.6-3.1-.5 7z"/>
<path class="p" d="M1305.7 534.2l4.5-.6 4.1-.8 3.8-1.2-3.2 2.6-3.6 .8-3.9 .6-4.1 .3z"/>
<path class="v" d="M1169.1 613.8l4.4 .7 4.6 .4 4.9 .1 13.9-.8-7.8 .4-9.2-.2z"/>
<path class="m" d="M1099.3 403.4l-1.6 7.4-.8 7.4 0 7.3-5.5 1.6-10.2 3.5 0-7.7 1-7.7 1.8-7.7 10-2.8z"/>
<path class="f" d="M1289.7 453.8l-1.6-3.8-1.9-3.8-2.3-3.7 4.6-3.3 2.7 4 2.4 4 2 4.1z"/>
<path class="l" d="M1314.2 488.6l1.6-4.2 1.2-4.3 .8-4.4 5.1 1-.8 4.5-1.4 4.4-1.8 4.2z"/>
<path class="ae" d="M1247.5 594.3l4.3-4.7 2-2.5 3.5-4.8-3.7 7z"/>
<path class="p" d="M1307.8 532.4l4.6-.8 4.4-1.2 4-1.4-2.7 2.6-3.8 1.2-4.1 .8-4.5 .6z"/>
<path class="n" d="M1320.6 506.6l3.6-3.6 3.2-3.8 2.7-4 2.5 2.4-2.7 3.9-3.3 3.7-3.7 3.5z"/>
<path class="t" d="M1109 598.4l4.9 3.2 5.4 2.9 5.9 2.5 4.5 1.1 9.2 2-5.4-2.1-4.9-2.3-4.5-2.5-10.2-3.1z"/>
<path class="p" d="M1309.5 530.6l4.8-1.1 4.5-1.5 4.2-1.7-2.2 2.7-4 1.4-4.4 1.2-4.6 .8z"/>
<path class="ag" d="M1260.8 577.1l.9-7 1.2-44.7z"/>
<path class="aa" d="M1221.3 609.4l6.8-3 3.4-1.7 9-4.1-7.3 5.3z"/>
<path class="l" d="M1264.6 558.9l0 6.4-1.7-39.9z"/>
<path class="q" d="M1035 537.7l3.9 7 4.9 6.7 5.7 6.3 1.7 2.7 4 5.3-5.7-6-4.7-6.3-3.8-6.6-4.2-6z"/>
<path class="af" d="M1264.5 559.2l.9-8-2.2-2.2-.3 7.1z"/>
<path class="o" d="M1044.6 450.7l.8 8.3 1.9 8.1 2.8 8-3 2.7-5.3 5.6-2.9-8.1-1.8-8.2-.8-8.4 2.5-2.7 2.8-2.7z"/>
<path class="p" d="M1310.8 528.7l4.9-1.4 4.6-1.7 4.3-2-1.6 2.7-4.2 1.7-4.5 1.5-4.8 1.1z"/>
<path class="n" d="M1317.9 504.6l3.5-3.6 3-3.8 2.5-4.1 3.2 2.1-2.7 4-3.2 3.8-3.6 3.6z"/>
<path class="ag" d="M1253.8 587.1l3.8-5.2 1.6-2.7 1.2-4.3-3.1 7.4z"/>
<path class="ai" d="M1261.7 570.1l.7-7 .5-37.7z"/>
<path class="y" d="M1196.9 614.2l8.4-1.2 8.2-1.7 7.8-1.9-3.4 1.2-6.6 2z"/>
<path class="p" d="M1311.6 526.7l5.1-1.6 4.7-1.9 4.3-2.2-1.1 2.6-4.3 2-4.6 1.7-4.9 1.4z"/>
<path class="a" d="M1264.2 427.2l-3.2-3-6.9-5.5-3.3-5.8 4.7 2.8 4.5 3 4.2 3.1z"/>
<path class="s" d="M1266.7 539.3l1.9 6.3-4.6 .2-.4-6.7z"/>
<path class="s" d="M1269.7 539.3l3.5 5.8-4.6 .5-1.9-6.3z"/>
<path class="s" d="M1272.7 539.1l5 5.4-4.5 .6-3.5-5.8z"/>
<path class="n" d="M1264.4 552.4l.2 6.5-1.7-33.5z"/>
<path class="l" d="M1308.9 487.7l1.5-4.1 1.1-4.1 .7-4.3 5.6 .5-.8 4.4-1.2 4.3-1.6 4.2z"/>
<path class="s" d="M1275.6 538.9l6.4 4.8-4.3 .8-5-5.4z"/>
<path class="b" d="M1272.7 436.6l-2.6-3.2-2.8-3.2-3.1-3 0-5.4 4 3.2 3.7 3.3 3.5 3.4z"/>
<path class="c" d="M1254.1 418.7l-3.8-2.6-7.8-4.9-6.9-5.7 5.2 2.3 5.1 2.5 4.9 2.6z"/>
<path class="p" d="M1312 524.8l5.1-1.8 4.8-2.2 4.4-2.4-.6 2.6-4.3 2.2-4.7 1.9-5.1 1.6z"/>
<path class="ai" d="M1259.2 579.2l3-5.5 1.2-2.9-.5-3.6z"/>
<path class="ah" d="M1262.4 563.1l.5-7 0-30.7z"/>
<path class="ad" d="M1265.4 551.2l0-7.9-2.1-1.4-.1 7.1z"/>
<path class="s" d="M1278.3 538.5l2.7 1.6 5.2 2.7-4.2 .9-6.4-4.8z"/>
<path class="n" d="M1314.7 502.9l3.2-3.7 2.9-3.8 2.4-4.1 3.7 1.8-2.5 4.1-3 3.8-3.5 3.6z"/>
<path class="s" d="M1281 538l3.1 1.5 6 2.2-3.9 1.1-5.2-2.7-2.7-1.6z"/>
<path class="j" d="M1299.8 475.5l.2-3.9-.1-4-.5-4.1 6.3-1 .6 4.2 .1 4.3-.2 4.2z"/>
<path class="h" d="M1292.7 465.2l-.7-3.8-1-3.8-1.3-3.8 5.9-2.5 1.7 4.1 1.2 4.1 .9 4z"/>
<path class="p" d="M1312 522.9l5.1-2.1 4.8-2.3 4.3-2.7 .1 2.6-4.4 2.4-4.8 2.2-5.1 1.8z"/>
<path class="s" d="M1283.4 537.4l3.6 1.3 6.9 1.7-3.8 1.3-6-2.2-3.1-1.5z"/>
<path class="ah" d="M1263.4 570.8l1.1-2.9 1.7-5.8-1.7-2.9-1.6 8z"/>
<path class="p" d="M1264 545.8l-1.1-20.4z"/>
<path class="t" d="M1095.1 593l5.3 3.7 5.9 3.5 6.5 3.1 4 1.3 8.4 2.4-5.9-2.5-5.4-2.9-4.9-3.2-9.4-3.5z"/>
<path class="af" d="M1262.9 556.1l.3-7.1-.3-23.6z"/>
<path class="ac" d="M1231.5 604.7l6.7-3.9 5.2-3.6 4.1-2.9-2.3 2.2-4.7 4.1z"/>
<path class="s" d="M1285.7 536.7l4 1.1 3.9 .7 3.7 .5-3.4 1.4-6.9-1.7-3.6-1.3z"/>
<path class="d" d="M1279.2 446.6l-1.9-3.4-2.2-3.4-2.4-3.2 2.7-4.9 3.1 3.5 2.9 3.6 2.5 3.7z"/>
<path class="q" d="M1031 528.6l4 7.2 4.9 7 5.9 6.7 1 2.7 1.3 2.8 1.4 2.7-5.7-6.3-4.9-6.7-5.5-10-1.3-3.1z"/>
<path class="v" d="M1153.5 612.3l5.1 1.2 5.4 .9 5.7 .7 13.3-.1-4.9-.1-4.6-.4-4.4-.7z"/>
<path class="af" d="M1266.2 562.1l.6-2.9 .7-5.9-2.1-2.1-.9 8z"/>
<path class="p" d="M1311.6 521l5-2.3 4.7-2.5 4.4-2.9 .5 2.5-4.3 2.7-4.8 2.3-5.1 2.1z"/>
<path class="s" d="M1287.8 535.9l4.3 .8 4.3 .6 4.1 .2-3.2 1.5-3.7-.5-3.9-.7-4-1.1z"/>
<path class="ab" d="M1265.4 543.3l-.7-7.9-1.5-.6 .1 7.1z"/>
<path class="u" d="M1264.7 532.5l2 6.8-3.1-.2-.4-6.8z"/>
<path class="n" d="M1311 501.3l3-3.6 2.7-3.9 2.2-4 4.3 1.5-2.4 4.1-2.9 3.8-3.2 3.7z"/>
<path class="e" d="M1242.5 411.2l-8.2-4.3-15-7.3 5.5 1.8 5.5 1.9 5.3 2.2z"/>
<path class="u" d="M1266.2 532.7l3.5 6.6-3 0-2-6.8z"/>
<path class="ad" d="M1263.2 549l.1-7.1-.4-16.5z"/>
<path class="s" d="M1289.7 535l4.6 .6 4.6 .3 4.4 0-2.8 1.6-4.1-.2-4.3-.6-4.3-.8z"/>
<path class="ad" d="M1267.5 553.3l.2-3-.2-5.8-2.1-1.2 0 7.9z"/>
<path class="s" d="M1263.6 539.1l-.7-13.7z"/>
<path class="i" d="M1202.6 395.6l-11-1.7-17.5-2.1-5.8-.5 6.6 0 6.7 .4 6.8 .5 9.4 2.1z"/>
<path class="l" d="M1303.3 487.1l1.3-3.9 1-4 .6-4 6 0-.7 4.3-1.1 4.1-1.5 4.1z"/>
<path class="p" d="M1310.7 519.1l4.9-2.4 4.7-2.7 4.2-3.1 .5 .8 .7 1.6-4.4 2.9-4.7 2.5-5 2.3z"/>
<path class="o" d="M1054.9 443.3l.9 8.1 1.8 8 2.7 7.8-3.6 2.5-6.6 5.4-2.8-8-1.9-8.1-.8-8.3 6.7-5z"/>
<path class="u" d="M1267.6 532.8l5.1 6.3-3 .2-3.5-6.6z"/>
<path class="s" d="M1291.3 534.1l5 .3 4.8 .1 4.6-.3-2.4 1.7-4.4 0-4.6-.3-4.6-.6z"/>
<path class="m" d="M1116.2 400.5l-1.5 6.9-.6 6.9 0 6.9-5.9 1.3-11.3 3 0-7.3 .8-7.4 1.6-7.4 11.1-2.1z"/>
<path class="u" d="M1269 532.8l2.1 2.2 4.5 3.9-2.9 .2-5.1-6.3z"/>
<path class="k" d="M1168.3 391.3l-6.5 .2-6.2 .4-1.6 5.9-6.6 .1-13 .7 1.9-6.5 7.4-1 7.6-.7 11.2 .5z"/>
<path class="ab" d="M1267.5 544.5l-.3-2.9-1-5.6-1.5-.6 .7 7.9z"/>
<path class="u" d="M1270.3 532.7l2.6 2.1 5.4 3.7-2.7 .4-4.5-3.9-2.1-2.2z"/>
<path class="s" d="M1292.7 533l5.2 .1 5-.2 4.9-.5-2.1 1.8-4.6 .3-4.8-.1-5-.3z"/>
<path class="ab" d="M1263.3 541.9l-.4-16.5z"/>
<path class="p" d="M1309.4 517.3l4.8-2.6 4.5-2.9 4.2-3.1 1.6 2.2-4.2 3.1-4.7 2.7-4.9 2.4z"/>
<path class="ae" d="M1241.4 598.6l6.2-4.7 2.8-2.5 3.4-4.3-2 2.5-4.3 4.7z"/>
<path class="f" d="M1283.6 456.9l-1.3-3.5-1.4-3.4-1.7-3.4 4.7-4.1 2.3 3.7 1.9 3.8 1.6 3.8z"/>
<path class="n" d="M1306.9 500l2.8-3.7 2.4-3.8 2.1-3.9 4.7 1.2-2.2 4-2.7 3.9-3 3.6z"/>
<path class="u" d="M1263.2 532.3l-.3-6.9z"/>
<path class="u" d="M1271.6 532.6l3.1 2 6.3 3.4-2.7 .5-5.4-3.7-2.6-2.1z"/>
<path class="z" d="M1264.7 535.4l-1.3-7.5-.4-.2 .2 7.1z"/>
<path class="s" d="M1293.8 531.9l5.4-.1 5.2-.5 5.1-.7-1.7 1.8-4.9 .5-5 .2-5.2-.1z"/>
<path class="u" d="M1272.7 532.4l3.6 1.9 3.6 1.7 3.5 1.4-2.4 .6-6.3-3.4-3.1-2z"/>
<path class="aa" d="M1209.7 612.1l8.7-2.5 7.3-2.6 5.8-2.3-3.4 1.7-6.8 3z"/>
<path class="z" d="M1266.2 536l-.7-2.7-1.7-5.3-.4-.1 1.3 7.5z"/>
<path class="w" d="M1262.9 525.4l1.8 7.1-1.5-.2z"/>
<path class="p" d="M1307.6 515.5l4.7-2.7 4.3-3 4-3.2 2.3 2.1-4.2 3.1-4.5 2.9-4.8 2.6z"/>
<path class="ab" d="M1269.6 545.6l-.5-3.1-1.5-6-1.4-.5 1 5.6 .3 2.9z"/>
<path class="z" d="M1263.2 534.8l-.3-9.4z"/>
<path class="s" d="M1294.7 530.7l5.5-.3 5.4-.7 5.2-1-1.3 1.9-5.1 .7-5.2 .5-5.4 .1z"/>
<path class="w" d="M1262.9 525.4l3.3 7.3-1.5-.2z"/>
<path class="ad" d="M1269.7 555.1l.1-3.2 0-3.2-.2-3.1-2.1-1.1 .2 5.8-.2 3z"/>
<path class="j" d="M1293 476.4l.2-3.7-.1-3.8-.4-3.7 6.7-1.7 .5 4.1 .1 4-.2 3.9z"/>
<path class="u" d="M1273.8 532.2l4 1.7 3.9 1.6 4 1.2-2.3 .7-3.5-1.4-3.6-1.7-3.6-1.9z"/>
<path class="y" d="M1183 615l5 0 5.2-.4 5.2-.6 11.3-1.9-4.4 .9-8.4 1.2z"/>
<path class="w" d="M1262.9 525.4l1.5 2.6 3.2 4.8-1.4-.1z"/>
<path class="r" d="M1029 519.3l4 7.5 5 7.3 6 6.9 .3 2.8 .7 2.8 .8 2.9-5.9-6.7-4.9-7-4-7.2-.9-3.1-.6-3.1z"/>
<path class="z" d="M1267.6 536.5l-2.1-5.7-1.2-2.7-.5-.1 1.7 5.3 .7 2.7z"/>
<path class="ag" d="M1250.4 591.4l5.3-5.4 2.3-2.9 1.2-3.9-3.4 5.3z"/>
<path class="w" d="M1262.9 525.4l1.9 2.6 4.2 4.8-1.4 0-3.2-4.8z"/>
<path class="af" d="M1267.8 564.7l.9-3.2 .6-3.2 .4-3.2-2.2-1.8-.7 5.9-.6 2.9z"/>
<path class="w" d="M1262.9 525.4l.3 6.9z"/>
<path class="t" d="M1082.7 586.9l5.7 4.3 6.3 4 6.9 3.6 3.6 1.5 7.6 3-6.5-3.1-5.9-3.5-5.3-3.7-8.4-4z"/>
<path class="w" d="M1262.9 525.4l2.3 2.6 5.1 4.7-1.3 .1-4.2-4.8z"/>
<path class="u" d="M1274.8 531.9l4.3 1.6 4.4 1.4 4.3 1-2.1 .8-4-1.2-3.9-1.6-4-1.7z"/>
<path class="l" d="M1297.3 486.9l1.1-3.7 .9-3.8 .5-3.9 6.4-.3-.6 4-1 4-1.3 3.9z"/>
<path class="s" d="M1295.2 529.4l5.6-.5 5.5-.9 5.3-1.3-.8 2-5.2 1-5.4 .7-5.5 .3z"/>
<path class="x" d="M1263.4 527.9l-.5-2.5 .1 2.3z"/>
<path class="ah" d="M1263.9 574.1l1.5-3.1 1.3-3.2 1.1-3.1-1.6-2.6-1.7 5.8-1.1 2.9z"/>
<path class="x" d="M1263.8 528l-.9-2.6 .5 2.5z"/>
<path class="w" d="M1262.9 525.4l2.7 2.6 2.9 2.4 3.1 2.2-1.3 .1-5.1-4.7z"/>
<path class="ai" d="M1258 583.1l2.2-2.9 2-3 1.7-3.1-.5-3.3-1.2 2.9-3 5.5z"/>
<path class="z" d="M1269.1 536.9l-1.3-3-1.5-3-1.6-2.8-.4 0 2.4 5.5 .9 2.9z"/>
<path class="n" d="M1302.4 498.8l2.5-3.5 2.2-3.7 1.8-3.9 5.3 .9-2.1 3.9-2.4 3.8-2.8 3.7z"/>
<path class="x" d="M1263 527.7l-.1-2.3z"/>
<path class="x" d="M1264.3 528.1l-1.4-2.7 .9 2.6z"/>
<path class="p" d="M1305.5 513.8l4.4-2.7 4.2-3.1 3.8-3.4 2.7 2-4 3.2-4.3 3-4.7 2.7z"/>
<path class="x" d="M1264.7 528.1l-1.8-2.7 1.4 2.7z"/>
<path class="w" d="M1262.9 525.4l3.1 2.6 3.3 2.3 3.4 2.1-1.1 .2-3.1-2.2-2.9-2.4z"/>
<path class="x" d="M1265.1 528.1l-2.2-2.7 1.8 2.7z"/>
<path class="u" d="M1275.7 531.5l4.6 1.5 4.7 1.2 4.7 .8-1.9 .9-4.3-1-4.4-1.4-4.3-1.6z"/>
<path class="x" d="M1265.4 528.2l-2.5-2.8 2.2 2.7z"/>
<path class="w" d="M1262.9 525.4l3.4 2.5 3.7 2.3 3.8 2-1.1 .2-3.4-2.1-3.3-2.3z"/>
<path class="x" d="M1265.8 528.1l-2.9-2.7 2.5 2.8z"/>
<path class="ab" d="M1271.6 546.5l-.6-3.3-.9-3.2-1-3.1-1.5-.4 1.5 6 .5 3.1z"/>
<path class="s" d="M1295.5 528.2l5.7-.8 5.5-1.1 5.3-1.5-.4 1.9-5.3 1.3-5.5 .9-5.6 .5z"/>
<path class="x" d="M1266.1 528.1l-3.2-2.7 2.9 2.7z"/>
<path class="z" d="M1270.4 537.2l-1.5-3.2-1.8-3-2-2.9-.4 0 1.6 2.8 1.5 3 1.3 3z"/>
<path class="w" d="M1262.9 525.4l3.8 2.4 4 2.2 4.1 1.9-1 .3-3.8-2-3.7-2.3z"/>
<path class="x" d="M1266.4 528l-3.5-2.6 3.2 2.7z"/>
<path class="w" d="M1262.9 525.4l.4-2.1-.2-.1z"/>
<path class="x" d="M1266.7 528l-3.8-2.6 3.5 2.6z"/>
<path class="u" d="M1276.5 531.1l4.9 1.3 5 1 4.9 .7-1.6 .9-4.7-.8-4.7-1.2-4.6-1.5z"/>
<path class="x" d="M1266.9 527.9l-4-2.5 3.8 2.6z"/>
<path class="w" d="M1262.9 525.4l4 2.3 4.4 2 4.4 1.8-.9 .4-4.1-1.9-4-2.2z"/>
<path class="x" d="M1263.3 523.3l-.4 2.1 .9-2z"/>
<path class="x" d="M1267.1 527.7l-4.2-2.3 4 2.5z"/>
<path class="h" d="M1285.8 467.3l-.5-3.4-.8-3.5-.9-3.5 6.1-3.1 1.3 3.8 1 3.8 .7 3.8z"/>
<path class="x" d="M1263.8 523.4l-.9 2 1.3-1.8z"/>
<path class="x" d="M1267.3 527.6l-4.4-2.2 4.2 2.3z"/>
<path class="g" d="M1230.1 405l-4.2-1.8-8.5-3.1-5-1.7-9.8-2.8 11.1 2.5 5.6 1.5z"/>
<path class="x" d="M1264.2 523.6l-1.3 1.8 1.7-1.6z"/>
<path class="x" d="M1267.4 527.4l-4.5-2 4.4 2.2z"/>
<path class="w" d="M1262.9 525.4l4.3 2.2 4.6 1.9 4.7 1.6-.8 .4-4.4-1.8-4.4-2z"/>
<path class="x" d="M1264.6 523.8l-1.7 1.6 2.1-1.3z"/>
<path class="x" d="M1267.5 527.2l-4.6-1.8 4.5 2z"/>
<path class="x" d="M1265 524.1l-2.1 1.3 2.5-1.1z"/>
<path class="v" d="M1138.9 610.1l5.7 1.7 6.1 1.4 6.4 1.1 12.6 .8-5.7-.7-5.4-.9-5.1-1.2-9.9-1.4z"/>
<path class="x" d="M1267.5 527l-4.6-1.6 4.6 1.8z"/>
<path class="z" d="M1271.7 537.4l-1.8-3.3-2.1-3-2.4-2.9-.3-.1 2 2.9 1.8 3 1.5 3.2z"/>
<path class="p" d="M1303 512.3l4.2-2.9 3.9-3.1 3.6-3.4 3.2 1.7-3.8 3.4-4.2 3.1-4.4 2.7z"/>
<path class="s" d="M1295.5 526.9l5.6-1 5.6-1.3 5.3-1.7 0 1.9-5.3 1.5-5.5 1.1-5.7 .8z"/>
<path class="x" d="M1265.4 524.3l-2.5 1.1 2.8-.9z"/>
<path class="x" d="M1267.5 526.8l-4.6-1.4 4.6 1.6z"/>
<path class="x" d="M1265.7 524.5l-2.8 .9 3.2-.6z"/>
<path class="w" d="M1262.9 525.4l4.5 2 4.8 1.8 5 1.4-.7 .5-4.7-1.6-4.6-1.9z"/>
<path class="x" d="M1267.4 526.6l-4.5-1.2 4.6 1.4z"/>
<path class="x" d="M1266.1 524.8l-3.2 .6 3.5-.4z"/>
<path class="x" d="M1267.4 526.3l-4.5-.9 4.5 1.2z"/>
<path class="u" d="M1277.2 530.6l5.1 1.1 5.2 .8 5.2 .5-1.4 1.1-4.9-.7-5-1-4.9-1.3z"/>
<path class="x" d="M1266.4 525l-3.5 .4 3.7-.1z"/>
<path class="w" d="M1262.9 525.4l.6-6.8 1 .2z"/>
<path class="x" d="M1267.2 526.1l-4.3-.7 4.5 .9z"/>
<path class="x" d="M1266.6 525.3l-3.7 .1 4 .2z"/>
<path class="x" d="M1267.1 525.8l-4.2-.4 4.3 .7z"/>
<path class="x" d="M1266.9 525.6l-4-.2 4.2 .4z"/>
<path class="w" d="M1262.9 525.4l4.7 1.9 4.9 1.6 5.2 1.2-.5 .5-5-1.4-4.8-1.8z"/>
<path class="w" d="M1262.9 525.4l4.8 1.7 5.1 1.4 5.3 1.1-.4 .5-5.2-1.2-4.9-1.6z"/>
<path class="o" d="M1067.2 436.6l.8 7.8 1.7 7.8 2.6 7.5-4.2 2.5-7.8 5-2.7-7.8-1.8-8-.9-8.1 8-4.6z"/>
<path class="ad" d="M1271.8 556.6l.2-3.4-.1-3.4-.3-3.3-2-.9 .2 3.1 0 3.2-.1 3.2z"/>
<path class="z" d="M1272.9 537.4l-2-3.2-2.4-3.1-2.7-3-.4 .1 2.4 2.9 2.1 3 1.8 3.3z"/>
<path class="u" d="M1277.7 530.1l5.3 .9 5.4 .6 5.4 .3-1.1 1.1-5.2-.5-5.2-.8-5.1-1.1z"/>
<path class="w" d="M1262.9 525.4l4.9 1.5 5.2 1.2 5.4 .9-.3 .6-5.3-1.1-5.1-1.4z"/>
<path class="s" d="M1295.2 525.6l5.6-1.2 5.5-1.6 5.3-1.8 .3 1.2 .1 .7-5.3 1.7-5.6 1.3-5.6 1z"/>
<path class="n" d="M1297.5 497.9l2.2-3.4 1.9-3.6 1.7-3.8 5.6 .6-1.8 3.9-2.2 3.7-2.5 3.5z"/>
<path class="w" d="M1262.9 525.4l1.6-6.6 1.4 .4z"/>
<path class="w" d="M1262.9 525.4l4.9 1.3 5.3 1 5.4 .6-.1 .5 0 .2-5.4-.9-5.2-1.2z"/>
<path class="ab" d="M1273.5 547.2l-.7-3.4-1.1-3.4-1.3-3.2-1.3-.3 1 3.1 .9 3.2 .6 3.3z"/>
<path class="w" d="M1262.9 525.4l3-6.2 1.5 .4z"/>
<path class="w" d="M1262.9 525.4l4.9 1.1 5.3 .8 5.4 .4 0 .6-5.4-.6-5.3-1z"/>
<path class="w" d="M1262.9 525.4l.2-2.2 .2 .1 1.2-6.3-1-.5z"/>
<path class="w" d="M1262.9 525.4l4.5-5.8 1.4 .4z"/>
<path class="w" d="M1262.9 525.4l4.9 .9 5.2 .5 5.4 .2 .1 .7-5.4-.4-5.3-.8z"/>
<path class="p" d="M1300.1 510.8l3.9-2.9 3.7-3.2 3.3-3.4 3.7 1.6-3.6 3.4-3.9 3.1-4.2 2.9z"/>
<path class="u" d="M1278.1 529.6l5.5 .7 5.5 .4 5.6 0-.9 1.2-5.4-.3-5.4-.6-5.3-.9z"/>
<path class="z" d="M1274.1 537.4l-2.4-3.3-2.6-3.1-3-2.9-.3 0 2.7 3 2.4 3.1 2 3.2z"/>
<path class="w" d="M1262.9 525.4l5.9-5.4 1.3 .5z"/>
<path class="w" d="M1262.9 525.4l4.8 .6 5.1 .3 5.3 0 .3 .7-5.4-.2-5.2-.5z"/>
<path class="w" d="M1262.9 525.4l7.2-4.9 1.3 .6-3 1.6z"/>
<path class="w" d="M1262.9 525.4l4.7 .4 4.9 .1 5.2-.3 .4 .7-5.3 0-5.1-.3z"/>
<path class="w" d="M1262.9 525.4l5.5-2.7 3-1.6 1.2 .5-3.4 1.5z"/>
<path class="w" d="M1262.9 525.4l4.5 .1 4.7-.1 5-.5 .6 .7-5.2 .3-4.9-.1z"/>
<path class="s" d="M1294.6 524.3l5.5-1.4 5.4-1.8 5.2-2 .9 1.9-5.3 1.8-5.5 1.6-5.6 1.2z"/>
<path class="w" d="M1262.9 525.4l6.3-2.3 3.4-1.5 1.1 .7-3.8 1.2z"/>
<path class="w" d="M1262.9 525.4l4.3-.1 4.5-.4 4.7-.7 .7 .7-5 .5-4.7 .1z"/>
<path class="w" d="M1262.9 525.4l7-1.9 3.8-1.2 1 .6-4.1 1.1-4 .8z"/>
<path class="w" d="M1262.9 525.4l4-.3 4.3-.7 4.4-.8 .8 .6-4.7 .7-4.5 .4z"/>
<path class="w" d="M1262.9 525.4l3.7-.6 4-.8 4.1-1.1 .9 .7-4.4 .8-4.3 .7z"/>
<path class="u" d="M1278.4 529l5.5 .5 5.7 .1 5.6-.2-.5 1.3-5.6 0-5.5-.4-5.5-.7z"/>
<path class="z" d="M1275.1 537.3l-2.5-3.3-2.9-3.1-3.3-2.9-.3 .1 3 2.9 2.6 3.1 2.4 3.3z"/>
<path class="l" d="M1290.9 487l1-3.5 .7-3.5 .4-3.6 6.8-.9-.5 3.9-.9 3.8-1.1 3.7z"/>
<path class="ac" d="M1222.8 608.1l4.3-1.7 4.3-1.9 4.2-2.1 5.8-3.8-3.2 2.2-6.7 3.9z"/>
<path class="s" d="M1293.7 523l5.4-1.6 5.2-1.9 5.1-2.2 1.3 1.8-5.2 2-5.4 1.8-5.5 1.4z"/>
<path class="u" d="M1278.5 528.3l5.6 .3 5.7 0 5.7-.4-.3 1.2-5.6 .2-5.7-.1-5.5-.5z"/>
<path class="r" d="M1029.1 510.1l4.1 7.7 4.9 7.4 6 7.1-.3 2.9 0 2.9 .2 2.9-6-6.9-5-7.3-4-7.5-.2-3.1 .1-3z"/>
<path class="af" d="M1269.4 566.9l1.1-3.5 .8-3.4 .5-3.4-2.1-1.5-.4 3.2-.6 3.2-.9 3.2z"/>
<path class="w" d="M1262.9 525.4l1.3-13.7 2 .2-1.7 6.9-1-.2z"/>
<path class="p" d="M1296.9 509.5l3.6-2.9 3.3-3.2 3.1-3.4 4.1 1.3-3.3 3.4-3.7 3.2-3.9 2.9z"/>
<path class="z" d="M1276 537l-2.7-3.2-3.1-3-3.5-2.8-.3 0 3.3 2.9 2.9 3.1 2.5 3.3z"/>
<path class="ab" d="M1275.3 547.7l-.8-3.5-1.3-3.5-1.5-3.3-1.3-.2 1.3 3.2 1.1 3.4 .7 3.4z"/>
<path class="z" d="M1264.5 517l-1.2 6.3 .5 .1 2.2-5.5z"/>
<path class="u" d="M1278.5 527.7l5.6 .1 5.7-.3 5.7-.6 0 .8 0 .5-5.7 .4-5.7 0-5.6-.3z"/>
<path class="j" d="M1285.9 477.6l.2-3.4-.1-3.4-.2-3.5 6.9-2.1 .4 3.7 .1 3.8-.2 3.7z"/>
<path class="s" d="M1292.6 521.7l5.1-1.8 5.1-2 4.8-2.4 1.8 1.8-5.1 2.2-5.2 1.9-5.4 1.6z"/>
<path class="n" d="M1292.3 497.3l1.9-3.3 1.7-3.5 1.4-3.6 6 .2-1.7 3.8-1.9 3.6-2.2 3.4z"/>
<path class="z" d="M1276.8 536.7l-2.9-3.2-3.3-2.9-3.7-2.7-.2 .1 3.5 2.8 3.1 3 2.7 3.2z"/>
<path class="z" d="M1266 517.9l-2.2 5.5 .4 .2 3.3-4.8z"/>
<path class="t" d="M1071.8 580.3l6 4.8 6.7 4.5 10.4 5.8 6.7 3.4-6.9-3.6-6.3-4-5.7-4.3-7.4-4.3z"/>
<path class="u" d="M1278.4 527l5.5-.1 5.6-.5 5.7-.8 .3 1.3-5.7 .6-5.7 .3-5.6-.1z"/>
<path class="ad" d="M1273.8 557.9l.2-3.6-.1-3.6-.4-3.5-1.9-.7 .3 3.3 .1 3.4-.2 3.4z"/>
<path class="m" d="M1134.4 398.6l-1.2 6.4-.5 6.4 .1 6.4-6.4 1-12.3 2.4 0-6.9 .6-6.9 1.5-6.9 12-1.4z"/>
<path class="z" d="M1277.5 536.2l-3-3-3.5-2.9-3.9-2.6-.2 .2 3.7 2.7 3.3 2.9 2.9 3.2z"/>
<path class="u" d="M1278.1 526.3l5.4-.3 5.5-.7 5.6-1 .6 1.3-5.7 .8-5.6 .5-5.5 .1z"/>
<path class="p" d="M1293.4 508.3l3.2-2.9 3-3.2 2.8-3.4 4.5 1.2-3.1 3.4-3.3 3.2-3.6 2.9z"/>
<path class="s" d="M1291.2 520.4l4.9-1.9 4.8-2.2 4.6-2.5 2.1 1.7-4.8 2.4-5.1 2-5.1 1.8z"/>
<path class="z" d="M1267.5 518.8l-3.3 4.8 .4 .2 4.3-4z"/>
<path class="b" d="M1269.9 442.2l-1.7-2.9-3.9-5.7-.1-6.4 3.1 3 2.8 3.2 2.6 3.2z"/>
<path class="w" d="M1262.9 525.4l.6-8.9 1 .5 .8-6.1-1.4-1z"/>
<path class="u" d="M1277.7 525.6l5.2-.5 5.4-.9 5.4-1.2 .9 1.3-5.6 1-5.5 .7-5.4 .3z"/>
<path class="z" d="M1278.1 535.7l-3.2-3-3.6-2.7-4-2.4-.2 .1 3.9 2.6 3.5 2.9 3 3z"/>
<path class="a" d="M1264.3 433.6l-2.2-2.8-4.7-5.4-3.3-6.7 6.9 5.5 3.2 3z"/>
<path class="z" d="M1268.9 519.8l-4.3 4 .4 .3 5.3-3.3z"/>
<path class="ah" d="M1264.4 577l2-3.3 1.6-3.4 1.4-3.4-1.6-2.2-1.1 3.1-1.3 3.2-1.5 3.1z"/>
<path class="ab" d="M1277.1 548l-1-3.6-1.4-3.6-1.8-3.4-1.2 0 1.5 3.3 1.3 3.5 .8 3.5z"/>
<path class="d" d="M1274.3 451.3l-1.3-3-3.1-6.1 2.8-5.6 2.4 3.2 2.2 3.4 1.9 3.4z"/>
<path class="s" d="M1289.5 519.2l4.6-2 4.5-2.3 4.4-2.6 2.5 1.5-4.6 2.5-4.8 2.2-4.9 1.9z"/>
<path class="u" d="M1277.1 524.9l5.1-.7 5.2-1.1 5.2-1.4 1.1 1.3-5.4 1.2-5.4 .9-5.2 .5z"/>
<path class="u" d="M1264.5 518.8l1.7-6.9 3 .4-3.3 6.9z"/>
<path class="z" d="M1278.5 535l-3.3-2.8-3.7-2.5-4.1-2.3-.1 .2 4 2.4 3.6 2.7 3.2 3z"/>
<path class="w" d="M1262.9 525.4l1.9-20.7 3.1 0-1.7 7.2-2-.2z"/>
<path class="z" d="M1270.3 520.8l-5.3 3.3 .4 .2 6.2-2.4z"/>
<path class="u" d="M1276.4 524.2l4.9-.9 4.9-1.3 5-1.6 1.4 1.3-5.2 1.4-5.2 1.1-5.1 .7z"/>
<path class="u" d="M1265.9 519.2l3.3-6.9 3 .6-4.8 6.7z"/>
<path class="ae" d="M1235.6 602.4l4-2.3 3.8-2.4 3.7-2.6 3.3-3.7-5.8 4.9-3.2 2.3z"/>
<path class="p" d="M1289.7 507.3l2.7-2.9 2.7-3.2 2.4-3.3 4.9 .9-2.8 3.4-3 3.2-3.2 2.9z"/>
<path class="u" d="M1275.6 523.6l4.6-1.2 4.6-1.4 4.7-1.8 1.7 1.2-5 1.6-4.9 1.3-4.9 .9z"/>
<path class="s" d="M1287.6 518.1l4.3-2.2 4.2-2.4 4-2.7 2.9 1.5-4.4 2.6-4.5 2.3-4.6 2z"/>
<path class="u" d="M1267.4 519.6l4.8-6.7 3 .6-6.4 6.5z"/>
<path class="z" d="M1278.8 534.3l-3.3-2.6-3.8-2.4-4.2-2.1-.1 .2 4.1 2.3 3.7 2.5 3.3 2.8z"/>
<path class="z" d="M1271.6 521.9l-6.2 2.4 .3 .2 7.1-1.5z"/>
<path class="u" d="M1274.7 522.9l4.2-1.3 4.4-1.7 4.3-1.8 1.9 1.1-4.7 1.8-4.6 1.4-4.6 1.2z"/>
<path class="u" d="M1268.8 520l6.4-6.5 2.8 .7-2.7 2.3-5.2 4z"/>
<path class="u" d="M1273.7 522.3l7.8-3.3 4-2 2.1 1.1-4.3 1.8-4.4 1.7-4.2 1.3z"/>
<path class="u" d="M1270.1 520.5l5.2-4 2.7-2.3 2.6 .8-3.1 2.2-6.1 3.9z"/>
<path class="u" d="M1272.6 521.6l7-3.5 3.5-2.1 2.4 1-4 2-7.8 3.3z"/>
<path class="u" d="M1271.4 521.1l6.1-3.9 3.1-2.2 2.5 1-3.5 2.1-7 3.5z"/>
<path class="n" d="M1286.9 496.9l1.5-3.2 1.4-3.3 1.1-3.4 6.4-.1-1.4 3.6-1.7 3.5-1.9 3.3z"/>
<path class="z" d="M1278.9 533.5l-3.3-2.4-3.9-2.2-4.2-1.9 0 .2 4.2 2.1 3.8 2.4 3.3 2.6z"/>
<path class="z" d="M1272.8 523l-7.1 1.5 .4 .3 2.9-.4 5-.3z"/>
<path class="f" d="M1277.2 460.7l-1.8-6.3-1.1-3.1 4.9-4.7 1.7 3.4 1.4 3.4 1.3 3.5z"/>
<path class="y" d="M1169.7 615.1l5.8 .3 6.1 .1 6.1-.3 10.7-1.2-5.2 .6-5.2 .4-9.5 .1z"/>
<path class="s" d="M1285.5 517l3.9-2.3 3.8-2.5 3.7-2.7 3.2 1.3-4 2.7-4.2 2.4-4.3 2.2z"/>
<path class="ai" d="M1256.9 586.5l2.8-3.1 2.5-3.2 2.2-3.2-.5-2.9-1.7 3.1-2 3-2.2 2.9z"/>
<path class="z" d="M1278.9 532.6l-3.3-2.2-3.9-1.9-4.2-1.7 0 .2 4.2 1.9 3.9 2.2 3.3 2.4z"/>
<path class="l" d="M1284.3 487.5l1.3-6.5 .3-3.4 7.1-1.2-.4 3.6-.7 3.5-1 3.5z"/>
<path class="z" d="M1274 524.1l-5 .3-2.9 .4 .3 .2 3.2-.1 2.9 .1 2.5 .2z"/>
<path class="aa" d="M1198.4 614l5.3-.8 5.4-1.1 5.3-1.3 8.4-2.7-4.4 1.5-8.7 2.5z"/>
<path class="c" d="M1257.4 425.4l-5-5-9.9-9.2 7.8 4.9 3.8 2.6z"/>
<path class="z" d="M1278.7 531.7l-3.3-2-3.7-1.7-4.3-1.4 .1 .2 4.2 1.7 3.9 1.9 3.3 2.2z"/>
<path class="z" d="M1275 525.2l-2.5-.2-2.9-.1-3.2 .1 .2 .3 3.5 .1 3.1 .4 2.8 .5z"/>
<path class="ag" d="M1247.1 595.1l3.5-2.8 3.3-2.8 3-3 1.1-3.4-2.3 2.9-5.3 5.4z"/>
<path class="ab" d="M1278.7 548.2l-1.1-3.8-1.6-3.5-1.9-3.5-1.2 0 1.8 3.4 1.4 3.6 1 3.6z"/>
<path class="s" d="M1283.1 516l3.5-2.4 3.5-2.5 3.3-2.8 3.5 1.2-3.7 2.7-3.8 2.5-3.9 2.3z"/>
<path class="p" d="M1285.6 506.5l2.4-3 2.3-3 2-3.2 5.2 .6-2.4 3.3-2.7 3.2-2.7 2.9z"/>
<path class="z" d="M1278.5 530.7l-3.3-1.7-3.7-1.5-4.1-1.2 0 .3 4.3 1.4 3.7 1.7 3.3 2z"/>
<path class="z" d="M1276 526.3l-2.8-.5-3.1-.4-3.5-.1 .3 .3 3.7 .4 3.3 .6 2.9 .9z"/>
<path class="z" d="M1278 529.7l-3.1-1.5-3.6-1.2-4.1-.9 .2 .2 4.1 1.2 3.7 1.5 3.3 1.7z"/>
<path class="o" d="M1081.2 430.6l.8 7.6 1.6 7.4 2.5 7.3-4.8 2.2-9 4.6-2.6-7.5-1.7-7.8-.8-7.8 9.1-4.1z"/>
<path class="z" d="M1276.8 527.5l-2.9-.9-3.3-.6-3.7-.4 .2 .2 3.8 .7 3.5 .9 3.1 1.2z"/>
<path class="z" d="M1277.5 528.6l-3.1-1.2-3.5-.9-3.8-.7 .1 .3 4.1 .9 3.6 1.2 3.1 1.5z"/>
<path class="v" d="M1125.2 607l6.4 2.3 6.8 1.9 7.1 1.5 3.8 .6 7.8 1-6.4-1.1-6.1-1.4-5.7-1.7-9.2-2z"/>
<path class="s" d="M1280.6 515l6.1-4.9 3-2.8 3.7 1-3.3 2.8-3.5 2.5-3.5 2.4z"/>
<path class="ad" d="M1275.7 558.8l.2-3.7-.1-3.7-.5-3.7-1.8-.5 .4 3.5 .1 3.6-.2 3.6z"/>
<path class="w" d="M1262.9 525.4l2.5-27.8 4-.4-1.5 7.5-3.1 0z"/>
<path class="q" d="M1031.3 501l4 7.8 5 7.5 5.9 7.2-.9 2.9-.7 3-.5 2.9-6-7.1-4.9-7.4-4.1-7.7 .5-3 .8-3.1z"/>
<path class="k" d="M1186.2 393.3l-10.3-.4-1.2 5.3-7-.3-13.7-.1 1.6-5.9 6.2-.4 6.5-.2 11.8 1.2z"/>
<path class="w" d="M1262.9 525.4l1-15.5 1.4 1 .1-2 .1-4-1.5-1.6z"/>
<path class="s" d="M1278 514.2l5.1-5 2.5-2.7 4.1 .8-3 2.8-6.1 4.9z"/>
<path class="af" d="M1270.9 568.7l1.3-3.6 1-3.6 .6-3.6-2-1.3-.5 3.4-.8 3.4-1.1 3.5z"/>
<path class="h" d="M1278.6 470.1l-.8-6.3-.6-3.1 6.4-3.8 .9 3.5 .8 3.5 .5 3.4z"/>
<path class="s" d="M1275.2 513.5l4.2-5 2-2.7 4.2 .7-2.5 2.7-5.1 5z"/>
<path class="p" d="M1281.4 505.8l3.8-5.8 1.7-3.1 5.4 .4-2 3.2-2.3 3-2.4 3z"/>
<path class="s" d="M1272.2 512.9l4.8-7.7 4.4 .6-2 2.7-4.2 5z"/>
<path class="s" d="M1269.2 512.3l3.3-7.4 4.5 .3-4.8 7.7z"/>
<path class="n" d="M1281.2 496.7l2.2-6 .9-3.2 6.6-.5-1.1 3.4-1.4 3.3-1.5 3.2z"/>
<path class="s" d="M1266.2 511.9l1.7-7.2 4.6 .2-3.3 7.4z"/>
<path class="ab" d="M1280.1 548.1l-1.2-3.8-1.7-3.6-2.1-3.4-1 .1 1.9 3.5 1.6 3.5 1.1 3.8z"/>
<path class="ab" d="M1265.3 510.9l-.8 6.1 1.5 .9 1.1-3.5 .3-1.8z"/>
<path class="i" d="M1217.4 400.1l-4.2-1.3-8.2-2.2-6.3-1.2-12.5-2.1 10.8 1.3 5.6 1 9.8 2.8z"/>
<path class="p" d="M1277 505.2l2.9-5.5 1.3-3 5.7 .2-1.7 3.1-3.8 5.8z"/>
<path class="j" d="M1278.7 479.3l.1-6.1-.2-3.1 7.2-2.8 .2 3.5 .1 3.4-.2 3.4z"/>
<path class="w" d="M1262.9 525.4l3-35 4.6-1-1.1 7.8-4 .4z"/>
<path class="t" d="M1062.6 573.2l6.3 5.3 7 4.8 7.6 4.5 2.6 2 5.7 3.8-7.3-4-6.7-4.5-6-4.8-6.3-4.6z"/>
<path class="p" d="M1272.5 504.9l2.9-8 5.8-.2-1.3 3-2.9 5.5z"/>
<path class="ab" d="M1281.4 547.8l-1.3-3.7-1.8-3.6-2.3-3.5-.9 .3 2.1 3.4 1.7 3.6 1.2 3.8z"/>
<path class="e" d="M1249.7 418l-2.7-2.3-5.6-4.2-11.3-6.5 8.4 4 4 2.2z"/>
<path class="ab" d="M1267.4 512.6l-.3 1.8-1.1 3.5 1.5 .9 1.5-2.9 .5-1.4z"/>
<path class="l" d="M1277.5 488.3l.9-6 .3-3 7.2-1.7-.3 3.4-1.3 6.5z"/>
<path class="ad" d="M1277.5 559.5l.3-3.9-.2-3.8-.5-3.8-1.8-.3 .5 3.7 .1 3.7-.2 3.7z"/>
<path class="n" d="M1275.4 496.9l1.5-5.7 .6-2.9 6.8-.8-.9 3.2-2.2 6z"/>
<path class="w" d="M1262.9 525.4l1.1-22.1 1.5 1.6-.4-5.9-1.1-2.4z"/>
<path class="p" d="M1267.9 504.7l1.5-7.5 6-.3-2.9 8z"/>
<path class="w" d="M1262.9 525.4l3.3-42.3 5-1.7-.7 8-4.6 1z"/>
<path class="ah" d="M1264.9 579.4l2.4-3.5 2-3.6 1.6-3.6-1.5-1.8-1.4 3.4-1.6 3.4-2 3.3z"/>
<path class="ab" d="M1282.6 547.3l-1.4-3.7-1.9-3.5-2.5-3.4-.8 .3 2.3 3.5 1.8 3.6 1.3 3.7z"/>
<path class="ab" d="M1269.5 514.5l-.5 1.4-1.5 2.9 1.4 1 2-2.4 .6-1z"/>
<path class="ac" d="M1214.4 610.8l5.3-1.5 5.1-1.8 5.1-2.1 5.7-3-4.2 2.1-4.3 1.9-4.3 1.7z"/>
<path class="af" d="M1272.4 570.2l1.5-3.8 1.1-3.8 .7-3.8-1.9-.9-.6 3.6-1 3.6-1.3 3.6z"/>
<path class="r" d="M1035.6 492.1l3.9 7.8 4.9 7.6 5.8 7.2-1.6 3-2.4 5.8-5.9-7.2-5-7.5-4-7.8 1.2-3 1.4-3z"/>
<path class="w" d="M1262.9 525.4l3.4-49.7 4.9-2.4 0 8.1-5 1.7z"/>
<path class="n" d="M1269.4 497.2l1.1-7.8 7-1.1-.6 2.9-1.5 5.7z"/>
<path class="o" d="M1096.9 425.5l.8 7.2 1.5 7 2.3 7-5.3 2-10.1 4.2-2.5-7.3-1.6-7.4-.8-7.6 10.2-3.5z"/>
<path class="ab" d="M1283.6 546.6l-1.5-3.6-2-3.5-2.6-3.3-.7 .5 2.5 3.4 1.9 3.5 1.4 3.7z"/>
<path class="ab" d="M1271.5 516.4l-.6 1-2 2.4 1.4 1 2.4-1.7 .7-.7z"/>
<path class="m" d="M1154 397.8l-1 5.9-.4 5.9 .1 5.8-6.7 .7-13.2 1.7-.1-6.4 .5-6.4 1.2-6.4 13-.7z"/>
<path class="ad" d="M1279.2 559.9l.3-4-.2-3.9-.6-3.8-1.6-.2 .5 3.8 .2 3.8-.3 3.9z"/>
<path class="ai" d="M1255.8 589.4l3.4-3.3 3-3.3 2.7-3.4-.5-2.4-2.2 3.2-2.5 3.2-2.8 3.1z"/>
<path class="w" d="M1262.9 525.4l3.2-57.1 4.5-3.3 .6 8.3-4.9 2.4z"/>
<path class="w" d="M1262.9 525.4l1.1-28.8 1.1 2.4-1-6.1-.4-2.9z"/>
<path class="l" d="M1270.5 489.4l.7-8 7.5-2.1-.3 3-.9 6z"/>
<path class="ad" d="M1265.5 504.9l-.2 6 2.1 1.7 .3-3.3 0-1.7z"/>
<path class="v" d="M1112.8 603.3l6.9 2.7 7.4 2.4 11.1 2.8 7.3 1.5-7.1-1.5-6.8-1.9-6.4-2.3-8.4-2.4z"/>
<path class="ab" d="M1284.4 545.8l-1.6-3.6-2.1-3.3-2.6-3.2-.6 .5 2.6 3.3 2 3.5 1.5 3.6z"/>
<path class="ab" d="M1273.4 518.4l-.7 .7-2.4 1.7 1.3 1.1 3.7-1.4z"/>
<path class="y" d="M1157.1 614.3l6.7 .8 6.8 .4 10.3 .1 6.8-.4-6.1 .3-6.1-.1-10.1-.5z"/>
<path class="t" d="M1055.2 565.7l6.4 5.6 7.3 5.3 7.9 4.9 2 2.1 4.7 4.2-7.6-4.5-7-4.8-6.3-5.3-2.7-2.4z"/>
<path class="ae" d="M1229.9 605.4l4.9-2.2 4.6-2.4 4.5-2.6 3.2-3.1-3.7 2.6-3.8 2.4z"/>
<path class="j" d="M1271.2 481.4l0-8.1 7.4-3.2 .2 3.1-.1 6.1z"/>
<path class="ag" d="M1243.9 598.2l4.3-2.8 3.9-2.9 3.7-3.1 1.1-2.9-3 3-3.3 2.8-3.5 2.8z"/>
<path class="g" d="M1241.4 411.5l-8.6-5.7-5.2-2.1-10.2-3.6 8.5 3.1 4.2 1.8z"/>
<path class="ab" d="M1285 544.7l-1.6-3.4-2.2-3.2-2.7-3.1-.4 .7 2.6 3.2 2.1 3.3 1.6 3.6z"/>
<path class="ab" d="M1275.3 520.5l-3.7 1.4 1.2 1.1 4.2-.4z"/>
<path class="h" d="M1271.2 473.3l-.6-8.3 6.6-4.3 .6 3.1 .8 6.3z"/>
<path class="aj" d="M1187.7 615.2l6.2-.5 6.2-.8 6.3-1.1 8-2-5.3 1.3-5.4 1.1-8.9 1.3z"/>
<path class="f" d="M1270.6 465l-1.4-8.2 5.1-5.5 1.1 3.1 1.8 6.3z"/>
<path class="ad" d="M1280.7 560l.3-4.1-.2-3.9-.7-3.9-1.4 .1 .6 3.8 .2 3.9-.3 4z"/>
<path class="ab" d="M1285.4 543.5l-1.6-3.2-2.3-3.1-2.7-2.9-.3 .7 2.7 3.1 2.2 3.2 1.6 3.4z"/>
<path class="ab" d="M1277 522.6l-4.2 .4 1.2 1.1 1.9 .1 1.6 .2 1.1 .3z"/>
<path class="af" d="M1273.8 571.3l1.7-3.9 1.2-4 .8-3.9-1.8-.7-.7 3.8-1.1 3.8-1.5 3.8z"/>
<path class="d" d="M1269.2 456.8l-2.1-8.1 2.8-6.5 3.1 6.1 1.3 3z"/>
<path class="r" d="M1041.8 483.4l3.9 7.8 4.8 7.6 5.7 7.2-2.2 2.9-3.8 5.8-5.8-7.2-4.9-7.6-3.9-7.8 1.8-3 2.1-2.9z"/>
<path class="ad" d="M1267.7 507.6l0 1.7-.3 3.3 2.1 1.9 .4-2.7-.1-1.3z"/>
<path class="ah" d="M1265.4 581.3l2.7-3.6 2.4-3.7 1.9-3.8-1.5-1.5-1.6 3.6-2 3.6-2.4 3.5z"/>
<path class="w" d="M1262.9 525.4l.8-35.4 .4 2.9-1.7-6.2 .9-3.4z"/>
<path class="ab" d="M1285.6 542.1l-1.6-3-2.3-2.9-2.8-2.7-.1 .8 2.7 2.9 2.3 3.1 1.6 3.2z"/>
<path class="ab" d="M1278.6 524.7l-1.1-.3-1.6-.2-1.9-.1 1 1.1 2.2 .4 1.7 .6 1.2 .7z"/>
<path class="b" d="M1267.1 448.7l-2.8-7.9 0-7.2 3.9 5.7 1.7 2.9z"/>
<path class="ab" d="M1285.6 540.6l-1.7-2.9-2.2-2.6-2.8-2.5 0 .9 2.8 2.7 2.3 2.9 1.6 3z"/>
<path class="ab" d="M1280.1 526.9l-1.2-.7-1.7-.6-2.2-.4 1 1.1 2.3 .8 1.8 .9 1.3 1z"/>
<path class="ab" d="M1285.4 538.9l-1.6-2.6-2.3-2.4-2.8-2.2 .2 .9 2.8 2.5 2.2 2.6 1.7 2.9z"/>
<path class="ab" d="M1281.4 529l-1.3-1-1.8-.9-2.3-.8 .8 1.2 2.4 1 2 1.3 1.4 1.3z"/>
<path class="o" d="M1114.1 421.2l.8 6.7 1.4 6.7 2.2 6.5-5.8 1.8-11.2 3.8-2.3-7-1.5-7-.8-7.2 11.3-3z"/>
<path class="ab" d="M1285 537.1l-1.6-2.3-2.2-2.2-2.7-1.9 .2 1 2.8 2.2 2.3 2.4 1.6 2.6z"/>
<path class="ab" d="M1282.6 531.1l-1.4-1.3-2-1.3-2.4-1 .7 1.1 2.5 1.3 2.1 1.6 1.5 1.7z"/>
<path class="ab" d="M1284.4 535.2l-1.6-2-2.1-1.9-2.7-1.6 .5 1 2.7 1.9 2.2 2.2 1.6 2.3z"/>
<path class="ab" d="M1283.6 533.2l-1.5-1.7-2.1-1.6-2.5-1.3 .5 1.1 2.7 1.6 2.1 1.9 1.6 2z"/>
<path class="ad" d="M1282.1 559.7l.3-4-.2-4-.8-3.9-1.3 .3 .7 3.9 .2 3.9-.3 4.1z"/>
<path class="k" d="M1205 396.6l-7.7-1.6-1 4.7-7.3-.7-14.3-.8 1.2-5.3 10.3 .4 12.5 2.1z"/>
<path class="ad" d="M1269.8 510.5l.1 1.3-.4 2.7 2 1.9 .4-1 .1-1-.1-.9z"/>
<path class="a" d="M1264.3 440.8l-6.9-15.4 4.7 5.4 2.2 2.8z"/>
<path class="af" d="M1265.1 499l.4 5.9 2.2 2.7-.5-3.3-.4-1.6z"/>
<path class="t" d="M1049.5 557.7l6.7 6 7.4 5.6 8.1 5.2 1.5 2.4 3.6 4.6-7.9-4.9-7.3-5.3-6.4-5.6-4-5.3z"/>
<path class="w" d="M1262.9 525.4l.4-42.1-.9 3.4-2.2-6.4 2.4-3.8z"/>
<path class="v" d="M1101.6 598.8l7.4 3.2 7.9 2.8 8.3 2.4 3.1 1.1 6.5 2.1-7.7-2-7.4-2.4-10.8-4.2z"/>
<path class="af" d="M1275.1 572l1.9-4.1 1.3-4 .9-4-1.7-.4-.8 3.9-1.2 4-1.7 3.9z"/>
<path class="ai" d="M1254.8 591.7l3.9-3.3 3.5-3.5 3.2-3.6-.5-1.9-2.7 3.4-3 3.3-3.4 3.3z"/>
<path class="q" d="M1050.1 475.1l3.8 7.7 4.6 7.5 5.5 7.2-2.8 2.8-5 5.7-5.7-7.2-4.8-7.6-3.9-7.8 5.3-5.6z"/>
<path class="ac" d="M1206.4 612.8l6.1-1.4 6.1-1.7 5.9-1.9 5.4-2.4-5.1 2.1-5.1 1.8-8 2.3z"/>
<path class="ad" d="M1283.3 559.2l.4-4.1-.3-3.9-.8-3.9-1.2 .5 .8 3.9 .2 4-.3 4z"/>
<path class="m" d="M1174.7 398.2l-.8 5.2-.3 5.3 .1 5.2-7.1 .4-13.9 1.1-.1-5.8 .4-5.9 1-5.9 13.7 .1z"/>
<path class="ad" d="M1271.9 513.5l.1 .9-.1 1-.4 1 1.9 2 .5-.7 .2-.6-.2-.5z"/>
<path class="c" d="M1260.9 433.2l-3.9-7.3-7.3-7.9 5.2 4.9 2.5 2.5z"/>
<path class="i" d="M1232.8 405.8l-8.3-4.8-6.5-1.6-13-2.8 8.2 2.2 4.2 1.3 10.2 3.6z"/>
<path class="y" d="M1145.5 612.7l7.3 1.2 7.6 .8 10.8 .7 6.4 .2-7-.1-6.8-.4-10.7-1.2z"/>
<path class="w" d="M1262.9 525.4l-.3-48.9-2.4 3.8-2.6-6.8 4.2-4z"/>
<path class="ah" d="M1265.9 582.8l3.1-3.8 2.6-3.8 2.2-3.9-1.4-1.1-1.9 3.8-2.4 3.7-2.7 3.6z"/>
<path class="ag" d="M1240.9 600.7l4.9-2.9 4.7-3 4.3-3.1 1-2.3-3.7 3.1-3.9 2.9-4.3 2.8z"/>
<path class="ae" d="M1224.5 607.8l5.7-2.1 5.4-2.4 5.3-2.6 3-2.5-4.5 2.6-4.6 2.4z"/>
<path class="ad" d="M1284.3 558.3l.4-4-.2-3.9-.9-3.8-1 .7 .8 3.9 .3 3.9-.4 4.1z"/>
<path class="af" d="M1266.8 502.7l.4 1.6 .5 3.3 2.1 2.9-.7-2.6z"/>
<path class="o" d="M1132.8 417.8l.7 6.3 1.3 6.2 1.9 6-6.2 1.6-12 3.2-2.2-6.5-1.4-6.7-.8-6.7 12.3-2.4z"/>
<path class="ad" d="M1273.9 516.6l.2 .5-.2 .6-.5 .7 1.9 2.1 .7-.6z"/>
<path class="aa" d="M1177.6 615.6l7-.2 7.1-.6 9.6-1.1 5.1-.9-6.3 1.1-6.2 .8-9.6 .7z"/>
<path class="t" d="M1045.8 549.5l6.7 6.3 7.6 5.9 8.2 5.5 1 2.5 2.4 4.8-8.1-5.2-7.4-5.6-6.7-6-1.4-2.7-1.3-2.8z"/>
<path class="af" d="M1276.3 572.2l2-4.1 1.5-4.1 .9-4-1.5-.1-.9 4-1.3 4-1.9 4.1z"/>
<path class="w" d="M1262.9 525.4l-1.1-55.9-4.2 4-2.9-7.1 6.3-3.9z"/>
<path class="q" d="M1060.3 467.2l3.6 7.5 4.5 7.4 5.3 7.1-3.5 2.7-6.2 5.6-5.5-7.2-4.6-7.5-3.8-7.7 6.6-5.4z"/>
<path class="ah" d="M1264.1 492.9l1 6.1 1.7 3.7-.6-1.7-1.6-3.4z"/>
<path class="e" d="M1257 425.9l-4.1-6.9-11.5-7.5 5.6 4.2 2.7 2.3z"/>
<path class="ad" d="M1285.2 557.2l.4-3.9-.3-3.8-.9-3.7-.8 .8 .9 3.8 .2 3.9-.4 4z"/>
<path class="ad" d="M1275.9 519.7l.1 .2-.7 .6 1.7 2.1 .9 .2-.2 .2z"/>
<path class="v" d="M1091.8 593.6l7.9 3.7 8.3 3.2 8.8 2.8 2.7 1.4 5.7 2.5-8.3-2.4-7.9-2.8-7.4-3.2-3.4-1.7z"/>
<path class="w" d="M1262.9 525.4l-1.9-62.9-6.3 3.9-3-7.5 8.3-3.6z"/>
<path class="ad" d="M1285.8 555.7l.4-3.7-.3-3.7-.9-3.6-.6 1.1 .9 3.7 .3 3.8-.4 3.9z"/>
<path class="af" d="M1268.4 506.6l1.2 2.6 .2 1.3 2.1 3-.4-1-.6-.9-.9-.9z"/>
<path class="ai" d="M1253.8 593.4l4.4-3.4 4.1-3.5 3.6-3.7-.5-1.5-3.2 3.6-3.5 3.5-3.9 3.3z"/>
<path class="ad" d="M1277.7 523l.2-.2-.2-.1-.7-.1 1.6 2.1 .7 .5 .3 .5-.3 .6z"/>
<path class="ah" d="M1266.3 583.7l3.5-3.8 2.9-3.9 2.4-4-1.3-.7-2.2 3.9-2.6 3.8-3.1 3.8z"/>
<path class="af" d="M1277.4 572.1l2.2-4.1 1.5-4.2 1-4.1-1.4 .3-.9 4-1.5 4.1-2 4.1z"/>
<path class="q" d="M1072.3 459.7l3.5 7.4 4.2 7.2 5 6.8-3.9 2.7-7.4 5.4-5.3-7.1-4.5-7.4-3.6-7.5 7.8-5z"/>
<path class="w" d="M1262.9 525.4l-2.9-70.1-8.3 3.6-3-7.9 10.4-3.1z"/>
<path class="ad" d="M1286.3 554l.4-3.6-.3-3.5-1-3.4-.4 1.2 .9 3.6 .3 3.7-.4 3.7z"/>
<path class="t" d="M1044 541l6.8 6.5 7.6 6.2 8.3 5.7 .4 2.6 1.2 5.2-8.2-5.5-7.6-5.9-6.7-6.3-.8-2.9-.7-2.8z"/>
<path class="o" d="M1152.7 415.4l.7 5.7 1.1 5.7 1.7 5.5-6.6 1.3-12.9 2.7-1.9-6-1.3-6.2-.7-6.3 13.2-1.7z"/>
<path class="ad" d="M1279.3 526.3l.3-.6-.3-.5-.7-.5 1.5 2.2 .8 .8 .2 .9-.2 .9z"/>
<path class="m" d="M1196.3 399.7l-.5 4.6-.2 4.6 .1 4.6-7.4 0-14.6 .4-.1-5.2 .3-5.3 .8-5.2 14.3 .8z"/>
<path class="g" d="M1252.9 419l-4.2-6.4-15.9-6.8z"/>
<path class="y" d="M1134.8 610.4l8 1.6 8.3 1.2 8.5 .8 2.7 .5 5.9 .7-7.8-.5-7.6-.8-11-1.9z"/>
<path class="ac" d="M1198.8 614l7-1.2 6.8-1.5 8.4-2.3 3.5-1.2-5.9 1.9-6.1 1.7-6.1 1.4z"/>
<path class="w" d="M1262.9 525.4l2.1-116.8 .8 52.2 3.4-4 1.4 8.2-4.5 3.3z"/>
<path class="ad" d="M1286.5 552.1l.4-3.5-.3-3.3-1-3.2-.2 1.4 1 3.4 .3 3.5-.4 3.6z"/>
<path class="w" d="M1262.9 525.4l-3.8-77.5-10.4 3.1-2.7-8.3 12.3-2.3z"/>
<path class="k" d="M1224.5 401l-5.2-2.6-.6 3.9-7.5-1-14.9-1.6 1-4.7 14.2 2.9z"/>
<path class="ah" d="M1264.6 497.6l1.6 3.4 2.2 5.6-.9-1.4-2.4-2.7z"/>
<path class="ad" d="M1280.9 529.5l.2-.9-.2-.9-.8-.8 2.2 3.3 .2 1.2-.3 1.4z"/>
<path class="ai" d="M1262.4 486.7l1.7 6.2 .5 4.7-3.4-5.4z"/>
<path class="af" d="M1270 510.7l.9 .9 .6 .9 .4 1 2 3.1-.4-.6-2-1.1z"/>
<path class="ag" d="M1238 602.5l5.6-2.8 5.3-3.1 4.9-3.2 1-1.7-4.3 3.1-4.7 3z"/>
<path class="ad" d="M1286.5 549.8l.4-3.1-.3-3.2-1-2.9 0 1.5 1 3.2 .3 3.3-.4 3.5z"/>
<path class="ad" d="M1282.2 532.8l.3-1.4-.2-1.2-.9-1.2 2.1 3.6 .3 1.7-.4 1.6z"/>
<path class="w" d="M1262.9 525.4l-4.6-85-12.3 2.3-2.3-8.8 13.9-1.1z"/>
<path class="ae" d="M1219.3 609.5l6.5-2.1 6.3-2.3 5.9-2.6 2.9-1.8-5.3 2.6-5.4 2.4-7.5 2.8z"/>
<path class="af" d="M1278.3 571.5l2.3-4.1 1.7-4.1 1-4.1-1.2 .5-1 4.1-1.5 4.2-2.2 4.1z"/>
<path class="ad" d="M1286.3 547.4l.4-2.9-.3-2.9-1-2.7 .2 1.7 1 2.9 .3 3.2-.4 3.1z"/>
<path class="ad" d="M1283.4 535.9l.4-1.6-.3-1.7-.9-1.5 1.9 3.9 .3 2-.3 2z"/>
<path class="r" d="M1086.1 452.9l3.3 7.1 4 6.9 4.6 6.6-4.5 2.5-8.5 5.1-5-6.8-4.2-7.2-3.5-7.4 9-4.6z"/>
<path class="aa" d="M1168.2 615.2l7.8 .1 7.9-.3 14.9-1-7.1 .8-7.1 .6-7 .2z"/>
<path class="w" d="M1262.9 525.4l-5.3-92.6-13.9 1.1-1.5-9 15 .1z"/>
<path class="ad" d="M1285.9 544.8l.4-2.7-.4-2.6-.9-2.4 .4 1.8 1 2.7 .3 2.9-.4 2.9z"/>
<path class="ad" d="M1284.5 539l.3-2-.3-2-.9-1.8 1.7 4.1 .3 2.3-.3 2.4z"/>
<path class="ad" d="M1285.3 542l.3-2.4-.3-2.3-.9-2.1 1.5 4.3 .4 2.6-.4 2.7z"/>
<path class="v" d="M1083.5 587.8l8.2 4.1 8.8 3.6 9.2 3.2 2.3 1.6 4.8 3-8.8-2.8-8.3-3.2-7.9-3.7-5.7-3.8z"/>
<path class="ah" d="M1266.7 584.2l3.8-3.9 3.2-4 2.6-4.1-1.2-.2-2.4 4-2.9 3.9-3.5 3.8z"/>
<path class="w" d="M1262.9 525.4l-5.7-100.4-15-.1-.6-6.2-.2-3.1 15.6 1.6z"/>
<path class="t" d="M1044.1 532.3l6.8 6.7 7.6 6.4 8.4 5.9-.3 2.7 .1 5.4-8.3-5.7-7.6-6.2-6.8-6.5-.2-2.9 0-2.9z"/>
<path class="w" d="M1262.9 525.4l-5.9-108.2-15.6-1.6 .1-6.3 .2-3.2 15.5 3.1z"/>
<path class="o" d="M1173.7 413.9l.6 5.2 1 5.1 1.3 5-6.9 .9-13.5 2.2-1.7-5.5-1.1-5.7-.7-5.7 13.9-1.1z"/>
<path class="ai" d="M1252.9 594.5l4.9-3.4 4.5-3.6 4-3.8-.4-.9-3.6 3.7-4.1 3.5-4.4 3.4z"/>
<path class="af" d="M1271.5 514.9l2 1.1 .4 .6 2 3.1-2.9-.5z"/>
<path class="af" d="M1279.1 570.5l2.5-4.1 1.7-4 1-4.1-1 .9-1 4.1-1.7 4.1-2.3 4.1z"/>
<path class="i" d="M1248.7 412.6l-4.1-6-6.8-2-13.3-3.6 8.3 4.8z"/>
<path class="ag" d="M1260.2 480.3l2.2 6.4-1.2 5.5-4.5-5.8z"/>
<path class="ah" d="M1265.1 502.5l2.4 2.7 .9 1.4 1.6 4.1-1.2-1-3.3-2z"/>
<path class="r" d="M1101.5 446.7l3.1 6.7 3.6 6.6 4.3 6.3-5 2.4-9.5 4.8-4.6-6.6-4-6.9-3.3-7.1 10.1-4.2z"/>
<path class="m" d="M1265 408.6l.1 44.8 2-4.7 2.1 8.1-3.4 4z"/>
<path class="ai" d="M1261.2 492.2l3.4 5.4 .5 4.9-5.2-4.5z"/>
<path class="y" d="M1125.2 607.2l8.7 2 8.8 1.6 9.1 1.1 2.5 .8 5.3 1.3-8.5-.8-8.3-1.2-8-1.6-6.5-2.1z"/>
<path class="af" d="M1273 519.2l2.9 .5 1.8 3.3-3.4 .6z"/>
<path class="m" d="M1218.7 402.3l-.3 3.9-.2 3.9 .1 3.9-7.6-.3-15-.2-.1-4.6 .2-4.6 .5-4.6 14.9 1.6z"/>
<path class="t" d="M1046.2 523.5l6.7 6.9 7.6 6.4 8.3 6.1-.9 2.8-1 5.6-8.4-5.9-7.6-6.4-6.8-6.7 .5-2.9 .7-3z"/>
<path class="m" d="M1265 408.6l-.7 37.5 0-5.3 2.8 7.9-2 4.7z"/>
<path class="ah" d="M1267.1 584.1l4-3.9 3.5-4 2.8-4.1-1.1 .1-2.6 4.1-3.2 4-3.8 3.9z"/>
<path class="af" d="M1279.8 569.1l2.5-4 1.8-4 1.1-3.9-.9 1.1-1 4.1-1.7 4-2.5 4.1z"/>
<path class="ac" d="M1191.7 614.4l7.8-1 7.6-1.4 12.2-2.5-6.7 1.8-6.8 1.5-7 1.2z"/>
<path class="r" d="M1118.5 441.1l2.7 6.4 3.3 6.2 3.9 6-5.4 2.1-10.5 4.5-4.3-6.3-3.6-6.6-3.1-6.7 11.2-3.8z"/>
<path class="ag" d="M1235.4 603.6l6.2-2.8 5.9-3 5.4-3.3 .9-1.1-4.9 3.2-5.3 3.1-6.5 3.2z"/>
<path class="v" d="M1076.8 581.5l8.5 4.4 9.1 4 9.6 3.5 1.7 1.9 4 3.4-9.2-3.2-8.8-3.6-8.2-4.1-4.7-4.2z"/>
<path class="o" d="M1195.7 413.5l.4 4.5 .8 4.4 1 4.4-7.2 .7-14.1 1.7-1.3-5-1-5.1-.6-5.2 14.6-.4z"/>
<path class="m" d="M1265 408.6l-1.8 30.2-2.3-5.6 3.4 7.6 0 5.3z"/>
<path class="ae" d="M1257.6 473.5l2.6 6.8-3.5 6.1-5.4-6.5z"/>
<path class="af" d="M1274.3 523.6l3.4-.6 1.6 3.3-.7 .6-1.2 .6-1.8 .6z"/>
<path class="ae" d="M1214.6 610.4l7.2-2 6.9-2.2 7.5-2.9 1.8-.8-5.9 2.6-6.3 2.3-6.5 2.1z"/>
<path class="ah" d="M1265.5 507.7l3.3 2 1.2 1 1.5 4.2-5.5-1.9z"/>
<path class="aa" d="M1159.6 614l8.5 .4 8.6 0 8.6-.4 6.4 .4-7.8 .6-7.9 .3-7.8-.1-5.9-.7z"/>
<path class="ai" d="M1252.1 595l5.4-3.4 4.9-3.6 4.3-3.8-.4-.5-4 3.8-4.5 3.6z"/>
<path class="af" d="M1280.3 567.3l2.6-3.9 1.8-3.8 1.1-3.9-.6 1.5-1.1 3.9-1.8 4-2.5 4z"/>
<path class="r" d="M1136.7 436.3l2.5 6 2.9 5.7 3.5 5.6-5.9 2-11.3 4.1-3.9-6-3.3-6.2-2.7-6.4 12-3.2z"/>
<path class="t" d="M1050.2 514.7l6.7 7 7.4 6.5 8.2 6.2-1.5 2.8-2.2 5.7-8.3-6.1-7.6-6.4-6.7-6.9 2.4-5.8z"/>
<path class="k" d="M1244.6 406.6l-2.6-3.7-.3 3.2-7.7-1.4-15.3-2.4 .6-3.9 5.2 2.6 13.3 3.6z"/>
<path class="m" d="M1265 408.6l-3 23.1-5-5.8 3.9 7.3 2.3 5.6z"/>
<path class="af" d="M1275.6 528.1l1.8-.6 1.2-.6 .7-.6 1.6 3.2-.8 1-1.4 1-2 1z"/>
<path class="ah" d="M1267.4 583.4l4.3-3.9 3.6-3.9 3-4.1-.9 .6-2.8 4.1-3.5 4-4 3.9z"/>
<path class="m" d="M1265 408.6l-2.1 116.8-5.7-116.2-15.5-3.1 .3-3.2 2.6 3.7 13.5 4.4z"/>
<path class="ag" d="M1256.7 486.4l4.5 5.8-1.3 5.8-6.7-5.2z"/>
<path class="af" d="M1280.7 565.1l2.6-3.7 1.8-3.7 1.2-3.7-1.6 5.6-1.8 3.8-2.6 3.9z"/>
<path class="o" d="M1218.3 414l.3 3.8 .5 3.9 .7 3.7-7.3 .4-14.6 1-1-4.4-.8-4.4-.4-4.5 15 .2z"/>
<path class="ai" d="M1259.9 498l5.2 4.5 .4 5.2-6.8-3.6z"/>
<path class="q" d="M1156.2 432.3l2.1 5.5 2.5 5.3 3 5.1-6.2 1.7-12 3.7-3.5-5.6-2.9-5.7-2.5-6 12.9-2.7z"/>
<path class="ac" d="M1254.7 466.4l2.9 7.1-6.3 6.4-5.9-7.1z"/>
<path class="m" d="M1265 408.6l-4.3 16-7.8-5.6 4.1 6.9 5 5.8z"/>
<path class="y" d="M1116.8 603.3l9.2 2.4 9.4 1.9 9.7 1.5 2.1 1 4.6 1.8-9.1-1.1-8.8-1.6-8.7-2-5.7-2.5z"/>
<path class="v" d="M1071.7 574.5l8.8 4.8 9.3 4.3 9.8 3.9 1.3 2 3.1 3.9-9.6-3.5-9.1-4-8.5-4.4-3.6-4.6z"/>
<path class="af" d="M1276.7 532.5l2-1 1.4-1 .8-1 1.3 3.3-.8 1.3-1.5 1.4-2.1 1.4z"/>
<path class="t" d="M1056.2 506l6.5 7 7.2 6.5 8 6.2-2 2.9-3.4 5.8-8.2-6.2-7.4-6.5-6.7-7 3.8-5.8z"/>
<path class="ah" d="M1266 513l5.5 1.9 1.5 4.3-6.6-.8z"/>
<path class="af" d="M1280.9 562.5l2.6-3.5 1.9-3.5 1.1-3.4-.2 1.9-1.2 3.7-1.8 3.7-2.6 3.7z"/>
<path class="m" d="M1241.7 406.1l-.2 3.2-.1 6.3-7.7-.7-15.4-.9-.1-3.9 .2-3.9 .3-3.9 15.3 2.4z"/>
<path class="r" d="M1176.6 429.2l1.8 4.9 2 4.7 2.5 4.7-19.1 4.7-3-5.1-2.5-5.3-2.1-5.5 13.5-2.2z"/>
<path class="af" d="M1277.8 536.9l2.1-1.4 1.5-1.4 .8-1.3 1.2 3.1-.9 1.8-1.6 1.7-2.2 1.7z"/>
<path class="ag" d="M1232.9 604l6.9-2.7 6.3-3 6.8-3.8-5.4 3.3-5.9 3-6.2 2.8z"/>
<path class="af" d="M1280.9 559.6l2.6-3.2 1.9-3.3 1.1-3.3 0 2.3-1.1 3.4-1.9 3.5-2.6 3.5z"/>
<path class="aa" d="M1251.7 458.9l3 7.5-9.3 6.4-6.2-7.9z"/>
<path class="m" d="M1265 408.6l-5.6 9.2-10.7-5.2 4.2 6.4 7.8 5.6z"/>
<path class="ai" d="M1251.3 594.9l5.9-3.4 5.2-3.6 4.7-3.8-.4 .1-4.3 3.8-4.9 3.6-5.4 3.4z"/>
<path class="ac" d="M1185.3 614l8.5-.8 8.3-1.2 8.1-1.5 4.4-.1-7.5 1.6-7.6 1.4-7.8 1z"/>
<path class="r" d="M1197.9 426.8l1.3 4.4 1.6 4.2 1.9 4.1-19.8 4-2.5-4.7-2-4.7-1.8-4.9 14.1-1.7z"/>
<path class="ah" d="M1267.7 582.3l4.5-3.9 3.8-3.9 3.1-4-3.8 5.1-3.6 3.9-4.3 3.9z"/>
<path class="af" d="M1278.7 541.1l2.2-1.7 1.6-1.7 .9-1.8 1.1 3.1-1 2.1-1.7 2.1-2.4 2.1z"/>
<path class="o" d="M1241.4 415.6l.2 3.1 .6 6.2-7.5 .1-14.9 .4-.7-3.7-.5-3.9-.3-3.8 15.4 .9z"/>
<path class="af" d="M1280.8 556.4l2.6-3 1.8-3 1.1-3 .2 2.4-1.1 3.3-1.9 3.3-2.6 3.2z"/>
<path class="af" d="M1279.4 545.3l2.4-2.1 1.7-2.1 1-2.1 .8 3-1.1 2.4-1.7 2.4-2.5 2.4z"/>
<path class="t" d="M1064 497.5l6.3 6.9 7 6.5 7.7 6.2-2.6 2.9-4.5 5.7-8-6.2-7.2-6.5-6.5-7 5-5.7z"/>
<path class="af" d="M1280.5 553l2.5-2.8 1.8-2.7 1.1-2.7 .4 2.6-1.1 3-1.8 3-2.6 3z"/>
<path class="ae" d="M1251.3 479.9l5.4 6.5-3.5 6.4-8.1-6z"/>
<path class="r" d="M1219.8 425.4l.9 3.7 2.3 7.2-20.3 3.2-1.9-4.1-1.6-4.2-1.3-4.4 14.6-1z"/>
<path class="af" d="M1280 549.2l2.5-2.4 1.7-2.4 1.1-2.4 .6 2.8-1.1 2.7-1.8 2.7-2.5 2.8z"/>
<path class="ae" d="M1210.2 610.5l7.9-1.8 7.6-2.2 7.2-2.5 2.5-.4-6.7 2.6-6.9 2.2-7.2 2z"/>
<path class="y" d="M1248.7 451l3 7.9-12.5 6-6.1-8.7z"/>
<path class="aa" d="M1151.8 611.9l9.2 .7 9.3 .3 9.2-.1 1.8 .4 4 .8-8.6 .4-8.6 0-8.5-.4-5.3-1.3z"/>
<path class="q" d="M1242.2 424.9l1.5 9-20.7 2.4-2.3-7.2-.9-3.7 14.9-.4z"/>
<path class="ah" d="M1266.4 518.4l6.6 .8 1.3 4.4-7.5 .4z"/>
<path class="ai" d="M1258.7 504.1l6.8 3.6 .5 5.3-8.5-2.6z"/>
<path class="v" d="M1068.3 567.2l9 5 9.5 4.6 10 4.1 .8 2.3 2 4.3-9.8-3.9-9.3-4.3-8.8-4.8-2.4-4.8z"/>
<path class="v" d="M1246 442.7l2.7 8.3-15.6 5.2-3.8-6.3-1.7-3.3z"/>
<path class="t" d="M1243.7 433.9l2.3 8.8-18.4 3.9-3.2-6.8-1.4-3.5z"/>
<path class="m" d="M1265 408.6l-6.9 2.4-13.5-4.4 4.1 6 10.7 5.2z"/>
<path class="ag" d="M1253.2 492.8l6.7 5.2-1.2 6.1-9-4.4z"/>
<path class="t" d="M1073.7 489.2l6 6.7 6.7 6.5 7.3 6.1-3.1 2.8-5.6 5.8-7.7-6.2-7-6.5-6.3-6.9 6.2-5.6z"/>
<path class="ah" d="M1268 580.6l4.6-3.7 4-3.9 3.2-3.9-.7 1.4-3.1 4-3.8 3.9-4.5 3.9z"/>
<path class="y" d="M1109.7 598.7l9.6 2.7 9.9 2.3 10.1 1.8 1.8 1.3 4 2.3-9.7-1.5-9.4-1.9-9.2-2.4-4.8-3z"/>
<path class="ac" d="M1245.4 472.8l5.9 7.1-6.2 6.9-9-7.1z"/>
<path class="t" d="M1223 436.3l1.4 3.5 3.2 6.8-18.1 4.7-2.5-3.8-2.3-3.9-2-4.1z"/>
<path class="ai" d="M1250.7 594.1l6.2-3.3 5.6-3.6 4.9-3.8-.3 .7-4.7 3.8-5.2 3.6-5.9 3.4z"/>
<path class="ah" d="M1266.8 524l7.5-.4 1.3 4.5-5.1 1.1-3.3 .4z"/>
<path class="t" d="M1085 481.1l5.7 6.6 6.4 6.3 6.9 6-3.6 2.8-6.7 5.7-7.3-6.1-6.7-6.5-6-6.7 7.4-5.4z"/>
<path class="ag" d="M1230.8 603.8l7.3-2.7 6.9-3 6.3-3.2 .8 .1-6 3.3-6.3 3-6.9 2.7z"/>
<path class="t" d="M1202.7 439.5l2 4.1 2.3 3.9 2.5 3.8-17.7 5.3-3.2-4.2-3-4.4-2.7-4.5z"/>
<path class="aa" d="M1239.2 464.9l6.2 7.9-9.3 6.9-9.3-8.3z"/>
<path class="v" d="M1066.7 559.4l9 5.3 9.6 4.8 10.1 4.4 .3 2.4 1.1 4.6-10-4.1-9.5-4.6-9-5-1.2-5.2z"/>
<path class="v" d="M1227.6 446.6l1.7 3.3 3.8 6.3-15.4 5.8-5.6-7-2.6-3.7z"/>
<path class="t" d="M1098 473.5l5.4 6.4 5.9 6.1 6.4 5.8-4 2.7-7.7 5.5-6.9-6-6.4-6.3-5.7-6.6 8.5-5.1z"/>
<path class="ah" d="M1268.2 578.4l4.8-3.6 4-3.7 3.3-3.8-.5 1.8-3.2 3.9-4 3.9-4.6 3.7z"/>
<path class="ai" d="M1257.5 510.4l8.5 2.6 .4 5.4-10-1.5z"/>
<path class="ac" d="M1179.5 612.8l9.1-.6 9-1 8.8-1.3 3.8 .6-8.1 1.5-8.3 1.2-8.5 .8-4-.8z"/>
<path class="y" d="M1233.1 456.2l6.1 8.7-12.4 6.5-6.1-6.1-3-3.3z"/>
<path class="t" d="M1182.9 443.5l2.7 4.5 3 4.4 3.2 4.2-17.1 6-4-4.6-3.6-4.8-3.3-5z"/>
<path class="t" d="M1112.5 466.3l4.9 6.1 5.5 5.9 5.9 5.6-8.9 5.2-4.2 2.7-6.4-5.8-5.9-6.1-5.4-6.4 9.5-4.8z"/>
<path class="ae" d="M1245.1 486.8l8.1 6-3.5 6.9-10.7-5.6z"/>
<path class="ah" d="M1267.2 529.6l3.3-.4 5.1-1.1 1.1 4.4-2.5 1-3 .8-3.7 .8z"/>
<path class="t" d="M1163.8 448.2l3.3 5 3.6 4.8 4 4.6-16.3 6.6-4.6-5-4.3-5.2-3.9-5.4 12-3.7z"/>
<path class="ae" d="M1206.4 609.9l8.4-1.7 8.2-2.1 7.8-2.3 2.1 .2-7.2 2.5-7.6 2.2-7.9 1.8z"/>
<path class="t" d="M1128.4 459.7l4.5 5.8 4.8 5.5 5.4 5.3-9.7 5-4.6 2.6-5.9-5.6-5.5-5.9-4.9-6.1 10.5-4.5z"/>
<path class="aa" d="M1145.1 609.1l9.7 1 9.8 .5 9.8 .1 1.6 .8 3.5 1.3-9.2 .1-9.3-.3-9.2-.7-4.6-1.8z"/>
<path class="t" d="M1145.6 453.6l3.9 5.4 4.3 5.2 4.6 5-15.3 7.1-5.4-5.3-4.8-5.5-4.5-5.8 11.3-4.1z"/>
<path class="ag" d="M1249.7 499.7l9 4.4-1.2 6.3-11.1-3.7z"/>
<path class="ah" d="M1268.3 575.7l4.9-3.4 4.1-3.6 3.4-3.6-.4 2.2-3.3 3.8-4 3.7-4.8 3.6z"/>
<path class="y" d="M1104 593.4l9.9 3.1 10.3 2.5 10.5 2.1 1.4 1.5 3.2 2.9-10.1-1.8-9.9-2.3-9.6-2.7-4-3.4z"/>
<path class="ai" d="M1250.2 592.8l6.5-3.3 5.8-3.5 5.2-3.7-.3 1.1-4.9 3.8-5.6 3.6-6.2 3.3z"/>
<path class="v" d="M1066.9 551.3l9 5.5 9.6 5 10.1 4.6-.3 2.5 .1 5-10.1-4.4-9.6-4.8-9-5.3-.1-5.4z"/>
<path class="v" d="M1209.5 451.3l2.6 3.7 5.6 7-15 6.4-3.8-3.8-3.7-3.9-3.4-4.1z"/>
<path class="ah" d="M1267.5 535.1l3.7-.8 3-.8 2.5-1 1.1 4.4-2.7 1.3-3.4 1.2-3.9 1.2z"/>
<path class="ac" d="M1236.1 479.7l9 7.1-6.1 7.3-11.9-7z"/>
<path class="ah" d="M1268.4 572.6l4.9-3.3 4.2-3.3 3.4-3.5-.2 2.6-3.4 3.6-4.1 3.6-4.9 3.4z"/>
<path class="ag" d="M1228.9 602.8l7.8-2.6 7.3-2.9 6.7-3.2 .6 .8-6.3 3.2-6.9 3-7.3 2.7z"/>
<path class="ai" d="M1256.4 516.9l10 1.5 .4 5.6-7.2-.2-4.3-.4z"/>
<path class="ah" d="M1267.8 540.6l3.9-1.2 3.4-1.2 2.7-1.3 .9 4.2-2.9 1.7-3.6 1.6-4.2 1.5z"/>
<path class="y" d="M1217.7 462l3 3.3 6.1 6.1-12.1 7.1-8.1-6.6-3.9-3.5z"/>
<path class="aa" d="M1226.8 471.4l9.3 8.3-9 7.4-8.3-5.6-4.1-3z"/>
<path class="ah" d="M1268.5 569l4.9-3 4.1-3.1 3.4-3.3 0 2.9-3.4 3.5-4.2 3.3-4.9 3.3z"/>
<path class="v" d="M1191.8 456.6l3.4 4.1 3.7 3.9 3.8 3.8-14.6 6.9-4.6-4-4.5-4.2-4.3-4.5z"/>
<path class="v" d="M1068.8 542.9l8.9 5.7 9.5 5.2 10 4.7-.7 2.6-.9 5.3-10.1-4.6-9.6-5-9-5.5 1-5.6z"/>
<path class="ah" d="M1268 545.9l4.2-1.5 3.6-1.6 2.9-1.7 .7 4.2-3 2-3.8 2-4.4 1.8z"/>
<path class="ac" d="M1174.4 610.7l9.7-.3 9.6-.7 9.3-1.2 1 .6 2.4 .8-8.8 1.3-9 1-9.1 .6-3.5-1.3z"/>
<path class="ai" d="M1249.8 590.8l6.7-3.2 6.1-3.4 5.4-3.6-.3 1.7-5.2 3.7-5.8 3.5-6.5 3.3z"/>
<path class="ah" d="M1268.5 565l4.8-2.7 4.1-2.9 3.4-3 .1 3.2-3.4 3.3-4.1 3.1-4.9 3z"/>
<path class="ae" d="M1239 494.1l10.7 5.6-3.3 7-13.3-5.1z"/>
<path class="aj" d="M1139.3 605.5l10.3 1.3 10.3 .8 10.2 .3 1.4 1.1 2.9 1.7-9.8-.1-9.8-.5-9.7-1-4-2.3z"/>
<path class="y" d="M1099.6 587.5l10.3 3.3 10.5 2.9 10.8 2.3 1 1.8 2.5 3.3-10.5-2.1-10.3-2.5-9.9-3.1-3.1-3.9z"/>
<path class="ah" d="M1268.2 551.1l4.4-1.8 3.8-2 3-2 .6 3.9-3.1 2.4-3.9 2.3-4.6 2.1z"/>
<path class="ag" d="M1246.4 506.7l11.1 3.7-1.1 6.5-13.3-2.9z"/>
<path class="ae" d="M1203 608.5l9-1.6 8.6-1.9 8.3-2.2 1.9 1-7.8 2.3-8.2 2.1-8.4 1.7-2.4-.8z"/>
<path class="ah" d="M1268.5 560.7l4.7-2.5 4-2.6 3.3-2.6 .3 3.4-3.4 3-4.1 2.9-4.8 2.7z"/>
<path class="ah" d="M1268.4 556l4.6-2.1 3.9-2.3 3.1-2.4 .5 3.8-3.3 2.6-4 2.6-4.7 2.5z"/>
<path class="ai" d="M1255.3 523.4l4.3 .4 7.2 .2 .4 5.6-8.2 .4-4.8 .1z"/>
<path class="v" d="M1174.7 462.6l4.3 4.5 4.5 4.2 4.6 4-13.9 7.4-5.5-4.2-5.3-4.5-5-4.8z"/>
<path class="v" d="M1072.5 534.4l8.7 5.7 9.4 5.3 9.8 4.8-1.2 2.8-2 5.5-10-4.7-9.5-5.2-8.9-5.7 2.2-5.7z"/>
<path class="ag" d="M1227.3 601.1l8.2-2.5 7.6-2.8 7.1-3 .5 1.3-6.7 3.2-7.3 2.9-7.8 2.6z"/>
<path class="y" d="M1202.7 468.4l3.9 3.5 8.1 6.6-11.7 7.5-5-3.3-5-3.6-4.9-3.8z"/>
<path class="ai" d="M1249.5 588.2l6.9-3.1 6.2-3.2 5.6-3.5-.2 2.2-5.4 3.6-6.1 3.4-6.7 3.2z"/>
<path class="ac" d="M1227.1 487.1l11.9 7-5.9 7.5-9.8-4.3-5-2.5z"/>
<path class="v" d="M1158.4 469.2l5 4.8 5.3 4.5 5.5 4.2-13.1 7.9-6.3-4.5-6-4.8-5.7-5z"/>
<path class="v" d="M1077.9 525.7l8.5 5.8 9.1 5.4 9.6 4.9-1.7 2.8-3 5.6-9.8-4.8-9.4-5.3-8.7-5.7 3.4-5.8z"/>
<path class="aa" d="M1214.7 478.5l4.1 3 8.3 5.6-8.8 7.7-10.2-5.6-5.1-3.2z"/>
<path class="ai" d="M1254.2 530.1l4.8-.1 8.2-.4 .3 5.5-4.2 .7-4.7 .5-5.3 .3z"/>
<path class="y" d="M1096.8 580.9l10.4 3.7 10.7 3.1 11 2.6 .6 2 1.7 3.7-10.8-2.3-10.5-2.9-10.3-3.3-2-4.3z"/>
<path class="ag" d="M1243.1 514l13.3 2.9-1.1 6.5-9.8-1.1-5.4-.9z"/>
<path class="ac" d="M1170.1 607.9l10.2 0 10-.6 9.8-1 .9 .8 2 1.4-9.3 1.2-9.6 .7-9.7 .3-2.9-1.7z"/>
<path class="ae" d="M1233.1 501.6l13.3 5.1-3.3 7.3-10.2-2.8-5.5-1.7z"/>
<path class="aa" d="M1134.7 601.1l10.6 1.6 10.7 1.1 10.7 .6 1 1.3 2.4 2.2-10.2-.3-10.3-.8-10.3-1.3-3.2-2.9z"/>
<path class="v" d="M1143.1 476.3l5.7 5 6 4.8 6.3 4.5-12.2 8.1-7.1-4.6-6.7-5-6.3-5.2 4.6-2.6z"/>
<path class="v" d="M1085 517.1l8.2 5.7 8.8 5.4 9.3 5-2.2 2.8-4 5.8-9.6-4.9-9.1-5.4-8.5-5.8 4.5-5.7z"/>
<path class="ae" d="M1200.1 606.3l9.4-1.3 9.1-1.8 8.7-2.1 1.6 1.7-8.3 2.2-8.6 1.9-9 1.6-2-1.4z"/>
<path class="ai" d="M1249.4 585l7-2.9 6.3-3.1 5.6-3.3-.1 2.7-5.6 3.5-6.2 3.2-6.9 3.1z"/>
<path class="v" d="M1128.8 483.9l6.3 5.2 6.7 5 7.1 4.6-11.2 8.5-7.7-4.8-7.4-5.2-6.9-5.4 4.2-2.7z"/>
<path class="v" d="M1093.7 508.5l7.9 5.7 8.4 5.3 8.8 5-2.7 2.9-4.8 5.8-9.3-5-8.8-5.4-8.2-5.7 5.6-5.8z"/>
<path class="ag" d="M1226 598.6l8.5-2.3 8-2.6 7.3-2.9 .4 2-7.1 3-7.6 2.8-8.2 2.5z"/>
<path class="y" d="M1188.1 475.3l4.9 3.8 5 3.6 5 3.3-11.2 8-6-3.5-5.8-3.8-5.8-4z"/>
<path class="ai" d="M1253.3 536.6l5.3-.3 4.7-.5 4.2-.7 .3 5.5-4.5 1-5.2 .9-5.7 .7z"/>
<path class="v" d="M1115.7 491.8l6.9 5.4 7.4 5.2 7.7 4.8-10.1 8.6-8.3-4.9-7.9-5.3-7.4-5.6 7.7-5.5z"/>
<path class="v" d="M1104 500l7.4 5.6 7.9 5.3 8.3 4.9-6 5.7-2.8 3-8.8-5-8.4-5.3-7.9-5.7 6.7-5.7z"/>
<path class="ai" d="M1249.3 581.2l7.1-2.6 6.4-2.9 5.6-3.1-.1 3.1-5.6 3.3-6.3 3.1-7 2.9z"/>
<path class="y" d="M1095.4 573.9l10.5 3.9 10.8 3.3 11.1 2.9 .2 2.1 .9 4.2-11-2.6-10.7-3.1-10.4-3.7-1.1-4.6z"/>
<path class="ac" d="M1218.3 494.8l5 2.5 9.8 4.3-5.7 7.9-11.5-4.2-6-2.5z"/>
<path class="ag" d="M1240.1 521.4l5.4 .9 9.8 1.1-1.1 6.7-10.9-.6-6.1-.6z"/>
<path class="ai" d="M1252.4 543.2l5.7-.7 5.2-.9 4.5-1 .2 5.3-4.8 1.4-5.5 1.2-6 1z"/>
<path class="aa" d="M1203 486l5.1 3.2 10.2 5.6-8.4 8-6-2.7-6.1-2.9-6-3.2z"/>
<path class="ai" d="M1249.4 577l7.1-2.5 6.4-2.6 5.6-2.9-.1 3.6-5.6 3.1-6.4 2.9-7.1 2.6z"/>
<path class="aa" d="M1131.2 596l10.9 1.9 11 1.3 11 .9 .8 1.5 1.8 2.8-10.7-.6-10.7-1.1-10.6-1.6-2.5-3.3z"/>
<path class="y" d="M1174.2 482.7l5.8 4 5.8 3.8 6 3.5-10.6 8.2-6.8-3.6-6.7-3.9-6.6-4.1z"/>
<path class="ae" d="M1227.4 509.5l5.5 1.7 10.2 2.8-3 7.4-11.8-2.4-6.3-1.5z"/>
<path class="ac" d="M1166.7 604.4l10.5 .1 10.4-.3 10.2-.8 .7 1.1 1.6 1.8-9.8 1-10 .6-10.2 0-2.4-2.2z"/>
<path class="ae" d="M1197.8 603.4l9.8-1.2 9.4-1.6 9-2 1.3 2.5-8.7 2.1-9.1 1.8-9.4 1.3-1.6-1.8z"/>
<path class="ag" d="M1225.1 595.6l8.7-2.2 8.2-2.5 7.5-2.7 .3 2.6-7.3 2.9-8 2.6-8.5 2.3z"/>
<path class="ai" d="M1251.7 549.5l6-1 5.5-1.2 4.8-1.4 .2 5.2-5.1 1.7-5.7 1.5-6.4 1.4z"/>
<path class="ai" d="M1249.6 572.2l7-2.1 6.3-2.5 5.6-2.6 0 4-5.6 2.9-6.4 2.6-7.1 2.5z"/>
<path class="y" d="M1095.6 566.4l10.5 4 10.8 3.6 11.1 3.1-.2 2.3 0 4.6-11.1-2.9-10.8-3.3-10.5-3.9-.1-5z"/>
<path class="ai" d="M1251 555.7l6.4-1.4 5.7-1.5 5.1-1.7 .2 4.9-5.3 2.1-6 1.8-6.7 1.6z"/>
<path class="ai" d="M1250 567.1l6.8-1.9 6.2-2.2 5.5-2.3 0 4.3-5.6 2.6-6.3 2.5-7 2.1z"/>
<path class="ai" d="M1250.4 561.5l6.7-1.6 6-1.8 5.3-2.1 .1 4.7-5.5 2.3-6.2 2.2-6.8 1.9z"/>
<path class="ag" d="M1237.2 528.9l6.1 .6 10.9 .6-.9 6.5-5.8 .2-6.2-.1-6.7-.3z"/>
<path class="y" d="M1161.1 490.6l6.6 4.1 6.7 3.9 6.8 3.6-9.9 8.5-7.6-3.7-7.5-3.9-7.3-4.4z"/>
<path class="ac" d="M1209.9 502.8l6 2.5 11.5 4.2-5.4 8-6.5-1.9-6.7-2.1-6.8-2.4z"/>
<path class="aa" d="M1191.8 494l6 3.2 6.1 2.9 6 2.7-7.9 8.3-6.9-2.6-7-3-6.9-3.3z"/>
<path class="ag" d="M1224.5 591.8l8.9-1.9 8.3-2.3 7.7-2.6 .1 3.2-7.5 2.7-8.2 2.5-8.7 2.2z"/>
<path class="y" d="M1097.2 558.5l10.5 4.2 10.7 3.7 11 3.3-.6 2.5-.8 4.9-11.1-3.1-10.8-3.6-10.5-4 .9-5.3z"/>
<path class="aa" d="M1128.9 590.3l11.1 2.1 11.2 1.6 11.2 1.1 .5 1.7 1.2 3.3-11-.9-11-1.3-10.9-1.9-1.7-3.7z"/>
<path class="ae" d="M1222 517.5l6.3 1.5 11.8 2.4-2.9 7.5-6.4-.8-6.8-1.1-7-1.4z"/>
<path class="ae" d="M1196.1 599.8l10.1-1 9.7-1.4 9.2-1.8 .9 3-9 2-9.4 1.6-9.8 1.2z"/>
<path class="ac" d="M1164.1 600.1l10.9 .3 10.6-.1 10.5-.5 1.7 3.6-10.2 .8-10.4 .3-10.5-.1-1.8-2.8z"/>
<path class="y" d="M1148.9 498.7l7.3 4.4 7.5 3.9 7.6 3.7-9 8.6-8.4-3.7-8.2-4-8-4.4z"/>
<path class="ag" d="M1234.6 536.4l6.7 .3 6.2 .1 5.8-.2-.9 6.6-6.2 .4-6.8 .2-7.2 0z"/>
<path class="y" d="M1100.4 550.2l10.3 4.4 10.5 3.9 10.8 3.4-1 2.6-1.6 5.2-11-3.3-10.7-3.7-10.5-4.2 2-5.5z"/>
<path class="ag" d="M1224.3 587.5l8.9-1.8 8.4-2.1 7.7-2.4 .1 3.8-7.7 2.6-8.3 2.3-8.9 1.9z"/>
<path class="aa" d="M1181.2 502.2l6.9 3.3 7 3 6.9 2.6-7.5 8.5-7.7-2.6-7.7-3-7.8-3.3z"/>
<path class="y" d="M1137.7 507.2l8 4.4 8.2 4 8.4 3.7-8.2 8.7-9-3.7-8.9-4.1-8.6-4.4z"/>
<path class="ac" d="M1202 511.1l6.8 2.4 6.7 2.1 6.5 1.9-5 8.1-7.3-1.7-7.5-2-7.7-2.3z"/>
<path class="y" d="M1105.1 541.8l10 4.4 10.2 4 10.5 3.5-1.4 2.8-2.4 5.4-10.8-3.4-10.5-3.9-10.3-4.4 3-5.6z"/>
<path class="ag" d="M1232.2 543.8l7.2 0 6.8-.2 6.2-.4-.7 6.3-6.7 .8-7.2 .5-7.7 .2z"/>
<path class="aa" d="M1127.8 584l11.3 2.3 11.2 1.8 11.3 1.3 .2 2 .6 3.7-11.2-1.1-11.2-1.6-11.1-2.1-.9-4.2z"/>
<path class="y" d="M1127.6 515.8l8.6 4.4 8.9 4.1 9 3.7-7.2 8.7-9.6-3.6-9.4-4.1-9.1-4.5 2.8-3z"/>
<path class="ae" d="M1217 525.6l7 1.4 6.8 1.1 6.4 .8-2.6 7.5-7.1-.6-7.4-.9-7.8-1.2z"/>
<path class="y" d="M1111.3 533.2l9.5 4.5 9.9 4 10.1 3.6-5 8.4-10.5-3.5-10.2-4-10-4.4 4-5.8z"/>
<path class="ae" d="M1194.9 595.4l10.3-.8 9.9-1.2 9.4-1.6 .6 3.8-9.2 1.8-9.7 1.4-10.1 1z"/>
<path class="y" d="M1118.8 524.5l9.1 4.5 9.4 4.1 9.6 3.6-6.1 8.6-10.1-3.6-9.9-4-9.5-4.5 4.8-5.8z"/>
<path class="ag" d="M1224.4 582.5l8.9-1.5 8.4-1.9 7.7-2.1-.1 4.2-7.7 2.4-8.4 2.1-8.9 1.8z"/>
<path class="ac" d="M1162.4 595.1l11.1 .6 10.8 .1 10.6-.4 1.2 4.4-10.5 .5-10.6 .1-10.9-.3-1.2-3.3z"/>
<path class="ag" d="M1230.1 551l7.7-.2 7.2-.5 6.7-.8-.7 6.2-7 1-7.6 .8-8.1 .5z"/>
<path class="ag" d="M1224.8 577.1l8.9-1.3 8.3-1.6 7.6-2-.2 4.8-7.7 2.1-8.4 1.9-8.9 1.5z"/>
<path class="aa" d="M1171.3 510.7l7.8 3.3 7.7 3 7.7 2.6-6.8 8.5-8.5-2.5-8.5-3-8.4-3.3z"/>
<path class="ag" d="M1228.3 558l8.1-.5 7.6-.8 7-1-.6 5.8-7.3 1.4-7.8 1.1-8.5 .8z"/>
<path class="aa" d="M1128 577.1l11.2 2.5 11.3 2 11.3 1.6-.2 2.1 0 4.1-11.3-1.3-11.2-1.8-11.3-2.3 0-4.6z"/>
<path class="ag" d="M1225.7 571.1l8.6-1 8.2-1.4 7.5-1.6-.4 5.1-7.6 2-8.3 1.6-8.9 1.3z"/>
<path class="ac" d="M1194.5 519.6l7.7 2.3 7.5 2 7.3 1.7-4.7 8.1-8-1.5-8.2-1.9-8.4-2.2z"/>
<path class="ag" d="M1226.8 564.8l8.5-.8 7.8-1.1 7.3-1.4-.4 5.6-7.5 1.6-8.2 1.4-8.6 1z"/>
<path class="ae" d="M1212.3 533.7l7.8 1.2 7.4 .9 7.1 .6-2.4 7.4-7.6-.4-8.1-.6-8.3-1z"/>
<path class="ae" d="M1194.5 590.4l10.3-.5 10-1 9.5-1.4 .2 4.3-9.4 1.6-9.9 1.2-10.3 .8z"/>
<path class="ac" d="M1161.6 589.4l11.2 .8 11 .4 10.7-.2 .4 5-10.6 .4-10.8-.1-11.1-.6-.6-3.7z"/>
<path class="aa" d="M1162.3 519.3l8.4 3.3 8.5 3 8.5 2.5-6.1 8.6-9.2-2.5-9.2-2.9-9.1-3.3z"/>
<path class="aa" d="M1129.4 569.7l11.1 2.7 11.2 2.2 11.1 1.8-1 6.8-11.3-1.6-11.3-2-11.2-2.5 .8-4.9z"/>
<path class="ae" d="M1208.2 541.8l8.3 1 8.1 .6 7.6 .4-2.1 7.2-8.1-.1-8.6-.4-8.9-.8z"/>
<path class="ae" d="M1194.6 584.8l10.4-.3 9.9-.8 9.5-1.2-.1 5-9.5 1.4-10 1-10.3 .5z"/>
<path class="ac" d="M1187.7 528.1l8.4 2.2 8.2 1.9 8 1.5-4.1 8.1-8.7-1.4-8.9-1.7-9-2z"/>
<path class="aa" d="M1154.1 528l9.1 3.3 9.2 2.9 9.2 2.5-5.4 8.4-9.8-2.4-9.7-2.8-9.8-3.2z"/>
<path class="aa" d="M1132 561.9l10.9 2.9 11 2.4 10.9 1.9-2 7.3-11.1-1.8-11.2-2.2-11.1-2.7 1.6-5.2z"/>
<path class="ac" d="M1161.8 583.2l11.1 1 11 .5 10.7 .1-.1 5.6-10.7 .2-11-.4-11.2-.8 0-4.1z"/>
<path class="aa" d="M1146.9 536.7l9.8 3.2 9.7 2.8 9.8 2.4-4.7 8.3-10.2-2.3-10.3-2.7-10.2-3.1z"/>
<path class="ae" d="M1204.5 549.7l8.9 .8 8.6 .4 8.1 .1-1.8 7-8.6 .2-9-.2-9.4-.5z"/>
<path class="ae" d="M1195.4 578.7l10.2-.2 9.9-.5 9.3-.9-.4 5.4-9.5 1.2-9.9 .8-10.4 .3z"/>
<path class="aa" d="M1135.8 553.7l10.6 3 10.7 2.6 10.7 2.1-3 7.7-10.9-1.9-11-2.4-10.9-2.9 2.4-5.4z"/>
<path class="aa" d="M1140.8 545.3l10.2 3.1 10.3 2.7 10.2 2.3-3.7 8-10.7-2.1-10.7-2.6-10.6-3z"/>
<path class="ac" d="M1181.6 536.7l9 2 8.9 1.7 8.7 1.4-3.7 7.9-9.3-1.1-9.4-1.6-9.6-1.9z"/>
<path class="ae" d="M1201.3 557.5l9.4 .5 9 .2 8.6-.2-1.5 6.8-8.9 .4-9.4 .1-9.8-.4z"/>
<path class="ae" d="M1196.7 572l10.1 .1 9.7-.3 9.2-.7-.9 6-9.3 .9-9.9 .5-10.2 .2z"/>
<path class="ac" d="M1162.8 576.4l11.1 1.2 10.9 .8 10.6 .3-.8 6.1-10.7-.1-11-.5-11.1-1z"/>
<path class="ae" d="M1198.7 564.9l9.8 .4 9.4-.1 8.9-.4-1.1 6.3-9.2 .7-9.7 .3-10.1-.1z"/>
<path class="ac" d="M1176.2 545.1l9.6 1.9 9.4 1.6 9.3 1.1-3.2 7.8-9.7-1-9.9-1.3-10.2-1.8z"/>
<path class="ac" d="M1164.8 569.1l10.9 1.4 10.6 1 10.4 .5-1.3 6.7-10.6-.3-10.9-.8-11.1-1.2z"/>
<path class="ac" d="M1171.5 553.4l10.2 1.8 9.9 1.3 9.7 1-2.6 7.4-10.1-.7-10.3-1.2-10.5-1.6z"/>
<path class="ac" d="M1167.8 561.4l10.5 1.6 10.3 1.2 10.1 .7-2 7.1-10.4-.5-10.6-1-10.9-1.4z"/>
</g>
</svg>
<svg class="T" width="1600" height="1000" viewBox="0 0 1600 1000">
<text x="260.73" y="679.56" text-anchor="middle">−1.0</text>
<text x="306.75" y="694.74" text-anchor="middle">−0.5</text>
<text x="353.93" y="710.72" text-anchor="middle">0.0</text>
<text x="402.79" y="726.52" text-anchor="middle">0.5</text>
<text x="450.13" y="742.64" text-anchor="middle">1.0</text>
<text x="343.11" y="732.52" text-anchor="middle">x</text>
<text x="510.82" y="733.72" text-anchor="middle">−1.0</text>
<text x="536.68" y="705.64" text-anchor="middle">−0.5</text>
<text x="563.16" y="678.5" text-anchor="middle">0.0</text>
<text x="587.8" y="652.74" text-anchor="middle">0.5</text>
<text x="611.14" y="627.58" text-anchor="middle">1.0</text>
<text x="582.04" y="695.71" text-anchor="middle">y</text>
<text x="630.69" y="573.68" text-anchor="middle">−1.0</text>
<text x="632.86" y="528.65" text-anchor="middle">−0.5</text>
<text x="636.08" y="482.62" text-anchor="middle">0.0</text>
<text x="638.85" y="434.57" text-anchor="middle">0.5</text>
<text x="639.93" y="386.69" text-anchor="middle">1.0</text>
<text x="664.63" y="471.65" text-anchor="middle">z</text>
<text font-size="16.67" transform="translate(0 270.5) scale(1 1.1)"><tspan x="415.29" y="0">|</tspan><tspan x="419.9" y="0" font-style="italic">ψ</tspan><tspan x="430.9" y="0">|</tspan></text>
<text x="727.06" y="670.69">−150</text>
<text x="727.06" y="616.72">−100</text>
<text x="726.81" y="563.5">−50</text>
<text x="728.06" y="509.53">0</text>
<text x="726.31" y="456.55">50</text>
<text x="727.06" y="403.58">100</text>
<text x="727.06" y="349.61">150</text>
<text x="781.57" y="508" text-anchor="middle" transform="rotate(-90 781.57 508)">phase</text>
<text x="964.98" y="698.64" text-anchor="middle">−150</text>
<text x="1027.94" y="719.72" text-anchor="middle">−100</text>
<text x="1093.55" y="741.51" text-anchor="middle">−50</text>
<text x="1161.34" y="763.53" text-anchor="middle">0</text>
<text x="1050.99" y="750.61" text-anchor="middle">x</text>
<text x="1268" y="765.66" text-anchor="middle">−100</text>
<text x="1304.62" y="726.61" text-anchor="middle">−50</text>
<text x="1341.36" y="689.51" text-anchor="middle">0</text>
<text x="1373.8" y="653.52" text-anchor="middle">50</text>
<text x="1407.24" y="619.58" text-anchor="middle">100</text>
<text x="1361.09" y="703.55" text-anchor="middle">y</text>
<text x="1429.98" y="563.72" text-anchor="middle">−150</text>
<text x="1431" y="533.63" text-anchor="middle">−100</text>
<text x="1432.55" y="502.69" text-anchor="middle">−50</text>
<text x="1435.36" y="471.64" text-anchor="middle">0</text>
<text x="1435.68" y="440.73" text-anchor="middle">50</text>
<text x="1437.28" y="409.7" text-anchor="middle">100</text>
<text x="1439.4" y="377.55" text-anchor="middle">150</text>
<text x="1465.65" y="460.61" text-anchor="middle">z</text>
<text transform="translate(1158.2 214.6) scale(.98 1.1)" font-size="16.67" text-anchor="middle">phase</text>
</svg>
</body></html>
